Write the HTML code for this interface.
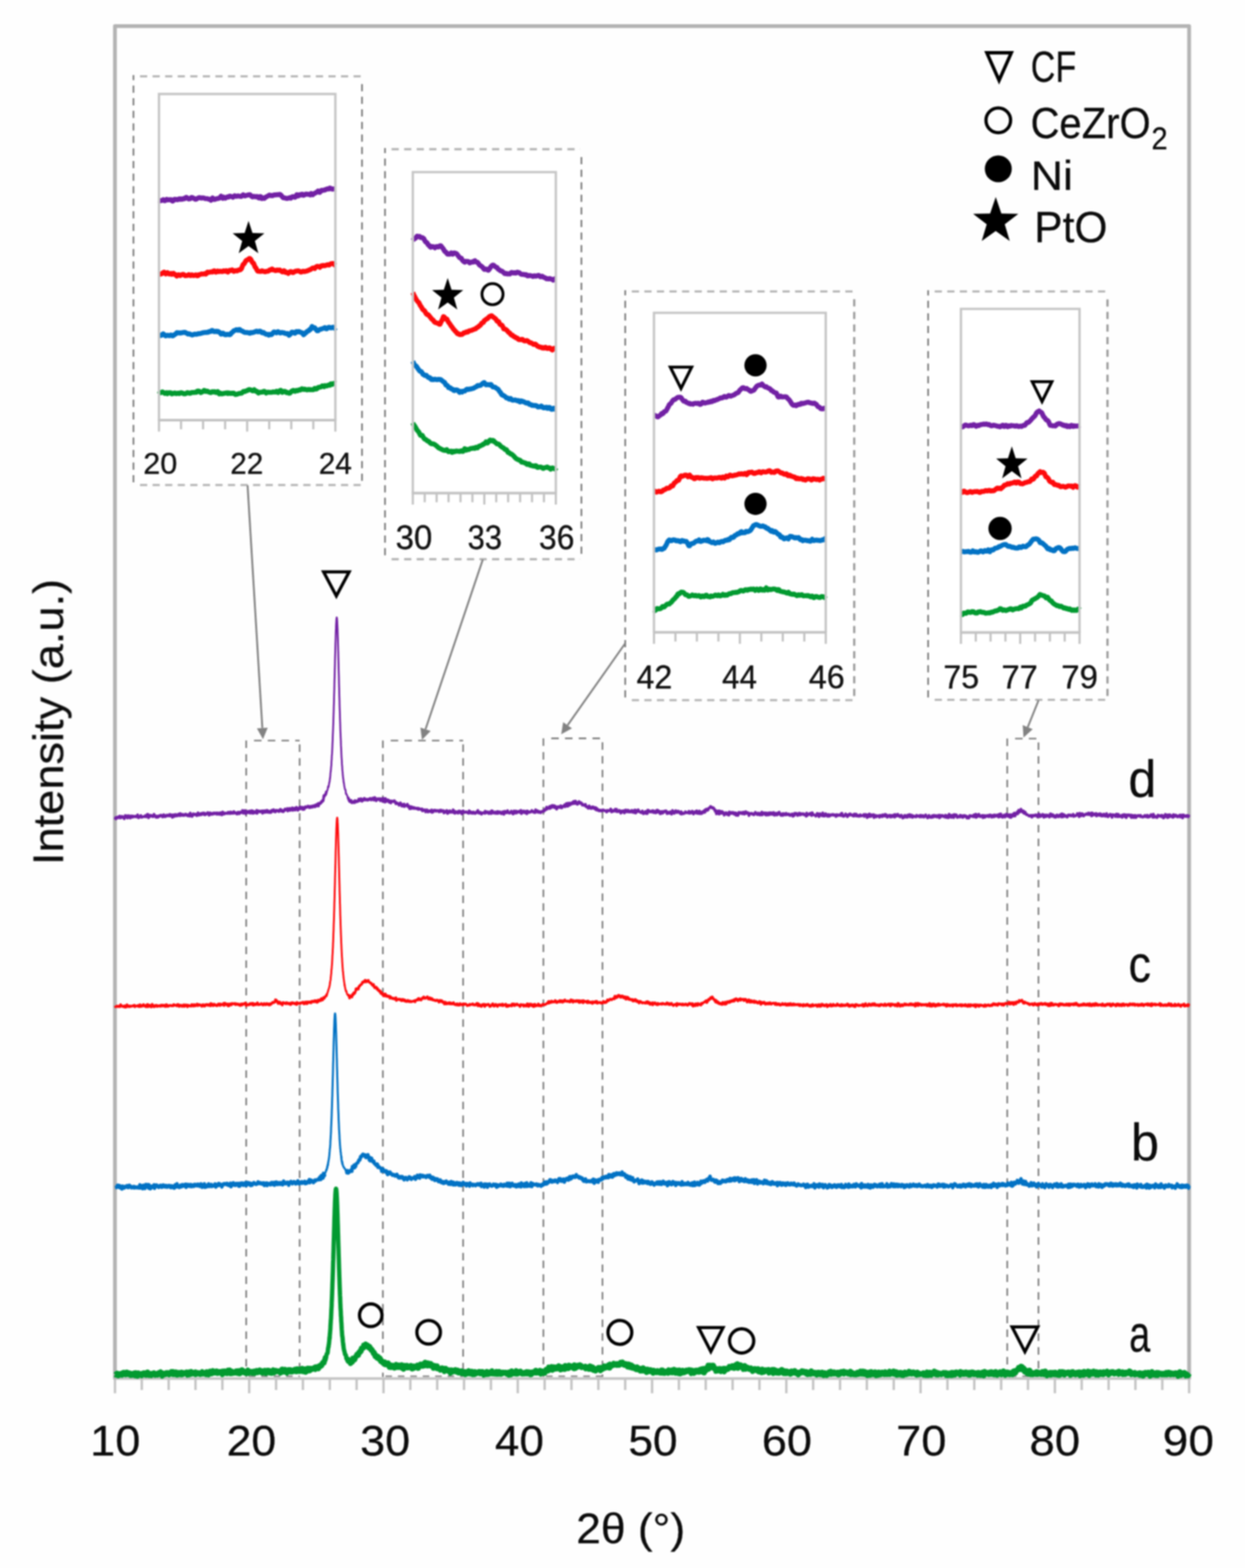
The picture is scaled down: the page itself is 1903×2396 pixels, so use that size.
<!DOCTYPE html>
<html lang="en">
<head>
<meta charset="utf-8">
<title>XRD patterns</title>
<style>
html,body{margin:0;padding:0;background:#fefefe;}
body{width:1903px;height:2396px;overflow:hidden;}
svg{display:block;}
#art{filter:blur(1.05px);}
text{white-space:pre;}
</style>
</head>
<body>
<svg width="1903" height="2396" viewBox="0 0 1903 2396">
<rect width="1903" height="2396" fill="#fefefe"/>
<g id="art">
<g id="boxes">
<line x1="376.3" y1="1131.6" x2="376.3" y2="2104" stroke="#787878" stroke-width="2.4" stroke-dasharray="11.5 9.5"/>
<line x1="458" y1="1137.6" x2="458" y2="2104" stroke="#787878" stroke-width="2.4" stroke-dasharray="11.5 9.5"/>
<line x1="388.3" y1="1131.6" x2="458" y2="1131.6" stroke="#787878" stroke-width="2.4" stroke-dasharray="11.5 9.5"/>
<line x1="380.3" y1="2103" x2="458" y2="2103" stroke="#8e8e8e" stroke-width="2.4" stroke-dasharray="10 9"/>
<line x1="585.2" y1="1131.6" x2="585.2" y2="2104" stroke="#787878" stroke-width="2.4" stroke-dasharray="11.5 9.5"/>
<line x1="707.9" y1="1137.6" x2="707.9" y2="2104" stroke="#787878" stroke-width="2.4" stroke-dasharray="11.5 9.5"/>
<line x1="597.2" y1="1131.6" x2="707.9" y2="1131.6" stroke="#787878" stroke-width="2.4" stroke-dasharray="11.5 9.5"/>
<line x1="589.2" y1="2103" x2="707.9" y2="2103" stroke="#8e8e8e" stroke-width="2.4" stroke-dasharray="10 9"/>
<line x1="830.6" y1="1128.2" x2="830.6" y2="2104" stroke="#787878" stroke-width="2.4" stroke-dasharray="11.5 9.5"/>
<line x1="920.9" y1="1134.2" x2="920.9" y2="2104" stroke="#787878" stroke-width="2.4" stroke-dasharray="11.5 9.5"/>
<line x1="842.6" y1="1128.2" x2="920.9" y2="1128.2" stroke="#787878" stroke-width="2.4" stroke-dasharray="11.5 9.5"/>
<line x1="834.6" y1="2103" x2="920.9" y2="2103" stroke="#8e8e8e" stroke-width="2.4" stroke-dasharray="10 9"/>
<line x1="1539.6" y1="1128.6" x2="1539.6" y2="2104" stroke="#787878" stroke-width="2.4" stroke-dasharray="11.5 9.5"/>
<line x1="1587.3" y1="1134.6" x2="1587.3" y2="2104" stroke="#787878" stroke-width="2.4" stroke-dasharray="11.5 9.5"/>
<line x1="1551.6" y1="1128.6" x2="1587.3" y2="1128.6" stroke="#787878" stroke-width="2.4" stroke-dasharray="11.5 9.5"/>
<line x1="1543.6" y1="2103" x2="1587.3" y2="2103" stroke="#8e8e8e" stroke-width="2.4" stroke-dasharray="10 9"/>
</g>
<g id="axes">
<line x1="173.7" y1="2106.4" x2="1819.6" y2="2106.4" stroke="#c3c3c3" stroke-width="4"/>
<line x1="175.7" y1="2106.4" x2="175.7" y2="2129" stroke="#c3c3c3" stroke-width="3.6"/>
<line x1="216.7" y1="2106.4" x2="216.7" y2="2124" stroke="#c3c3c3" stroke-width="3.6"/>
<line x1="257.8" y1="2106.4" x2="257.8" y2="2124" stroke="#c3c3c3" stroke-width="3.6"/>
<line x1="298.8" y1="2106.4" x2="298.8" y2="2124" stroke="#c3c3c3" stroke-width="3.6"/>
<line x1="339.9" y1="2106.4" x2="339.9" y2="2124" stroke="#c3c3c3" stroke-width="3.6"/>
<line x1="380.9" y1="2106.4" x2="380.9" y2="2129" stroke="#c3c3c3" stroke-width="3.6"/>
<line x1="422.0" y1="2106.4" x2="422.0" y2="2124" stroke="#c3c3c3" stroke-width="3.6"/>
<line x1="463.0" y1="2106.4" x2="463.0" y2="2124" stroke="#c3c3c3" stroke-width="3.6"/>
<line x1="504.1" y1="2106.4" x2="504.1" y2="2124" stroke="#c3c3c3" stroke-width="3.6"/>
<line x1="545.1" y1="2106.4" x2="545.1" y2="2124" stroke="#c3c3c3" stroke-width="3.6"/>
<line x1="586.2" y1="2106.4" x2="586.2" y2="2129" stroke="#c3c3c3" stroke-width="3.6"/>
<line x1="627.2" y1="2106.4" x2="627.2" y2="2124" stroke="#c3c3c3" stroke-width="3.6"/>
<line x1="668.3" y1="2106.4" x2="668.3" y2="2124" stroke="#c3c3c3" stroke-width="3.6"/>
<line x1="709.3" y1="2106.4" x2="709.3" y2="2124" stroke="#c3c3c3" stroke-width="3.6"/>
<line x1="750.4" y1="2106.4" x2="750.4" y2="2124" stroke="#c3c3c3" stroke-width="3.6"/>
<line x1="791.4" y1="2106.4" x2="791.4" y2="2129" stroke="#c3c3c3" stroke-width="3.6"/>
<line x1="832.5" y1="2106.4" x2="832.5" y2="2124" stroke="#c3c3c3" stroke-width="3.6"/>
<line x1="873.5" y1="2106.4" x2="873.5" y2="2124" stroke="#c3c3c3" stroke-width="3.6"/>
<line x1="914.6" y1="2106.4" x2="914.6" y2="2124" stroke="#c3c3c3" stroke-width="3.6"/>
<line x1="955.6" y1="2106.4" x2="955.6" y2="2124" stroke="#c3c3c3" stroke-width="3.6"/>
<line x1="996.7" y1="2106.4" x2="996.7" y2="2129" stroke="#c3c3c3" stroke-width="3.6"/>
<line x1="1037.7" y1="2106.4" x2="1037.7" y2="2124" stroke="#c3c3c3" stroke-width="3.6"/>
<line x1="1078.7" y1="2106.4" x2="1078.7" y2="2124" stroke="#c3c3c3" stroke-width="3.6"/>
<line x1="1119.8" y1="2106.4" x2="1119.8" y2="2124" stroke="#c3c3c3" stroke-width="3.6"/>
<line x1="1160.8" y1="2106.4" x2="1160.8" y2="2124" stroke="#c3c3c3" stroke-width="3.6"/>
<line x1="1201.9" y1="2106.4" x2="1201.9" y2="2129" stroke="#c3c3c3" stroke-width="3.6"/>
<line x1="1242.9" y1="2106.4" x2="1242.9" y2="2124" stroke="#c3c3c3" stroke-width="3.6"/>
<line x1="1284.0" y1="2106.4" x2="1284.0" y2="2124" stroke="#c3c3c3" stroke-width="3.6"/>
<line x1="1325.0" y1="2106.4" x2="1325.0" y2="2124" stroke="#c3c3c3" stroke-width="3.6"/>
<line x1="1366.1" y1="2106.4" x2="1366.1" y2="2124" stroke="#c3c3c3" stroke-width="3.6"/>
<line x1="1407.1" y1="2106.4" x2="1407.1" y2="2129" stroke="#c3c3c3" stroke-width="3.6"/>
<line x1="1448.2" y1="2106.4" x2="1448.2" y2="2124" stroke="#c3c3c3" stroke-width="3.6"/>
<line x1="1489.2" y1="2106.4" x2="1489.2" y2="2124" stroke="#c3c3c3" stroke-width="3.6"/>
<line x1="1530.3" y1="2106.4" x2="1530.3" y2="2124" stroke="#c3c3c3" stroke-width="3.6"/>
<line x1="1571.3" y1="2106.4" x2="1571.3" y2="2124" stroke="#c3c3c3" stroke-width="3.6"/>
<line x1="1612.4" y1="2106.4" x2="1612.4" y2="2129" stroke="#c3c3c3" stroke-width="3.6"/>
<line x1="1653.4" y1="2106.4" x2="1653.4" y2="2124" stroke="#c3c3c3" stroke-width="3.6"/>
<line x1="1694.5" y1="2106.4" x2="1694.5" y2="2124" stroke="#c3c3c3" stroke-width="3.6"/>
<line x1="1735.5" y1="2106.4" x2="1735.5" y2="2124" stroke="#c3c3c3" stroke-width="3.6"/>
<line x1="1776.6" y1="2106.4" x2="1776.6" y2="2124" stroke="#c3c3c3" stroke-width="3.6"/>
<line x1="1817.6" y1="2106.4" x2="1817.6" y2="2129" stroke="#c3c3c3" stroke-width="3.6"/>
<path d="M175.7,2107.4 V39.9 H1817.6 V2107.4" fill="none" stroke="#b3b3b3" stroke-width="5.8" stroke-linejoin="round"/>
</g>
<g id="curves">
<path d="M176,2100.3 176.7,2100.7 177.4,2099.9 178.1,2099 178.8,2099.6 179.5,2098.9 180.2,2100.3 180.9,2102.1 181.6,2099.6 182.3,2099.4 183,2100.9 183.7,2100.7 184.4,2100.4 185.1,2098.9 185.8,2100.2 186.5,2101.2 187.2,2098.3 187.9,2099.5 188.6,2097.5 189.3,2098.4 190,2097.6 190.7,2099.8 191.4,2098.4 192.1,2100.5 192.8,2100.3 193.5,2099.9 194.2,2096.9 194.9,2099.3 195.6,2100 196.3,2100.2 197,2097.9 197.7,2099.4 198.4,2098.7 199.1,2098.9 199.8,2101.5 200.5,2098.9 201.2,2100 201.9,2101.3 202.6,2099.2 203.3,2099.8 204,2100.1 204.7,2100.1 205.4,2098.3 206.1,2100.1 206.8,2101.9 207.5,2097.8 208.2,2101.1 208.9,2100.1 209.6,2099 210.3,2102.7 211,2101 211.7,2098.2 212.4,2100 213.1,2100.7 213.8,2099.6 214.5,2100.8 215.2,2099.8 215.9,2100.8 216.6,2101.8 217.3,2098.9 218,2100.1 218.7,2099.2 219.4,2100 220.1,2098.1 220.8,2099 221.5,2099.5 222.2,2101 222.9,2101.3 223.6,2097.9 224.3,2098.6 225,2100.6 225.7,2096.9 226.4,2099 227.1,2099.5 227.8,2101.4 228.5,2100.6 229.2,2099.2 229.9,2099.1 230.6,2099.3 231.3,2101.7 232,2099 232.7,2099.2 233.4,2100.1 234.1,2099.4 234.8,2099.3 235.5,2098 236.2,2099.5 236.9,2098.9 237.6,2101.2 238.3,2100.4 239,2099.5 239.7,2100.4 240.4,2099 241.1,2100.9 241.8,2099.4 242.5,2100.3 243.2,2097.6 243.9,2099.9 244.6,2097 245.3,2096.5 246,2099 246.7,2098.1 247.4,2099.6 248.1,2102.5 248.8,2098.2 249.5,2098.5 250.2,2099.6 250.9,2100 251.6,2099 252.3,2099 253,2100.3 253.7,2100 254.4,2097.8 255.1,2099.1 255.8,2099.3 256.5,2097.7 257.2,2099.6 257.9,2098 258.6,2100.5 259.3,2099.4 260,2099.3 260.7,2098.3 261.4,2099 262.1,2096.3 262.8,2097.5 263.5,2099.6 264.2,2096.1 264.9,2100.2 265.6,2096.6 266.3,2100.1 267,2097.8 267.7,2100.1 268.4,2099.2 269.1,2096.8 269.8,2100.7 270.5,2101 271.2,2098.9 271.9,2098.6 272.6,2098.7 273.3,2097.5 274,2100.4 274.7,2098.1 275.4,2098.8 276.1,2097.7 276.8,2098 277.5,2097 278.2,2100.6 278.9,2098.6 279.6,2100.1 280.3,2098.8 281,2097.8 281.7,2098.3 282.4,2098 283.1,2098.7 283.8,2098.2 284.5,2098.3 285.2,2096.8 285.9,2097.5 286.6,2101 287.3,2097.7 288,2097.2 288.7,2099.1 289.4,2100.6 290.1,2096.6 290.8,2098.3 291.5,2097.7 292.2,2096.1 292.9,2099.6 293.6,2098.5 294.3,2098.6 295,2097.4 295.7,2099.1 296.4,2097.7 297.1,2098.3 297.8,2096.9 298.5,2096.7 299.2,2100.3 299.9,2097.7 300.6,2098.8 301.3,2098.3 302,2097.7 302.7,2097.6 303.4,2099.2 304.1,2097.9 304.8,2098.1 305.5,2098.3 306.2,2099.9 306.9,2099.2 307.6,2098.8 308.3,2097.4 309,2096.3 309.7,2099.5 310.4,2099.5 311.1,2098 311.8,2098.9 312.5,2099.2 313.2,2099.3 313.9,2099.4 314.6,2097.4 315.3,2100.2 316,2096.3 316.7,2099.2 317.4,2098.7 318.1,2099.2 318.8,2100.6 319.5,2100 320.2,2096.3 320.9,2095.5 321.6,2099 322.3,2096.4 323,2097.8 323.7,2099 324.4,2095.5 325.1,2094.8 325.8,2098.1 326.5,2097.8 327.2,2097.4 327.9,2097.7 328.6,2096.5 329.3,2095.5 330,2097.4 330.7,2096.2 331.4,2095.3 332.1,2098.3 332.8,2097.5 333.5,2098.1 334.2,2096.1 334.9,2096.6 335.6,2096.1 336.3,2096.2 337,2097.7 337.7,2096.3 338.4,2097.9 339.1,2097.8 339.8,2100.2 340.5,2095.4 341.2,2098.5 341.9,2097.1 342.6,2097.2 343.3,2095.2 344,2096.6 344.7,2098.2 345.4,2097 346.1,2097.3 346.8,2096.7 347.5,2098.7 348.2,2097.1 348.9,2094 349.6,2096.1 350.3,2094.3 351,2093.8 351.7,2096.2 352.4,2098.8 353.1,2097 353.8,2095.3 354.5,2095.6 355.2,2098.5 355.9,2097.1 356.6,2096.9 357.3,2096.8 358,2096.9 358.7,2097.9 359.4,2097.5 360.1,2097.1 360.8,2095.3 361.5,2097.4 362.2,2095.7 362.9,2098.2 363.6,2094.9 364.3,2096.5 365,2096.6 365.7,2094.8 366.4,2099 367.1,2098.6 367.8,2095.9 368.5,2097.6 369.2,2097.1 369.9,2093.3 370.6,2096.9 371.3,2096.4 372,2096.6 372.7,2095 373.4,2096.1 374.1,2096.2 374.8,2098.1 375.5,2096.9 376.2,2096.4 376.9,2098.5 377.6,2095.6 378.3,2095.8 379,2093.8 379.7,2098.5 380.4,2097.7 381.1,2097.6 381.8,2097.2 382.5,2096.4 383.2,2096.6 383.9,2095.9 384.6,2096 385.3,2096.3 386,2098.3 386.7,2097 387.4,2096.1 388.1,2095.4 388.8,2095.3 389.5,2098.4 390.2,2096.8 390.9,2096.2 391.6,2095.6 392.3,2094.5 393,2096 393.7,2097.3 394.4,2095.5 395.1,2095.7 395.8,2095.7 396.5,2096.2 397.2,2093.8 397.9,2095.6 398.6,2094.8 399.3,2097.2 400,2094.8 400.7,2096.7 401.4,2098 402.1,2095.4 402.8,2095 403.5,2096.1 404.2,2095.8 404.9,2094.4 405.6,2096.4 406.3,2098.6 407,2095.4 407.7,2095.5 408.4,2094.3 409.1,2096.2 409.8,2094 410.5,2094.1 411.2,2097.5 411.9,2094.4 412.6,2097.2 413.3,2097.8 414,2096 414.7,2096.4 415.4,2098.3 416.1,2095.3 416.8,2094.7 417.5,2093.6 418.2,2095.6 418.9,2097.6 419.6,2096.8 420.3,2094.1 421,2094.3 421.7,2094.7 422.4,2095.8 423.1,2095.1 423.8,2095.7 424.5,2095.8 425.2,2094.9 425.9,2095.3 426.6,2095.6 427.3,2095.2 428,2096 428.7,2097.9 429.4,2096.1 430.1,2095.3 430.8,2092.8 431.5,2095.7 432.2,2092.4 432.9,2093.2 433.6,2096.3 434.3,2096.1 435,2094.9 435.7,2092.7 436.4,2094.5 437.1,2094.1 437.8,2095.9 438.5,2098.1 439.2,2095.2 439.9,2093.8 440.6,2093.3 441.3,2094.8 442,2094.6 442.7,2093.2 443.4,2095 444.1,2093.2 444.8,2096.3 445.5,2096.2 446.2,2096.2 446.9,2094 447.6,2095.4 448.3,2094.4 449,2094 449.7,2094.1 450.4,2092.7 451.1,2092.5 451.8,2095.6 452.5,2094.1 453.2,2094.7 453.9,2095.7 454.6,2091.9 455.3,2093.2 456,2094.5 456.7,2094.7 457.4,2093.6 458.1,2095.5 458.8,2094.3 459.5,2092.3 460.2,2092.7 460.9,2095 461.6,2094.5 462.3,2091.2 463,2095.7 463.7,2094.6 464.4,2095.6 465.1,2093.1 465.8,2093.2 466.5,2092 467.2,2096.7 467.9,2093.2 468.6,2095.6 469.3,2092.4 470,2093.5 470.7,2090.9 471.4,2092.6 472.1,2094.4 472.8,2091.2 473.5,2094.4 474.2,2093.3 474.9,2091.2 475.6,2091.9 476.3,2091.8 477,2092.3 477.7,2091.5 478.4,2090.9 479.1,2091.5 479.8,2090.3 480.5,2089.8 481.2,2091.3 481.9,2092.4 482.6,2088.8 483.3,2090.7 484,2089.5 484.7,2088.8 485.4,2091 486.1,2088.8 486.8,2091.2 487.5,2087.7 488.2,2088.9 488.9,2087.5 489.6,2086.3 490.3,2087.6 491,2086 491.7,2086.4 492.4,2084.7 493.1,2082.5 493.8,2083 494.5,2082.2 495.2,2082.4 495.9,2078.7 496.6,2078.5 497.3,2074.8 498,2076.3 498.7,2072.1 499.4,2068.9 500.1,2068.6 500.8,2067.1 501.5,2060.1 501.6,2060.1 501.9,2059 502.1,2057 502.2,2058.1 502.4,2055.6 502.6,2053.9 502.9,2053.4 502.9,2051.5 503.1,2051.1 503.4,2047.3 503.6,2044.6 503.6,2044 503.9,2045.3 504.1,2040.2 504.3,2038.5 504.4,2037.6 504.6,2034.6 504.9,2031.1 505,2030.7 505.1,2026.5 505.4,2022.2 505.6,2018.6 505.7,2016.6 505.9,2015.7 506.1,2011.2 506.4,2004.9 506.4,2003.5 506.6,2000.2 506.9,1996 507.1,1987.6 507.1,1989.6 507.4,1982.5 507.6,1977.4 507.8,1970.9 507.9,1970 508.1,1962.4 508.4,1955.5 508.5,1952.2 508.6,1948.9 508.9,1940.5 509.1,1932.4 509.2,1928.7 509.4,1924.4 509.6,1916.1 509.9,1907.6 509.9,1905.9 510.1,1898.7 510.4,1890.3 510.6,1881.8 510.6,1882.1 510.9,1873.7 511.1,1865 511.3,1858.4 511.4,1857 511.6,1849.3 511.9,1842.3 512,1838.4 512.1,1835.8 512.4,1830.4 512.6,1825.5 512.7,1823.9 512.9,1821.6 513.1,1818.7 513.4,1817 513.4,1816.8 513.6,1816.4 513.9,1817.1 514.1,1818.8 514.1,1818.6 514.4,1821.6 514.6,1825.3 514.8,1829.1 514.9,1830.2 515.1,1835.6 515.4,1842.3 515.5,1846.5 515.6,1849.3 515.9,1856.8 516.1,1864.8 516.2,1867.9 516.4,1873.1 516.6,1881.5 516.9,1890.2 516.9,1891.6 517.1,1898.9 517.4,1907.5 517.6,1915.9 517.6,1915.8 517.9,1924.5 518.1,1931.8 518.3,1939.1 518.4,1940.6 518.6,1948.4 518.9,1955.9 519,1959.7 519.1,1962.8 519.4,1970.3 519.6,1976.8 519.7,1979.2 519.9,1981.9 520.1,1989.3 520.4,1995.5 520.4,1996.5 520.6,2000.3 520.9,2004 521.1,2010.9 521.1,2010 521.4,2012.8 521.6,2019.4 521.8,2021 521.9,2022 522.1,2026.4 522.4,2031.8 522.5,2032.3 522.6,2034.2 522.9,2038.9 523.1,2041.7 523.2,2041.1 523.4,2042.6 523.6,2044.1 523.9,2047.1 523.9,2048.8 524.1,2050.5 524.4,2052.3 524.6,2055.3 524.6,2053.3 524.9,2055.9 525.1,2058.6 525.3,2059.7 525.4,2060.6 526,2063.5 526.7,2065.9 527.4,2069.5 528.1,2070.1 528.8,2071.2 529.5,2076 530.2,2076.6 530.9,2078.5 531.6,2076.9 532.3,2079.8 533,2080.3 533.7,2080.5 534.4,2078.9 535.1,2081.7 535.8,2083.3 536.5,2082.2 537.2,2080.4 537.9,2080.5 538.6,2080.9 539.3,2075.7 540,2077.9 540.7,2077.8 541.4,2077 542.1,2077.4 542.8,2075.6 543.5,2073.4 544.2,2072.4 544.9,2072.2 545.6,2069.6 546.3,2069.5 547,2070.1 547.7,2070.8 548.4,2066.9 549.1,2066.2 549.8,2065.6 550.5,2066.3 551.2,2063.4 551.9,2064.6 552.6,2060.3 553.3,2060.5 554,2059.6 554.7,2060.2 555.4,2059.8 556.1,2055.6 556.8,2055.9 557.5,2057.1 558.2,2055.4 558.9,2053.9 559.6,2057.4 560.3,2056.6 561,2056.7 561.7,2055.7 562.4,2058.2 563.1,2057 563.8,2059.5 564.5,2057.4 565.2,2058.2 565.9,2060.6 566.6,2060.2 567.3,2063 568,2063.4 568.7,2062.6 569.4,2065 570.1,2065.2 570.8,2067.9 571.5,2066.5 572.2,2067.5 572.9,2070.5 573.6,2072.7 574.3,2073.2 575,2071.2 575.7,2072.3 576.4,2074.9 577.1,2073.4 577.8,2073 578.5,2075.4 579.2,2076.6 579.9,2075.6 580.6,2075.2 581.3,2076.3 582,2079.9 582.7,2078.6 583.4,2080.1 584.1,2081.1 584.8,2082.2 585.5,2081.3 586.2,2082.9 586.9,2081.3 587.6,2082.4 588.3,2081.7 589,2085.1 589.7,2083.7 590.4,2083 591.1,2083.8 591.8,2084.3 592.5,2085.8 593.2,2082.8 593.9,2083.9 594.6,2085 595.3,2089 596,2087.3 596.7,2086 597.4,2087.4 598.1,2089.4 598.8,2086.4 599.5,2086.4 600.2,2088.7 600.9,2087.9 601.6,2088.3 602.3,2086.8 603,2090.3 603.7,2090.1 604.4,2088.6 605.1,2088.9 605.8,2085.2 606.5,2089 607.2,2087.9 607.9,2088.9 608.6,2089.3 609.3,2088 610,2086.2 610.7,2089.1 611.4,2087.7 612.1,2088.3 612.8,2088 613.5,2088.5 614.2,2085.8 614.9,2090.8 615.6,2089.5 616.3,2090.7 617,2092 617.7,2089.3 618.4,2086.8 619.1,2088.1 619.8,2087.7 620.5,2088.7 621.2,2089.5 621.9,2086.6 622.6,2089.9 623.3,2087.3 624,2089.8 624.7,2089.2 625.4,2088.9 626.1,2089.1 626.8,2088.4 627.5,2088.3 628.2,2086.7 628.9,2088.9 629.6,2091.5 630.3,2091.6 631,2090.6 631.7,2089.6 632.4,2087.6 633.1,2090.5 633.8,2088.3 634.5,2088.2 635.2,2087.7 635.9,2088.2 636.6,2087.3 637.3,2087.7 638,2086.2 638.7,2087.1 639.4,2090.6 640.1,2087.1 640.8,2086.7 641.5,2087.5 642.2,2087.5 642.9,2084.8 643.6,2085.8 644.3,2087.2 645,2086 645.7,2085.6 646.4,2087.4 647.1,2084.1 647.8,2085 648.5,2084.1 649.2,2086.8 649.9,2081.9 650.6,2083.7 651.3,2083.9 652,2085.6 652.7,2085.6 653.4,2086.9 654.1,2082.9 654.8,2086.3 655.5,2085.1 656.2,2084.9 656.9,2086.8 657.6,2085.1 658.3,2083.7 659,2086.4 659.7,2085.1 660.4,2086.6 661.1,2088.4 661.8,2088.6 662.5,2090.6 663.2,2088.4 663.9,2086.7 664.6,2088 665.3,2088 666,2087.8 666.7,2090.3 667.4,2089.1 668.1,2087.4 668.8,2091.4 669.5,2090.5 670.2,2091.3 670.9,2091.2 671.6,2092.1 672.3,2091.5 673,2093.4 673.7,2092.5 674.4,2092.6 675.1,2092.8 675.8,2090.4 676.5,2092.4 677.2,2092.4 677.9,2093.3 678.6,2091.2 679.3,2095.6 680,2093.5 680.7,2091.8 681.4,2091.3 682.1,2093.4 682.8,2093.8 683.5,2093 684.2,2094.3 684.9,2093.4 685.6,2095.2 686.3,2093.5 687,2094.6 687.7,2096.2 688.4,2098.1 689.1,2093.6 689.8,2094.5 690.5,2094.1 691.2,2096.5 691.9,2093.9 692.6,2094.9 693.3,2095.6 694,2094.4 694.7,2094.5 695.4,2095.3 696.1,2093.1 696.8,2094.1 697.5,2095.7 698.2,2096.5 698.9,2096.1 699.6,2094 700.3,2095.9 701,2097.7 701.7,2097.4 702.4,2096.6 703.1,2095.5 703.8,2097.7 704.5,2096 705.2,2095.2 705.9,2095.8 706.6,2098.9 707.3,2097.3 708,2098.6 708.7,2096.3 709.4,2098.3 710.1,2096.2 710.8,2096.8 711.5,2100.3 712.2,2098.2 712.9,2096.4 713.6,2097 714.3,2097.6 715,2098.9 715.7,2096.5 716.4,2094.8 717.1,2096.9 717.8,2097.3 718.5,2097.4 719.2,2099.2 719.9,2097.8 720.6,2098.5 721.3,2095.8 722,2098.6 722.7,2100.3 723.4,2098.5 724.1,2097.8 724.8,2097.7 725.5,2100 726.2,2096.2 726.9,2097.4 727.6,2098.2 728.3,2098.6 729,2096.9 729.7,2098 730.4,2097.2 731.1,2097.8 731.8,2097.4 732.5,2096 733.2,2097.6 733.9,2098.9 734.6,2096.3 735.3,2097.3 736,2098.6 736.7,2096.2 737.4,2098 738.1,2096.2 738.8,2099.3 739.5,2101 740.2,2100.6 740.9,2097.5 741.6,2098.8 742.3,2097.9 743,2097.9 743.7,2100 744.4,2096 745.1,2099.3 745.8,2097.8 746.5,2099.8 747.2,2098.1 747.9,2096.9 748.6,2098.2 749.3,2098.9 750,2097.9 750.7,2098.5 751.4,2097.1 752.1,2094.9 752.8,2099.1 753.5,2098.9 754.2,2098.1 754.9,2098 755.6,2099.3 756.3,2097.3 757,2096.9 757.7,2097.6 758.4,2099.6 759.1,2096 759.8,2099.6 760.5,2097 761.2,2096.4 761.9,2099.7 762.6,2097.8 763.3,2096.1 764,2097.4 764.7,2099.2 765.4,2099.6 766.1,2097.3 766.8,2098.5 767.5,2098.9 768.2,2097 768.9,2098.4 769.6,2097.9 770.3,2097.1 771,2097.2 771.7,2098 772.4,2097.9 773.1,2097.1 773.8,2097.3 774.5,2099.5 775.2,2098.2 775.9,2099.1 776.6,2099.6 777.3,2098.7 778,2101.1 778.7,2096.7 779.4,2099 780.1,2097.4 780.8,2100.5 781.5,2100.3 782.2,2095.1 782.9,2096.5 783.6,2098.8 784.3,2099 785,2098.9 785.7,2097.8 786.4,2098.5 787.1,2098.8 787.8,2097.7 788.5,2099.3 789.2,2094.7 789.9,2098.7 790.6,2096.4 791.3,2099.2 792,2097.5 792.7,2096.6 793.4,2098.3 794.1,2096.5 794.8,2096.5 795.5,2095.6 796.2,2097.7 796.9,2098.5 797.6,2099.2 798.3,2097.6 799,2099.2 799.7,2097.8 800.4,2097.6 801.1,2098.5 801.8,2099.2 802.5,2097.2 803.2,2097.4 803.9,2097.5 804.6,2097.8 805.3,2096.4 806,2099.1 806.7,2097.1 807.4,2098.3 808.1,2096.5 808.8,2098.1 809.5,2098.2 810.2,2097 810.9,2100.4 811.6,2098.1 812.3,2100.1 813,2098.9 813.7,2096.6 814.4,2097 815.1,2098.1 815.8,2097.6 816.5,2097.6 817.2,2097.1 817.9,2094.9 818.6,2097.1 819.3,2094.3 820,2097.9 820.7,2096.4 821.4,2096.4 822.1,2097.1 822.8,2097.7 823.5,2095.3 824.2,2094.9 824.9,2095.8 825.6,2094.4 826.3,2095.9 827,2099.5 827.7,2095.8 828.4,2098.1 829.1,2095.3 829.8,2097.5 830.5,2096.4 831.2,2096.4 831.9,2096.9 832.6,2098.1 833.3,2095.4 834,2094.8 834.7,2092.8 835.4,2094.5 836.1,2093 836.8,2094.2 837.5,2092.6 838.2,2094.7 838.9,2089.2 839.6,2091.2 840.3,2092.5 841,2090.5 841.7,2089.6 842.4,2090.2 843.1,2088.5 843.8,2090.6 844.5,2093.6 845.2,2092 845.9,2088.8 846.6,2089.2 847.3,2089.8 848,2091.8 848.7,2089.2 849.4,2089.4 850.1,2091.6 850.8,2091.6 851.5,2089.9 852.2,2088.8 852.9,2088.2 853.6,2089.4 854.3,2087.3 855,2091.5 855.7,2089.5 856.4,2091.1 857.1,2093 857.8,2092 858.5,2088.8 859.2,2091.6 859.9,2092 860.6,2089.3 861.3,2089 862,2090.2 862.7,2088.1 863.4,2092.3 864.1,2086.9 864.8,2088.5 865.5,2089.6 866.2,2089.6 866.9,2090 867.6,2090.1 868.3,2089.3 869,2091 869.7,2086.3 870.4,2089.2 871.1,2088.1 871.8,2089.1 872.5,2089.1 873.2,2087.4 873.9,2087.6 874.6,2089.5 875.3,2088.8 876,2087.2 876.7,2090.9 877.4,2091.2 878.1,2085.8 878.8,2088.2 879.5,2090.9 880.2,2088.7 880.9,2087.8 881.6,2087.2 882.3,2086.7 883,2087.1 883.7,2086.6 884.4,2088.4 885.1,2086.9 885.8,2086.9 886.5,2085.9 887.2,2087.6 887.9,2086.5 888.6,2087.6 889.3,2089.5 890,2088.7 890.7,2089 891.4,2089 892.1,2088.8 892.8,2088.7 893.5,2088.6 894.2,2090.3 894.9,2087.9 895.6,2091.4 896.3,2089.8 897,2088.8 897.7,2089.3 898.4,2089.2 899.1,2090.5 899.8,2089.4 900.5,2092.1 901.2,2089.5 901.9,2087.5 902.6,2089.7 903.3,2088 904,2090.9 904.7,2092.5 905.4,2092 906.1,2089.3 906.8,2090.2 907.5,2093.8 908.2,2091.9 908.9,2091.5 909.6,2093 910.3,2094.8 911,2093.4 911.7,2091.8 912.4,2092.1 913.1,2092.4 913.8,2090.7 914.5,2090 915.2,2091.5 915.9,2090 916.6,2091.2 917.3,2091.3 918,2094.3 918.7,2089.7 919.4,2090.6 920.1,2090.4 920.8,2091.1 921.5,2091.8 922.2,2089.5 922.9,2088.9 923.6,2087.6 924.3,2088.4 925,2090.3 925.7,2089.4 926.4,2087.8 927.1,2088.5 927.8,2088.9 928.5,2089.4 929.2,2087.7 929.9,2088.1 930.6,2085.7 931.3,2086.5 932,2090.2 932.7,2084.7 933.4,2087.1 934.1,2087.7 934.8,2086.6 935.5,2085.8 936.2,2086.6 936.9,2086.5 937.6,2086.1 938.3,2083.4 939,2085.6 939.7,2084.4 940.4,2084.6 941.1,2085.5 941.8,2085.9 942.5,2086.1 943.2,2084 943.9,2085.8 944.6,2086 945.3,2085.8 946,2086.1 946.7,2083.8 947.4,2083.7 948.1,2085.1 948.8,2082 949.5,2084.2 950.2,2083.2 950.9,2083.5 951.6,2081.6 952.3,2082.9 953,2084.3 953.7,2085.7 954.4,2086 955.1,2084.7 955.8,2084.8 956.5,2084.1 957.2,2086 957.9,2085.3 958.6,2086.8 959.3,2088.6 960,2086.4 960.7,2084.6 961.4,2085.7 962.1,2085.1 962.8,2085.7 963.5,2089.4 964.2,2088.2 964.9,2085.9 965.6,2089.2 966.3,2090.3 967,2088.2 967.7,2088 968.4,2088.7 969.1,2089.8 969.8,2090.5 970.5,2091.6 971.2,2091.9 971.9,2092.1 972.6,2092.6 973.3,2091.9 974,2089 974.7,2091.2 975.4,2092.1 976.1,2091.4 976.8,2093.4 977.5,2091.8 978.2,2091.3 978.9,2094.8 979.6,2093.8 980.3,2093.4 981,2094.5 981.7,2094.8 982.4,2093.9 983.1,2090.3 983.8,2092.6 984.5,2093 985.2,2092.4 985.9,2094.1 986.6,2095.6 987.3,2093.3 988,2092.5 988.7,2097 989.4,2093.6 990.1,2092.5 990.8,2094.7 991.5,2095 992.2,2093.5 992.9,2095.6 993.6,2093.9 994.3,2093.4 995,2095 995.7,2095.9 996.4,2094 997.1,2095.4 997.8,2094.8 998.5,2098.2 999.2,2094.1 999.9,2097.1 1000.6,2095.1 1001.3,2095 1002,2096.3 1002.7,2096.6 1003.4,2097.1 1004.1,2095.9 1004.8,2094.6 1005.5,2094.7 1006.2,2096.2 1006.9,2096.4 1007.6,2097.5 1008.3,2096.2 1009,2097.1 1009.7,2097.8 1010.4,2095.9 1011.1,2093.7 1011.8,2094.1 1012.5,2093.8 1013.2,2098 1013.9,2094.6 1014.6,2097.6 1015.3,2096.7 1016,2098.3 1016.7,2097.3 1017.4,2095.7 1018.1,2095.6 1018.8,2096 1019.5,2096.1 1020.2,2095.2 1020.9,2095.9 1021.6,2098.2 1022.3,2093.5 1023,2096.3 1023.7,2094.6 1024.4,2096.2 1025.1,2097.1 1025.8,2095.8 1026.5,2097 1027.2,2093.7 1027.9,2097.5 1028.6,2095.1 1029.3,2096.8 1030,2096.2 1030.7,2092.7 1031.4,2094.8 1032.1,2096.2 1032.8,2098.1 1033.5,2096.3 1034.2,2096.3 1034.9,2093.9 1035.6,2097.9 1036.3,2098.4 1037,2095.9 1037.7,2095.6 1038.4,2093.6 1039.1,2097.1 1039.8,2099.1 1040.5,2096.9 1041.2,2097.7 1041.9,2096.7 1042.6,2094.5 1043.3,2097.8 1044,2094.2 1044.7,2095.6 1045.4,2096.3 1046.1,2097.1 1046.8,2096.5 1047.5,2096.4 1048.2,2094.8 1048.9,2094.1 1049.6,2096 1050.3,2094.9 1051,2094.1 1051.7,2094.1 1052.4,2095.2 1053.1,2093.3 1053.8,2094 1054.5,2093.6 1055.2,2096.2 1055.9,2096.5 1056.6,2098.7 1057.3,2093.8 1058,2094.9 1058.7,2097.2 1059.4,2095.6 1060.1,2095.4 1060.8,2098.3 1061.5,2095.4 1062.2,2094.3 1062.9,2094.1 1063.6,2096.4 1064.3,2096.3 1065,2093.9 1065.7,2094.4 1066.4,2096.5 1067.1,2096.5 1067.8,2094.8 1068.5,2096.5 1069.2,2096.3 1069.9,2092.9 1070.6,2094.9 1071.3,2095.8 1072,2094.3 1072.7,2092 1073.4,2094.5 1074.1,2095.8 1074.8,2096.8 1075.5,2091.4 1076.2,2097.6 1076.9,2092.5 1077.6,2095.1 1078.3,2095 1079,2094.1 1079.7,2092.4 1080.4,2089.9 1081.1,2091.7 1081.8,2089.2 1082.5,2086.4 1083.2,2092.2 1083.9,2089.5 1084.6,2090.6 1085.3,2086.4 1086,2089.5 1086.7,2089.6 1087.4,2089.7 1088.1,2087.8 1088.8,2086.6 1089.5,2088.6 1090.2,2086.5 1090.9,2087.8 1091.6,2091 1092.3,2090.1 1093,2091.7 1093.7,2092.2 1094.4,2095.2 1095.1,2094.5 1095.8,2092.7 1096.5,2094.6 1097.2,2091.9 1097.9,2092.7 1098.6,2094.5 1099.3,2091.6 1100,2093 1100.7,2091.5 1101.4,2093.6 1102.1,2095.7 1102.8,2092.3 1103.5,2093.6 1104.2,2091.9 1104.9,2091.5 1105.6,2091.2 1106.3,2094.9 1107,2095.9 1107.7,2093.2 1108.4,2091.3 1109.1,2093.1 1109.8,2091.5 1110.5,2092.9 1111.2,2092 1111.9,2091.8 1112.6,2092.1 1113.3,2090.3 1114,2090.3 1114.7,2088.3 1115.4,2089.9 1116.1,2088.4 1116.8,2089.9 1117.5,2088.6 1118.2,2089.8 1118.9,2090.1 1119.6,2087.2 1120.3,2087.8 1121,2087.4 1121.7,2089.5 1122.4,2090.7 1123.1,2089.3 1123.8,2087.4 1124.5,2089.8 1125.2,2085.5 1125.9,2089.6 1126.6,2086.5 1127.3,2084.2 1128,2090.6 1128.7,2089.6 1129.4,2086 1130.1,2087.8 1130.8,2087.4 1131.5,2087.9 1132.2,2085.8 1132.9,2087.1 1133.6,2088.9 1134.3,2088.8 1135,2090.3 1135.7,2089 1136.4,2092.3 1137.1,2088.3 1137.8,2089.8 1138.5,2087 1139.2,2088.2 1139.9,2092 1140.6,2089 1141.3,2091.3 1142,2090.6 1142.7,2089.5 1143.4,2090.6 1144.1,2090.5 1144.8,2090.7 1145.5,2092.5 1146.2,2092.5 1146.9,2090.9 1147.6,2090.6 1148.3,2092.3 1149,2091.9 1149.7,2093.6 1150.4,2095.5 1151.1,2093.6 1151.8,2092.4 1152.5,2092.3 1153.2,2091.5 1153.9,2091.5 1154.6,2091.5 1155.3,2092.4 1156,2092.5 1156.7,2094.2 1157.4,2092.7 1158.1,2093.1 1158.8,2091.7 1159.5,2095.8 1160.2,2094.3 1160.9,2096.2 1161.6,2094.9 1162.3,2095.9 1163,2093.6 1163.7,2095 1164.4,2097.3 1165.1,2092.4 1165.8,2095.8 1166.5,2096.6 1167.2,2094.9 1167.9,2095.5 1168.6,2096.2 1169.3,2093.6 1170,2095.2 1170.7,2093.4 1171.4,2093.7 1172.1,2093.8 1172.8,2094.6 1173.5,2095.1 1174.2,2095.5 1174.9,2092.9 1175.6,2097.8 1176.3,2096.7 1177,2096.1 1177.7,2094.6 1178.4,2095.1 1179.1,2096 1179.8,2095.9 1180.5,2092.9 1181.2,2096.4 1181.9,2098.6 1182.6,2092.8 1183.3,2096.9 1184,2096.1 1184.7,2095.4 1185.4,2097.6 1186.1,2094 1186.8,2096 1187.5,2097.9 1188.2,2095.5 1188.9,2095.2 1189.6,2096.1 1190.3,2095.3 1191,2098.2 1191.7,2094.7 1192.4,2097.3 1193.1,2094.3 1193.8,2097.1 1194.5,2096 1195.2,2093 1195.9,2096.2 1196.6,2094.7 1197.3,2095.7 1198,2098.5 1198.7,2094.8 1199.4,2094.9 1200.1,2098.5 1200.8,2096.6 1201.5,2098.7 1202.2,2097 1202.9,2095.3 1203.6,2096.5 1204.3,2098.4 1205,2098 1205.7,2096.7 1206.4,2096.8 1207.1,2096.6 1207.8,2096 1208.5,2099.6 1209.2,2096.9 1209.9,2095.3 1210.6,2096.2 1211.3,2098 1212,2097.9 1212.7,2096.8 1213.4,2096.1 1214.1,2097.1 1214.8,2094.7 1215.5,2095.3 1216.2,2098.3 1216.9,2096.5 1217.6,2097.8 1218.3,2099.1 1219,2098.3 1219.7,2097.4 1220.4,2100.5 1221.1,2098.4 1221.8,2097 1222.5,2098.6 1223.2,2098.1 1223.9,2096.4 1224.6,2097.7 1225.3,2097.4 1226,2094.9 1226.7,2097.5 1227.4,2097.4 1228.1,2097.2 1228.8,2095.5 1229.5,2097.3 1230.2,2097.8 1230.9,2098.1 1231.6,2096.3 1232.3,2098.9 1233,2096.3 1233.7,2097.7 1234.4,2100 1235.1,2097.1 1235.8,2097.4 1236.5,2099.7 1237.2,2097.6 1237.9,2097.8 1238.6,2098.6 1239.3,2099.8 1240,2095.1 1240.7,2097.1 1241.4,2096.9 1242.1,2096.8 1242.8,2097.2 1243.5,2097.2 1244.2,2098.9 1244.9,2097.2 1245.6,2098.6 1246.3,2099.1 1247,2097.5 1247.7,2098.7 1248.4,2100.9 1249.1,2099 1249.8,2097.6 1250.5,2098.5 1251.2,2097.3 1251.9,2099 1252.6,2099.8 1253.3,2097.4 1254,2098.3 1254.7,2100.2 1255.4,2097.9 1256.1,2098.9 1256.8,2097.1 1257.5,2097.4 1258.2,2097.9 1258.9,2101.6 1259.6,2098 1260.3,2097.9 1261,2097.8 1261.7,2098.4 1262.4,2099.5 1263.1,2098.9 1263.8,2101.5 1264.5,2098.9 1265.2,2100.6 1265.9,2099 1266.6,2099.4 1267.3,2096.6 1268,2098.4 1268.7,2098.5 1269.4,2098.3 1270.1,2095.6 1270.8,2099.8 1271.5,2098.1 1272.2,2098 1272.9,2098.2 1273.6,2098.3 1274.3,2099.2 1275,2096.8 1275.7,2097.3 1276.4,2099 1277.1,2098.8 1277.8,2098.1 1278.5,2097.8 1279.2,2097.4 1279.9,2098.5 1280.6,2100.3 1281.3,2097.1 1282,2100.7 1282.7,2099.8 1283.4,2098 1284.1,2099.7 1284.8,2096.5 1285.5,2096.2 1286.2,2096.8 1286.9,2098 1287.6,2098.1 1288.3,2097.9 1289,2098.7 1289.7,2095.6 1290.4,2099.3 1291.1,2096.6 1291.8,2097.7 1292.5,2098 1293.2,2097 1293.9,2096.7 1294.6,2097.2 1295.3,2098.6 1296,2099.4 1296.7,2099.4 1297.4,2097.2 1298.1,2097.5 1298.8,2097.3 1299.5,2099.2 1300.2,2095.7 1300.9,2100.3 1301.6,2097.9 1302.3,2097.5 1303,2099.1 1303.7,2100 1304.4,2099.1 1305.1,2100.1 1305.8,2098.8 1306.5,2100.3 1307.2,2100.3 1307.9,2098.5 1308.6,2100.6 1309.3,2098.8 1310,2098.7 1310.7,2097.3 1311.4,2098.2 1312.1,2099.7 1312.8,2096.8 1313.5,2099.5 1314.2,2099.1 1314.9,2099 1315.6,2095.5 1316.3,2098.5 1317,2099.5 1317.7,2097.5 1318.4,2098.7 1319.1,2095.4 1319.8,2099.5 1320.5,2097.7 1321.2,2099.8 1321.9,2096 1322.6,2099.6 1323.3,2098.3 1324,2099.7 1324.7,2097.3 1325.4,2097.7 1326.1,2101.7 1326.8,2097.4 1327.5,2097.6 1328.2,2098.2 1328.9,2097.2 1329.6,2100.3 1330.3,2101 1331,2097.6 1331.7,2096.2 1332.4,2100.2 1333.1,2100.2 1333.8,2099.8 1334.5,2100.2 1335.2,2097.4 1335.9,2098.4 1336.6,2096.7 1337.3,2096.6 1338,2100 1338.7,2097.7 1339.4,2101.8 1340.1,2098.7 1340.8,2097.7 1341.5,2099.7 1342.2,2101.1 1342.9,2099.3 1343.6,2096.9 1344.3,2099.1 1345,2100.5 1345.7,2097.9 1346.4,2097.5 1347.1,2100 1347.8,2098.8 1348.5,2097.1 1349.2,2098.1 1349.9,2097.5 1350.6,2099 1351.3,2098.8 1352,2100.2 1352.7,2099.6 1353.4,2096.4 1354.1,2099.2 1354.8,2099.9 1355.5,2099.2 1356.2,2100 1356.9,2097.8 1357.6,2097.3 1358.3,2099.9 1359,2097.1 1359.7,2095.6 1360.4,2100 1361.1,2097.6 1361.8,2098.2 1362.5,2096.6 1363.2,2096.7 1363.9,2097 1364.6,2098.1 1365.3,2099.1 1366,2095.4 1366.7,2099.7 1367.4,2096.9 1368.1,2097.1 1368.8,2099.5 1369.5,2098.5 1370.2,2096.4 1370.9,2101.2 1371.6,2097.4 1372.3,2098.9 1373,2098.9 1373.7,2100.6 1374.4,2098 1375.1,2100 1375.8,2097.6 1376.5,2100.2 1377.2,2097.5 1377.9,2098.1 1378.6,2101.3 1379.3,2099 1380,2098.8 1380.7,2101.7 1381.4,2099.1 1382.1,2097.5 1382.8,2099.6 1383.5,2096.9 1384.2,2100.2 1384.9,2100.3 1385.6,2097.8 1386.3,2097.7 1387,2098.8 1387.7,2098.6 1388.4,2097.2 1389.1,2099.4 1389.8,2095.7 1390.5,2098 1391.2,2098 1391.9,2098.2 1392.6,2099 1393.3,2096.9 1394,2099.4 1394.7,2098.3 1395.4,2097.7 1396.1,2096.7 1396.8,2096.9 1397.5,2099.1 1398.2,2097.3 1398.9,2098.7 1399.6,2100.1 1400.3,2100 1401,2100.8 1401.7,2098.2 1402.4,2097.1 1403.1,2100 1403.8,2099 1404.5,2100.2 1405.2,2098.6 1405.9,2100.3 1406.6,2099.8 1407.3,2099.6 1408,2099.3 1408.7,2099.2 1409.4,2098.9 1410.1,2098.9 1410.8,2100 1411.5,2097.9 1412.2,2101 1412.9,2098.5 1413.6,2100 1414.3,2098.5 1415,2098.3 1415.7,2101.5 1416.4,2098.2 1417.1,2096.8 1417.8,2097.6 1418.5,2098.2 1419.2,2101.6 1419.9,2098.9 1420.6,2099.9 1421.3,2097.2 1422,2099.1 1422.7,2099.6 1423.4,2101.2 1424.1,2097.7 1424.8,2099.5 1425.5,2099.1 1426.2,2097.2 1426.9,2098.6 1427.6,2098.3 1428.3,2095.4 1429,2099.5 1429.7,2099.4 1430.4,2098.1 1431.1,2096.8 1431.8,2100.7 1432.5,2099 1433.2,2100.1 1433.9,2100.7 1434.6,2098 1435.3,2099.8 1436,2098.4 1436.7,2098.6 1437.4,2098.6 1438.1,2098.7 1438.8,2100.3 1439.5,2098.9 1440.2,2098.5 1440.9,2098.3 1441.6,2099.2 1442.3,2097.5 1443,2098 1443.7,2098.6 1444.4,2097.9 1445.1,2098.6 1445.8,2097.9 1446.5,2101.5 1447.2,2100.6 1447.9,2099.4 1448.6,2098.7 1449.3,2101.8 1450,2099.2 1450.7,2098.6 1451.4,2099.2 1452.1,2099.2 1452.8,2100.7 1453.5,2098.7 1454.2,2101.7 1454.9,2097.5 1455.6,2099.7 1456.3,2097.4 1457,2101.3 1457.7,2098.3 1458.4,2098.7 1459.1,2100.1 1459.8,2100.6 1460.5,2097.2 1461.2,2098.3 1461.9,2096.8 1462.6,2099 1463.3,2098.7 1464,2098.3 1464.7,2097.9 1465.4,2098.3 1466.1,2097.8 1466.8,2099.6 1467.5,2100.9 1468.2,2096.1 1468.9,2098.7 1469.6,2098.2 1470.3,2099.5 1471,2097.5 1471.7,2098.6 1472.4,2097.4 1473.1,2099.8 1473.8,2099 1474.5,2098.6 1475.2,2099.4 1475.9,2098.5 1476.6,2096.7 1477.3,2099.7 1478,2099.3 1478.7,2098.6 1479.4,2100.2 1480.1,2100.6 1480.8,2097.3 1481.5,2097.8 1482.2,2101 1482.9,2100.9 1483.6,2097.8 1484.3,2097.2 1485,2098 1485.7,2098.2 1486.4,2096.7 1487.1,2098.9 1487.8,2097.1 1488.5,2097.2 1489.2,2100.2 1489.9,2097.9 1490.6,2098.8 1491.3,2099.8 1492,2100 1492.7,2098.4 1493.4,2099 1494.1,2097.7 1494.8,2101.3 1495.5,2099.8 1496.2,2097.4 1496.9,2098.9 1497.6,2099.9 1498.3,2099.6 1499,2101.5 1499.7,2100.8 1500.4,2098.1 1501.1,2098.8 1501.8,2097.1 1502.5,2099.2 1503.2,2099.1 1503.9,2102.1 1504.6,2099 1505.3,2096 1506,2097.9 1506.7,2099 1507.4,2097.1 1508.1,2097.7 1508.8,2098.4 1509.5,2099.3 1510.2,2098.6 1510.9,2097.6 1511.6,2100 1512.3,2098.1 1513,2098.1 1513.7,2096.9 1514.4,2097.7 1515.1,2099.7 1515.8,2096.5 1516.5,2098.7 1517.2,2099.8 1517.9,2098.3 1518.6,2099.1 1519.3,2097.2 1520,2100.6 1520.7,2100.3 1521.4,2099.1 1522.1,2096.3 1522.8,2097.2 1523.5,2100.1 1524.2,2101.1 1524.9,2099.1 1525.6,2100.4 1526.3,2097.8 1527,2098.3 1527.7,2098.6 1528.4,2099.2 1529.1,2096.4 1529.8,2099.9 1530.5,2100.4 1531.2,2096.9 1531.9,2096.6 1532.6,2098.9 1533.3,2097.5 1534,2095.2 1534.7,2099.5 1535.4,2098.6 1536.1,2097.7 1536.8,2101.3 1537.5,2098.5 1538.2,2097.2 1538.9,2098.4 1539.6,2096.7 1540.3,2097.1 1541,2098.7 1541.7,2097.3 1542.4,2097.4 1543.1,2100.4 1543.8,2099.2 1544.5,2099.1 1545.2,2098.7 1545.9,2098.6 1546.6,2099.9 1547.3,2097.7 1548,2100.2 1548.7,2096 1549.4,2096.7 1550.1,2094.9 1550.8,2096 1551.5,2096.9 1552.2,2097.8 1552.9,2094.5 1553.6,2095.1 1554.3,2094.2 1555,2093.2 1555.7,2092 1556.4,2093.1 1557.1,2089.9 1557.8,2091.8 1558.5,2091.1 1559.2,2089.6 1559.9,2088.7 1560.6,2088 1561.3,2092.5 1562,2088.2 1562.7,2092.7 1563.4,2091.9 1564.1,2091.1 1564.8,2090.7 1565.5,2094.5 1566.2,2096.1 1566.9,2092.9 1567.6,2094.3 1568.3,2096.5 1569,2095.8 1569.7,2098.4 1570.4,2095.1 1571.1,2096.9 1571.8,2094.7 1572.5,2099.6 1573.2,2095.9 1573.9,2094.1 1574.6,2097.2 1575.3,2097.3 1576,2100.3 1576.7,2097.3 1577.4,2097.8 1578.1,2098.7 1578.8,2100.2 1579.5,2097.9 1580.2,2099.5 1580.9,2098.8 1581.6,2097.7 1582.3,2098.2 1583,2098.2 1583.7,2096.9 1584.4,2099.9 1585.1,2096.3 1585.8,2099.9 1586.5,2099.6 1587.2,2098.2 1587.9,2097.3 1588.6,2098.1 1589.3,2099.1 1590,2099.5 1590.7,2098.9 1591.4,2099.9 1592.1,2097.7 1592.8,2098.8 1593.5,2096.3 1594.2,2099.6 1594.9,2098.8 1595.6,2098 1596.3,2100.2 1597,2099.6 1597.7,2095.4 1598.4,2098.7 1599.1,2096.6 1599.8,2100.2 1600.5,2101.9 1601.2,2098 1601.9,2098.8 1602.6,2098.4 1603.3,2099.3 1604,2099.7 1604.7,2100.6 1605.4,2097.4 1606.1,2101 1606.8,2097.5 1607.5,2099.2 1608.2,2100.5 1608.9,2099.8 1609.6,2097.5 1610.3,2097.9 1611,2098.2 1611.7,2098.8 1612.4,2100.5 1613.1,2097.1 1613.8,2099.5 1614.5,2099.7 1615.2,2099.7 1615.9,2099.5 1616.6,2101 1617.3,2099.6 1618,2100.1 1618.7,2099.7 1619.4,2101.4 1620.1,2096.2 1620.8,2100.7 1621.5,2098.5 1622.2,2098.5 1622.9,2097.5 1623.6,2096.3 1624.3,2098.4 1625,2097.9 1625.7,2099.6 1626.4,2096.8 1627.1,2100.9 1627.8,2099.3 1628.5,2098.5 1629.2,2097.9 1629.9,2097.8 1630.6,2097.3 1631.3,2098.1 1632,2098.8 1632.7,2098.6 1633.4,2096.8 1634.1,2098.4 1634.8,2097.6 1635.5,2099 1636.2,2101.4 1636.9,2099.7 1637.6,2098.3 1638.3,2096.5 1639,2096.8 1639.7,2096.4 1640.4,2099.8 1641.1,2097.7 1641.8,2098.8 1642.5,2097.8 1643.2,2098.8 1643.9,2100.6 1644.6,2097.7 1645.3,2098.2 1646,2097.5 1646.7,2099.9 1647.4,2097.2 1648.1,2097 1648.8,2096.7 1649.5,2096.6 1650.2,2099.2 1650.9,2101.8 1651.6,2097.2 1652.3,2099.9 1653,2098.9 1653.7,2097 1654.4,2098.1 1655.1,2098.2 1655.8,2097.5 1656.5,2101.2 1657.2,2095.8 1657.9,2099 1658.6,2098.9 1659.3,2097.6 1660,2098.6 1660.7,2099.6 1661.4,2098.6 1662.1,2098.9 1662.8,2099.3 1663.5,2095.5 1664.2,2100.4 1664.9,2101.5 1665.6,2099.7 1666.3,2099.7 1667,2096.3 1667.7,2098.1 1668.4,2097.1 1669.1,2097.4 1669.8,2099.6 1670.5,2097.1 1671.2,2098 1671.9,2095.5 1672.6,2097.9 1673.3,2098.3 1674,2097.2 1674.7,2097.1 1675.4,2100.8 1676.1,2096.4 1676.8,2096.6 1677.5,2097 1678.2,2099.8 1678.9,2101 1679.6,2098.5 1680.3,2097 1681,2097.4 1681.7,2099.5 1682.4,2096.7 1683.1,2100 1683.8,2100 1684.5,2098.1 1685.2,2098.9 1685.9,2099 1686.6,2100.2 1687.3,2096.5 1688,2099.6 1688.7,2097.4 1689.4,2096.9 1690.1,2098.1 1690.8,2097.6 1691.5,2096.5 1692.2,2095.7 1692.9,2096.6 1693.6,2100 1694.3,2100.7 1695,2098.8 1695.7,2099.6 1696.4,2097.2 1697.1,2097.8 1697.8,2098.3 1698.5,2096.4 1699.2,2096.5 1699.9,2098 1700.6,2097.5 1701.3,2096.4 1702,2098.4 1702.7,2097.5 1703.4,2099.3 1704.1,2097.9 1704.8,2097.5 1705.5,2098.1 1706.2,2097.7 1706.9,2097 1707.6,2097.4 1708.3,2099 1709,2098.9 1709.7,2099.8 1710.4,2095.6 1711.1,2097.5 1711.8,2097.5 1712.5,2098.3 1713.2,2097.4 1713.9,2097.4 1714.6,2099.2 1715.3,2098.4 1716,2096.5 1716.7,2100 1717.4,2099.6 1718.1,2097.4 1718.8,2099.4 1719.5,2097.2 1720.2,2099.9 1720.9,2098 1721.6,2097.2 1722.3,2097.8 1723,2097.3 1723.7,2098.7 1724.4,2098.7 1725.1,2098.5 1725.8,2097.7 1726.5,2095.3 1727.2,2098.7 1727.9,2095.9 1728.6,2098.9 1729.3,2100.2 1730,2099 1730.7,2098.1 1731.4,2098.4 1732.1,2098.5 1732.8,2098 1733.5,2097.9 1734.2,2097.5 1734.9,2100.5 1735.6,2098.8 1736.3,2100.2 1737,2098.5 1737.7,2099 1738.4,2098.7 1739.1,2099.6 1739.8,2100.1 1740.5,2099.3 1741.2,2098.1 1741.9,2098 1742.6,2101.4 1743.3,2098.7 1744,2098.7 1744.7,2101.2 1745.4,2100.7 1746.1,2099.9 1746.8,2098.6 1747.5,2102.4 1748.2,2099.8 1748.9,2100 1749.6,2099 1750.3,2097.3 1751,2097.4 1751.7,2099.9 1752.4,2099.9 1753.1,2099 1753.8,2097.7 1754.5,2097.3 1755.2,2098.9 1755.9,2097.3 1756.6,2100.6 1757.3,2101 1758,2102.6 1758.7,2100.6 1759.4,2098.6 1760.1,2098.2 1760.8,2096.2 1761.5,2098.6 1762.2,2099.2 1762.9,2100.8 1763.6,2100.3 1764.3,2100.2 1765,2099.7 1765.7,2100.3 1766.4,2101.4 1767.1,2097.9 1767.8,2098.8 1768.5,2097.5 1769.2,2101.7 1769.9,2101.2 1770.6,2100.5 1771.3,2097.8 1772,2099.7 1772.7,2099.1 1773.4,2099.6 1774.1,2099.2 1774.8,2100.2 1775.5,2098.9 1776.2,2100.6 1776.9,2099.8 1777.6,2099 1778.3,2099.3 1779,2098.8 1779.7,2100.6 1780.4,2099.1 1781.1,2099.9 1781.8,2098.9 1782.5,2097.4 1783.2,2100.7 1783.9,2098 1784.6,2100.4 1785.3,2100.1 1786,2097.1 1786.7,2098.1 1787.4,2098.8 1788.1,2098.3 1788.8,2097.8 1789.5,2100.5 1790.2,2099.1 1790.9,2100 1791.6,2098.9 1792.3,2099.9 1793,2098.4 1793.7,2099.4 1794.4,2100.3 1795.1,2099.5 1795.8,2098.8 1796.5,2098 1797.2,2099.7 1797.9,2100 1798.6,2099.1 1799.3,2098.4 1800,2100.2 1800.7,2102.7 1801.4,2099.1 1802.1,2100 1802.8,2100 1803.5,2096.3 1804.2,2099.7 1804.9,2098.5 1805.6,2101.4 1806.3,2099.1 1807,2098.4 1807.7,2099.2 1808.4,2099.7 1809.1,2098.7 1809.8,2099.4 1810.5,2097.6 1811.2,2099.2 1811.9,2100.6 1812.6,2102.3 1813.3,2100.5 1814,2099.9 1814.7,2101.2 1815.4,2100.9 1816.1,2101.8 1816.8,2101 1817.5,2099.3" fill="none" stroke="#029a30" stroke-width="6.6" stroke-linejoin="round" stroke-linecap="butt"/>
<path d="M176,2100.3 176.7,2100.7 177.4,2099.9 178.1,2099 178.8,2099.6 179.5,2098.9 180.2,2100.3 180.9,2102.1 181.6,2099.6 182.3,2099.4 183,2100.9 183.7,2100.7 184.4,2100.4 185.1,2098.9 185.8,2100.2 186.5,2101.2 187.2,2098.3 187.9,2099.5 188.6,2097.5 189.3,2098.4 190,2097.6 190.7,2099.8 191.4,2098.4 192.1,2100.5 192.8,2100.3 193.5,2099.9 194.2,2096.9 194.9,2099.3 195.6,2100 196.3,2100.2 197,2097.9 197.7,2099.4 198.4,2098.7 199.1,2098.9 199.8,2101.5 200.5,2098.9 201.2,2100 201.9,2101.3 202.6,2099.2 203.3,2099.8 204,2100.1 204.7,2100.1 205.4,2098.3 206.1,2100.1 206.8,2101.9 207.5,2097.8 208.2,2101.1 208.9,2100.1 209.6,2099 210.3,2102.7 211,2101 211.7,2098.2 212.4,2100 213.1,2100.7 213.8,2099.6 214.5,2100.8 215.2,2099.8 215.9,2100.8 216.6,2101.8 217.3,2098.9 218,2100.1 218.7,2099.2 219.4,2100 220.1,2098.1 220.8,2099 221.5,2099.5 222.2,2101 222.9,2101.3 223.6,2097.9 224.3,2098.6 225,2100.6 225.7,2096.9 226.4,2099 227.1,2099.5 227.8,2101.4 228.5,2100.6 229.2,2099.2 229.9,2099.1 230.6,2099.3 231.3,2101.7 232,2099 232.7,2099.2 233.4,2100.1 234.1,2099.4 234.8,2099.3 235.5,2098 236.2,2099.5 236.9,2098.9 237.6,2101.2 238.3,2100.4 239,2099.5 239.7,2100.4 240.4,2099 241.1,2100.9 241.8,2099.4 242.5,2100.3 243.2,2097.6 243.9,2099.9 244.6,2097 245.3,2096.5 246,2099 246.7,2098.1 247.4,2099.6 248.1,2102.5 248.8,2098.2 249.5,2098.5 250.2,2099.6 250.9,2100 251.6,2099 252.3,2099 253,2100.3 253.7,2100 254.4,2097.8 255.1,2099.1 255.8,2099.3 256.5,2097.7 257.2,2099.6 257.9,2098 258.6,2100.5 259.3,2099.4 260,2099.3 260.7,2098.3 261.4,2099 262.1,2096.3 262.8,2097.5 263.5,2099.6 264.2,2096.1 264.9,2100.2 265.6,2096.6 266.3,2100.1 267,2097.8 267.7,2100.1 268.4,2099.2 269.1,2096.8 269.8,2100.7 270.5,2101 271.2,2098.9 271.9,2098.6 272.6,2098.7 273.3,2097.5 274,2100.4 274.7,2098.1 275.4,2098.8 276.1,2097.7 276.8,2098 277.5,2097 278.2,2100.6 278.9,2098.6 279.6,2100.1 280.3,2098.8 281,2097.8 281.7,2098.3 282.4,2098 283.1,2098.7 283.8,2098.2 284.5,2098.3 285.2,2096.8 285.9,2097.5 286.6,2101 287.3,2097.7 288,2097.2 288.7,2099.1 289.4,2100.6 290.1,2096.6 290.8,2098.3 291.5,2097.7 292.2,2096.1 292.9,2099.6 293.6,2098.5 294.3,2098.6 295,2097.4 295.7,2099.1 296.4,2097.7 297.1,2098.3 297.8,2096.9 298.5,2096.7 299.2,2100.3 299.9,2097.7 300.6,2098.8 301.3,2098.3 302,2097.7 302.7,2097.6 303.4,2099.2 304.1,2097.9 304.8,2098.1 305.5,2098.3 306.2,2099.9 306.9,2099.2 307.6,2098.8 308.3,2097.4 309,2096.3 309.7,2099.5 310.4,2099.5 311.1,2098 311.8,2098.9 312.5,2099.2 313.2,2099.3 313.9,2099.4 314.6,2097.4 315.3,2100.2 316,2096.3 316.7,2099.2 317.4,2098.7 318.1,2099.2 318.8,2100.6 319.5,2100 320.2,2096.3 320.9,2095.5 321.6,2099 322.3,2096.4 323,2097.8 323.7,2099 324.4,2095.5 325.1,2094.8 325.8,2098.1 326.5,2097.8 327.2,2097.4 327.9,2097.7 328.6,2096.5 329.3,2095.5 330,2097.4 330.7,2096.2 331.4,2095.3 332.1,2098.3 332.8,2097.5 333.5,2098.1 334.2,2096.1 334.9,2096.6 335.6,2096.1 336.3,2096.2 337,2097.7 337.7,2096.3 338.4,2097.9 339.1,2097.8 339.8,2100.2 340.5,2095.4 341.2,2098.5 341.9,2097.1 342.6,2097.2 343.3,2095.2 344,2096.6 344.7,2098.2 345.4,2097 346.1,2097.3 346.8,2096.7 347.5,2098.7 348.2,2097.1 348.9,2094 349.6,2096.1 350.3,2094.3 351,2093.8 351.7,2096.2 352.4,2098.8 353.1,2097 353.8,2095.3 354.5,2095.6 355.2,2098.5 355.9,2097.1 356.6,2096.9 357.3,2096.8 358,2096.9 358.7,2097.9 359.4,2097.5 360.1,2097.1 360.8,2095.3 361.5,2097.4 362.2,2095.7 362.9,2098.2 363.6,2094.9 364.3,2096.5 365,2096.6 365.7,2094.8 366.4,2099 367.1,2098.6 367.8,2095.9 368.5,2097.6 369.2,2097.1 369.9,2093.3 370.6,2096.9 371.3,2096.4 372,2096.6 372.7,2095 373.4,2096.1 374.1,2096.2 374.8,2098.1 375.5,2096.9 376.2,2096.4 376.9,2098.5 377.6,2095.6 378.3,2095.8 379,2093.8 379.7,2098.5 380.4,2097.7 381.1,2097.6 381.8,2097.2 382.5,2096.4 383.2,2096.6 383.9,2095.9 384.6,2096 385.3,2096.3 386,2098.3 386.7,2097 387.4,2096.1 388.1,2095.4 388.8,2095.3 389.5,2098.4 390.2,2096.8 390.9,2096.2 391.6,2095.6 392.3,2094.5 393,2096 393.7,2097.3 394.4,2095.5 395.1,2095.7 395.8,2095.7 396.5,2096.2 397.2,2093.8 397.9,2095.6 398.6,2094.8 399.3,2097.2 400,2094.8 400.7,2096.7 401.4,2098 402.1,2095.4 402.8,2095 403.5,2096.1 404.2,2095.8 404.9,2094.4 405.6,2096.4 406.3,2098.6 407,2095.4 407.7,2095.5 408.4,2094.3 409.1,2096.2 409.8,2094 410.5,2094.1 411.2,2097.5 411.9,2094.4 412.6,2097.2 413.3,2097.8 414,2096 414.7,2096.4 415.4,2098.3 416.1,2095.3 416.8,2094.7 417.5,2093.6 418.2,2095.6 418.9,2097.6 419.6,2096.8 420.3,2094.1 421,2094.3 421.7,2094.7 422.4,2095.8 423.1,2095.1 423.8,2095.7 424.5,2095.8 425.2,2094.9 425.9,2095.3 426.6,2095.6 427.3,2095.2 428,2096 428.7,2097.9 429.4,2096.1 430.1,2095.3 430.8,2092.8 431.5,2095.7 432.2,2092.4 432.9,2093.2 433.6,2096.3 434.3,2096.1 435,2094.9 435.7,2092.7 436.4,2094.5 437.1,2094.1 437.8,2095.9 438.5,2098.1 439.2,2095.2 439.9,2093.8 440.6,2093.3 441.3,2094.8 442,2094.6 442.7,2093.2 443.4,2095 444.1,2093.2 444.8,2096.3 445.5,2096.2 446.2,2096.2 446.9,2094 447.6,2095.4 448.3,2094.4 449,2094 449.7,2094.1 450.4,2092.7 451.1,2092.5 451.8,2095.6 452.5,2094.1 453.2,2094.7 453.9,2095.7 454.6,2091.9 455.3,2093.2 456,2094.5 456.7,2094.7 457.4,2093.6 458.1,2095.5 458.8,2094.3 459.5,2092.3 460.2,2092.7 460.9,2095 461.6,2094.5 462.3,2091.2 463,2095.7 463.7,2094.6 464.4,2095.6 465.1,2093.1 465.8,2093.2 466.5,2092 467.2,2096.7 467.9,2093.2 468.6,2095.6 469.3,2092.4 470,2093.5 470.7,2090.9 471.4,2092.6 472.1,2094.4 472.8,2091.2 473.5,2094.4 474.2,2093.3 474.9,2091.2 475.6,2091.9 476.3,2091.8 477,2092.3 477.7,2091.5 478.4,2090.9 479.1,2091.5 479.8,2090.3 480.5,2089.8 481.2,2091.3 481.9,2092.4 482.6,2088.8 483.3,2090.7 484,2089.5 484.7,2088.8 485.4,2091 486.1,2088.8 486.8,2091.2 487.5,2087.7 488.2,2088.9 488.9,2087.5 489.6,2086.3 490.3,2087.6 491,2086 491.7,2086.4 492.4,2084.7 493.1,2082.5 493.8,2083 494.5,2082.2 495.2,2082.4 495.9,2078.7 496.6,2078.5 497.3,2074.8 498,2076.3" fill="none" stroke="#029a30" stroke-width="8.2" stroke-linejoin="round" stroke-linecap="butt" stroke-linecap="round"/>
<path d="M530.9,2078.5 531.6,2076.9 532.3,2079.8 533,2080.3 533.7,2080.5 534.4,2078.9 535.1,2081.7 535.8,2083.3 536.5,2082.2 537.2,2080.4 537.9,2080.5 538.6,2080.9 539.3,2075.7 540,2077.9 540.7,2077.8 541.4,2077 542.1,2077.4 542.8,2075.6 543.5,2073.4 544.2,2072.4 544.9,2072.2 545.6,2069.6 546.3,2069.5 547,2070.1 547.7,2070.8 548.4,2066.9 549.1,2066.2 549.8,2065.6 550.5,2066.3 551.2,2063.4 551.9,2064.6 552.6,2060.3 553.3,2060.5 554,2059.6 554.7,2060.2 555.4,2059.8 556.1,2055.6 556.8,2055.9 557.5,2057.1 558.2,2055.4 558.9,2053.9 559.6,2057.4 560.3,2056.6 561,2056.7 561.7,2055.7 562.4,2058.2 563.1,2057 563.8,2059.5 564.5,2057.4 565.2,2058.2 565.9,2060.6 566.6,2060.2 567.3,2063 568,2063.4 568.7,2062.6 569.4,2065 570.1,2065.2 570.8,2067.9 571.5,2066.5 572.2,2067.5 572.9,2070.5 573.6,2072.7 574.3,2073.2 575,2071.2 575.7,2072.3 576.4,2074.9 577.1,2073.4 577.8,2073 578.5,2075.4 579.2,2076.6 579.9,2075.6 580.6,2075.2 581.3,2076.3 582,2079.9 582.7,2078.6 583.4,2080.1 584.1,2081.1 584.8,2082.2 585.5,2081.3 586.2,2082.9 586.9,2081.3 587.6,2082.4 588.3,2081.7 589,2085.1 589.7,2083.7 590.4,2083 591.1,2083.8 591.8,2084.3 592.5,2085.8 593.2,2082.8 593.9,2083.9 594.6,2085 595.3,2089 596,2087.3 596.7,2086 597.4,2087.4 598.1,2089.4 598.8,2086.4 599.5,2086.4 600.2,2088.7 600.9,2087.9 601.6,2088.3 602.3,2086.8 603,2090.3 603.7,2090.1 604.4,2088.6 605.1,2088.9 605.8,2085.2 606.5,2089 607.2,2087.9 607.9,2088.9 608.6,2089.3 609.3,2088 610,2086.2 610.7,2089.1 611.4,2087.7 612.1,2088.3 612.8,2088 613.5,2088.5 614.2,2085.8 614.9,2090.8 615.6,2089.5 616.3,2090.7 617,2092 617.7,2089.3 618.4,2086.8 619.1,2088.1 619.8,2087.7 620.5,2088.7 621.2,2089.5 621.9,2086.6 622.6,2089.9 623.3,2087.3 624,2089.8 624.7,2089.2 625.4,2088.9 626.1,2089.1 626.8,2088.4 627.5,2088.3 628.2,2086.7 628.9,2088.9 629.6,2091.5 630.3,2091.6 631,2090.6 631.7,2089.6 632.4,2087.6 633.1,2090.5 633.8,2088.3 634.5,2088.2 635.2,2087.7 635.9,2088.2 636.6,2087.3 637.3,2087.7 638,2086.2 638.7,2087.1 639.4,2090.6 640.1,2087.1 640.8,2086.7 641.5,2087.5 642.2,2087.5 642.9,2084.8 643.6,2085.8 644.3,2087.2 645,2086 645.7,2085.6 646.4,2087.4 647.1,2084.1 647.8,2085 648.5,2084.1 649.2,2086.8 649.9,2081.9 650.6,2083.7 651.3,2083.9 652,2085.6 652.7,2085.6 653.4,2086.9 654.1,2082.9 654.8,2086.3 655.5,2085.1 656.2,2084.9 656.9,2086.8 657.6,2085.1 658.3,2083.7 659,2086.4 659.7,2085.1 660.4,2086.6 661.1,2088.4 661.8,2088.6 662.5,2090.6 663.2,2088.4 663.9,2086.7 664.6,2088 665.3,2088 666,2087.8 666.7,2090.3 667.4,2089.1 668.1,2087.4 668.8,2091.4 669.5,2090.5 670.2,2091.3 670.9,2091.2 671.6,2092.1 672.3,2091.5 673,2093.4 673.7,2092.5 674.4,2092.6 675.1,2092.8 675.8,2090.4 676.5,2092.4 677.2,2092.4 677.9,2093.3 678.6,2091.2 679.3,2095.6 680,2093.5 680.7,2091.8 681.4,2091.3 682.1,2093.4 682.8,2093.8 683.5,2093 684.2,2094.3 684.9,2093.4 685.6,2095.2 686.3,2093.5 687,2094.6 687.7,2096.2 688.4,2098.1 689.1,2093.6 689.8,2094.5 690.5,2094.1 691.2,2096.5 691.9,2093.9 692.6,2094.9 693.3,2095.6 694,2094.4 694.7,2094.5 695.4,2095.3 696.1,2093.1 696.8,2094.1 697.5,2095.7 698.2,2096.5 698.9,2096.1 699.6,2094 700.3,2095.9 701,2097.7 701.7,2097.4 702.4,2096.6 703.1,2095.5 703.8,2097.7 704.5,2096 705.2,2095.2 705.9,2095.8 706.6,2098.9 707.3,2097.3 708,2098.6 708.7,2096.3 709.4,2098.3 710.1,2096.2 710.8,2096.8 711.5,2100.3 712.2,2098.2 712.9,2096.4 713.6,2097 714.3,2097.6 715,2098.9 715.7,2096.5 716.4,2094.8 717.1,2096.9 717.8,2097.3 718.5,2097.4 719.2,2099.2 719.9,2097.8 720.6,2098.5 721.3,2095.8 722,2098.6 722.7,2100.3 723.4,2098.5 724.1,2097.8 724.8,2097.7 725.5,2100 726.2,2096.2 726.9,2097.4 727.6,2098.2 728.3,2098.6 729,2096.9 729.7,2098 730.4,2097.2 731.1,2097.8 731.8,2097.4 732.5,2096 733.2,2097.6 733.9,2098.9 734.6,2096.3 735.3,2097.3 736,2098.6 736.7,2096.2 737.4,2098 738.1,2096.2 738.8,2099.3 739.5,2101 740.2,2100.6 740.9,2097.5 741.6,2098.8 742.3,2097.9 743,2097.9 743.7,2100 744.4,2096 745.1,2099.3 745.8,2097.8 746.5,2099.8 747.2,2098.1 747.9,2096.9 748.6,2098.2 749.3,2098.9 750,2097.9 750.7,2098.5 751.4,2097.1 752.1,2094.9 752.8,2099.1 753.5,2098.9 754.2,2098.1 754.9,2098 755.6,2099.3 756.3,2097.3 757,2096.9 757.7,2097.6 758.4,2099.6 759.1,2096 759.8,2099.6 760.5,2097 761.2,2096.4 761.9,2099.7 762.6,2097.8 763.3,2096.1 764,2097.4 764.7,2099.2 765.4,2099.6 766.1,2097.3 766.8,2098.5 767.5,2098.9 768.2,2097 768.9,2098.4 769.6,2097.9 770.3,2097.1 771,2097.2 771.7,2098 772.4,2097.9 773.1,2097.1 773.8,2097.3 774.5,2099.5 775.2,2098.2 775.9,2099.1 776.6,2099.6 777.3,2098.7 778,2101.1 778.7,2096.7 779.4,2099 780.1,2097.4 780.8,2100.5 781.5,2100.3 782.2,2095.1 782.9,2096.5 783.6,2098.8 784.3,2099 785,2098.9 785.7,2097.8 786.4,2098.5 787.1,2098.8 787.8,2097.7 788.5,2099.3 789.2,2094.7 789.9,2098.7 790.6,2096.4 791.3,2099.2 792,2097.5 792.7,2096.6 793.4,2098.3 794.1,2096.5 794.8,2096.5 795.5,2095.6 796.2,2097.7 796.9,2098.5 797.6,2099.2 798.3,2097.6 799,2099.2 799.7,2097.8 800.4,2097.6 801.1,2098.5 801.8,2099.2 802.5,2097.2 803.2,2097.4 803.9,2097.5 804.6,2097.8 805.3,2096.4 806,2099.1 806.7,2097.1 807.4,2098.3 808.1,2096.5 808.8,2098.1 809.5,2098.2 810.2,2097 810.9,2100.4 811.6,2098.1 812.3,2100.1 813,2098.9 813.7,2096.6 814.4,2097 815.1,2098.1 815.8,2097.6 816.5,2097.6 817.2,2097.1 817.9,2094.9 818.6,2097.1 819.3,2094.3 820,2097.9 820.7,2096.4 821.4,2096.4 822.1,2097.1 822.8,2097.7 823.5,2095.3 824.2,2094.9 824.9,2095.8 825.6,2094.4 826.3,2095.9 827,2099.5 827.7,2095.8 828.4,2098.1 829.1,2095.3 829.8,2097.5 830.5,2096.4 831.2,2096.4 831.9,2096.9 832.6,2098.1 833.3,2095.4 834,2094.8 834.7,2092.8 835.4,2094.5 836.1,2093 836.8,2094.2 837.5,2092.6 838.2,2094.7 838.9,2089.2 839.6,2091.2 840.3,2092.5 841,2090.5 841.7,2089.6 842.4,2090.2 843.1,2088.5 843.8,2090.6 844.5,2093.6 845.2,2092 845.9,2088.8 846.6,2089.2 847.3,2089.8 848,2091.8 848.7,2089.2 849.4,2089.4 850.1,2091.6 850.8,2091.6 851.5,2089.9 852.2,2088.8 852.9,2088.2 853.6,2089.4 854.3,2087.3 855,2091.5 855.7,2089.5 856.4,2091.1 857.1,2093 857.8,2092 858.5,2088.8 859.2,2091.6 859.9,2092 860.6,2089.3 861.3,2089 862,2090.2 862.7,2088.1 863.4,2092.3 864.1,2086.9 864.8,2088.5 865.5,2089.6 866.2,2089.6 866.9,2090 867.6,2090.1 868.3,2089.3 869,2091 869.7,2086.3 870.4,2089.2 871.1,2088.1 871.8,2089.1 872.5,2089.1 873.2,2087.4 873.9,2087.6 874.6,2089.5 875.3,2088.8 876,2087.2 876.7,2090.9 877.4,2091.2 878.1,2085.8 878.8,2088.2 879.5,2090.9 880.2,2088.7 880.9,2087.8 881.6,2087.2 882.3,2086.7 883,2087.1 883.7,2086.6 884.4,2088.4 885.1,2086.9 885.8,2086.9 886.5,2085.9 887.2,2087.6 887.9,2086.5 888.6,2087.6 889.3,2089.5 890,2088.7 890.7,2089 891.4,2089 892.1,2088.8 892.8,2088.7 893.5,2088.6 894.2,2090.3 894.9,2087.9 895.6,2091.4 896.3,2089.8 897,2088.8 897.7,2089.3 898.4,2089.2 899.1,2090.5 899.8,2089.4 900.5,2092.1 901.2,2089.5 901.9,2087.5 902.6,2089.7 903.3,2088 904,2090.9 904.7,2092.5 905.4,2092 906.1,2089.3 906.8,2090.2 907.5,2093.8 908.2,2091.9 908.9,2091.5 909.6,2093 910.3,2094.8 911,2093.4 911.7,2091.8 912.4,2092.1 913.1,2092.4 913.8,2090.7 914.5,2090 915.2,2091.5 915.9,2090 916.6,2091.2 917.3,2091.3 918,2094.3 918.7,2089.7 919.4,2090.6 920.1,2090.4 920.8,2091.1 921.5,2091.8 922.2,2089.5 922.9,2088.9 923.6,2087.6 924.3,2088.4 925,2090.3 925.7,2089.4 926.4,2087.8 927.1,2088.5 927.8,2088.9 928.5,2089.4 929.2,2087.7 929.9,2088.1 930.6,2085.7 931.3,2086.5 932,2090.2 932.7,2084.7 933.4,2087.1 934.1,2087.7 934.8,2086.6 935.5,2085.8 936.2,2086.6 936.9,2086.5 937.6,2086.1 938.3,2083.4 939,2085.6 939.7,2084.4 940.4,2084.6 941.1,2085.5 941.8,2085.9 942.5,2086.1 943.2,2084 943.9,2085.8 944.6,2086 945.3,2085.8 946,2086.1 946.7,2083.8 947.4,2083.7 948.1,2085.1 948.8,2082 949.5,2084.2 950.2,2083.2 950.9,2083.5 951.6,2081.6 952.3,2082.9 953,2084.3 953.7,2085.7 954.4,2086 955.1,2084.7 955.8,2084.8 956.5,2084.1 957.2,2086 957.9,2085.3 958.6,2086.8 959.3,2088.6 960,2086.4 960.7,2084.6 961.4,2085.7 962.1,2085.1 962.8,2085.7 963.5,2089.4 964.2,2088.2 964.9,2085.9 965.6,2089.2 966.3,2090.3 967,2088.2 967.7,2088 968.4,2088.7 969.1,2089.8 969.8,2090.5 970.5,2091.6 971.2,2091.9 971.9,2092.1 972.6,2092.6 973.3,2091.9 974,2089 974.7,2091.2 975.4,2092.1 976.1,2091.4 976.8,2093.4 977.5,2091.8 978.2,2091.3 978.9,2094.8 979.6,2093.8 980.3,2093.4 981,2094.5 981.7,2094.8 982.4,2093.9 983.1,2090.3 983.8,2092.6 984.5,2093 985.2,2092.4 985.9,2094.1 986.6,2095.6 987.3,2093.3 988,2092.5 988.7,2097 989.4,2093.6 990.1,2092.5 990.8,2094.7 991.5,2095 992.2,2093.5 992.9,2095.6 993.6,2093.9 994.3,2093.4 995,2095 995.7,2095.9 996.4,2094 997.1,2095.4 997.8,2094.8 998.5,2098.2 999.2,2094.1 999.9,2097.1 1000.6,2095.1 1001.3,2095 1002,2096.3 1002.7,2096.6 1003.4,2097.1 1004.1,2095.9 1004.8,2094.6 1005.5,2094.7 1006.2,2096.2 1006.9,2096.4 1007.6,2097.5 1008.3,2096.2 1009,2097.1 1009.7,2097.8 1010.4,2095.9 1011.1,2093.7 1011.8,2094.1 1012.5,2093.8 1013.2,2098 1013.9,2094.6 1014.6,2097.6 1015.3,2096.7 1016,2098.3 1016.7,2097.3 1017.4,2095.7 1018.1,2095.6 1018.8,2096 1019.5,2096.1 1020.2,2095.2 1020.9,2095.9 1021.6,2098.2 1022.3,2093.5 1023,2096.3 1023.7,2094.6 1024.4,2096.2 1025.1,2097.1 1025.8,2095.8 1026.5,2097 1027.2,2093.7 1027.9,2097.5 1028.6,2095.1 1029.3,2096.8 1030,2096.2 1030.7,2092.7 1031.4,2094.8 1032.1,2096.2 1032.8,2098.1 1033.5,2096.3 1034.2,2096.3 1034.9,2093.9 1035.6,2097.9 1036.3,2098.4 1037,2095.9 1037.7,2095.6 1038.4,2093.6 1039.1,2097.1 1039.8,2099.1 1040.5,2096.9 1041.2,2097.7 1041.9,2096.7 1042.6,2094.5 1043.3,2097.8 1044,2094.2 1044.7,2095.6 1045.4,2096.3 1046.1,2097.1 1046.8,2096.5 1047.5,2096.4 1048.2,2094.8 1048.9,2094.1 1049.6,2096 1050.3,2094.9 1051,2094.1 1051.7,2094.1 1052.4,2095.2 1053.1,2093.3 1053.8,2094 1054.5,2093.6 1055.2,2096.2 1055.9,2096.5 1056.6,2098.7 1057.3,2093.8 1058,2094.9 1058.7,2097.2 1059.4,2095.6 1060.1,2095.4 1060.8,2098.3 1061.5,2095.4 1062.2,2094.3 1062.9,2094.1 1063.6,2096.4 1064.3,2096.3 1065,2093.9 1065.7,2094.4 1066.4,2096.5 1067.1,2096.5 1067.8,2094.8 1068.5,2096.5 1069.2,2096.3 1069.9,2092.9 1070.6,2094.9 1071.3,2095.8 1072,2094.3 1072.7,2092 1073.4,2094.5 1074.1,2095.8 1074.8,2096.8 1075.5,2091.4 1076.2,2097.6 1076.9,2092.5 1077.6,2095.1 1078.3,2095 1079,2094.1 1079.7,2092.4 1080.4,2089.9 1081.1,2091.7 1081.8,2089.2 1082.5,2086.4 1083.2,2092.2 1083.9,2089.5 1084.6,2090.6 1085.3,2086.4 1086,2089.5 1086.7,2089.6 1087.4,2089.7 1088.1,2087.8 1088.8,2086.6 1089.5,2088.6 1090.2,2086.5 1090.9,2087.8 1091.6,2091 1092.3,2090.1 1093,2091.7 1093.7,2092.2 1094.4,2095.2 1095.1,2094.5 1095.8,2092.7 1096.5,2094.6 1097.2,2091.9 1097.9,2092.7 1098.6,2094.5 1099.3,2091.6 1100,2093 1100.7,2091.5 1101.4,2093.6 1102.1,2095.7 1102.8,2092.3 1103.5,2093.6 1104.2,2091.9 1104.9,2091.5 1105.6,2091.2 1106.3,2094.9 1107,2095.9 1107.7,2093.2 1108.4,2091.3 1109.1,2093.1 1109.8,2091.5 1110.5,2092.9 1111.2,2092 1111.9,2091.8 1112.6,2092.1 1113.3,2090.3 1114,2090.3 1114.7,2088.3 1115.4,2089.9 1116.1,2088.4 1116.8,2089.9 1117.5,2088.6 1118.2,2089.8 1118.9,2090.1 1119.6,2087.2 1120.3,2087.8 1121,2087.4 1121.7,2089.5 1122.4,2090.7 1123.1,2089.3 1123.8,2087.4 1124.5,2089.8 1125.2,2085.5 1125.9,2089.6 1126.6,2086.5 1127.3,2084.2 1128,2090.6 1128.7,2089.6 1129.4,2086 1130.1,2087.8 1130.8,2087.4 1131.5,2087.9 1132.2,2085.8 1132.9,2087.1 1133.6,2088.9 1134.3,2088.8 1135,2090.3 1135.7,2089 1136.4,2092.3 1137.1,2088.3 1137.8,2089.8 1138.5,2087 1139.2,2088.2 1139.9,2092 1140.6,2089 1141.3,2091.3 1142,2090.6 1142.7,2089.5 1143.4,2090.6 1144.1,2090.5 1144.8,2090.7 1145.5,2092.5 1146.2,2092.5 1146.9,2090.9 1147.6,2090.6 1148.3,2092.3 1149,2091.9 1149.7,2093.6 1150.4,2095.5 1151.1,2093.6 1151.8,2092.4 1152.5,2092.3 1153.2,2091.5 1153.9,2091.5 1154.6,2091.5 1155.3,2092.4 1156,2092.5 1156.7,2094.2 1157.4,2092.7 1158.1,2093.1 1158.8,2091.7 1159.5,2095.8 1160.2,2094.3 1160.9,2096.2 1161.6,2094.9 1162.3,2095.9 1163,2093.6 1163.7,2095 1164.4,2097.3 1165.1,2092.4 1165.8,2095.8 1166.5,2096.6 1167.2,2094.9 1167.9,2095.5 1168.6,2096.2 1169.3,2093.6 1170,2095.2 1170.7,2093.4 1171.4,2093.7 1172.1,2093.8 1172.8,2094.6 1173.5,2095.1 1174.2,2095.5 1174.9,2092.9 1175.6,2097.8 1176.3,2096.7 1177,2096.1 1177.7,2094.6 1178.4,2095.1 1179.1,2096 1179.8,2095.9 1180.5,2092.9 1181.2,2096.4 1181.9,2098.6 1182.6,2092.8 1183.3,2096.9 1184,2096.1 1184.7,2095.4 1185.4,2097.6 1186.1,2094 1186.8,2096 1187.5,2097.9 1188.2,2095.5 1188.9,2095.2 1189.6,2096.1 1190.3,2095.3 1191,2098.2 1191.7,2094.7 1192.4,2097.3 1193.1,2094.3 1193.8,2097.1 1194.5,2096 1195.2,2093 1195.9,2096.2 1196.6,2094.7 1197.3,2095.7 1198,2098.5 1198.7,2094.8 1199.4,2094.9 1200.1,2098.5 1200.8,2096.6 1201.5,2098.7 1202.2,2097 1202.9,2095.3 1203.6,2096.5 1204.3,2098.4 1205,2098 1205.7,2096.7 1206.4,2096.8 1207.1,2096.6 1207.8,2096 1208.5,2099.6 1209.2,2096.9 1209.9,2095.3 1210.6,2096.2 1211.3,2098 1212,2097.9 1212.7,2096.8 1213.4,2096.1 1214.1,2097.1 1214.8,2094.7 1215.5,2095.3 1216.2,2098.3 1216.9,2096.5 1217.6,2097.8 1218.3,2099.1 1219,2098.3 1219.7,2097.4 1220.4,2100.5 1221.1,2098.4 1221.8,2097 1222.5,2098.6 1223.2,2098.1 1223.9,2096.4 1224.6,2097.7 1225.3,2097.4 1226,2094.9 1226.7,2097.5 1227.4,2097.4 1228.1,2097.2 1228.8,2095.5 1229.5,2097.3 1230.2,2097.8 1230.9,2098.1 1231.6,2096.3 1232.3,2098.9 1233,2096.3 1233.7,2097.7 1234.4,2100 1235.1,2097.1 1235.8,2097.4 1236.5,2099.7 1237.2,2097.6 1237.9,2097.8 1238.6,2098.6 1239.3,2099.8 1240,2095.1 1240.7,2097.1 1241.4,2096.9 1242.1,2096.8 1242.8,2097.2 1243.5,2097.2 1244.2,2098.9 1244.9,2097.2 1245.6,2098.6 1246.3,2099.1 1247,2097.5 1247.7,2098.7 1248.4,2100.9 1249.1,2099 1249.8,2097.6 1250.5,2098.5 1251.2,2097.3 1251.9,2099 1252.6,2099.8 1253.3,2097.4 1254,2098.3 1254.7,2100.2 1255.4,2097.9 1256.1,2098.9 1256.8,2097.1 1257.5,2097.4 1258.2,2097.9 1258.9,2101.6 1259.6,2098 1260.3,2097.9 1261,2097.8 1261.7,2098.4 1262.4,2099.5 1263.1,2098.9 1263.8,2101.5 1264.5,2098.9 1265.2,2100.6 1265.9,2099 1266.6,2099.4 1267.3,2096.6 1268,2098.4 1268.7,2098.5 1269.4,2098.3 1270.1,2095.6 1270.8,2099.8 1271.5,2098.1 1272.2,2098 1272.9,2098.2 1273.6,2098.3 1274.3,2099.2 1275,2096.8 1275.7,2097.3 1276.4,2099 1277.1,2098.8 1277.8,2098.1 1278.5,2097.8 1279.2,2097.4 1279.9,2098.5 1280.6,2100.3 1281.3,2097.1 1282,2100.7 1282.7,2099.8 1283.4,2098 1284.1,2099.7 1284.8,2096.5 1285.5,2096.2 1286.2,2096.8 1286.9,2098 1287.6,2098.1 1288.3,2097.9 1289,2098.7 1289.7,2095.6 1290.4,2099.3 1291.1,2096.6 1291.8,2097.7 1292.5,2098 1293.2,2097 1293.9,2096.7 1294.6,2097.2 1295.3,2098.6 1296,2099.4 1296.7,2099.4 1297.4,2097.2 1298.1,2097.5 1298.8,2097.3 1299.5,2099.2 1300.2,2095.7 1300.9,2100.3 1301.6,2097.9 1302.3,2097.5 1303,2099.1 1303.7,2100 1304.4,2099.1 1305.1,2100.1 1305.8,2098.8 1306.5,2100.3 1307.2,2100.3 1307.9,2098.5 1308.6,2100.6 1309.3,2098.8 1310,2098.7 1310.7,2097.3 1311.4,2098.2 1312.1,2099.7 1312.8,2096.8 1313.5,2099.5 1314.2,2099.1 1314.9,2099 1315.6,2095.5 1316.3,2098.5 1317,2099.5 1317.7,2097.5 1318.4,2098.7 1319.1,2095.4 1319.8,2099.5 1320.5,2097.7 1321.2,2099.8 1321.9,2096 1322.6,2099.6 1323.3,2098.3 1324,2099.7 1324.7,2097.3 1325.4,2097.7 1326.1,2101.7 1326.8,2097.4 1327.5,2097.6 1328.2,2098.2 1328.9,2097.2 1329.6,2100.3 1330.3,2101 1331,2097.6 1331.7,2096.2 1332.4,2100.2 1333.1,2100.2 1333.8,2099.8 1334.5,2100.2 1335.2,2097.4 1335.9,2098.4 1336.6,2096.7 1337.3,2096.6 1338,2100 1338.7,2097.7 1339.4,2101.8 1340.1,2098.7 1340.8,2097.7 1341.5,2099.7 1342.2,2101.1 1342.9,2099.3 1343.6,2096.9 1344.3,2099.1 1345,2100.5 1345.7,2097.9 1346.4,2097.5 1347.1,2100 1347.8,2098.8 1348.5,2097.1 1349.2,2098.1 1349.9,2097.5 1350.6,2099 1351.3,2098.8 1352,2100.2 1352.7,2099.6 1353.4,2096.4 1354.1,2099.2 1354.8,2099.9 1355.5,2099.2 1356.2,2100 1356.9,2097.8 1357.6,2097.3 1358.3,2099.9 1359,2097.1 1359.7,2095.6 1360.4,2100 1361.1,2097.6 1361.8,2098.2 1362.5,2096.6 1363.2,2096.7 1363.9,2097 1364.6,2098.1 1365.3,2099.1 1366,2095.4 1366.7,2099.7 1367.4,2096.9 1368.1,2097.1 1368.8,2099.5 1369.5,2098.5 1370.2,2096.4 1370.9,2101.2 1371.6,2097.4 1372.3,2098.9 1373,2098.9 1373.7,2100.6 1374.4,2098 1375.1,2100 1375.8,2097.6 1376.5,2100.2 1377.2,2097.5 1377.9,2098.1 1378.6,2101.3 1379.3,2099 1380,2098.8 1380.7,2101.7 1381.4,2099.1 1382.1,2097.5 1382.8,2099.6 1383.5,2096.9 1384.2,2100.2 1384.9,2100.3 1385.6,2097.8 1386.3,2097.7 1387,2098.8 1387.7,2098.6 1388.4,2097.2 1389.1,2099.4 1389.8,2095.7 1390.5,2098 1391.2,2098 1391.9,2098.2 1392.6,2099 1393.3,2096.9 1394,2099.4 1394.7,2098.3 1395.4,2097.7 1396.1,2096.7 1396.8,2096.9 1397.5,2099.1 1398.2,2097.3 1398.9,2098.7 1399.6,2100.1 1400.3,2100 1401,2100.8 1401.7,2098.2 1402.4,2097.1 1403.1,2100 1403.8,2099 1404.5,2100.2 1405.2,2098.6 1405.9,2100.3 1406.6,2099.8 1407.3,2099.6 1408,2099.3 1408.7,2099.2 1409.4,2098.9 1410.1,2098.9 1410.8,2100 1411.5,2097.9 1412.2,2101 1412.9,2098.5 1413.6,2100 1414.3,2098.5 1415,2098.3 1415.7,2101.5 1416.4,2098.2 1417.1,2096.8 1417.8,2097.6 1418.5,2098.2 1419.2,2101.6 1419.9,2098.9 1420.6,2099.9 1421.3,2097.2 1422,2099.1 1422.7,2099.6 1423.4,2101.2 1424.1,2097.7 1424.8,2099.5 1425.5,2099.1 1426.2,2097.2 1426.9,2098.6 1427.6,2098.3 1428.3,2095.4 1429,2099.5 1429.7,2099.4 1430.4,2098.1 1431.1,2096.8 1431.8,2100.7 1432.5,2099 1433.2,2100.1 1433.9,2100.7 1434.6,2098 1435.3,2099.8 1436,2098.4 1436.7,2098.6 1437.4,2098.6 1438.1,2098.7 1438.8,2100.3 1439.5,2098.9 1440.2,2098.5 1440.9,2098.3 1441.6,2099.2 1442.3,2097.5 1443,2098 1443.7,2098.6 1444.4,2097.9 1445.1,2098.6 1445.8,2097.9 1446.5,2101.5 1447.2,2100.6 1447.9,2099.4 1448.6,2098.7 1449.3,2101.8 1450,2099.2 1450.7,2098.6 1451.4,2099.2 1452.1,2099.2 1452.8,2100.7 1453.5,2098.7 1454.2,2101.7 1454.9,2097.5 1455.6,2099.7 1456.3,2097.4 1457,2101.3 1457.7,2098.3 1458.4,2098.7 1459.1,2100.1 1459.8,2100.6 1460.5,2097.2 1461.2,2098.3 1461.9,2096.8 1462.6,2099 1463.3,2098.7 1464,2098.3 1464.7,2097.9 1465.4,2098.3 1466.1,2097.8 1466.8,2099.6 1467.5,2100.9 1468.2,2096.1 1468.9,2098.7 1469.6,2098.2 1470.3,2099.5 1471,2097.5 1471.7,2098.6 1472.4,2097.4 1473.1,2099.8 1473.8,2099 1474.5,2098.6 1475.2,2099.4 1475.9,2098.5 1476.6,2096.7 1477.3,2099.7 1478,2099.3 1478.7,2098.6 1479.4,2100.2 1480.1,2100.6 1480.8,2097.3 1481.5,2097.8 1482.2,2101 1482.9,2100.9 1483.6,2097.8 1484.3,2097.2 1485,2098 1485.7,2098.2 1486.4,2096.7 1487.1,2098.9 1487.8,2097.1 1488.5,2097.2 1489.2,2100.2 1489.9,2097.9 1490.6,2098.8 1491.3,2099.8 1492,2100 1492.7,2098.4 1493.4,2099 1494.1,2097.7 1494.8,2101.3 1495.5,2099.8 1496.2,2097.4 1496.9,2098.9 1497.6,2099.9 1498.3,2099.6 1499,2101.5 1499.7,2100.8 1500.4,2098.1 1501.1,2098.8 1501.8,2097.1 1502.5,2099.2 1503.2,2099.1 1503.9,2102.1 1504.6,2099 1505.3,2096 1506,2097.9 1506.7,2099 1507.4,2097.1 1508.1,2097.7 1508.8,2098.4 1509.5,2099.3 1510.2,2098.6 1510.9,2097.6 1511.6,2100 1512.3,2098.1 1513,2098.1 1513.7,2096.9 1514.4,2097.7 1515.1,2099.7 1515.8,2096.5 1516.5,2098.7 1517.2,2099.8 1517.9,2098.3 1518.6,2099.1 1519.3,2097.2 1520,2100.6 1520.7,2100.3 1521.4,2099.1 1522.1,2096.3 1522.8,2097.2 1523.5,2100.1 1524.2,2101.1 1524.9,2099.1 1525.6,2100.4 1526.3,2097.8 1527,2098.3 1527.7,2098.6 1528.4,2099.2 1529.1,2096.4 1529.8,2099.9 1530.5,2100.4 1531.2,2096.9 1531.9,2096.6 1532.6,2098.9 1533.3,2097.5 1534,2095.2 1534.7,2099.5 1535.4,2098.6 1536.1,2097.7 1536.8,2101.3 1537.5,2098.5 1538.2,2097.2 1538.9,2098.4 1539.6,2096.7 1540.3,2097.1 1541,2098.7 1541.7,2097.3 1542.4,2097.4 1543.1,2100.4 1543.8,2099.2 1544.5,2099.1 1545.2,2098.7 1545.9,2098.6 1546.6,2099.9 1547.3,2097.7 1548,2100.2 1548.7,2096 1549.4,2096.7 1550.1,2094.9 1550.8,2096 1551.5,2096.9 1552.2,2097.8 1552.9,2094.5 1553.6,2095.1 1554.3,2094.2 1555,2093.2 1555.7,2092 1556.4,2093.1 1557.1,2089.9 1557.8,2091.8 1558.5,2091.1 1559.2,2089.6 1559.9,2088.7 1560.6,2088 1561.3,2092.5 1562,2088.2 1562.7,2092.7 1563.4,2091.9 1564.1,2091.1 1564.8,2090.7 1565.5,2094.5 1566.2,2096.1 1566.9,2092.9 1567.6,2094.3 1568.3,2096.5 1569,2095.8 1569.7,2098.4 1570.4,2095.1 1571.1,2096.9 1571.8,2094.7 1572.5,2099.6 1573.2,2095.9 1573.9,2094.1 1574.6,2097.2 1575.3,2097.3 1576,2100.3 1576.7,2097.3 1577.4,2097.8 1578.1,2098.7 1578.8,2100.2 1579.5,2097.9 1580.2,2099.5 1580.9,2098.8 1581.6,2097.7 1582.3,2098.2 1583,2098.2 1583.7,2096.9 1584.4,2099.9 1585.1,2096.3 1585.8,2099.9 1586.5,2099.6 1587.2,2098.2 1587.9,2097.3 1588.6,2098.1 1589.3,2099.1 1590,2099.5 1590.7,2098.9 1591.4,2099.9 1592.1,2097.7 1592.8,2098.8 1593.5,2096.3 1594.2,2099.6 1594.9,2098.8 1595.6,2098 1596.3,2100.2 1597,2099.6 1597.7,2095.4 1598.4,2098.7 1599.1,2096.6 1599.8,2100.2 1600.5,2101.9 1601.2,2098 1601.9,2098.8 1602.6,2098.4 1603.3,2099.3 1604,2099.7 1604.7,2100.6 1605.4,2097.4 1606.1,2101 1606.8,2097.5 1607.5,2099.2 1608.2,2100.5 1608.9,2099.8 1609.6,2097.5 1610.3,2097.9 1611,2098.2 1611.7,2098.8 1612.4,2100.5 1613.1,2097.1 1613.8,2099.5 1614.5,2099.7 1615.2,2099.7 1615.9,2099.5 1616.6,2101 1617.3,2099.6 1618,2100.1 1618.7,2099.7 1619.4,2101.4 1620.1,2096.2 1620.8,2100.7 1621.5,2098.5 1622.2,2098.5 1622.9,2097.5 1623.6,2096.3 1624.3,2098.4 1625,2097.9 1625.7,2099.6 1626.4,2096.8 1627.1,2100.9 1627.8,2099.3 1628.5,2098.5 1629.2,2097.9 1629.9,2097.8 1630.6,2097.3 1631.3,2098.1 1632,2098.8 1632.7,2098.6 1633.4,2096.8 1634.1,2098.4 1634.8,2097.6 1635.5,2099 1636.2,2101.4 1636.9,2099.7 1637.6,2098.3 1638.3,2096.5 1639,2096.8 1639.7,2096.4 1640.4,2099.8 1641.1,2097.7 1641.8,2098.8 1642.5,2097.8 1643.2,2098.8 1643.9,2100.6 1644.6,2097.7 1645.3,2098.2 1646,2097.5 1646.7,2099.9 1647.4,2097.2 1648.1,2097 1648.8,2096.7 1649.5,2096.6 1650.2,2099.2 1650.9,2101.8 1651.6,2097.2 1652.3,2099.9 1653,2098.9 1653.7,2097 1654.4,2098.1 1655.1,2098.2 1655.8,2097.5 1656.5,2101.2 1657.2,2095.8 1657.9,2099 1658.6,2098.9 1659.3,2097.6 1660,2098.6 1660.7,2099.6 1661.4,2098.6 1662.1,2098.9 1662.8,2099.3 1663.5,2095.5 1664.2,2100.4 1664.9,2101.5 1665.6,2099.7 1666.3,2099.7 1667,2096.3 1667.7,2098.1 1668.4,2097.1 1669.1,2097.4 1669.8,2099.6 1670.5,2097.1 1671.2,2098 1671.9,2095.5 1672.6,2097.9 1673.3,2098.3 1674,2097.2 1674.7,2097.1 1675.4,2100.8 1676.1,2096.4 1676.8,2096.6 1677.5,2097 1678.2,2099.8 1678.9,2101 1679.6,2098.5 1680.3,2097 1681,2097.4 1681.7,2099.5 1682.4,2096.7 1683.1,2100 1683.8,2100 1684.5,2098.1 1685.2,2098.9 1685.9,2099 1686.6,2100.2 1687.3,2096.5 1688,2099.6 1688.7,2097.4 1689.4,2096.9 1690.1,2098.1 1690.8,2097.6 1691.5,2096.5 1692.2,2095.7 1692.9,2096.6 1693.6,2100 1694.3,2100.7 1695,2098.8 1695.7,2099.6 1696.4,2097.2 1697.1,2097.8 1697.8,2098.3 1698.5,2096.4 1699.2,2096.5 1699.9,2098 1700.6,2097.5 1701.3,2096.4 1702,2098.4 1702.7,2097.5 1703.4,2099.3 1704.1,2097.9 1704.8,2097.5 1705.5,2098.1 1706.2,2097.7 1706.9,2097 1707.6,2097.4 1708.3,2099 1709,2098.9 1709.7,2099.8 1710.4,2095.6 1711.1,2097.5 1711.8,2097.5 1712.5,2098.3 1713.2,2097.4 1713.9,2097.4 1714.6,2099.2 1715.3,2098.4 1716,2096.5 1716.7,2100 1717.4,2099.6 1718.1,2097.4 1718.8,2099.4 1719.5,2097.2 1720.2,2099.9 1720.9,2098 1721.6,2097.2 1722.3,2097.8 1723,2097.3 1723.7,2098.7 1724.4,2098.7 1725.1,2098.5 1725.8,2097.7 1726.5,2095.3 1727.2,2098.7 1727.9,2095.9 1728.6,2098.9 1729.3,2100.2 1730,2099 1730.7,2098.1 1731.4,2098.4 1732.1,2098.5 1732.8,2098 1733.5,2097.9 1734.2,2097.5 1734.9,2100.5 1735.6,2098.8 1736.3,2100.2 1737,2098.5 1737.7,2099 1738.4,2098.7 1739.1,2099.6 1739.8,2100.1 1740.5,2099.3 1741.2,2098.1 1741.9,2098 1742.6,2101.4 1743.3,2098.7 1744,2098.7 1744.7,2101.2 1745.4,2100.7 1746.1,2099.9 1746.8,2098.6 1747.5,2102.4 1748.2,2099.8 1748.9,2100 1749.6,2099 1750.3,2097.3 1751,2097.4 1751.7,2099.9 1752.4,2099.9 1753.1,2099 1753.8,2097.7 1754.5,2097.3 1755.2,2098.9 1755.9,2097.3 1756.6,2100.6 1757.3,2101 1758,2102.6 1758.7,2100.6 1759.4,2098.6 1760.1,2098.2 1760.8,2096.2 1761.5,2098.6 1762.2,2099.2 1762.9,2100.8 1763.6,2100.3 1764.3,2100.2 1765,2099.7 1765.7,2100.3 1766.4,2101.4 1767.1,2097.9 1767.8,2098.8 1768.5,2097.5 1769.2,2101.7 1769.9,2101.2 1770.6,2100.5 1771.3,2097.8 1772,2099.7 1772.7,2099.1 1773.4,2099.6 1774.1,2099.2 1774.8,2100.2 1775.5,2098.9 1776.2,2100.6 1776.9,2099.8 1777.6,2099 1778.3,2099.3 1779,2098.8 1779.7,2100.6 1780.4,2099.1 1781.1,2099.9 1781.8,2098.9 1782.5,2097.4 1783.2,2100.7 1783.9,2098 1784.6,2100.4 1785.3,2100.1 1786,2097.1 1786.7,2098.1 1787.4,2098.8 1788.1,2098.3 1788.8,2097.8 1789.5,2100.5 1790.2,2099.1 1790.9,2100 1791.6,2098.9 1792.3,2099.9 1793,2098.4 1793.7,2099.4 1794.4,2100.3 1795.1,2099.5 1795.8,2098.8 1796.5,2098 1797.2,2099.7 1797.9,2100 1798.6,2099.1 1799.3,2098.4 1800,2100.2 1800.7,2102.7 1801.4,2099.1 1802.1,2100 1802.8,2100 1803.5,2096.3 1804.2,2099.7 1804.9,2098.5 1805.6,2101.4 1806.3,2099.1 1807,2098.4 1807.7,2099.2 1808.4,2099.7 1809.1,2098.7 1809.8,2099.4 1810.5,2097.6 1811.2,2099.2 1811.9,2100.6 1812.6,2102.3 1813.3,2100.5 1814,2099.9 1814.7,2101.2 1815.4,2100.9 1816.1,2101.8 1816.8,2101 1817.5,2099.3" fill="none" stroke="#029a30" stroke-width="8.2" stroke-linejoin="round" stroke-linecap="butt" stroke-linecap="round"/>
<path d="M176,1814.7 176.7,1814.5 177.4,1814.7 178.1,1814.5 178.8,1813.1 179.5,1811.2 180.2,1813.2 180.9,1811.3 181.6,1814.3 182.3,1814.2 183,1811.7 183.7,1815.1 184.4,1815.4 185.1,1814.2 185.8,1816.5 186.5,1816.8 187.2,1812.3 187.9,1815.6 188.6,1814.7 189.3,1814.6 190,1815.4 190.7,1812.9 191.4,1813.1 192.1,1812.8 192.8,1812.9 193.5,1813.8 194.2,1811.8 194.9,1812.4 195.6,1814.7 196.3,1813.8 197,1814.4 197.7,1811.1 198.4,1812.7 199.1,1813 199.8,1813.8 200.5,1812.9 201.2,1815.1 201.9,1813.7 202.6,1813.8 203.3,1813.7 204,1814.7 204.7,1813 205.4,1815.3 206.1,1814.3 206.8,1813.9 207.5,1813.7 208.2,1814.4 208.9,1815.1 209.6,1815 210.3,1814.1 211,1814.8 211.7,1813.7 212.4,1815.3 213.1,1813.5 213.8,1810.5 214.5,1815.4 215.2,1813.6 215.9,1811.7 216.6,1813.1 217.3,1812.1 218,1816.4 218.7,1814.1 219.4,1811.1 220.1,1814.1 220.8,1812.8 221.5,1816.1 222.2,1811.8 222.9,1810 223.6,1813.4 224.3,1812.8 225,1812.6 225.7,1810.1 226.4,1813.8 227.1,1815.6 227.8,1810.4 228.5,1814.9 229.2,1812.3 229.9,1816.5 230.6,1813.8 231.3,1812.8 232,1814.7 232.7,1813.8 233.4,1812.2 234.1,1814.1 234.8,1812.3 235.5,1810.4 236.2,1815.9 236.9,1812.5 237.6,1812.1 238.3,1813.4 239,1810.7 239.7,1811 240.4,1812.2 241.1,1812.1 241.8,1813 242.5,1814.5 243.2,1812.1 243.9,1813.5 244.6,1813.7 245.3,1811.2 246,1813.1 246.7,1811.4 247.4,1814.3 248.1,1813.4 248.8,1812.7 249.5,1810.7 250.2,1812.8 250.9,1811.5 251.6,1813.7 252.3,1812.5 253,1811.4 253.7,1813.9 254.4,1813.6 255.1,1811.7 255.8,1814.2 256.5,1812.1 257.2,1812.1 257.9,1812.7 258.6,1811.4 259.3,1811.8 260,1812.2 260.7,1814.7 261.4,1814.6 262.1,1812 262.8,1814.7 263.5,1812.3 264.2,1812.9 264.9,1813.6 265.6,1812.7 266.3,1815.6 267,1812.6 267.7,1810.5 268.4,1814.1 269.1,1811.6 269.8,1811.8 270.5,1808.9 271.2,1813.6 271.9,1813.4 272.6,1813.3 273.3,1813.6 274,1814.6 274.7,1812 275.4,1813.4 276.1,1811 276.8,1811.5 277.5,1813.6 278.2,1812.6 278.9,1810.1 279.6,1812.5 280.3,1811.7 281,1810.8 281.7,1812.6 282.4,1811.3 283.1,1809.6 283.8,1810.3 284.5,1814.4 285.2,1809.7 285.9,1812.2 286.6,1812.7 287.3,1812.7 288,1810 288.7,1811.3 289.4,1812 290.1,1812.9 290.8,1810.8 291.5,1810 292.2,1813.1 292.9,1813.3 293.6,1812.2 294.3,1810.8 295,1812.2 295.7,1811.8 296.4,1812.8 297.1,1809.8 297.8,1811.7 298.5,1811.3 299.2,1809.9 299.9,1811.8 300.6,1811.5 301.3,1810.9 302,1812 302.7,1809.4 303.4,1811.3 304.1,1812 304.8,1811.8 305.5,1812.9 306.2,1809.6 306.9,1809.1 307.6,1811.7 308.3,1812 309,1814.3 309.7,1812.2 310.4,1810 311.1,1812.4 311.8,1810 312.5,1809 313.2,1814.5 313.9,1811.6 314.6,1812.2 315.3,1811.9 316,1813.7 316.7,1811.5 317.4,1812.8 318.1,1809.5 318.8,1809 319.5,1813.1 320.2,1813.1 320.9,1811.7 321.6,1811.3 322.3,1811.2 323,1809.9 323.7,1813.1 324.4,1811.8 325.1,1811.6 325.8,1811.4 326.5,1812.3 327.2,1811.5 327.9,1811.9 328.6,1809.1 329.3,1811.5 330,1813.9 330.7,1809.9 331.4,1810.5 332.1,1811.9 332.8,1812 333.5,1811.5 334.2,1808.3 334.9,1811.3 335.6,1808.8 336.3,1809.3 337,1811.3 337.7,1810.1 338.4,1811.7 339.1,1813.8 339.8,1811.6 340.5,1811.5 341.2,1809.1 341.9,1809.5 342.6,1808.8 343.3,1809.6 344,1808.7 344.7,1809.4 345.4,1810 346.1,1808.8 346.8,1808.2 347.5,1808.3 348.2,1810.9 348.9,1810.3 349.6,1811.7 350.3,1811.7 351,1809.6 351.7,1811.1 352.4,1808 353.1,1813.4 353.8,1811.8 354.5,1809.7 355.2,1808.3 355.9,1810.6 356.6,1807.3 357.3,1808.8 358,1811 358.7,1810 359.4,1809.2 360.1,1811.3 360.8,1808.4 361.5,1810.3 362.2,1809.1 362.9,1808.6 363.6,1810.5 364.3,1808.3 365,1812.5 365.7,1808.9 366.4,1812.6 367.1,1808.1 367.8,1810.6 368.5,1807.9 369.2,1807.7 369.9,1809.9 370.6,1810.6 371.3,1807.8 372,1811.3 372.7,1808.4 373.4,1809.8 374.1,1810.1 374.8,1810.4 375.5,1806.9 376.2,1811.8 376.9,1810.3 377.6,1808.8 378.3,1808 379,1807 379.7,1807.4 380.4,1810.2 381.1,1808.9 381.8,1807.7 382.5,1808.6 383.2,1811.6 383.9,1808.8 384.6,1808.5 385.3,1811.2 386,1809.9 386.7,1809.3 387.4,1808.4 388.1,1807 388.8,1807.5 389.5,1808.5 390.2,1808.9 390.9,1809.7 391.6,1809.9 392.3,1809.4 393,1809.4 393.7,1807.6 394.4,1806 395.1,1808.3 395.8,1807.7 396.5,1808.1 397.2,1808.6 397.9,1807.2 398.6,1807.4 399.3,1808.8 400,1809.1 400.7,1808 401.4,1809.6 402.1,1808.6 402.8,1807.4 403.5,1808.9 404.2,1811.6 404.9,1807.9 405.6,1810.5 406.3,1810.8 407,1811 407.7,1807.6 408.4,1811.7 409.1,1808.9 409.8,1808.4 410.5,1808.4 411.2,1809.6 411.9,1808.8 412.6,1808.4 413.3,1810.5 414,1807.6 414.7,1807.1 415.4,1809.7 416.1,1809.6 416.8,1810.1 417.5,1807 418.2,1810.1 418.9,1809.2 419.6,1811 420.3,1806.7 421,1808.8 421.7,1808 422.4,1806.1 423.1,1807.4 423.8,1810 424.5,1807.7 425.2,1807.3 425.9,1809.6 426.6,1809.7 427.3,1809.7 428,1807.1 428.7,1808.2 429.4,1809.7 430.1,1807.3 430.8,1807.1 431.5,1809.4 432.2,1810.4 432.9,1806.4 433.6,1804.8 434.3,1806 435,1806.6 435.7,1807.8 436.4,1808.9 437.1,1807.8 437.8,1806.9 438.5,1808.2 439.2,1806.5 439.9,1807.8 440.6,1806.9 441.3,1811.2 442,1809 442.7,1806.6 443.4,1806.3 444.1,1807.1 444.8,1805.3 445.5,1806.6 446.2,1806.6 446.9,1808.9 447.6,1806.9 448.3,1806.4 449,1805.6 449.7,1805.8 450.4,1807.3 451.1,1807.1 451.8,1809 452.5,1806.4 453.2,1808.8 453.9,1807.6 454.6,1807.2 455.3,1804.3 456,1805.3 456.7,1808.2 457.4,1809.1 458.1,1807.3 458.8,1808.1 459.5,1806.3 460.2,1806.3 460.9,1805.8 461.6,1808.2 462.3,1807.2 463,1806.3 463.7,1806.1 464.4,1807.3 465.1,1806.9 465.8,1805.2 466.5,1808.8 467.2,1806.7 467.9,1806.2 468.6,1808.3 469.3,1807.6 470,1805.9 470.7,1806.7 471.4,1804.3 472.1,1804.8 472.8,1802.4 473.5,1807.3 474.2,1802.7 474.9,1806.3 475.6,1804 476.3,1803.7 477,1804.7 477.7,1805.2 478.4,1805.6 479.1,1807.1 479.8,1804.9 480.5,1805.5 481.2,1803.2 481.9,1804.9 482.6,1803.9 483.3,1802.8 484,1803.1 484.7,1802.9 485.4,1803 486.1,1803 486.8,1801.4 487.5,1800.7 488.2,1802.5 488.9,1798.6 489.6,1799.7 490.3,1802.4 491,1796.3 491.7,1798 492.4,1799.4 493.1,1795.4 493.8,1800.3 494.5,1792.8 495.2,1797.2 495.9,1796.4 496.6,1794.3 497.3,1791.4 498,1790.7 498.7,1787.3 499.4,1787.6 500.1,1782.8 500.1,1783.9 500.4,1784.5 500.6,1780.9 500.8,1781 500.9,1781.4 501.1,1778.5 501.4,1780.3 501.5,1778.5 501.6,1775.8 501.9,1776.1 502.1,1773.8 502.2,1773.3 502.4,1773.1 502.6,1770.5 502.9,1770.3 502.9,1768.2 503.1,1768.2 503.4,1764.9 503.6,1763.4 503.6,1762 503.9,1759.4 504.1,1756 504.3,1755 504.4,1754.7 504.6,1752.3 504.9,1747.9 505,1744.7 505.1,1742.8 505.4,1739 505.6,1734.1 505.7,1733.2 505.9,1729.8 506.1,1723.3 506.4,1717.7 506.4,1717.8 506.6,1712.2 506.9,1705.5 507.1,1699.3 507.1,1698.5 507.4,1691.3 507.6,1683.5 507.8,1676.5 507.9,1676 508.1,1666.7 508.4,1658.2 508.5,1652.7 508.6,1649.5 508.9,1639.8 509.1,1630.2 509.2,1625.9 509.4,1620.5 509.6,1610.5 509.9,1601.3 509.9,1599.4 510.1,1591.9 510.4,1583.4 510.6,1574.9 510.6,1574.9 510.9,1567.3 511.1,1560.9 511.3,1556.7 511.4,1555.8 511.6,1551.6 511.9,1549.5 512,1548.7 512.1,1548.6 512.4,1549.3 512.6,1551.4 512.7,1552.8 512.9,1555.6 513.1,1560.6 513.4,1566.7 513.4,1568.4 513.6,1574.2 513.9,1582.2 514.1,1590.9 514.1,1591 514.4,1600.6 514.6,1610 514.8,1617.7 514.9,1619.7 515.1,1629.4 515.4,1638.2 515.5,1644.3 515.6,1647.8 515.9,1656.7 516.1,1665.7 516.2,1669.2 516.4,1674.2 516.6,1681.6 516.9,1689.7 516.9,1692.3 517.1,1696.6 517.4,1703 517.6,1710.4 517.6,1710.6 517.9,1716.6 518.1,1721.2 518.3,1726.7 518.4,1726.6 518.6,1731.1 518.9,1736 519,1738.9 519.1,1741.2 519.4,1745 519.6,1748 519.7,1750.2 519.9,1751.4 520.1,1755.2 520.4,1755.9 520.4,1756.2 520.6,1760.5 520.9,1760.7 521.1,1763.9 521.1,1764.1 521.4,1765.7 521.6,1767.6 521.8,1770.9 521.9,1767.2 522.1,1772.3 522.4,1775.3 522.5,1773.5 522.6,1774 522.9,1776.1 523.1,1778.6 523.2,1775.3 523.4,1777.5 523.6,1778.1 523.9,1780 523.9,1779.6 524.6,1782.4 525.3,1782.8 526,1784.9 526.7,1785.2 527.4,1786.2 528.1,1787.9 528.8,1788.6 529.5,1787.8 530.2,1792.2 530.9,1790.2 531.6,1788.8 532.3,1792.5 533,1789.7 533.7,1791.3 534.4,1790.2 535.1,1790.1 535.8,1789.4 536.5,1787.6 537.2,1787.7 537.9,1789.8 538.6,1782.7 539.3,1785.1 540,1784.7 540.7,1781.6 541.4,1780.2 542.1,1784.4 542.8,1779.9 543.5,1782.6 544.2,1779.6 544.9,1778 545.6,1777.7 546.3,1777 547,1776.7 547.7,1774.6 548.4,1773.1 549.1,1772.1 549.8,1772.7 550.5,1770.9 551.2,1767.3 551.9,1766.9 552.6,1767.5 553.3,1765.3 554,1765.1 554.7,1763.7 555.4,1764.4 556.1,1765.2 556.8,1765.9 557.5,1764.6 558.2,1767.8 558.9,1765 559.6,1768.9 560.3,1767.5 561,1767.3 561.7,1766.4 562.4,1764.4 563.1,1768.2 563.8,1769.3 564.5,1772.6 565.2,1768.5 565.9,1773.9 566.6,1771.4 567.3,1773.5 568,1769.7 568.7,1773.8 569.4,1773.6 570.1,1775.7 570.8,1775.5 571.5,1774.3 572.2,1778 572.9,1778.3 573.6,1778.8 574.3,1780.1 575,1780.9 575.7,1779.9 576.4,1778.6 577.1,1779.2 577.8,1783.9 578.5,1783.6 579.2,1783.3 579.9,1783.2 580.6,1784.4 581.3,1785 582,1785.1 582.7,1785.1 583.4,1789.8 584.1,1787.5 584.8,1786.7 585.5,1786.2 586.2,1787.4 586.9,1789.9 587.6,1790.3 588.3,1789.3 589,1790 589.7,1789.8 590.4,1789 591.1,1792.8 591.8,1791.8 592.5,1794.9 593.2,1790.7 593.9,1791.9 594.6,1793.7 595.3,1792.3 596,1790.9 596.7,1791.8 597.4,1793.6 598.1,1794.2 598.8,1793.8 599.5,1795.7 600.2,1795.9 600.9,1795.1 601.6,1794.9 602.3,1794.8 603,1796.2 603.7,1796.9 604.4,1795.9 605.1,1796.7 605.8,1795.8 606.5,1794.4 607.2,1795.3 607.9,1798.1 608.6,1797.9 609.3,1799.8 610,1797.8 610.7,1799.2 611.4,1800.1 612.1,1799.9 612.8,1797.8 613.5,1798.6 614.2,1799.3 614.9,1797.9 615.6,1800.2 616.3,1801.2 617,1799.2 617.7,1802.9 618.4,1799.7 619.1,1799.9 619.8,1800 620.5,1799.3 621.2,1801 621.9,1800.4 622.6,1802.8 623.3,1801.2 624,1801.1 624.7,1800 625.4,1798.2 626.1,1800 626.8,1798.8 627.5,1801.4 628.2,1799.9 628.9,1802.2 629.6,1800.8 630.3,1800.8 631,1799.8 631.7,1799.7 632.4,1800.2 633.1,1800.5 633.8,1798 634.5,1799.6 635.2,1802.1 635.9,1798.5 636.6,1798 637.3,1797.2 638,1795.9 638.7,1799.5 639.4,1797.6 640.1,1797.7 640.8,1799.7 641.5,1800.2 642.2,1795.4 642.9,1798 643.6,1797.2 644.3,1796.8 645,1796.8 645.7,1796 646.4,1798.3 647.1,1796.9 647.8,1796.6 648.5,1798 649.2,1797.6 649.9,1797.1 650.6,1797.1 651.3,1799.3 652,1797.8 652.7,1797.1 653.4,1796.2 654.1,1797.2 654.8,1796.5 655.5,1798.4 656.2,1798.9 656.9,1795.9 657.6,1799.1 658.3,1800.3 659,1799.9 659.7,1798.5 660.4,1802 661.1,1799.4 661.8,1798.9 662.5,1799.5 663.2,1801.3 663.9,1803.1 664.6,1803.7 665.3,1802.7 666,1801 666.7,1802.1 667.4,1802.1 668.1,1803.5 668.8,1801.4 669.5,1804.4 670.2,1805.4 670.9,1804.5 671.6,1805.5 672.3,1803.7 673,1803.1 673.7,1804.4 674.4,1807.1 675.1,1807.1 675.8,1805.1 676.5,1807.6 677.2,1805.6 677.9,1808.4 678.6,1807 679.3,1805.8 680,1807.7 680.7,1805.5 681.4,1805.4 682.1,1804.8 682.8,1807.4 683.5,1807.1 684.2,1807.1 684.9,1806.8 685.6,1809.5 686.3,1807 687,1806.6 687.7,1809.6 688.4,1809.9 689.1,1808.4 689.8,1805.5 690.5,1807.3 691.2,1809.1 691.9,1808.3 692.6,1810.6 693.3,1806.5 694,1809.5 694.7,1807.7 695.4,1810.6 696.1,1808.6 696.8,1810.3 697.5,1808 698.2,1806.9 698.9,1807.4 699.6,1808.2 700.3,1807.6 701,1810.9 701.7,1811.2 702.4,1809.7 703.1,1807.8 703.8,1809.2 704.5,1808.4 705.2,1811.6 705.9,1809.9 706.6,1810.2 707.3,1809 708,1806.7 708.7,1808.5 709.4,1808 710.1,1810.2 710.8,1809.9 711.5,1808.6 712.2,1809.2 712.9,1812.1 713.6,1808.4 714.3,1808.5 715,1809.6 715.7,1808.9 716.4,1809.3 717.1,1810.8 717.8,1812.5 718.5,1807.5 719.2,1810.1 719.9,1810.2 720.6,1810 721.3,1809.9 722,1809.7 722.7,1811.7 723.4,1809.6 724.1,1810.1 724.8,1810.3 725.5,1810.5 726.2,1810.1 726.9,1811.8 727.6,1810.4 728.3,1810.7 729,1810.4 729.7,1809 730.4,1809.3 731.1,1809 731.8,1810.8 732.5,1809.5 733.2,1809 733.9,1810.9 734.6,1811.4 735.3,1808.1 736,1813.1 736.7,1810.7 737.4,1810.5 738.1,1812.3 738.8,1810.8 739.5,1809.9 740.2,1813.9 740.9,1809.2 741.6,1810.6 742.3,1812 743,1809.3 743.7,1810.7 744.4,1811.4 745.1,1814.2 745.8,1809.6 746.5,1810.8 747.2,1811.8 747.9,1811 748.6,1809.2 749.3,1811.5 750,1811.1 750.7,1811.6 751.4,1812.6 752.1,1812.4 752.8,1811.6 753.5,1811.4 754.2,1809.4 754.9,1810.8 755.6,1811.3 756.3,1810.4 757,1811.1 757.7,1809.8 758.4,1813.2 759.1,1814.1 759.8,1810.4 760.5,1811.6 761.2,1810.7 761.9,1812.8 762.6,1811.6 763.3,1811.1 764,1810.7 764.7,1811.2 765.4,1809.5 766.1,1812 766.8,1810 767.5,1811.8 768.2,1811.2 768.9,1812.6 769.6,1811 770.3,1812.5 771,1809.7 771.7,1811.9 772.4,1810.7 773.1,1811.3 773.8,1811.1 774.5,1812.3 775.2,1808.1 775.9,1811.4 776.6,1808.8 777.3,1812.7 778,1808.1 778.7,1809.5 779.4,1808.5 780.1,1813.3 780.8,1809.1 781.5,1811.1 782.2,1810.2 782.9,1808.3 783.6,1810.4 784.3,1811.9 785,1810.7 785.7,1812.3 786.4,1810.4 787.1,1810.9 787.8,1810.3 788.5,1811.4 789.2,1813.6 789.9,1811.4 790.6,1811.2 791.3,1810 792,1809.8 792.7,1813 793.4,1809.2 794.1,1809.5 794.8,1810.7 795.5,1810.2 796.2,1813.6 796.9,1807.5 797.6,1811.3 798.3,1811.8 799,1809.1 799.7,1809.8 800.4,1811.4 801.1,1813.1 801.8,1809.4 802.5,1808.4 803.2,1812.1 803.9,1812.9 804.6,1810.2 805.3,1807.5 806,1812.8 806.7,1810.3 807.4,1812.2 808.1,1810.5 808.8,1810 809.5,1809.9 810.2,1812.7 810.9,1812.6 811.6,1807.4 812.3,1809.2 813,1813.1 813.7,1809.9 814.4,1808.5 815.1,1810.4 815.8,1810.3 816.5,1810.3 817.2,1809.7 817.9,1809.9 818.6,1809.7 819.3,1810.8 820,1809.1 820.7,1809.9 821.4,1810.1 822.1,1812.1 822.8,1810.8 823.5,1810 824.2,1810.9 824.9,1810.7 825.6,1811.7 826.3,1810.8 827,1812.7 827.7,1812 828.4,1810 829.1,1809.4 829.8,1811.2 830.5,1810.5 831.2,1809.4 831.9,1807.1 832.6,1806.3 833.3,1809.2 834,1809.4 834.7,1809.2 835.4,1805.9 836.1,1809 836.8,1806.4 837.5,1807.5 838.2,1807.3 838.9,1805.2 839.6,1805.3 840.3,1802.9 841,1804.3 841.7,1802.8 842.4,1805.9 843.1,1805.2 843.8,1806.3 844.5,1805.4 845.2,1803.9 845.9,1805.3 846.6,1804.2 847.3,1805.6 848,1805.1 848.7,1803.2 849.4,1804.6 850.1,1804.6 850.8,1804.1 851.5,1805.8 852.2,1806.9 852.9,1803.9 853.6,1803.9 854.3,1801.1 855,1804.2 855.7,1803.7 856.4,1801.1 857.1,1804.6 857.8,1805 858.5,1803.1 859.2,1803.5 859.9,1802.6 860.6,1805 861.3,1801.6 862,1803.2 862.7,1806.4 863.4,1803.4 864.1,1803.8 864.8,1802.7 865.5,1801 866.2,1802.4 866.9,1802.8 867.6,1800.5 868.3,1802.2 869,1803.2 869.7,1802.7 870.4,1798.5 871.1,1799.1 871.8,1797.9 872.5,1801.6 873.2,1800.6 873.9,1800.5 874.6,1798 875.3,1797.3 876,1798.9 876.7,1798.8 877.4,1797.2 878.1,1798.5 878.8,1799.1 879.5,1798.4 880.2,1796.5 880.9,1794.9 881.6,1797.6 882.3,1798.3 883,1797.9 883.7,1797.8 884.4,1797.7 885.1,1800.1 885.8,1799.3 886.5,1800 887.2,1798.8 887.9,1799.7 888.6,1801.2 889.3,1799.9 890,1800 890.7,1801.7 891.4,1804.2 892.1,1803 892.8,1805.1 893.5,1802.9 894.2,1802.8 894.9,1801.4 895.6,1802.8 896.3,1805.9 897,1804.4 897.7,1805.2 898.4,1805.3 899.1,1804.4 899.8,1804.2 900.5,1804.8 901.2,1805.7 901.9,1805.5 902.6,1805.6 903.3,1805.2 904,1803.9 904.7,1804.6 905.4,1803.6 906.1,1806.4 906.8,1801.9 907.5,1804.5 908.2,1808.1 908.9,1804.2 909.6,1802.9 910.3,1804.4 911,1806.1 911.7,1803.9 912.4,1804.8 913.1,1803.9 913.8,1803 914.5,1806.7 915.2,1803.2 915.9,1802.1 916.6,1802 917.3,1803 918,1802.8 918.7,1803.1 919.4,1801.9 920.1,1799.4 920.8,1802 921.5,1800.6 922.2,1800.4 922.9,1798.5 923.6,1799.6 924.3,1799.1 925,1799.9 925.7,1797.7 926.4,1799.7 927.1,1799.6 927.8,1797.5 928.5,1798 929.2,1797.4 929.9,1799.7 930.6,1794.8 931.3,1797.4 932,1795.2 932.7,1796.7 933.4,1798.3 934.1,1795.9 934.8,1796.7 935.5,1795 936.2,1798.8 936.9,1797 937.6,1797.1 938.3,1793.3 939,1793.4 939.7,1796.3 940.4,1794.3 941.1,1794 941.8,1794.7 942.5,1792.2 943.2,1795 943.9,1793.8 944.6,1794.4 945.3,1792.6 946,1794.3 946.7,1792.5 947.4,1794.9 948.1,1795.2 948.8,1795 949.5,1794.5 950.2,1794.9 950.9,1790.8 951.6,1795.6 952.3,1794.3 953,1795.1 953.7,1794.9 954.4,1793.6 955.1,1795.2 955.8,1797.3 956.5,1798.8 957.2,1796.2 957.9,1796.2 958.6,1800 959.3,1797 960,1801.6 960.7,1799 961.4,1798 962.1,1801 962.8,1802.3 963.5,1798.1 964.2,1802.7 964.9,1800.4 965.6,1803.3 966.3,1801 967,1799.6 967.7,1802.9 968.4,1803.9 969.1,1805.9 969.8,1805.7 970.5,1804.5 971.2,1803.5 971.9,1803.3 972.6,1803.9 973.3,1803.3 974,1804.3 974.7,1801.6 975.4,1805.3 976.1,1805.1 976.8,1808.6 977.5,1806.4 978.2,1804.7 978.9,1806.3 979.6,1803.8 980.3,1804.8 981,1803.1 981.7,1808 982.4,1806.8 983.1,1804.3 983.8,1806 984.5,1807.6 985.2,1807 985.9,1806.9 986.6,1805.2 987.3,1805.6 988,1806.7 988.7,1808 989.4,1805.5 990.1,1805.2 990.8,1808.5 991.5,1805.6 992.2,1808.5 992.9,1807.4 993.6,1808.4 994.3,1809.7 995,1808.2 995.7,1808.4 996.4,1806 997.1,1806.4 997.8,1808.4 998.5,1809.7 999.2,1809.5 999.9,1810.9 1000.6,1808.1 1001.3,1808 1002,1809.2 1002.7,1807.8 1003.4,1807.7 1004.1,1806.3 1004.8,1809.3 1005.5,1806.4 1006.2,1808.7 1006.9,1805.9 1007.6,1809.6 1008.3,1806.6 1009,1809.3 1009.7,1805.8 1010.4,1807.5 1011.1,1809.9 1011.8,1807 1012.5,1808.3 1013.2,1807.6 1013.9,1805 1014.6,1808.8 1015.3,1809 1016,1806.8 1016.7,1809.2 1017.4,1807.3 1018.1,1807 1018.8,1808.5 1019.5,1807.5 1020.2,1811.8 1020.9,1806.3 1021.6,1809.6 1022.3,1810 1023,1805.7 1023.7,1806.1 1024.4,1809.4 1025.1,1808 1025.8,1809.2 1026.5,1810.3 1027.2,1808.2 1027.9,1807.2 1028.6,1805.4 1029.3,1809.1 1030,1807.4 1030.7,1809.3 1031.4,1809.2 1032.1,1806.8 1032.8,1811.4 1033.5,1810.4 1034.2,1810.1 1034.9,1807.2 1035.6,1808.3 1036.3,1808.2 1037,1808.4 1037.7,1807.3 1038.4,1809.6 1039.1,1809.3 1039.8,1809.6 1040.5,1808.3 1041.2,1810.9 1041.9,1809.3 1042.6,1805.7 1043.3,1808.2 1044,1809 1044.7,1810.5 1045.4,1808.7 1046.1,1808.8 1046.8,1808.2 1047.5,1810.1 1048.2,1808.5 1048.9,1808.3 1049.6,1808.1 1050.3,1810 1051,1808.4 1051.7,1806.8 1052.4,1810.1 1053.1,1808.2 1053.8,1809.8 1054.5,1809.8 1055.2,1811 1055.9,1810.8 1056.6,1808.4 1057.3,1809 1058,1807.4 1058.7,1811.7 1059.4,1809.9 1060.1,1811.3 1060.8,1808.8 1061.5,1806.3 1062.2,1811.5 1062.9,1809.4 1063.6,1809.5 1064.3,1809.3 1065,1810.1 1065.7,1809.9 1066.4,1806.7 1067.1,1810.4 1067.8,1807.9 1068.5,1807.8 1069.2,1810.8 1069.9,1809.5 1070.6,1807.4 1071.3,1805 1072,1807.7 1072.7,1808 1073.4,1806.8 1074.1,1804.9 1074.8,1805.3 1075.5,1804.4 1076.2,1806.2 1076.9,1806.8 1077.6,1806.6 1078.3,1803.6 1079,1804.4 1079.7,1804.3 1080.4,1802.1 1081.1,1802 1081.8,1804.7 1082.5,1801.4 1083.2,1801.9 1083.9,1799.6 1084.6,1800 1085.3,1797.3 1086,1799.8 1086.7,1801.8 1087.4,1803.5 1088.1,1802.8 1088.8,1802.7 1089.5,1802.5 1090.2,1802.2 1090.9,1803.5 1091.6,1805.2 1092.3,1803.5 1093,1806.4 1093.7,1804 1094.4,1803.2 1095.1,1804.6 1095.8,1803.9 1096.5,1804.6 1097.2,1808.4 1097.9,1806.5 1098.6,1807.1 1099.3,1808.4 1100,1808.4 1100.7,1805.7 1101.4,1808.2 1102.1,1806.7 1102.8,1805.9 1103.5,1806.3 1104.2,1803.3 1104.9,1804 1105.6,1804.7 1106.3,1805.5 1107,1803.8 1107.7,1803.9 1108.4,1805.3 1109.1,1805.8 1109.8,1804.7 1110.5,1805.2 1111.2,1802.7 1111.9,1802.7 1112.6,1803.4 1113.3,1802.4 1114,1801.9 1114.7,1804.9 1115.4,1802.1 1116.1,1800.8 1116.8,1802.8 1117.5,1804.6 1118.2,1802 1118.9,1803.5 1119.6,1801 1120.3,1800.9 1121,1800.5 1121.7,1801.3 1122.4,1804.2 1123.1,1799.8 1123.8,1803.9 1124.5,1800.1 1125.2,1801.3 1125.9,1802.9 1126.6,1802.7 1127.3,1802.3 1128,1799.6 1128.7,1802.6 1129.4,1800.7 1130.1,1805.6 1130.8,1802.1 1131.5,1802.8 1132.2,1801 1132.9,1802.1 1133.6,1801.1 1134.3,1804.5 1135,1802.8 1135.7,1804.1 1136.4,1802.5 1137.1,1802.8 1137.8,1805.6 1138.5,1802.4 1139.2,1801.3 1139.9,1804.6 1140.6,1802.4 1141.3,1803.5 1142,1805.6 1142.7,1803.1 1143.4,1805.7 1144.1,1803.5 1144.8,1806.7 1145.5,1806.6 1146.2,1804 1146.9,1804.5 1147.6,1803.7 1148.3,1805.2 1149,1806.7 1149.7,1803 1150.4,1806.5 1151.1,1803.3 1151.8,1804 1152.5,1802.8 1153.2,1808.5 1153.9,1805.6 1154.6,1805.9 1155.3,1804.7 1156,1807.3 1156.7,1802.7 1157.4,1805.9 1158.1,1809.1 1158.8,1805.4 1159.5,1806.1 1160.2,1807.1 1160.9,1805 1161.6,1806.3 1162.3,1807.7 1163,1806.6 1163.7,1807 1164.4,1806 1165.1,1807 1165.8,1806.7 1166.5,1808.8 1167.2,1807.8 1167.9,1806.4 1168.6,1803.5 1169.3,1808 1170,1808.1 1170.7,1805.7 1171.4,1804.2 1172.1,1805.5 1172.8,1808.6 1173.5,1805.7 1174.2,1806.7 1174.9,1807.7 1175.6,1809.2 1176.3,1807.5 1177,1807.4 1177.7,1806.8 1178.4,1810.1 1179.1,1809.3 1179.8,1807.7 1180.5,1805.8 1181.2,1806.8 1181.9,1808.8 1182.6,1807 1183.3,1809.4 1184,1808.7 1184.7,1808.6 1185.4,1809.2 1186.1,1809.1 1186.8,1807.2 1187.5,1808 1188.2,1811.8 1188.9,1806.8 1189.6,1807.9 1190.3,1810.2 1191,1808.5 1191.7,1807.6 1192.4,1806.9 1193.1,1809.7 1193.8,1810.4 1194.5,1811 1195.2,1809.1 1195.9,1810.6 1196.6,1807.6 1197.3,1809.4 1198,1808.3 1198.7,1809.5 1199.4,1810.4 1200.1,1810.9 1200.8,1808 1201.5,1811.3 1202.2,1808.8 1202.9,1808.1 1203.6,1809.4 1204.3,1807.5 1205,1809.7 1205.7,1810.2 1206.4,1809.5 1207.1,1810.6 1207.8,1809.4 1208.5,1809.9 1209.2,1807.9 1209.9,1810.1 1210.6,1808.8 1211.3,1809.4 1212,1810 1212.7,1810.4 1213.4,1807.8 1214.1,1808 1214.8,1809.8 1215.5,1811 1216.2,1810.9 1216.9,1811.7 1217.6,1812.3 1218.3,1811.2 1219,1810.5 1219.7,1809.1 1220.4,1809.2 1221.1,1810 1221.8,1811.1 1222.5,1811.1 1223.2,1810.8 1223.9,1810.6 1224.6,1811.8 1225.3,1811.2 1226,1811.4 1226.7,1811.4 1227.4,1810.2 1228.1,1809.6 1228.8,1811.8 1229.5,1811.7 1230.2,1810.9 1230.9,1810.6 1231.6,1814.6 1232.3,1810.2 1233,1811 1233.7,1811.7 1234.4,1809.7 1235.1,1811.6 1235.8,1814.1 1236.5,1812.9 1237.2,1812.4 1237.9,1812.4 1238.6,1811.8 1239.3,1813 1240,1811.4 1240.7,1811.1 1241.4,1811.9 1242.1,1813 1242.8,1812.2 1243.5,1812.8 1244.2,1808.9 1244.9,1813.6 1245.6,1815.2 1246.3,1813.8 1247,1811.4 1247.7,1810.7 1248.4,1812.3 1249.1,1810.5 1249.8,1813 1250.5,1811.2 1251.2,1813.4 1251.9,1814 1252.6,1809 1253.3,1812.4 1254,1811 1254.7,1810 1255.4,1811.1 1256.1,1811.7 1256.8,1813.5 1257.5,1809.8 1258.2,1813.5 1258.9,1814.9 1259.6,1812.9 1260.3,1812.8 1261,1812 1261.7,1810.3 1262.4,1812.8 1263.1,1812.6 1263.8,1813.1 1264.5,1815.3 1265.2,1813.1 1265.9,1812.6 1266.6,1814.3 1267.3,1810 1268,1810.3 1268.7,1811.5 1269.4,1811.1 1270.1,1813 1270.8,1811.5 1271.5,1814.5 1272.2,1814.2 1272.9,1813.1 1273.6,1811.4 1274.3,1812.9 1275,1813.2 1275.7,1810.5 1276.4,1812.5 1277.1,1813 1277.8,1812.3 1278.5,1814.3 1279.2,1813.8 1279.9,1810.8 1280.6,1812.2 1281.3,1810.8 1282,1812.8 1282.7,1810.7 1283.4,1813.3 1284.1,1812.6 1284.8,1813.4 1285.5,1811.8 1286.2,1809.9 1286.9,1814.6 1287.6,1811.8 1288.3,1814 1289,1812.6 1289.7,1813 1290.4,1814.7 1291.1,1812.5 1291.8,1814 1292.5,1809.8 1293.2,1813.3 1293.9,1811.6 1294.6,1811.8 1295.3,1812 1296,1812.5 1296.7,1814.4 1297.4,1809.3 1298.1,1812.1 1298.8,1811 1299.5,1813.7 1300.2,1811.4 1300.9,1812.7 1301.6,1811.4 1302.3,1813 1303,1813.5 1303.7,1811.4 1304.4,1812.1 1305.1,1809.9 1305.8,1812.4 1306.5,1813.2 1307.2,1811.2 1307.9,1813.6 1308.6,1809 1309.3,1809.3 1310,1810 1310.7,1811.3 1311.4,1812 1312.1,1811.9 1312.8,1811.9 1313.5,1813 1314.2,1811.3 1314.9,1810.2 1315.6,1810.2 1316.3,1815.1 1317,1808.7 1317.7,1811.7 1318.4,1814.1 1319.1,1812.7 1319.8,1810.8 1320.5,1812 1321.2,1813.3 1321.9,1813.8 1322.6,1810.7 1323.3,1813.1 1324,1812.4 1324.7,1813.6 1325.4,1814 1326.1,1811.5 1326.8,1809.9 1327.5,1812.6 1328.2,1814.6 1328.9,1813 1329.6,1812.3 1330.3,1815.3 1331,1810.5 1331.7,1813.3 1332.4,1811.2 1333.1,1812.1 1333.8,1812.1 1334.5,1814.2 1335.2,1810.6 1335.9,1811.2 1336.6,1809.7 1337.3,1812.7 1338,1811.3 1338.7,1812.6 1339.4,1810.4 1340.1,1811.5 1340.8,1813.5 1341.5,1811.7 1342.2,1812.9 1342.9,1812.8 1343.6,1811.5 1344.3,1809.7 1345,1813.4 1345.7,1812.2 1346.4,1813.4 1347.1,1809.1 1347.8,1809.6 1348.5,1808.9 1349.2,1810.7 1349.9,1813.5 1350.6,1812.8 1351.3,1812 1352,1812.2 1352.7,1813.1 1353.4,1811.6 1354.1,1812.6 1354.8,1812.2 1355.5,1808.8 1356.2,1811.4 1356.9,1814 1357.6,1811.4 1358.3,1811.8 1359,1811.1 1359.7,1811.3 1360.4,1813.6 1361.1,1811.6 1361.8,1810.5 1362.5,1808.7 1363.2,1811.2 1363.9,1809.1 1364.6,1809.4 1365.3,1813.2 1366,1813 1366.7,1809.2 1367.4,1813.2 1368.1,1812.7 1368.8,1810.9 1369.5,1813.1 1370.2,1809.6 1370.9,1810.3 1371.6,1809.9 1372.3,1810.4 1373,1813.3 1373.7,1810.1 1374.4,1810.3 1375.1,1810.6 1375.8,1812.3 1376.5,1811.5 1377.2,1813.3 1377.9,1811 1378.6,1810.1 1379.3,1811.3 1380,1812.1 1380.7,1810.6 1381.4,1812.4 1382.1,1814.6 1382.8,1811.1 1383.5,1812.1 1384.2,1813.9 1384.9,1811 1385.6,1810.8 1386.3,1810.4 1387,1812.6 1387.7,1812.7 1388.4,1811.8 1389.1,1812 1389.8,1813.8 1390.5,1813.2 1391.2,1809.9 1391.9,1812 1392.6,1812.1 1393.3,1813 1394,1811.6 1394.7,1811 1395.4,1811.3 1396.1,1809.4 1396.8,1811.9 1397.5,1811.1 1398.2,1812.6 1398.9,1810.5 1399.6,1811.3 1400.3,1810.5 1401,1810.4 1401.7,1813 1402.4,1811.3 1403.1,1812.6 1403.8,1810.3 1404.5,1812.1 1405.2,1809.5 1405.9,1811.3 1406.6,1811.2 1407.3,1812.8 1408,1812.2 1408.7,1811.7 1409.4,1813.2 1410.1,1812.2 1410.8,1812.7 1411.5,1813 1412.2,1811.8 1412.9,1811.5 1413.6,1812.4 1414.3,1811.3 1415,1812.5 1415.7,1813.5 1416.4,1813.2 1417.1,1811.4 1417.8,1810.1 1418.5,1811.8 1419.2,1811.7 1419.9,1813.5 1420.6,1811.4 1421.3,1811.6 1422,1813 1422.7,1811.2 1423.4,1811.7 1424.1,1814.4 1424.8,1814.1 1425.5,1812.8 1426.2,1812.3 1426.9,1810.5 1427.6,1812.7 1428.3,1812 1429,1812.2 1429.7,1811.1 1430.4,1811.9 1431.1,1811.6 1431.8,1812.3 1432.5,1813.9 1433.2,1812.4 1433.9,1809.5 1434.6,1810.5 1435.3,1809.6 1436,1810.7 1436.7,1812.7 1437.4,1812.4 1438.1,1811 1438.8,1812.2 1439.5,1810.8 1440.2,1809.8 1440.9,1809.8 1441.6,1810.6 1442.3,1813.9 1443,1809.9 1443.7,1813.6 1444.4,1813.7 1445.1,1811.6 1445.8,1811.7 1446.5,1810.9 1447.2,1811.8 1447.9,1812.8 1448.6,1811.8 1449.3,1813.2 1450,1813.5 1450.7,1812.3 1451.4,1812.3 1452.1,1811.7 1452.8,1812.3 1453.5,1810.2 1454.2,1812.4 1454.9,1812.1 1455.6,1810.5 1456.3,1814.9 1457,1810.3 1457.7,1810.5 1458.4,1812.2 1459.1,1808.9 1459.8,1810.6 1460.5,1809.5 1461.2,1810.3 1461.9,1811.5 1462.6,1812.2 1463.3,1813.3 1464,1812.9 1464.7,1813.4 1465.4,1812.6 1466.1,1811 1466.8,1813.3 1467.5,1811 1468.2,1810.8 1468.9,1813.9 1469.6,1812.8 1470.3,1812 1471,1812.8 1471.7,1812.9 1472.4,1809.7 1473.1,1811.5 1473.8,1809.9 1474.5,1811.8 1475.2,1810.7 1475.9,1813.6 1476.6,1812.4 1477.3,1810.4 1478,1811.6 1478.7,1809.8 1479.4,1811.7 1480.1,1812.4 1480.8,1812 1481.5,1808.8 1482.2,1811.1 1482.9,1812.3 1483.6,1812 1484.3,1813.2 1485,1809.7 1485.7,1812.3 1486.4,1810.6 1487.1,1811.8 1487.8,1812.1 1488.5,1812.5 1489.2,1810.7 1489.9,1811.8 1490.6,1809.8 1491.3,1809.5 1492,1812.3 1492.7,1811.4 1493.4,1809.1 1494.1,1810.2 1494.8,1811.5 1495.5,1813.7 1496.2,1813 1496.9,1812.6 1497.6,1808.9 1498.3,1811.3 1499,1812.1 1499.7,1812 1500.4,1812 1501.1,1811.1 1501.8,1813.9 1502.5,1813.5 1503.2,1811.2 1503.9,1810 1504.6,1814.3 1505.3,1810.6 1506,1813.1 1506.7,1814.1 1507.4,1810 1508.1,1811.7 1508.8,1810.8 1509.5,1812.1 1510.2,1811.8 1510.9,1814.1 1511.6,1812.1 1512.3,1811.3 1513,1812.9 1513.7,1810.9 1514.4,1810.7 1515.1,1814.5 1515.8,1810 1516.5,1810.5 1517.2,1811.2 1517.9,1809.6 1518.6,1808.1 1519.3,1812.7 1520,1810 1520.7,1810.3 1521.4,1810.5 1522.1,1809.6 1522.8,1809.5 1523.5,1811.3 1524.2,1814.4 1524.9,1812.1 1525.6,1812 1526.3,1808.8 1527,1810.9 1527.7,1809.2 1528.4,1812 1529.1,1810.5 1529.8,1810.9 1530.5,1810.7 1531.2,1809.9 1531.9,1808.5 1532.6,1811.5 1533.3,1808.7 1534,1808.9 1534.7,1810.2 1535.4,1809.5 1536.1,1810.9 1536.8,1812 1537.5,1810.8 1538.2,1810.7 1538.9,1810.4 1539.6,1811.6 1540.3,1807.6 1541,1810.8 1541.7,1808.9 1542.4,1808.4 1543.1,1810.1 1543.8,1809.5 1544.5,1810.9 1545.2,1811.6 1545.9,1806.7 1546.6,1809.7 1547.3,1812.5 1548,1810.8 1548.7,1811.4 1549.4,1809.2 1550.1,1806.6 1550.8,1806.8 1551.5,1809.1 1552.2,1809.2 1552.9,1806.4 1553.6,1806.7 1554.3,1807.1 1555,1803.7 1555.7,1805.3 1556.4,1807.7 1557.1,1808.1 1557.8,1804.4 1558.5,1806.9 1559.2,1803.4 1559.9,1803 1560.6,1801.1 1561.3,1806.1 1562,1804.6 1562.7,1809.1 1563.4,1806.7 1564.1,1807.1 1564.8,1804.7 1565.5,1809.9 1566.2,1807.5 1566.9,1808 1567.6,1805.3 1568.3,1810.1 1569,1810.4 1569.7,1808.3 1570.4,1809.5 1571.1,1810.1 1571.8,1811.1 1572.5,1810 1573.2,1812.5 1573.9,1809.8 1574.6,1809.4 1575.3,1809.7 1576,1807.2 1576.7,1809.3 1577.4,1812 1578.1,1810.9 1578.8,1809.4 1579.5,1811.2 1580.2,1807.8 1580.9,1810.3 1581.6,1811.6 1582.3,1811.8 1583,1809.8 1583.7,1812.2 1584.4,1813.7 1585.1,1810.4 1585.8,1812.1 1586.5,1808.8 1587.2,1808.3 1587.9,1812 1588.6,1811.2 1589.3,1811.5 1590,1810.4 1590.7,1810.9 1591.4,1812.5 1592.1,1813.8 1592.8,1811.1 1593.5,1809 1594.2,1813.3 1594.9,1812.3 1595.6,1812.5 1596.3,1811.8 1597,1814.9 1597.7,1811.7 1598.4,1812.3 1599.1,1808.9 1599.8,1810.8 1600.5,1810.7 1601.2,1811.6 1601.9,1812.2 1602.6,1810.6 1603.3,1814.2 1604,1810.2 1604.7,1811.1 1605.4,1812.1 1606.1,1810 1606.8,1812.6 1607.5,1812.7 1608.2,1811.4 1608.9,1814.6 1609.6,1812 1610.3,1812.3 1611,1810.5 1611.7,1809.4 1612.4,1811 1613.1,1811.4 1613.8,1811.2 1614.5,1813 1615.2,1808.6 1615.9,1810.3 1616.6,1809.3 1617.3,1813.9 1618,1811.1 1618.7,1811.2 1619.4,1810.3 1620.1,1813.2 1620.8,1811.3 1621.5,1812.2 1622.2,1809 1622.9,1813.6 1623.6,1812.5 1624.3,1812.7 1625,1813.7 1625.7,1811.6 1626.4,1811.7 1627.1,1812.9 1627.8,1812.5 1628.5,1811.5 1629.2,1812 1629.9,1811.2 1630.6,1812.9 1631.3,1813.2 1632,1811.9 1632.7,1814.6 1633.4,1809.6 1634.1,1811.5 1634.8,1814.3 1635.5,1811.2 1636.2,1809.5 1636.9,1813.8 1637.6,1812.6 1638.3,1810.1 1639,1812.9 1639.7,1810.3 1640.4,1809.8 1641.1,1811.5 1641.8,1811 1642.5,1810.1 1643.2,1811.2 1643.9,1810.3 1644.6,1811.8 1645.3,1811.7 1646,1812.8 1646.7,1811 1647.4,1809.7 1648.1,1809.7 1648.8,1811.3 1649.5,1813.9 1650.2,1812.8 1650.9,1810.7 1651.6,1813 1652.3,1809.9 1653,1813 1653.7,1811 1654.4,1812.7 1655.1,1812.4 1655.8,1811.1 1656.5,1812 1657.2,1809.9 1657.9,1811.4 1658.6,1813 1659.3,1814.8 1660,1812.5 1660.7,1811.5 1661.4,1809.9 1662.1,1812.9 1662.8,1809 1663.5,1810.2 1664.2,1811.9 1664.9,1809.6 1665.6,1813.6 1666.3,1812.9 1667,1810.5 1667.7,1810.5 1668.4,1809.4 1669.1,1809.2 1669.8,1811.9 1670.5,1812.1 1671.2,1811.7 1671.9,1811.6 1672.6,1810.4 1673.3,1811.7 1674,1809 1674.7,1811.2 1675.4,1813.3 1676.1,1813.1 1676.8,1810.5 1677.5,1810.6 1678.2,1813.1 1678.9,1813.7 1679.6,1808.9 1680.3,1810.5 1681,1811.4 1681.7,1812.8 1682.4,1809.8 1683.1,1812 1683.8,1810.6 1684.5,1814.4 1685.2,1811.6 1685.9,1810.8 1686.6,1810.5 1687.3,1812.5 1688,1812 1688.7,1809.4 1689.4,1811.3 1690.1,1809 1690.8,1809.9 1691.5,1809.1 1692.2,1809 1692.9,1810 1693.6,1809.5 1694.3,1811.7 1695,1812.1 1695.7,1810.6 1696.4,1809.3 1697.1,1812.1 1697.8,1808 1698.5,1808.1 1699.2,1812 1699.9,1811.9 1700.6,1812.4 1701.3,1810.6 1702,1809.1 1702.7,1810.2 1703.4,1811.8 1704.1,1809.8 1704.8,1809.9 1705.5,1808.9 1706.2,1809.3 1706.9,1812.2 1707.6,1811.7 1708.3,1809.3 1709,1809.5 1709.7,1810.2 1710.4,1811.9 1711.1,1809.4 1711.8,1810.8 1712.5,1808 1713.2,1809.3 1713.9,1811.8 1714.6,1812.5 1715.3,1809.5 1716,1810.1 1716.7,1812.4 1717.4,1810.7 1718.1,1810.5 1718.8,1812 1719.5,1811.6 1720.2,1813 1720.9,1812.5 1721.6,1810.5 1722.3,1811.2 1723,1811.3 1723.7,1809.5 1724.4,1810.1 1725.1,1812.9 1725.8,1809.2 1726.5,1813 1727.2,1812 1727.9,1811.4 1728.6,1812.4 1729.3,1812.4 1730,1813.4 1730.7,1811.1 1731.4,1811.4 1732.1,1811.4 1732.8,1814.5 1733.5,1813.2 1734.2,1810.5 1734.9,1811.4 1735.6,1810.9 1736.3,1811.9 1737,1812.3 1737.7,1815.3 1738.4,1809.3 1739.1,1813.5 1739.8,1812.7 1740.5,1811 1741.2,1811.9 1741.9,1811.4 1742.6,1812.2 1743.3,1813.6 1744,1810 1744.7,1814.1 1745.4,1811.7 1746.1,1814.4 1746.8,1812.9 1747.5,1814.1 1748.2,1813.1 1748.9,1813.9 1749.6,1812.4 1750.3,1811.1 1751,1813.3 1751.7,1813.4 1752.4,1815.4 1753.1,1809.5 1753.8,1812.1 1754.5,1814 1755.2,1810.6 1755.9,1812.1 1756.6,1815.5 1757.3,1814.5 1758,1811.2 1758.7,1814.5 1759.4,1814.2 1760.1,1813.6 1760.8,1813 1761.5,1812.8 1762.2,1811.2 1762.9,1811.7 1763.6,1813.5 1764.3,1812.7 1765,1815.1 1765.7,1812 1766.4,1809.2 1767.1,1812 1767.8,1812.9 1768.5,1813 1769.2,1812.6 1769.9,1811.3 1770.6,1814.6 1771.3,1811.5 1772,1813.5 1772.7,1812 1773.4,1810.7 1774.1,1814.5 1774.8,1809.2 1775.5,1811.2 1776.2,1813.1 1776.9,1811.9 1777.6,1813.5 1778.3,1812.3 1779,1811.8 1779.7,1815.6 1780.4,1812.1 1781.1,1812.2 1781.8,1810.9 1782.5,1811.4 1783.2,1813.4 1783.9,1813.3 1784.6,1812.4 1785.3,1811.4 1786,1813.4 1786.7,1810 1787.4,1811.9 1788.1,1812.1 1788.8,1811.2 1789.5,1812.6 1790.2,1811.4 1790.9,1811.2 1791.6,1815 1792.3,1813.5 1793,1814.1 1793.7,1812.5 1794.4,1813.8 1795.1,1813.5 1795.8,1814.1 1796.5,1815.7 1797.2,1812 1797.9,1812.7 1798.6,1812.3 1799.3,1809 1800,1810.3 1800.7,1812.4 1801.4,1813.3 1802.1,1811.5 1802.8,1814 1803.5,1814.2 1804.2,1811.7 1804.9,1814.4 1805.6,1814.8 1806.3,1813 1807,1810.9 1807.7,1814.4 1808.4,1812 1809.1,1811.7 1809.8,1812.4 1810.5,1811.4 1811.2,1813.8 1811.9,1813.3 1812.6,1814 1813.3,1813 1814,1811 1814.7,1811.9 1815.4,1813.4 1816.1,1811.5 1816.8,1815.5 1817.5,1811.8" fill="none" stroke="#0272c4" stroke-width="3.1" stroke-linejoin="round" stroke-linecap="butt"/>
<path d="M176,1814.7 176.7,1814.5 177.4,1814.7 178.1,1814.5 178.8,1813.1 179.5,1811.2 180.2,1813.2 180.9,1811.3 181.6,1814.3 182.3,1814.2 183,1811.7 183.7,1815.1 184.4,1815.4 185.1,1814.2 185.8,1816.5 186.5,1816.8 187.2,1812.3 187.9,1815.6 188.6,1814.7 189.3,1814.6 190,1815.4 190.7,1812.9 191.4,1813.1 192.1,1812.8 192.8,1812.9 193.5,1813.8 194.2,1811.8 194.9,1812.4 195.6,1814.7 196.3,1813.8 197,1814.4 197.7,1811.1 198.4,1812.7 199.1,1813 199.8,1813.8 200.5,1812.9 201.2,1815.1 201.9,1813.7 202.6,1813.8 203.3,1813.7 204,1814.7 204.7,1813 205.4,1815.3 206.1,1814.3 206.8,1813.9 207.5,1813.7 208.2,1814.4 208.9,1815.1 209.6,1815 210.3,1814.1 211,1814.8 211.7,1813.7 212.4,1815.3 213.1,1813.5 213.8,1810.5 214.5,1815.4 215.2,1813.6 215.9,1811.7 216.6,1813.1 217.3,1812.1 218,1816.4 218.7,1814.1 219.4,1811.1 220.1,1814.1 220.8,1812.8 221.5,1816.1 222.2,1811.8 222.9,1810 223.6,1813.4 224.3,1812.8 225,1812.6 225.7,1810.1 226.4,1813.8 227.1,1815.6 227.8,1810.4 228.5,1814.9 229.2,1812.3 229.9,1816.5 230.6,1813.8 231.3,1812.8 232,1814.7 232.7,1813.8 233.4,1812.2 234.1,1814.1 234.8,1812.3 235.5,1810.4 236.2,1815.9 236.9,1812.5 237.6,1812.1 238.3,1813.4 239,1810.7 239.7,1811 240.4,1812.2 241.1,1812.1 241.8,1813 242.5,1814.5 243.2,1812.1 243.9,1813.5 244.6,1813.7 245.3,1811.2 246,1813.1 246.7,1811.4 247.4,1814.3 248.1,1813.4 248.8,1812.7 249.5,1810.7 250.2,1812.8 250.9,1811.5 251.6,1813.7 252.3,1812.5 253,1811.4 253.7,1813.9 254.4,1813.6 255.1,1811.7 255.8,1814.2 256.5,1812.1 257.2,1812.1 257.9,1812.7 258.6,1811.4 259.3,1811.8 260,1812.2 260.7,1814.7 261.4,1814.6 262.1,1812 262.8,1814.7 263.5,1812.3 264.2,1812.9 264.9,1813.6 265.6,1812.7 266.3,1815.6 267,1812.6 267.7,1810.5 268.4,1814.1 269.1,1811.6 269.8,1811.8 270.5,1808.9 271.2,1813.6 271.9,1813.4 272.6,1813.3 273.3,1813.6 274,1814.6 274.7,1812 275.4,1813.4 276.1,1811 276.8,1811.5 277.5,1813.6 278.2,1812.6 278.9,1810.1 279.6,1812.5 280.3,1811.7 281,1810.8 281.7,1812.6 282.4,1811.3 283.1,1809.6 283.8,1810.3 284.5,1814.4 285.2,1809.7 285.9,1812.2 286.6,1812.7 287.3,1812.7 288,1810 288.7,1811.3 289.4,1812 290.1,1812.9 290.8,1810.8 291.5,1810 292.2,1813.1 292.9,1813.3 293.6,1812.2 294.3,1810.8 295,1812.2 295.7,1811.8 296.4,1812.8 297.1,1809.8 297.8,1811.7 298.5,1811.3 299.2,1809.9 299.9,1811.8 300.6,1811.5 301.3,1810.9 302,1812 302.7,1809.4 303.4,1811.3 304.1,1812 304.8,1811.8 305.5,1812.9 306.2,1809.6 306.9,1809.1 307.6,1811.7 308.3,1812 309,1814.3 309.7,1812.2 310.4,1810 311.1,1812.4 311.8,1810 312.5,1809 313.2,1814.5 313.9,1811.6 314.6,1812.2 315.3,1811.9 316,1813.7 316.7,1811.5 317.4,1812.8 318.1,1809.5 318.8,1809 319.5,1813.1 320.2,1813.1 320.9,1811.7 321.6,1811.3 322.3,1811.2 323,1809.9 323.7,1813.1 324.4,1811.8 325.1,1811.6 325.8,1811.4 326.5,1812.3 327.2,1811.5 327.9,1811.9 328.6,1809.1 329.3,1811.5 330,1813.9 330.7,1809.9 331.4,1810.5 332.1,1811.9 332.8,1812 333.5,1811.5 334.2,1808.3 334.9,1811.3 335.6,1808.8 336.3,1809.3 337,1811.3 337.7,1810.1 338.4,1811.7 339.1,1813.8 339.8,1811.6 340.5,1811.5 341.2,1809.1 341.9,1809.5 342.6,1808.8 343.3,1809.6 344,1808.7 344.7,1809.4 345.4,1810 346.1,1808.8 346.8,1808.2 347.5,1808.3 348.2,1810.9 348.9,1810.3 349.6,1811.7 350.3,1811.7 351,1809.6 351.7,1811.1 352.4,1808 353.1,1813.4 353.8,1811.8 354.5,1809.7 355.2,1808.3 355.9,1810.6 356.6,1807.3 357.3,1808.8 358,1811 358.7,1810 359.4,1809.2 360.1,1811.3 360.8,1808.4 361.5,1810.3 362.2,1809.1 362.9,1808.6 363.6,1810.5 364.3,1808.3 365,1812.5 365.7,1808.9 366.4,1812.6 367.1,1808.1 367.8,1810.6 368.5,1807.9 369.2,1807.7 369.9,1809.9 370.6,1810.6 371.3,1807.8 372,1811.3 372.7,1808.4 373.4,1809.8 374.1,1810.1 374.8,1810.4 375.5,1806.9 376.2,1811.8 376.9,1810.3 377.6,1808.8 378.3,1808 379,1807 379.7,1807.4 380.4,1810.2 381.1,1808.9 381.8,1807.7 382.5,1808.6 383.2,1811.6 383.9,1808.8 384.6,1808.5 385.3,1811.2 386,1809.9 386.7,1809.3 387.4,1808.4 388.1,1807 388.8,1807.5 389.5,1808.5 390.2,1808.9 390.9,1809.7 391.6,1809.9 392.3,1809.4 393,1809.4 393.7,1807.6 394.4,1806 395.1,1808.3 395.8,1807.7 396.5,1808.1 397.2,1808.6 397.9,1807.2 398.6,1807.4 399.3,1808.8 400,1809.1 400.7,1808 401.4,1809.6 402.1,1808.6 402.8,1807.4 403.5,1808.9 404.2,1811.6 404.9,1807.9 405.6,1810.5 406.3,1810.8 407,1811 407.7,1807.6 408.4,1811.7 409.1,1808.9 409.8,1808.4 410.5,1808.4 411.2,1809.6 411.9,1808.8 412.6,1808.4 413.3,1810.5 414,1807.6 414.7,1807.1 415.4,1809.7 416.1,1809.6 416.8,1810.1 417.5,1807 418.2,1810.1 418.9,1809.2 419.6,1811 420.3,1806.7 421,1808.8 421.7,1808 422.4,1806.1 423.1,1807.4 423.8,1810 424.5,1807.7 425.2,1807.3 425.9,1809.6 426.6,1809.7 427.3,1809.7 428,1807.1 428.7,1808.2 429.4,1809.7 430.1,1807.3 430.8,1807.1 431.5,1809.4 432.2,1810.4 432.9,1806.4 433.6,1804.8 434.3,1806 435,1806.6 435.7,1807.8 436.4,1808.9 437.1,1807.8 437.8,1806.9 438.5,1808.2 439.2,1806.5 439.9,1807.8 440.6,1806.9 441.3,1811.2 442,1809 442.7,1806.6 443.4,1806.3 444.1,1807.1 444.8,1805.3 445.5,1806.6 446.2,1806.6 446.9,1808.9 447.6,1806.9 448.3,1806.4 449,1805.6 449.7,1805.8 450.4,1807.3 451.1,1807.1 451.8,1809 452.5,1806.4 453.2,1808.8 453.9,1807.6 454.6,1807.2 455.3,1804.3 456,1805.3 456.7,1808.2 457.4,1809.1 458.1,1807.3 458.8,1808.1 459.5,1806.3 460.2,1806.3 460.9,1805.8 461.6,1808.2 462.3,1807.2 463,1806.3 463.7,1806.1 464.4,1807.3 465.1,1806.9 465.8,1805.2 466.5,1808.8 467.2,1806.7 467.9,1806.2 468.6,1808.3 469.3,1807.6 470,1805.9 470.7,1806.7 471.4,1804.3 472.1,1804.8 472.8,1802.4 473.5,1807.3 474.2,1802.7 474.9,1806.3 475.6,1804 476.3,1803.7 477,1804.7 477.7,1805.2 478.4,1805.6 479.1,1807.1 479.8,1804.9 480.5,1805.5 481.2,1803.2 481.9,1804.9 482.6,1803.9 483.3,1802.8 484,1803.1 484.7,1802.9 485.4,1803 486.1,1803 486.8,1801.4 487.5,1800.7 488.2,1802.5 488.9,1798.6 489.6,1799.7 490.3,1802.4 491,1796.3 491.7,1798 492.4,1799.4 493.1,1795.4 493.8,1800.3 494.5,1792.8 495.2,1797.2 495.9,1796.4 496.6,1794.3" fill="none" stroke="#0272c4" stroke-width="5.2" stroke-linejoin="round" stroke-linecap="butt" stroke-linecap="round"/>
<path d="M529.5,1787.8 530.2,1792.2 530.9,1790.2 531.6,1788.8 532.3,1792.5 533,1789.7 533.7,1791.3 534.4,1790.2 535.1,1790.1 535.8,1789.4 536.5,1787.6 537.2,1787.7 537.9,1789.8 538.6,1782.7 539.3,1785.1 540,1784.7 540.7,1781.6 541.4,1780.2 542.1,1784.4 542.8,1779.9 543.5,1782.6 544.2,1779.6 544.9,1778 545.6,1777.7 546.3,1777 547,1776.7 547.7,1774.6 548.4,1773.1 549.1,1772.1 549.8,1772.7 550.5,1770.9 551.2,1767.3 551.9,1766.9 552.6,1767.5 553.3,1765.3 554,1765.1 554.7,1763.7 555.4,1764.4 556.1,1765.2 556.8,1765.9 557.5,1764.6 558.2,1767.8 558.9,1765 559.6,1768.9 560.3,1767.5 561,1767.3 561.7,1766.4 562.4,1764.4 563.1,1768.2 563.8,1769.3 564.5,1772.6 565.2,1768.5 565.9,1773.9 566.6,1771.4 567.3,1773.5 568,1769.7 568.7,1773.8 569.4,1773.6 570.1,1775.7 570.8,1775.5 571.5,1774.3 572.2,1778 572.9,1778.3 573.6,1778.8 574.3,1780.1 575,1780.9 575.7,1779.9 576.4,1778.6 577.1,1779.2 577.8,1783.9 578.5,1783.6 579.2,1783.3 579.9,1783.2 580.6,1784.4 581.3,1785 582,1785.1 582.7,1785.1 583.4,1789.8 584.1,1787.5 584.8,1786.7 585.5,1786.2 586.2,1787.4 586.9,1789.9 587.6,1790.3 588.3,1789.3 589,1790 589.7,1789.8 590.4,1789 591.1,1792.8 591.8,1791.8 592.5,1794.9 593.2,1790.7 593.9,1791.9 594.6,1793.7 595.3,1792.3 596,1790.9 596.7,1791.8 597.4,1793.6 598.1,1794.2 598.8,1793.8 599.5,1795.7 600.2,1795.9 600.9,1795.1 601.6,1794.9 602.3,1794.8 603,1796.2 603.7,1796.9 604.4,1795.9 605.1,1796.7 605.8,1795.8 606.5,1794.4 607.2,1795.3 607.9,1798.1 608.6,1797.9 609.3,1799.8 610,1797.8 610.7,1799.2 611.4,1800.1 612.1,1799.9 612.8,1797.8 613.5,1798.6 614.2,1799.3 614.9,1797.9 615.6,1800.2 616.3,1801.2 617,1799.2 617.7,1802.9 618.4,1799.7 619.1,1799.9 619.8,1800 620.5,1799.3 621.2,1801 621.9,1800.4 622.6,1802.8 623.3,1801.2 624,1801.1 624.7,1800 625.4,1798.2 626.1,1800 626.8,1798.8 627.5,1801.4 628.2,1799.9 628.9,1802.2 629.6,1800.8 630.3,1800.8 631,1799.8 631.7,1799.7 632.4,1800.2 633.1,1800.5 633.8,1798 634.5,1799.6 635.2,1802.1 635.9,1798.5 636.6,1798 637.3,1797.2 638,1795.9 638.7,1799.5 639.4,1797.6 640.1,1797.7 640.8,1799.7 641.5,1800.2 642.2,1795.4 642.9,1798 643.6,1797.2 644.3,1796.8 645,1796.8 645.7,1796 646.4,1798.3 647.1,1796.9 647.8,1796.6 648.5,1798 649.2,1797.6 649.9,1797.1 650.6,1797.1 651.3,1799.3 652,1797.8 652.7,1797.1 653.4,1796.2 654.1,1797.2 654.8,1796.5 655.5,1798.4 656.2,1798.9 656.9,1795.9 657.6,1799.1 658.3,1800.3 659,1799.9 659.7,1798.5 660.4,1802 661.1,1799.4 661.8,1798.9 662.5,1799.5 663.2,1801.3 663.9,1803.1 664.6,1803.7 665.3,1802.7 666,1801 666.7,1802.1 667.4,1802.1 668.1,1803.5 668.8,1801.4 669.5,1804.4 670.2,1805.4 670.9,1804.5 671.6,1805.5 672.3,1803.7 673,1803.1 673.7,1804.4 674.4,1807.1 675.1,1807.1 675.8,1805.1 676.5,1807.6 677.2,1805.6 677.9,1808.4 678.6,1807 679.3,1805.8 680,1807.7 680.7,1805.5 681.4,1805.4 682.1,1804.8 682.8,1807.4 683.5,1807.1 684.2,1807.1 684.9,1806.8 685.6,1809.5 686.3,1807 687,1806.6 687.7,1809.6 688.4,1809.9 689.1,1808.4 689.8,1805.5 690.5,1807.3 691.2,1809.1 691.9,1808.3 692.6,1810.6 693.3,1806.5 694,1809.5 694.7,1807.7 695.4,1810.6 696.1,1808.6 696.8,1810.3 697.5,1808 698.2,1806.9 698.9,1807.4 699.6,1808.2 700.3,1807.6 701,1810.9 701.7,1811.2 702.4,1809.7 703.1,1807.8 703.8,1809.2 704.5,1808.4 705.2,1811.6 705.9,1809.9 706.6,1810.2 707.3,1809 708,1806.7 708.7,1808.5 709.4,1808 710.1,1810.2 710.8,1809.9 711.5,1808.6 712.2,1809.2 712.9,1812.1 713.6,1808.4 714.3,1808.5 715,1809.6 715.7,1808.9 716.4,1809.3 717.1,1810.8 717.8,1812.5 718.5,1807.5 719.2,1810.1 719.9,1810.2 720.6,1810 721.3,1809.9 722,1809.7 722.7,1811.7 723.4,1809.6 724.1,1810.1 724.8,1810.3 725.5,1810.5 726.2,1810.1 726.9,1811.8 727.6,1810.4 728.3,1810.7 729,1810.4 729.7,1809 730.4,1809.3 731.1,1809 731.8,1810.8 732.5,1809.5 733.2,1809 733.9,1810.9 734.6,1811.4 735.3,1808.1 736,1813.1 736.7,1810.7 737.4,1810.5 738.1,1812.3 738.8,1810.8 739.5,1809.9 740.2,1813.9 740.9,1809.2 741.6,1810.6 742.3,1812 743,1809.3 743.7,1810.7 744.4,1811.4 745.1,1814.2 745.8,1809.6 746.5,1810.8 747.2,1811.8 747.9,1811 748.6,1809.2 749.3,1811.5 750,1811.1 750.7,1811.6 751.4,1812.6 752.1,1812.4 752.8,1811.6 753.5,1811.4 754.2,1809.4 754.9,1810.8 755.6,1811.3 756.3,1810.4 757,1811.1 757.7,1809.8 758.4,1813.2 759.1,1814.1 759.8,1810.4 760.5,1811.6 761.2,1810.7 761.9,1812.8 762.6,1811.6 763.3,1811.1 764,1810.7 764.7,1811.2 765.4,1809.5 766.1,1812 766.8,1810 767.5,1811.8 768.2,1811.2 768.9,1812.6 769.6,1811 770.3,1812.5 771,1809.7 771.7,1811.9 772.4,1810.7 773.1,1811.3 773.8,1811.1 774.5,1812.3 775.2,1808.1 775.9,1811.4 776.6,1808.8 777.3,1812.7 778,1808.1 778.7,1809.5 779.4,1808.5 780.1,1813.3 780.8,1809.1 781.5,1811.1 782.2,1810.2 782.9,1808.3 783.6,1810.4 784.3,1811.9 785,1810.7 785.7,1812.3 786.4,1810.4 787.1,1810.9 787.8,1810.3 788.5,1811.4 789.2,1813.6 789.9,1811.4 790.6,1811.2 791.3,1810 792,1809.8 792.7,1813 793.4,1809.2 794.1,1809.5 794.8,1810.7 795.5,1810.2 796.2,1813.6 796.9,1807.5 797.6,1811.3 798.3,1811.8 799,1809.1 799.7,1809.8 800.4,1811.4 801.1,1813.1 801.8,1809.4 802.5,1808.4 803.2,1812.1 803.9,1812.9 804.6,1810.2 805.3,1807.5 806,1812.8 806.7,1810.3 807.4,1812.2 808.1,1810.5 808.8,1810 809.5,1809.9 810.2,1812.7 810.9,1812.6 811.6,1807.4 812.3,1809.2 813,1813.1 813.7,1809.9 814.4,1808.5 815.1,1810.4 815.8,1810.3 816.5,1810.3 817.2,1809.7 817.9,1809.9 818.6,1809.7 819.3,1810.8 820,1809.1 820.7,1809.9 821.4,1810.1 822.1,1812.1 822.8,1810.8 823.5,1810 824.2,1810.9 824.9,1810.7 825.6,1811.7 826.3,1810.8 827,1812.7 827.7,1812 828.4,1810 829.1,1809.4 829.8,1811.2 830.5,1810.5 831.2,1809.4 831.9,1807.1 832.6,1806.3 833.3,1809.2 834,1809.4 834.7,1809.2 835.4,1805.9 836.1,1809 836.8,1806.4 837.5,1807.5 838.2,1807.3 838.9,1805.2 839.6,1805.3 840.3,1802.9 841,1804.3 841.7,1802.8 842.4,1805.9 843.1,1805.2 843.8,1806.3 844.5,1805.4 845.2,1803.9 845.9,1805.3 846.6,1804.2 847.3,1805.6 848,1805.1 848.7,1803.2 849.4,1804.6 850.1,1804.6 850.8,1804.1 851.5,1805.8 852.2,1806.9 852.9,1803.9 853.6,1803.9 854.3,1801.1 855,1804.2 855.7,1803.7 856.4,1801.1 857.1,1804.6 857.8,1805 858.5,1803.1 859.2,1803.5 859.9,1802.6 860.6,1805 861.3,1801.6 862,1803.2 862.7,1806.4 863.4,1803.4 864.1,1803.8 864.8,1802.7 865.5,1801 866.2,1802.4 866.9,1802.8 867.6,1800.5 868.3,1802.2 869,1803.2 869.7,1802.7 870.4,1798.5 871.1,1799.1 871.8,1797.9 872.5,1801.6 873.2,1800.6 873.9,1800.5 874.6,1798 875.3,1797.3 876,1798.9 876.7,1798.8 877.4,1797.2 878.1,1798.5 878.8,1799.1 879.5,1798.4 880.2,1796.5 880.9,1794.9 881.6,1797.6 882.3,1798.3 883,1797.9 883.7,1797.8 884.4,1797.7 885.1,1800.1 885.8,1799.3 886.5,1800 887.2,1798.8 887.9,1799.7 888.6,1801.2 889.3,1799.9 890,1800 890.7,1801.7 891.4,1804.2 892.1,1803 892.8,1805.1 893.5,1802.9 894.2,1802.8 894.9,1801.4 895.6,1802.8 896.3,1805.9 897,1804.4 897.7,1805.2 898.4,1805.3 899.1,1804.4 899.8,1804.2 900.5,1804.8 901.2,1805.7 901.9,1805.5 902.6,1805.6 903.3,1805.2 904,1803.9 904.7,1804.6 905.4,1803.6 906.1,1806.4 906.8,1801.9 907.5,1804.5 908.2,1808.1 908.9,1804.2 909.6,1802.9 910.3,1804.4 911,1806.1 911.7,1803.9 912.4,1804.8 913.1,1803.9 913.8,1803 914.5,1806.7 915.2,1803.2 915.9,1802.1 916.6,1802 917.3,1803 918,1802.8 918.7,1803.1 919.4,1801.9 920.1,1799.4 920.8,1802 921.5,1800.6 922.2,1800.4 922.9,1798.5 923.6,1799.6 924.3,1799.1 925,1799.9 925.7,1797.7 926.4,1799.7 927.1,1799.6 927.8,1797.5 928.5,1798 929.2,1797.4 929.9,1799.7 930.6,1794.8 931.3,1797.4 932,1795.2 932.7,1796.7 933.4,1798.3 934.1,1795.9 934.8,1796.7 935.5,1795 936.2,1798.8 936.9,1797 937.6,1797.1 938.3,1793.3 939,1793.4 939.7,1796.3 940.4,1794.3 941.1,1794 941.8,1794.7 942.5,1792.2 943.2,1795 943.9,1793.8 944.6,1794.4 945.3,1792.6 946,1794.3 946.7,1792.5 947.4,1794.9 948.1,1795.2 948.8,1795 949.5,1794.5 950.2,1794.9 950.9,1790.8 951.6,1795.6 952.3,1794.3 953,1795.1 953.7,1794.9 954.4,1793.6 955.1,1795.2 955.8,1797.3 956.5,1798.8 957.2,1796.2 957.9,1796.2 958.6,1800 959.3,1797 960,1801.6 960.7,1799 961.4,1798 962.1,1801 962.8,1802.3 963.5,1798.1 964.2,1802.7 964.9,1800.4 965.6,1803.3 966.3,1801 967,1799.6 967.7,1802.9 968.4,1803.9 969.1,1805.9 969.8,1805.7 970.5,1804.5 971.2,1803.5 971.9,1803.3 972.6,1803.9 973.3,1803.3 974,1804.3 974.7,1801.6 975.4,1805.3 976.1,1805.1 976.8,1808.6 977.5,1806.4 978.2,1804.7 978.9,1806.3 979.6,1803.8 980.3,1804.8 981,1803.1 981.7,1808 982.4,1806.8 983.1,1804.3 983.8,1806 984.5,1807.6 985.2,1807 985.9,1806.9 986.6,1805.2 987.3,1805.6 988,1806.7 988.7,1808 989.4,1805.5 990.1,1805.2 990.8,1808.5 991.5,1805.6 992.2,1808.5 992.9,1807.4 993.6,1808.4 994.3,1809.7 995,1808.2 995.7,1808.4 996.4,1806 997.1,1806.4 997.8,1808.4 998.5,1809.7 999.2,1809.5 999.9,1810.9 1000.6,1808.1 1001.3,1808 1002,1809.2 1002.7,1807.8 1003.4,1807.7 1004.1,1806.3 1004.8,1809.3 1005.5,1806.4 1006.2,1808.7 1006.9,1805.9 1007.6,1809.6 1008.3,1806.6 1009,1809.3 1009.7,1805.8 1010.4,1807.5 1011.1,1809.9 1011.8,1807 1012.5,1808.3 1013.2,1807.6 1013.9,1805 1014.6,1808.8 1015.3,1809 1016,1806.8 1016.7,1809.2 1017.4,1807.3 1018.1,1807 1018.8,1808.5 1019.5,1807.5 1020.2,1811.8 1020.9,1806.3 1021.6,1809.6 1022.3,1810 1023,1805.7 1023.7,1806.1 1024.4,1809.4 1025.1,1808 1025.8,1809.2 1026.5,1810.3 1027.2,1808.2 1027.9,1807.2 1028.6,1805.4 1029.3,1809.1 1030,1807.4 1030.7,1809.3 1031.4,1809.2 1032.1,1806.8 1032.8,1811.4 1033.5,1810.4 1034.2,1810.1 1034.9,1807.2 1035.6,1808.3 1036.3,1808.2 1037,1808.4 1037.7,1807.3 1038.4,1809.6 1039.1,1809.3 1039.8,1809.6 1040.5,1808.3 1041.2,1810.9 1041.9,1809.3 1042.6,1805.7 1043.3,1808.2 1044,1809 1044.7,1810.5 1045.4,1808.7 1046.1,1808.8 1046.8,1808.2 1047.5,1810.1 1048.2,1808.5 1048.9,1808.3 1049.6,1808.1 1050.3,1810 1051,1808.4 1051.7,1806.8 1052.4,1810.1 1053.1,1808.2 1053.8,1809.8 1054.5,1809.8 1055.2,1811 1055.9,1810.8 1056.6,1808.4 1057.3,1809 1058,1807.4 1058.7,1811.7 1059.4,1809.9 1060.1,1811.3 1060.8,1808.8 1061.5,1806.3 1062.2,1811.5 1062.9,1809.4 1063.6,1809.5 1064.3,1809.3 1065,1810.1 1065.7,1809.9 1066.4,1806.7 1067.1,1810.4 1067.8,1807.9 1068.5,1807.8 1069.2,1810.8 1069.9,1809.5 1070.6,1807.4 1071.3,1805 1072,1807.7 1072.7,1808 1073.4,1806.8 1074.1,1804.9 1074.8,1805.3 1075.5,1804.4 1076.2,1806.2 1076.9,1806.8 1077.6,1806.6 1078.3,1803.6 1079,1804.4 1079.7,1804.3 1080.4,1802.1 1081.1,1802 1081.8,1804.7 1082.5,1801.4 1083.2,1801.9 1083.9,1799.6 1084.6,1800 1085.3,1797.3 1086,1799.8 1086.7,1801.8 1087.4,1803.5 1088.1,1802.8 1088.8,1802.7 1089.5,1802.5 1090.2,1802.2 1090.9,1803.5 1091.6,1805.2 1092.3,1803.5 1093,1806.4 1093.7,1804 1094.4,1803.2 1095.1,1804.6 1095.8,1803.9 1096.5,1804.6 1097.2,1808.4 1097.9,1806.5 1098.6,1807.1 1099.3,1808.4 1100,1808.4 1100.7,1805.7 1101.4,1808.2 1102.1,1806.7 1102.8,1805.9 1103.5,1806.3 1104.2,1803.3 1104.9,1804 1105.6,1804.7 1106.3,1805.5 1107,1803.8 1107.7,1803.9 1108.4,1805.3 1109.1,1805.8 1109.8,1804.7 1110.5,1805.2 1111.2,1802.7 1111.9,1802.7 1112.6,1803.4 1113.3,1802.4 1114,1801.9 1114.7,1804.9 1115.4,1802.1 1116.1,1800.8 1116.8,1802.8 1117.5,1804.6 1118.2,1802 1118.9,1803.5 1119.6,1801 1120.3,1800.9 1121,1800.5 1121.7,1801.3 1122.4,1804.2 1123.1,1799.8 1123.8,1803.9 1124.5,1800.1 1125.2,1801.3 1125.9,1802.9 1126.6,1802.7 1127.3,1802.3 1128,1799.6 1128.7,1802.6 1129.4,1800.7 1130.1,1805.6 1130.8,1802.1 1131.5,1802.8 1132.2,1801 1132.9,1802.1 1133.6,1801.1 1134.3,1804.5 1135,1802.8 1135.7,1804.1 1136.4,1802.5 1137.1,1802.8 1137.8,1805.6 1138.5,1802.4 1139.2,1801.3 1139.9,1804.6 1140.6,1802.4 1141.3,1803.5 1142,1805.6 1142.7,1803.1 1143.4,1805.7 1144.1,1803.5 1144.8,1806.7 1145.5,1806.6 1146.2,1804 1146.9,1804.5 1147.6,1803.7 1148.3,1805.2 1149,1806.7 1149.7,1803 1150.4,1806.5 1151.1,1803.3 1151.8,1804 1152.5,1802.8 1153.2,1808.5 1153.9,1805.6 1154.6,1805.9 1155.3,1804.7 1156,1807.3 1156.7,1802.7 1157.4,1805.9 1158.1,1809.1 1158.8,1805.4 1159.5,1806.1 1160.2,1807.1 1160.9,1805 1161.6,1806.3 1162.3,1807.7 1163,1806.6 1163.7,1807 1164.4,1806 1165.1,1807 1165.8,1806.7 1166.5,1808.8 1167.2,1807.8 1167.9,1806.4 1168.6,1803.5 1169.3,1808 1170,1808.1 1170.7,1805.7 1171.4,1804.2 1172.1,1805.5 1172.8,1808.6 1173.5,1805.7 1174.2,1806.7 1174.9,1807.7 1175.6,1809.2 1176.3,1807.5 1177,1807.4 1177.7,1806.8 1178.4,1810.1 1179.1,1809.3 1179.8,1807.7 1180.5,1805.8 1181.2,1806.8 1181.9,1808.8 1182.6,1807 1183.3,1809.4 1184,1808.7 1184.7,1808.6 1185.4,1809.2 1186.1,1809.1 1186.8,1807.2 1187.5,1808 1188.2,1811.8 1188.9,1806.8 1189.6,1807.9 1190.3,1810.2 1191,1808.5 1191.7,1807.6 1192.4,1806.9 1193.1,1809.7 1193.8,1810.4 1194.5,1811 1195.2,1809.1 1195.9,1810.6 1196.6,1807.6 1197.3,1809.4 1198,1808.3 1198.7,1809.5 1199.4,1810.4 1200.1,1810.9 1200.8,1808 1201.5,1811.3 1202.2,1808.8 1202.9,1808.1 1203.6,1809.4 1204.3,1807.5 1205,1809.7 1205.7,1810.2 1206.4,1809.5 1207.1,1810.6 1207.8,1809.4 1208.5,1809.9 1209.2,1807.9 1209.9,1810.1 1210.6,1808.8 1211.3,1809.4 1212,1810 1212.7,1810.4 1213.4,1807.8 1214.1,1808 1214.8,1809.8 1215.5,1811 1216.2,1810.9 1216.9,1811.7 1217.6,1812.3 1218.3,1811.2 1219,1810.5 1219.7,1809.1 1220.4,1809.2 1221.1,1810 1221.8,1811.1 1222.5,1811.1 1223.2,1810.8 1223.9,1810.6 1224.6,1811.8 1225.3,1811.2 1226,1811.4 1226.7,1811.4 1227.4,1810.2 1228.1,1809.6 1228.8,1811.8 1229.5,1811.7 1230.2,1810.9 1230.9,1810.6 1231.6,1814.6 1232.3,1810.2 1233,1811 1233.7,1811.7 1234.4,1809.7 1235.1,1811.6 1235.8,1814.1 1236.5,1812.9 1237.2,1812.4 1237.9,1812.4 1238.6,1811.8 1239.3,1813 1240,1811.4 1240.7,1811.1 1241.4,1811.9 1242.1,1813 1242.8,1812.2 1243.5,1812.8 1244.2,1808.9 1244.9,1813.6 1245.6,1815.2 1246.3,1813.8 1247,1811.4 1247.7,1810.7 1248.4,1812.3 1249.1,1810.5 1249.8,1813 1250.5,1811.2 1251.2,1813.4 1251.9,1814 1252.6,1809 1253.3,1812.4 1254,1811 1254.7,1810 1255.4,1811.1 1256.1,1811.7 1256.8,1813.5 1257.5,1809.8 1258.2,1813.5 1258.9,1814.9 1259.6,1812.9 1260.3,1812.8 1261,1812 1261.7,1810.3 1262.4,1812.8 1263.1,1812.6 1263.8,1813.1 1264.5,1815.3 1265.2,1813.1 1265.9,1812.6 1266.6,1814.3 1267.3,1810 1268,1810.3 1268.7,1811.5 1269.4,1811.1 1270.1,1813 1270.8,1811.5 1271.5,1814.5 1272.2,1814.2 1272.9,1813.1 1273.6,1811.4 1274.3,1812.9 1275,1813.2 1275.7,1810.5 1276.4,1812.5 1277.1,1813 1277.8,1812.3 1278.5,1814.3 1279.2,1813.8 1279.9,1810.8 1280.6,1812.2 1281.3,1810.8 1282,1812.8 1282.7,1810.7 1283.4,1813.3 1284.1,1812.6 1284.8,1813.4 1285.5,1811.8 1286.2,1809.9 1286.9,1814.6 1287.6,1811.8 1288.3,1814 1289,1812.6 1289.7,1813 1290.4,1814.7 1291.1,1812.5 1291.8,1814 1292.5,1809.8 1293.2,1813.3 1293.9,1811.6 1294.6,1811.8 1295.3,1812 1296,1812.5 1296.7,1814.4 1297.4,1809.3 1298.1,1812.1 1298.8,1811 1299.5,1813.7 1300.2,1811.4 1300.9,1812.7 1301.6,1811.4 1302.3,1813 1303,1813.5 1303.7,1811.4 1304.4,1812.1 1305.1,1809.9 1305.8,1812.4 1306.5,1813.2 1307.2,1811.2 1307.9,1813.6 1308.6,1809 1309.3,1809.3 1310,1810 1310.7,1811.3 1311.4,1812 1312.1,1811.9 1312.8,1811.9 1313.5,1813 1314.2,1811.3 1314.9,1810.2 1315.6,1810.2 1316.3,1815.1 1317,1808.7 1317.7,1811.7 1318.4,1814.1 1319.1,1812.7 1319.8,1810.8 1320.5,1812 1321.2,1813.3 1321.9,1813.8 1322.6,1810.7 1323.3,1813.1 1324,1812.4 1324.7,1813.6 1325.4,1814 1326.1,1811.5 1326.8,1809.9 1327.5,1812.6 1328.2,1814.6 1328.9,1813 1329.6,1812.3 1330.3,1815.3 1331,1810.5 1331.7,1813.3 1332.4,1811.2 1333.1,1812.1 1333.8,1812.1 1334.5,1814.2 1335.2,1810.6 1335.9,1811.2 1336.6,1809.7 1337.3,1812.7 1338,1811.3 1338.7,1812.6 1339.4,1810.4 1340.1,1811.5 1340.8,1813.5 1341.5,1811.7 1342.2,1812.9 1342.9,1812.8 1343.6,1811.5 1344.3,1809.7 1345,1813.4 1345.7,1812.2 1346.4,1813.4 1347.1,1809.1 1347.8,1809.6 1348.5,1808.9 1349.2,1810.7 1349.9,1813.5 1350.6,1812.8 1351.3,1812 1352,1812.2 1352.7,1813.1 1353.4,1811.6 1354.1,1812.6 1354.8,1812.2 1355.5,1808.8 1356.2,1811.4 1356.9,1814 1357.6,1811.4 1358.3,1811.8 1359,1811.1 1359.7,1811.3 1360.4,1813.6 1361.1,1811.6 1361.8,1810.5 1362.5,1808.7 1363.2,1811.2 1363.9,1809.1 1364.6,1809.4 1365.3,1813.2 1366,1813 1366.7,1809.2 1367.4,1813.2 1368.1,1812.7 1368.8,1810.9 1369.5,1813.1 1370.2,1809.6 1370.9,1810.3 1371.6,1809.9 1372.3,1810.4 1373,1813.3 1373.7,1810.1 1374.4,1810.3 1375.1,1810.6 1375.8,1812.3 1376.5,1811.5 1377.2,1813.3 1377.9,1811 1378.6,1810.1 1379.3,1811.3 1380,1812.1 1380.7,1810.6 1381.4,1812.4 1382.1,1814.6 1382.8,1811.1 1383.5,1812.1 1384.2,1813.9 1384.9,1811 1385.6,1810.8 1386.3,1810.4 1387,1812.6 1387.7,1812.7 1388.4,1811.8 1389.1,1812 1389.8,1813.8 1390.5,1813.2 1391.2,1809.9 1391.9,1812 1392.6,1812.1 1393.3,1813 1394,1811.6 1394.7,1811 1395.4,1811.3 1396.1,1809.4 1396.8,1811.9 1397.5,1811.1 1398.2,1812.6 1398.9,1810.5 1399.6,1811.3 1400.3,1810.5 1401,1810.4 1401.7,1813 1402.4,1811.3 1403.1,1812.6 1403.8,1810.3 1404.5,1812.1 1405.2,1809.5 1405.9,1811.3 1406.6,1811.2 1407.3,1812.8 1408,1812.2 1408.7,1811.7 1409.4,1813.2 1410.1,1812.2 1410.8,1812.7 1411.5,1813 1412.2,1811.8 1412.9,1811.5 1413.6,1812.4 1414.3,1811.3 1415,1812.5 1415.7,1813.5 1416.4,1813.2 1417.1,1811.4 1417.8,1810.1 1418.5,1811.8 1419.2,1811.7 1419.9,1813.5 1420.6,1811.4 1421.3,1811.6 1422,1813 1422.7,1811.2 1423.4,1811.7 1424.1,1814.4 1424.8,1814.1 1425.5,1812.8 1426.2,1812.3 1426.9,1810.5 1427.6,1812.7 1428.3,1812 1429,1812.2 1429.7,1811.1 1430.4,1811.9 1431.1,1811.6 1431.8,1812.3 1432.5,1813.9 1433.2,1812.4 1433.9,1809.5 1434.6,1810.5 1435.3,1809.6 1436,1810.7 1436.7,1812.7 1437.4,1812.4 1438.1,1811 1438.8,1812.2 1439.5,1810.8 1440.2,1809.8 1440.9,1809.8 1441.6,1810.6 1442.3,1813.9 1443,1809.9 1443.7,1813.6 1444.4,1813.7 1445.1,1811.6 1445.8,1811.7 1446.5,1810.9 1447.2,1811.8 1447.9,1812.8 1448.6,1811.8 1449.3,1813.2 1450,1813.5 1450.7,1812.3 1451.4,1812.3 1452.1,1811.7 1452.8,1812.3 1453.5,1810.2 1454.2,1812.4 1454.9,1812.1 1455.6,1810.5 1456.3,1814.9 1457,1810.3 1457.7,1810.5 1458.4,1812.2 1459.1,1808.9 1459.8,1810.6 1460.5,1809.5 1461.2,1810.3 1461.9,1811.5 1462.6,1812.2 1463.3,1813.3 1464,1812.9 1464.7,1813.4 1465.4,1812.6 1466.1,1811 1466.8,1813.3 1467.5,1811 1468.2,1810.8 1468.9,1813.9 1469.6,1812.8 1470.3,1812 1471,1812.8 1471.7,1812.9 1472.4,1809.7 1473.1,1811.5 1473.8,1809.9 1474.5,1811.8 1475.2,1810.7 1475.9,1813.6 1476.6,1812.4 1477.3,1810.4 1478,1811.6 1478.7,1809.8 1479.4,1811.7 1480.1,1812.4 1480.8,1812 1481.5,1808.8 1482.2,1811.1 1482.9,1812.3 1483.6,1812 1484.3,1813.2 1485,1809.7 1485.7,1812.3 1486.4,1810.6 1487.1,1811.8 1487.8,1812.1 1488.5,1812.5 1489.2,1810.7 1489.9,1811.8 1490.6,1809.8 1491.3,1809.5 1492,1812.3 1492.7,1811.4 1493.4,1809.1 1494.1,1810.2 1494.8,1811.5 1495.5,1813.7 1496.2,1813 1496.9,1812.6 1497.6,1808.9 1498.3,1811.3 1499,1812.1 1499.7,1812 1500.4,1812 1501.1,1811.1 1501.8,1813.9 1502.5,1813.5 1503.2,1811.2 1503.9,1810 1504.6,1814.3 1505.3,1810.6 1506,1813.1 1506.7,1814.1 1507.4,1810 1508.1,1811.7 1508.8,1810.8 1509.5,1812.1 1510.2,1811.8 1510.9,1814.1 1511.6,1812.1 1512.3,1811.3 1513,1812.9 1513.7,1810.9 1514.4,1810.7 1515.1,1814.5 1515.8,1810 1516.5,1810.5 1517.2,1811.2 1517.9,1809.6 1518.6,1808.1 1519.3,1812.7 1520,1810 1520.7,1810.3 1521.4,1810.5 1522.1,1809.6 1522.8,1809.5 1523.5,1811.3 1524.2,1814.4 1524.9,1812.1 1525.6,1812 1526.3,1808.8 1527,1810.9 1527.7,1809.2 1528.4,1812 1529.1,1810.5 1529.8,1810.9 1530.5,1810.7 1531.2,1809.9 1531.9,1808.5 1532.6,1811.5 1533.3,1808.7 1534,1808.9 1534.7,1810.2 1535.4,1809.5 1536.1,1810.9 1536.8,1812 1537.5,1810.8 1538.2,1810.7 1538.9,1810.4 1539.6,1811.6 1540.3,1807.6 1541,1810.8 1541.7,1808.9 1542.4,1808.4 1543.1,1810.1 1543.8,1809.5 1544.5,1810.9 1545.2,1811.6 1545.9,1806.7 1546.6,1809.7 1547.3,1812.5 1548,1810.8 1548.7,1811.4 1549.4,1809.2 1550.1,1806.6 1550.8,1806.8 1551.5,1809.1 1552.2,1809.2 1552.9,1806.4 1553.6,1806.7 1554.3,1807.1 1555,1803.7 1555.7,1805.3 1556.4,1807.7 1557.1,1808.1 1557.8,1804.4 1558.5,1806.9 1559.2,1803.4 1559.9,1803 1560.6,1801.1 1561.3,1806.1 1562,1804.6 1562.7,1809.1 1563.4,1806.7 1564.1,1807.1 1564.8,1804.7 1565.5,1809.9 1566.2,1807.5 1566.9,1808 1567.6,1805.3 1568.3,1810.1 1569,1810.4 1569.7,1808.3 1570.4,1809.5 1571.1,1810.1 1571.8,1811.1 1572.5,1810 1573.2,1812.5 1573.9,1809.8 1574.6,1809.4 1575.3,1809.7 1576,1807.2 1576.7,1809.3 1577.4,1812 1578.1,1810.9 1578.8,1809.4 1579.5,1811.2 1580.2,1807.8 1580.9,1810.3 1581.6,1811.6 1582.3,1811.8 1583,1809.8 1583.7,1812.2 1584.4,1813.7 1585.1,1810.4 1585.8,1812.1 1586.5,1808.8 1587.2,1808.3 1587.9,1812 1588.6,1811.2 1589.3,1811.5 1590,1810.4 1590.7,1810.9 1591.4,1812.5 1592.1,1813.8 1592.8,1811.1 1593.5,1809 1594.2,1813.3 1594.9,1812.3 1595.6,1812.5 1596.3,1811.8 1597,1814.9 1597.7,1811.7 1598.4,1812.3 1599.1,1808.9 1599.8,1810.8 1600.5,1810.7 1601.2,1811.6 1601.9,1812.2 1602.6,1810.6 1603.3,1814.2 1604,1810.2 1604.7,1811.1 1605.4,1812.1 1606.1,1810 1606.8,1812.6 1607.5,1812.7 1608.2,1811.4 1608.9,1814.6 1609.6,1812 1610.3,1812.3 1611,1810.5 1611.7,1809.4 1612.4,1811 1613.1,1811.4 1613.8,1811.2 1614.5,1813 1615.2,1808.6 1615.9,1810.3 1616.6,1809.3 1617.3,1813.9 1618,1811.1 1618.7,1811.2 1619.4,1810.3 1620.1,1813.2 1620.8,1811.3 1621.5,1812.2 1622.2,1809 1622.9,1813.6 1623.6,1812.5 1624.3,1812.7 1625,1813.7 1625.7,1811.6 1626.4,1811.7 1627.1,1812.9 1627.8,1812.5 1628.5,1811.5 1629.2,1812 1629.9,1811.2 1630.6,1812.9 1631.3,1813.2 1632,1811.9 1632.7,1814.6 1633.4,1809.6 1634.1,1811.5 1634.8,1814.3 1635.5,1811.2 1636.2,1809.5 1636.9,1813.8 1637.6,1812.6 1638.3,1810.1 1639,1812.9 1639.7,1810.3 1640.4,1809.8 1641.1,1811.5 1641.8,1811 1642.5,1810.1 1643.2,1811.2 1643.9,1810.3 1644.6,1811.8 1645.3,1811.7 1646,1812.8 1646.7,1811 1647.4,1809.7 1648.1,1809.7 1648.8,1811.3 1649.5,1813.9 1650.2,1812.8 1650.9,1810.7 1651.6,1813 1652.3,1809.9 1653,1813 1653.7,1811 1654.4,1812.7 1655.1,1812.4 1655.8,1811.1 1656.5,1812 1657.2,1809.9 1657.9,1811.4 1658.6,1813 1659.3,1814.8 1660,1812.5 1660.7,1811.5 1661.4,1809.9 1662.1,1812.9 1662.8,1809 1663.5,1810.2 1664.2,1811.9 1664.9,1809.6 1665.6,1813.6 1666.3,1812.9 1667,1810.5 1667.7,1810.5 1668.4,1809.4 1669.1,1809.2 1669.8,1811.9 1670.5,1812.1 1671.2,1811.7 1671.9,1811.6 1672.6,1810.4 1673.3,1811.7 1674,1809 1674.7,1811.2 1675.4,1813.3 1676.1,1813.1 1676.8,1810.5 1677.5,1810.6 1678.2,1813.1 1678.9,1813.7 1679.6,1808.9 1680.3,1810.5 1681,1811.4 1681.7,1812.8 1682.4,1809.8 1683.1,1812 1683.8,1810.6 1684.5,1814.4 1685.2,1811.6 1685.9,1810.8 1686.6,1810.5 1687.3,1812.5 1688,1812 1688.7,1809.4 1689.4,1811.3 1690.1,1809 1690.8,1809.9 1691.5,1809.1 1692.2,1809 1692.9,1810 1693.6,1809.5 1694.3,1811.7 1695,1812.1 1695.7,1810.6 1696.4,1809.3 1697.1,1812.1 1697.8,1808 1698.5,1808.1 1699.2,1812 1699.9,1811.9 1700.6,1812.4 1701.3,1810.6 1702,1809.1 1702.7,1810.2 1703.4,1811.8 1704.1,1809.8 1704.8,1809.9 1705.5,1808.9 1706.2,1809.3 1706.9,1812.2 1707.6,1811.7 1708.3,1809.3 1709,1809.5 1709.7,1810.2 1710.4,1811.9 1711.1,1809.4 1711.8,1810.8 1712.5,1808 1713.2,1809.3 1713.9,1811.8 1714.6,1812.5 1715.3,1809.5 1716,1810.1 1716.7,1812.4 1717.4,1810.7 1718.1,1810.5 1718.8,1812 1719.5,1811.6 1720.2,1813 1720.9,1812.5 1721.6,1810.5 1722.3,1811.2 1723,1811.3 1723.7,1809.5 1724.4,1810.1 1725.1,1812.9 1725.8,1809.2 1726.5,1813 1727.2,1812 1727.9,1811.4 1728.6,1812.4 1729.3,1812.4 1730,1813.4 1730.7,1811.1 1731.4,1811.4 1732.1,1811.4 1732.8,1814.5 1733.5,1813.2 1734.2,1810.5 1734.9,1811.4 1735.6,1810.9 1736.3,1811.9 1737,1812.3 1737.7,1815.3 1738.4,1809.3 1739.1,1813.5 1739.8,1812.7 1740.5,1811 1741.2,1811.9 1741.9,1811.4 1742.6,1812.2 1743.3,1813.6 1744,1810 1744.7,1814.1 1745.4,1811.7 1746.1,1814.4 1746.8,1812.9 1747.5,1814.1 1748.2,1813.1 1748.9,1813.9 1749.6,1812.4 1750.3,1811.1 1751,1813.3 1751.7,1813.4 1752.4,1815.4 1753.1,1809.5 1753.8,1812.1 1754.5,1814 1755.2,1810.6 1755.9,1812.1 1756.6,1815.5 1757.3,1814.5 1758,1811.2 1758.7,1814.5 1759.4,1814.2 1760.1,1813.6 1760.8,1813 1761.5,1812.8 1762.2,1811.2 1762.9,1811.7 1763.6,1813.5 1764.3,1812.7 1765,1815.1 1765.7,1812 1766.4,1809.2 1767.1,1812 1767.8,1812.9 1768.5,1813 1769.2,1812.6 1769.9,1811.3 1770.6,1814.6 1771.3,1811.5 1772,1813.5 1772.7,1812 1773.4,1810.7 1774.1,1814.5 1774.8,1809.2 1775.5,1811.2 1776.2,1813.1 1776.9,1811.9 1777.6,1813.5 1778.3,1812.3 1779,1811.8 1779.7,1815.6 1780.4,1812.1 1781.1,1812.2 1781.8,1810.9 1782.5,1811.4 1783.2,1813.4 1783.9,1813.3 1784.6,1812.4 1785.3,1811.4 1786,1813.4 1786.7,1810 1787.4,1811.9 1788.1,1812.1 1788.8,1811.2 1789.5,1812.6 1790.2,1811.4 1790.9,1811.2 1791.6,1815 1792.3,1813.5 1793,1814.1 1793.7,1812.5 1794.4,1813.8 1795.1,1813.5 1795.8,1814.1 1796.5,1815.7 1797.2,1812 1797.9,1812.7 1798.6,1812.3 1799.3,1809 1800,1810.3 1800.7,1812.4 1801.4,1813.3 1802.1,1811.5 1802.8,1814 1803.5,1814.2 1804.2,1811.7 1804.9,1814.4 1805.6,1814.8 1806.3,1813 1807,1810.9 1807.7,1814.4 1808.4,1812 1809.1,1811.7 1809.8,1812.4 1810.5,1811.4 1811.2,1813.8 1811.9,1813.3 1812.6,1814 1813.3,1813 1814,1811 1814.7,1811.9 1815.4,1813.4 1816.1,1811.5 1816.8,1815.5 1817.5,1811.8" fill="none" stroke="#0272c4" stroke-width="5.2" stroke-linejoin="round" stroke-linecap="butt" stroke-linecap="round"/>
<path d="M176,1536.9 176.7,1538.6 177.4,1538.2 178.1,1537.5 178.8,1537.2 179.5,1537.9 180.2,1538.3 180.9,1538.2 181.6,1537.2 182.3,1537.9 183,1538.3 183.7,1538.2 184.4,1535.1 185.1,1536.5 185.8,1536.6 186.5,1537.2 187.2,1537.6 187.9,1538.3 188.6,1538 189.3,1537.3 190,1537.4 190.7,1539.1 191.4,1536.8 192.1,1537.7 192.8,1538.9 193.5,1537.7 194.2,1535.3 194.9,1537.7 195.6,1536.9 196.3,1537.2 197,1538.4 197.7,1537.8 198.4,1537 199.1,1538.2 199.8,1537.7 200.5,1537.4 201.2,1537.6 201.9,1537.5 202.6,1536.9 203.3,1536.8 204,1537.3 204.7,1536.3 205.4,1536 206.1,1538.5 206.8,1537 207.5,1537.2 208.2,1537.1 208.9,1537.2 209.6,1537.2 210.3,1537.2 211,1536.4 211.7,1538.1 212.4,1536.5 213.1,1538.2 213.8,1535.2 214.5,1536.1 215.2,1538.1 215.9,1537 216.6,1536.4 217.3,1537.5 218,1536.1 218.7,1537.2 219.4,1534.9 220.1,1536.6 220.8,1536.4 221.5,1537.6 222.2,1537.9 222.9,1536.2 223.6,1538.6 224.3,1536.4 225,1535 225.7,1534.7 226.4,1538.5 227.1,1536.9 227.8,1536.3 228.5,1536.2 229.2,1535.9 229.9,1538.3 230.6,1536.9 231.3,1538.7 232,1536.7 232.7,1534.6 233.4,1537.8 234.1,1536.5 234.8,1536.7 235.5,1538.5 236.2,1536.6 236.9,1538 237.6,1536.9 238.3,1536.1 239,1537.4 239.7,1536.2 240.4,1538.1 241.1,1537.8 241.8,1536.9 242.5,1537.4 243.2,1537.4 243.9,1536.5 244.6,1537.7 245.3,1536.5 246,1537.4 246.7,1535.8 247.4,1536.8 248.1,1537.2 248.8,1535.9 249.5,1536.3 250.2,1536.2 250.9,1537.4 251.6,1536 252.3,1537.1 253,1538.2 253.7,1537 254.4,1535 255.1,1536.8 255.8,1537.7 256.5,1536.3 257.2,1537.7 257.9,1537.2 258.6,1537 259.3,1536.3 260,1536.1 260.7,1536.3 261.4,1536.6 262.1,1537.1 262.8,1537 263.5,1536.2 264.2,1536.6 264.9,1536.9 265.6,1534.9 266.3,1535.7 267,1535.7 267.7,1536.3 268.4,1536.2 269.1,1536.2 269.8,1535.6 270.5,1537.1 271.2,1536.7 271.9,1534.8 272.6,1536.4 273.3,1535.3 274,1538.1 274.7,1535.9 275.4,1536 276.1,1536.5 276.8,1536.2 277.5,1536.3 278.2,1537.9 278.9,1536.6 279.6,1537.2 280.3,1537.4 281,1535.3 281.7,1538 282.4,1537 283.1,1537.2 283.8,1535.4 284.5,1537.1 285.2,1536.7 285.9,1535.7 286.6,1538.5 287.3,1536.8 288,1536 288.7,1536.4 289.4,1537.1 290.1,1537.3 290.8,1536.7 291.5,1537.4 292.2,1537.6 292.9,1534.9 293.6,1535.6 294.3,1535.2 295,1536.2 295.7,1537.5 296.4,1536.7 297.1,1535 297.8,1535.8 298.5,1537.1 299.2,1535.5 299.9,1535.9 300.6,1536.3 301.3,1534.2 302,1536.8 302.7,1536.3 303.4,1536.5 304.1,1535 304.8,1535.2 305.5,1535.3 306.2,1536.2 306.9,1536 307.6,1536 308.3,1537.7 309,1537.2 309.7,1535.1 310.4,1535.2 311.1,1537.5 311.8,1535.5 312.5,1537.2 313.2,1537.4 313.9,1535.2 314.6,1535.5 315.3,1535.8 316,1534.9 316.7,1534.7 317.4,1535.3 318.1,1536.5 318.8,1535.2 319.5,1535.5 320.2,1535.2 320.9,1534.3 321.6,1537.1 322.3,1533.3 323,1534.9 323.7,1536.1 324.4,1534.2 325.1,1536.1 325.8,1536.8 326.5,1534.7 327.2,1535.7 327.9,1534.4 328.6,1536 329.3,1535.5 330,1535.7 330.7,1536.8 331.4,1535.9 332.1,1536.7 332.8,1536 333.5,1534.2 334.2,1535.6 334.9,1535.8 335.6,1533.9 336.3,1536.6 337,1535.4 337.7,1535.6 338.4,1534.4 339.1,1535.3 339.8,1535.5 340.5,1534.9 341.2,1535.3 341.9,1533.1 342.6,1536.5 343.3,1534 344,1532.9 344.7,1534.2 345.4,1534.3 346.1,1535.6 346.8,1534.2 347.5,1535.3 348.2,1534.1 348.9,1537.2 349.6,1535.6 350.3,1536.9 351,1534 351.7,1535.6 352.4,1534 353.1,1535.5 353.8,1535.6 354.5,1533.3 355.2,1533.8 355.9,1533.7 356.6,1533.4 357.3,1534.1 358,1533.9 358.7,1533.4 359.4,1534.9 360.1,1535.3 360.8,1533.5 361.5,1534.2 362.2,1534.8 362.9,1534.5 363.6,1534 364.3,1535.5 365,1535.5 365.7,1535.4 366.4,1534.5 367.1,1536.6 367.8,1536.4 368.5,1534.2 369.2,1534.5 369.9,1535.8 370.6,1533.8 371.3,1535 372,1534.6 372.7,1533.9 373.4,1534.3 374.1,1533 374.8,1534 375.5,1532.5 376.2,1536.8 376.9,1536 377.6,1535.7 378.3,1534.8 379,1535.5 379.7,1535.7 380.4,1535.5 381.1,1535.4 381.8,1533.5 382.5,1534.9 383.2,1533.9 383.9,1533.2 384.6,1533.3 385.3,1534.8 386,1535.4 386.7,1533 387.4,1536.1 388.1,1535.8 388.8,1534 389.5,1533.9 390.2,1534.3 390.9,1535.3 391.6,1534 392.3,1533.2 393,1534.7 393.7,1532.3 394.4,1534.5 395.1,1535.5 395.8,1534.6 396.5,1535.1 397.2,1534.8 397.9,1535 398.6,1534.4 399.3,1533.4 400,1534 400.7,1534.2 401.4,1535.5 402.1,1535.8 402.8,1534.6 403.5,1533.4 404.2,1533.5 404.9,1534 405.6,1535.5 406.3,1534.5 407,1534.1 407.7,1533.3 408.4,1535 409.1,1534.4 409.8,1534 410.5,1534.1 411.2,1535.7 411.9,1533.8 412.6,1535.6 413.3,1535.1 414,1533.7 414.7,1534.3 415.4,1533 416.1,1532 416.8,1532.3 417.5,1531.3 418.2,1532.3 418.9,1531.3 419.6,1531.3 420.3,1531.1 421,1527.6 421.7,1530.1 422.4,1528.2 423.1,1530.6 423.8,1530.1 424.5,1531.7 425.2,1533.5 425.9,1530.8 426.6,1532.9 427.3,1532.8 428,1531.2 428.7,1533.9 429.4,1533.4 430.1,1533 430.8,1532.8 431.5,1535.8 432.2,1533.1 432.9,1531.7 433.6,1532.5 434.3,1533.1 435,1533 435.7,1533.3 436.4,1532.3 437.1,1533.9 437.8,1532.9 438.5,1532 439.2,1532.5 439.9,1532.9 440.6,1534.1 441.3,1533.7 442,1532.9 442.7,1533.2 443.4,1533.4 444.1,1535.2 444.8,1532.5 445.5,1533.6 446.2,1533.8 446.9,1532.1 447.6,1533.2 448.3,1533.2 449,1532.5 449.7,1533.5 450.4,1534 451.1,1534 451.8,1532.7 452.5,1533 453.2,1535.1 453.9,1531.7 454.6,1533 455.3,1533.6 456,1532.8 456.7,1533.3 457.4,1532.8 458.1,1533.3 458.8,1533.8 459.5,1532.3 460.2,1532.7 460.9,1532.4 461.6,1532 462.3,1532.4 463,1531.2 463.7,1533.1 464.4,1534 465.1,1533.9 465.8,1533.5 466.5,1531.2 467.2,1533.6 467.9,1531.3 468.6,1532 469.3,1533.8 470,1530.8 470.7,1532.7 471.4,1532.1 472.1,1531.6 472.8,1530.8 473.5,1532 474.2,1531.1 474.9,1532.5 475.6,1532.6 476.3,1529.9 477,1530.7 477.7,1530.8 478.4,1529.8 479.1,1529.8 479.8,1530.9 480.5,1530.5 481.2,1529 481.9,1530 482.6,1530.9 483.3,1529.1 484,1529.3 484.7,1531.7 485.4,1531.3 486.1,1528.2 486.8,1528.3 487.5,1529.9 488.2,1528.1 488.9,1528.8 489.6,1528.4 490.3,1529.1 491,1525.9 491.7,1525.7 492.4,1526.3 493.1,1528.1 493.8,1526.4 494.5,1524.3 495.2,1525.8 495.9,1525.3 496.6,1523.6 497.3,1522.6 498,1522.3 498.7,1522 499.4,1519.7 500.1,1518.6 500.8,1516.5 501.5,1514.3 502.2,1511.6 502.9,1510.2 503.4,1507.6 503.6,1506.7 503.6,1507.5 503.9,1505.8 504.1,1504.8 504.3,1501.9 504.4,1503.1 504.6,1500.6 504.9,1498.8 505,1498.1 505.1,1498.6 505.4,1496.4 505.6,1493.2 505.7,1492.4 505.9,1491.5 506.1,1488.7 506.4,1487.6 506.4,1485.4 506.6,1482.4 506.9,1480.5 507.1,1478 507.1,1477.4 507.4,1474.3 507.6,1471.3 507.8,1467.4 507.9,1465.6 508.1,1460.6 508.4,1457 508.5,1455.3 508.6,1451.6 508.9,1446.9 509.1,1440.6 509.2,1440.1 509.4,1434.6 509.6,1427.5 509.9,1420.7 509.9,1420.4 510.1,1413 510.4,1406 510.6,1399.8 510.6,1398.5 510.9,1389.3 511.1,1380.4 511.3,1374.7 511.4,1371.5 511.6,1361.8 511.9,1351.8 512,1348.2 512.1,1342.1 512.4,1331.6 512.6,1321.9 512.7,1319.8 512.9,1311.7 513.1,1301.9 513.4,1292.7 513.4,1292.7 513.6,1283.7 513.9,1275.1 514.1,1269.2 514.1,1267.9 514.4,1261.4 514.6,1256.3 514.8,1253.8 514.9,1252.7 515.1,1250.4 515.4,1249.5 515.5,1249.6 515.6,1250.2 515.9,1252.6 516.1,1256.4 516.2,1257.2 516.4,1261.6 516.6,1267.8 516.9,1275.2 516.9,1275.4 517.1,1283.5 517.4,1292.5 517.6,1300 517.6,1301.6 517.9,1311.9 518.1,1321.6 518.3,1328.1 518.4,1331.6 518.6,1341.6 518.9,1352.1 519,1356 519.1,1361.8 519.4,1371 519.6,1380.7 519.7,1381.9 519.9,1389.2 520.1,1397.6 520.4,1405.8 520.4,1406.3 520.6,1413.5 520.9,1421.3 521.1,1426.9 521.1,1427.2 521.4,1434 521.6,1440.5 521.8,1443.9 521.9,1446.6 522.1,1450.8 522.4,1457.3 522.5,1459.2 522.6,1461.5 522.9,1465.2 523.1,1470.1 523.2,1470.5 523.4,1474.2 523.6,1477.4 523.9,1481.2 523.9,1480.4 524.1,1484.7 524.4,1484.9 524.6,1487.9 524.6,1489.5 524.9,1490.4 525.1,1494.3 525.3,1494.1 525.4,1495.9 525.6,1497.1 525.9,1499.2 526,1500.4 526.1,1501.1 526.4,1502.4 526.6,1506 526.7,1504.5 526.9,1504.7 527.1,1507.6 527.4,1508.6 528.1,1511.9 528.8,1514.9 529.5,1514.4 530.2,1518.1 530.9,1519.8 531.6,1520.1 532.3,1521.5 533,1520 533.7,1522.4 534.4,1525.2 535.1,1521.7 535.8,1522.9 536.5,1523.4 537.2,1523.2 537.9,1523.6 538.6,1519.4 539.3,1520.3 540,1520.1 540.7,1516.9 541.4,1517.1 542.1,1518 542.8,1516.4 543.5,1514.6 544.2,1510.8 544.9,1512.1 545.6,1511.8 546.3,1510.4 547,1509.9 547.7,1511.6 548.4,1508.3 549.1,1506.7 549.8,1507.1 550.5,1505.7 551.2,1504.8 551.9,1504.2 552.6,1504.3 553.3,1503 554,1500.8 554.7,1501.1 555.4,1501.1 556.1,1499.6 556.8,1500.7 557.5,1499.9 558.2,1497.8 558.9,1498.9 559.6,1500.5 560.3,1500.1 561,1498.6 561.7,1499.7 562.4,1498.4 563.1,1498 563.8,1500.5 564.5,1500.7 565.2,1501.5 565.9,1501.5 566.6,1502.5 567.3,1502.3 568,1503.9 568.7,1504.9 569.4,1504.7 570.1,1506.2 570.8,1504.2 571.5,1505.8 572.2,1508.6 572.9,1509.5 573.6,1508.6 574.3,1508.9 575,1508.4 575.7,1510.7 576.4,1511.8 577.1,1510.2 577.8,1512.9 578.5,1513.6 579.2,1514.2 579.9,1513.3 580.6,1515.7 581.3,1514.3 582,1517.9 582.7,1517.2 583.4,1516.5 584.1,1519.5 584.8,1519.8 585.5,1518.5 586.2,1521.8 586.9,1519 587.6,1520.6 588.3,1521.8 589,1518.7 589.7,1522.3 590.4,1521.6 591.1,1521.9 591.8,1521.2 592.5,1522.9 593.2,1521.7 593.9,1522.1 594.6,1522.9 595.3,1522.4 596,1525.4 596.7,1522.8 597.4,1523.6 598.1,1524.3 598.8,1524.8 599.5,1525.8 600.2,1526 600.9,1525.1 601.6,1525.2 602.3,1525.8 603,1526.8 603.7,1526.9 604.4,1525.8 605.1,1524.5 605.8,1528.8 606.5,1527.8 607.2,1527.3 607.9,1527.6 608.6,1526.9 609.3,1526.6 610,1527.4 610.7,1527.7 611.4,1527.4 612.1,1526.8 612.8,1528.1 613.5,1529.1 614.2,1528.2 614.9,1528.9 615.6,1526.9 616.3,1528.9 617,1529.1 617.7,1528.1 618.4,1527.8 619.1,1530 619.8,1528.9 620.5,1530.2 621.2,1529.4 621.9,1530.5 622.6,1529.6 623.3,1528.5 624,1529.9 624.7,1529.7 625.4,1530.6 626.1,1529.5 626.8,1529.5 627.5,1530.7 628.2,1530.9 628.9,1530.4 629.6,1530.6 630.3,1529.9 631,1530.1 631.7,1530.1 632.4,1529.5 633.1,1529 633.8,1529 634.5,1531 635.2,1528.6 635.9,1528.2 636.6,1527.9 637.3,1528.1 638,1528.2 638.7,1526.7 639.4,1525.7 640.1,1527.8 640.8,1525.7 641.5,1527.4 642.2,1527.1 642.9,1527.9 643.6,1528.2 644.3,1526.7 645,1525.6 645.7,1524.7 646.4,1524.9 647.1,1525.6 647.8,1523.3 648.5,1525.3 649.2,1525.1 649.9,1525.6 650.6,1524.6 651.3,1524.9 652,1524.1 652.7,1524.3 653.4,1523.1 654.1,1525.1 654.8,1526.6 655.5,1525.4 656.2,1525.7 656.9,1524.6 657.6,1527.2 658.3,1525.2 659,1527.1 659.7,1526.6 660.4,1525.8 661.1,1528.1 661.8,1527.4 662.5,1527.8 663.2,1528.4 663.9,1528.2 664.6,1528.1 665.3,1529.2 666,1528.5 666.7,1529.2 667.4,1528.7 668.1,1528 668.8,1529 669.5,1529.4 670.2,1530 670.9,1531.4 671.6,1528.7 672.3,1530.6 673,1528.5 673.7,1529.8 674.4,1530.5 675.1,1528.9 675.8,1529.5 676.5,1531.6 677.2,1531.7 677.9,1531.6 678.6,1531.1 679.3,1534.2 680,1532 680.7,1531.4 681.4,1534.1 682.1,1533.1 682.8,1532.2 683.5,1533.9 684.2,1533 684.9,1533.5 685.6,1533.2 686.3,1532 687,1534.1 687.7,1533.3 688.4,1532.2 689.1,1532.5 689.8,1534.3 690.5,1533 691.2,1533.5 691.9,1534.2 692.6,1533.7 693.3,1532.1 694,1534.3 694.7,1534.7 695.4,1534.6 696.1,1535.4 696.8,1534.2 697.5,1534.7 698.2,1535.6 698.9,1533.7 699.6,1535.8 700.3,1535.8 701,1534.9 701.7,1536 702.4,1535.1 703.1,1533.4 703.8,1535.4 704.5,1534.7 705.2,1534.8 705.9,1534.6 706.6,1535.8 707.3,1535 708,1533.8 708.7,1535 709.4,1535.3 710.1,1533.9 710.8,1534.2 711.5,1534.3 712.2,1534.1 712.9,1535.1 713.6,1535.8 714.3,1536.7 715,1536 715.7,1535.9 716.4,1536 717.1,1536.2 717.8,1534.5 718.5,1535.6 719.2,1535.3 719.9,1534.9 720.6,1534.6 721.3,1534.5 722,1534.8 722.7,1533.9 723.4,1535.6 724.1,1535.1 724.8,1535.3 725.5,1535.5 726.2,1535.9 726.9,1534.7 727.6,1535.2 728.3,1533.7 729,1533.1 729.7,1533.4 730.4,1536.9 731.1,1533.6 731.8,1535.9 732.5,1536.9 733.2,1535 733.9,1537.1 734.6,1537.4 735.3,1536.5 736,1537.9 736.7,1536.2 737.4,1534.9 738.1,1536.1 738.8,1535.2 739.5,1534.4 740.2,1534.4 740.9,1538 741.6,1535.2 742.3,1535.7 743,1535.1 743.7,1535.9 744.4,1535.6 745.1,1535.4 745.8,1534.6 746.5,1534.4 747.2,1535.1 747.9,1536.2 748.6,1538 749.3,1537 750,1537.7 750.7,1536.4 751.4,1535.9 752.1,1534.6 752.8,1536 753.5,1533.8 754.2,1535.7 754.9,1537.6 755.6,1536.3 756.3,1537.1 757,1535.6 757.7,1534.6 758.4,1535.5 759.1,1535.6 759.8,1537.2 760.5,1538 761.2,1535.3 761.9,1535.7 762.6,1535.9 763.3,1535.7 764,1534.8 764.7,1536.1 765.4,1536.4 766.1,1536.4 766.8,1534.8 767.5,1535.9 768.2,1534.3 768.9,1536.9 769.6,1535 770.3,1535.8 771,1535.6 771.7,1535.4 772.4,1535 773.1,1534.3 773.8,1537.8 774.5,1536.3 775.2,1536.3 775.9,1538.1 776.6,1535.9 777.3,1536.6 778,1536.1 778.7,1537.2 779.4,1536.5 780.1,1536.4 780.8,1535.8 781.5,1536.3 782.2,1537.2 782.9,1534 783.6,1535.9 784.3,1535.6 785,1535.7 785.7,1534.1 786.4,1536.8 787.1,1535.2 787.8,1535.8 788.5,1535.5 789.2,1534.4 789.9,1535.6 790.6,1534.2 791.3,1535.1 792,1535.7 792.7,1536 793.4,1536.1 794.1,1535.9 794.8,1538.2 795.5,1536.5 796.2,1534.8 796.9,1535.4 797.6,1535.4 798.3,1535.8 799,1535.4 799.7,1535.2 800.4,1537.7 801.1,1536.1 801.8,1535.7 802.5,1535.8 803.2,1535.8 803.9,1537.4 804.6,1536.5 805.3,1537.1 806,1533.7 806.7,1536.3 807.4,1537.1 808.1,1538 808.8,1536 809.5,1534.3 810.2,1536.6 810.9,1535.4 811.6,1534.2 812.3,1535.4 813,1537.1 813.7,1537.2 814.4,1536.7 815.1,1534.9 815.8,1538.3 816.5,1534.8 817.2,1535.9 817.9,1534.5 818.6,1537.3 819.3,1536.4 820,1536.9 820.7,1536.1 821.4,1535.9 822.1,1536.1 822.8,1534.1 823.5,1537 824.2,1536.9 824.9,1535.6 825.6,1535.9 826.3,1536.3 827,1537.5 827.7,1536.4 828.4,1536 829.1,1535.4 829.8,1534.4 830.5,1535.1 831.2,1535.5 831.9,1534.9 832.6,1534.9 833.3,1535.2 834,1534.5 834.7,1533.9 835.4,1533.9 836.1,1533.1 836.8,1532.6 837.5,1532.8 838.2,1530.4 838.9,1533.1 839.6,1530.2 840.3,1532.1 841,1531 841.7,1531.9 842.4,1530.7 843.1,1529.6 843.8,1531.5 844.5,1530.6 845.2,1530.5 845.9,1530.5 846.6,1531.4 847.3,1531.2 848,1530.6 848.7,1528.8 849.4,1529.9 850.1,1530.4 850.8,1532.1 851.5,1530.7 852.2,1530.2 852.9,1531.4 853.6,1530.1 854.3,1530.2 855,1530.4 855.7,1528.7 856.4,1531.2 857.1,1530.6 857.8,1529.9 858.5,1529 859.2,1530.4 859.9,1531.6 860.6,1529.5 861.3,1529.1 862,1530.5 862.7,1528.5 863.4,1527.9 864.1,1529.7 864.8,1529.4 865.5,1529.8 866.2,1529.5 866.9,1530.4 867.6,1529.9 868.3,1529.5 869,1529.6 869.7,1530.7 870.4,1531 871.1,1531 871.8,1530.8 872.5,1527.7 873.2,1529.1 873.9,1529.7 874.6,1530.3 875.3,1528.4 876,1531.5 876.7,1530.4 877.4,1529.4 878.1,1530.2 878.8,1529.7 879.5,1529.3 880.2,1530.6 880.9,1529.6 881.6,1528.7 882.3,1529.4 883,1530 883.7,1529 884.4,1531.4 885.1,1529 885.8,1531.9 886.5,1531.1 887.2,1529.3 887.9,1530.4 888.6,1531.4 889.3,1530.1 890,1529.1 890.7,1530.5 891.4,1532.4 892.1,1529 892.8,1531 893.5,1530.5 894.2,1530.4 894.9,1530.2 895.6,1530.3 896.3,1531.7 897,1531.3 897.7,1529.8 898.4,1532.4 899.1,1529.6 899.8,1531.6 900.5,1531.2 901.2,1532.2 901.9,1531.4 902.6,1532.2 903.3,1531.1 904,1532.2 904.7,1531.6 905.4,1533.4 906.1,1530.6 906.8,1532.6 907.5,1531.9 908.2,1531.6 908.9,1530.9 909.6,1532 910.3,1530.1 911,1530.2 911.7,1532.3 912.4,1530.1 913.1,1533.1 913.8,1531.5 914.5,1532 915.2,1531.9 915.9,1532.2 916.6,1531.5 917.3,1531.5 918,1531.7 918.7,1532.9 919.4,1533 920.1,1533.1 920.8,1532.2 921.5,1531.7 922.2,1530.1 922.9,1532.3 923.6,1532.4 924.3,1530.9 925,1531.9 925.7,1532.1 926.4,1530.6 927.1,1531.3 927.8,1530.2 928.5,1527.8 929.2,1528.8 929.9,1528.5 930.6,1529.1 931.3,1527.4 932,1527.5 932.7,1526.6 933.4,1527.3 934.1,1527.1 934.8,1527.7 935.5,1527.3 936.2,1526.4 936.9,1526.1 937.6,1525.7 938.3,1525.3 939,1526.5 939.7,1522.2 940.4,1524.1 941.1,1524.3 941.8,1524.8 942.5,1522.3 943.2,1523.5 943.9,1523.8 944.6,1522.3 945.3,1520.7 946,1522.2 946.7,1521.3 947.4,1523.1 948.1,1521.7 948.8,1524.3 949.5,1522.8 950.2,1521.9 950.9,1522.4 951.6,1521.9 952.3,1523.6 953,1524.9 953.7,1523.4 954.4,1524.7 955.1,1523.1 955.8,1524.6 956.5,1526.8 957.2,1523.4 957.9,1526.3 958.6,1526.5 959.3,1523.7 960,1524.4 960.7,1525.1 961.4,1527.3 962.1,1526.1 962.8,1526.6 963.5,1527.6 964.2,1527.2 964.9,1527.5 965.6,1527.2 966.3,1528.8 967,1527.2 967.7,1529.8 968.4,1528 969.1,1527.8 969.8,1529.4 970.5,1529.5 971.2,1527.2 971.9,1529.7 972.6,1528.3 973.3,1529 974,1530.8 974.7,1529.4 975.4,1530.8 976.1,1530.3 976.8,1532.8 977.5,1530.9 978.2,1530 978.9,1530.2 979.6,1530.5 980.3,1531.7 981,1531.7 981.7,1532.8 982.4,1532 983.1,1532.1 983.8,1532.4 984.5,1532 985.2,1532.5 985.9,1533.1 986.6,1533.1 987.3,1531.9 988,1530.7 988.7,1531.8 989.4,1532.9 990.1,1530.4 990.8,1532.3 991.5,1533.3 992.2,1532.4 992.9,1531.9 993.6,1534.8 994.3,1534.5 995,1532.9 995.7,1534.5 996.4,1534.6 997.1,1532.2 997.8,1535.6 998.5,1532.5 999.2,1533.2 999.9,1532.5 1000.6,1533.7 1001.3,1532.3 1002,1533.7 1002.7,1534.8 1003.4,1534 1004.1,1533.6 1004.8,1535.4 1005.5,1533 1006.2,1534.9 1006.9,1533.7 1007.6,1534.2 1008.3,1534.1 1009,1534.2 1009.7,1534.1 1010.4,1533.4 1011.1,1533.6 1011.8,1534.7 1012.5,1534.2 1013.2,1533.1 1013.9,1533.6 1014.6,1533.7 1015.3,1534.3 1016,1534.6 1016.7,1534.5 1017.4,1533.8 1018.1,1534.5 1018.8,1533.1 1019.5,1532.2 1020.2,1534.5 1020.9,1532.9 1021.6,1533.6 1022.3,1533.4 1023,1535.3 1023.7,1533.4 1024.4,1534.9 1025.1,1534.2 1025.8,1533.5 1026.5,1533.1 1027.2,1535.2 1027.9,1535.1 1028.6,1535.6 1029.3,1536.6 1030,1535.1 1030.7,1535.1 1031.4,1534.7 1032.1,1535 1032.8,1534.5 1033.5,1534 1034.2,1536.9 1034.9,1533.1 1035.6,1535.2 1036.3,1535.4 1037,1535.1 1037.7,1534 1038.4,1534.8 1039.1,1534.6 1039.8,1534 1040.5,1535 1041.2,1534.7 1041.9,1534.5 1042.6,1535.8 1043.3,1534 1044,1535.6 1044.7,1534.5 1045.4,1535.6 1046.1,1535.2 1046.8,1535.4 1047.5,1534.2 1048.2,1534.4 1048.9,1534.3 1049.6,1535.4 1050.3,1536 1051,1536.3 1051.7,1534.7 1052.4,1535.3 1053.1,1533.6 1053.8,1533 1054.5,1534.4 1055.2,1534.6 1055.9,1533.7 1056.6,1533.5 1057.3,1535.8 1058,1534.5 1058.7,1533.6 1059.4,1537.6 1060.1,1535.5 1060.8,1535 1061.5,1536 1062.2,1534.5 1062.9,1536.9 1063.6,1533.7 1064.3,1533.9 1065,1535 1065.7,1534.3 1066.4,1536.4 1067.1,1533.3 1067.8,1534 1068.5,1534.8 1069.2,1535 1069.9,1535.2 1070.6,1534.4 1071.3,1536 1072,1533.1 1072.7,1533.6 1073.4,1534 1074.1,1532.6 1074.8,1532.4 1075.5,1531.9 1076.2,1531.5 1076.9,1530.8 1077.6,1531.1 1078.3,1529.8 1079,1531.3 1079.7,1528.9 1080.4,1532 1081.1,1531.1 1081.8,1529.8 1082.5,1527.9 1083.2,1526.9 1083.9,1528.1 1084.6,1526.4 1085.3,1526.3 1086,1524.6 1086.7,1526.1 1087.4,1524 1088.1,1524.9 1088.8,1523.2 1089.5,1524.7 1090.2,1526.5 1090.9,1526.2 1091.6,1527.1 1092.3,1529.1 1093,1529.1 1093.7,1531.2 1094.4,1528.3 1095.1,1531.6 1095.8,1531.9 1096.5,1530.2 1097.2,1530.8 1097.9,1533.3 1098.6,1531.7 1099.3,1532.5 1100,1534 1100.7,1533.3 1101.4,1534.2 1102.1,1533 1102.8,1534.2 1103.5,1535 1104.2,1534.2 1104.9,1531.6 1105.6,1534.3 1106.3,1533.6 1107,1532.5 1107.7,1534.6 1108.4,1531.2 1109.1,1534.6 1109.8,1531.9 1110.5,1533.8 1111.2,1532 1111.9,1530.4 1112.6,1531.6 1113.3,1531.6 1114,1531.6 1114.7,1531.9 1115.4,1529.7 1116.1,1530.9 1116.8,1531 1117.5,1529.8 1118.2,1528.9 1118.9,1528.7 1119.6,1530.2 1120.3,1530 1121,1528.2 1121.7,1527.5 1122.4,1529.8 1123.1,1526.8 1123.8,1528.3 1124.5,1527.2 1125.2,1526 1125.9,1527.7 1126.6,1527.3 1127.3,1528.8 1128,1529.5 1128.7,1526.9 1129.4,1528.1 1130.1,1528 1130.8,1526.4 1131.5,1526.1 1132.2,1528.6 1132.9,1526.7 1133.6,1527.1 1134.3,1526.9 1135,1527.2 1135.7,1526.8 1136.4,1528.3 1137.1,1529 1137.8,1527.5 1138.5,1526.7 1139.2,1528.3 1139.9,1527 1140.6,1528 1141.3,1530.1 1142,1531.4 1142.7,1529.6 1143.4,1528.4 1144.1,1530.4 1144.8,1527.6 1145.5,1529.3 1146.2,1531.6 1146.9,1531 1147.6,1529 1148.3,1528.8 1149,1531.4 1149.7,1530.7 1150.4,1530.2 1151.1,1531.3 1151.8,1530.4 1152.5,1529.2 1153.2,1532 1153.9,1530.7 1154.6,1530.4 1155.3,1530.2 1156,1531.8 1156.7,1530.9 1157.4,1532.4 1158.1,1531.6 1158.8,1533 1159.5,1531.6 1160.2,1531.5 1160.9,1530.2 1161.6,1531.2 1162.3,1533 1163,1534.8 1163.7,1531.2 1164.4,1531.5 1165.1,1532.9 1165.8,1533.1 1166.5,1532.1 1167.2,1532.9 1167.9,1531.2 1168.6,1532.6 1169.3,1533.8 1170,1534.6 1170.7,1532.9 1171.4,1532.8 1172.1,1533.6 1172.8,1534.3 1173.5,1533.7 1174.2,1532.5 1174.9,1533.7 1175.6,1534.3 1176.3,1532.7 1177,1532.1 1177.7,1534 1178.4,1533.9 1179.1,1534.5 1179.8,1533.7 1180.5,1533 1181.2,1533.3 1181.9,1532.7 1182.6,1532.8 1183.3,1533.2 1184,1533.4 1184.7,1535 1185.4,1532.7 1186.1,1533.9 1186.8,1533.4 1187.5,1535.5 1188.2,1534.3 1188.9,1533.7 1189.6,1534.9 1190.3,1534.2 1191,1533.7 1191.7,1535.7 1192.4,1535 1193.1,1536 1193.8,1535.5 1194.5,1535.1 1195.2,1534.5 1195.9,1533.3 1196.6,1535.1 1197.3,1534.5 1198,1535.2 1198.7,1534.5 1199.4,1533.9 1200.1,1533.6 1200.8,1535.3 1201.5,1535.9 1202.2,1534.4 1202.9,1535.1 1203.6,1536.1 1204.3,1533.9 1205,1534.4 1205.7,1533.7 1206.4,1536 1207.1,1535.1 1207.8,1534.4 1208.5,1533.3 1209.2,1534.7 1209.9,1535.9 1210.6,1534.7 1211.3,1534.6 1212,1535.7 1212.7,1533.8 1213.4,1535.1 1214.1,1535.7 1214.8,1534.4 1215.5,1534.4 1216.2,1535.5 1216.9,1535.1 1217.6,1535 1218.3,1535.5 1219,1535.5 1219.7,1534.4 1220.4,1534.7 1221.1,1535.9 1221.8,1536.6 1222.5,1536.8 1223.2,1534.7 1223.9,1536.6 1224.6,1536.3 1225.3,1535.6 1226,1536.1 1226.7,1536.5 1227.4,1537.4 1228.1,1534.7 1228.8,1536.3 1229.5,1535.6 1230.2,1535.6 1230.9,1536.9 1231.6,1536.6 1232.3,1534.9 1233,1535.6 1233.7,1536.1 1234.4,1534.5 1235.1,1536.8 1235.8,1535.9 1236.5,1536.2 1237.2,1536.4 1237.9,1537.8 1238.6,1536.1 1239.3,1535.7 1240,1537.8 1240.7,1535.6 1241.4,1535.6 1242.1,1534.8 1242.8,1537.3 1243.5,1536.5 1244.2,1536.7 1244.9,1536.4 1245.6,1536.1 1246.3,1535.5 1247,1535.5 1247.7,1536.7 1248.4,1536.4 1249.1,1537.9 1249.8,1535.6 1250.5,1535.9 1251.2,1535.3 1251.9,1537.7 1252.6,1535.1 1253.3,1537.1 1254,1537.8 1254.7,1536.2 1255.4,1537.1 1256.1,1534.3 1256.8,1536 1257.5,1534.7 1258.2,1536.5 1258.9,1536.4 1259.6,1535.6 1260.3,1537.3 1261,1536.7 1261.7,1535.9 1262.4,1535.9 1263.1,1534.9 1263.8,1536.2 1264.5,1538.5 1265.2,1535.7 1265.9,1536.8 1266.6,1535.8 1267.3,1537.1 1268,1536.8 1268.7,1536.1 1269.4,1534.6 1270.1,1535.8 1270.8,1537.5 1271.5,1536.1 1272.2,1537 1272.9,1535.9 1273.6,1534.5 1274.3,1536.7 1275,1536.6 1275.7,1535.7 1276.4,1535.9 1277.1,1536.6 1277.8,1535.7 1278.5,1536.6 1279.2,1536.1 1279.9,1534 1280.6,1536.1 1281.3,1535.7 1282,1535.5 1282.7,1536.7 1283.4,1535.8 1284.1,1536.8 1284.8,1537.3 1285.5,1536.4 1286.2,1534.7 1286.9,1535.5 1287.6,1537.1 1288.3,1536 1289,1535.4 1289.7,1536.1 1290.4,1536.7 1291.1,1536.5 1291.8,1536.8 1292.5,1535.4 1293.2,1535.9 1293.9,1535.9 1294.6,1536.2 1295.3,1534.1 1296,1535.9 1296.7,1534.8 1297.4,1537.5 1298.1,1537.7 1298.8,1537.8 1299.5,1536.9 1300.2,1535.7 1300.9,1537.1 1301.6,1535.9 1302.3,1536.7 1303,1535.2 1303.7,1535.5 1304.4,1536.5 1305.1,1537.8 1305.8,1536.1 1306.5,1538.3 1307.2,1538.4 1307.9,1534.8 1308.6,1536 1309.3,1535.1 1310,1535.9 1310.7,1535.5 1311.4,1536 1312.1,1537 1312.8,1536.9 1313.5,1536.3 1314.2,1536 1314.9,1536.1 1315.6,1536.1 1316.3,1536.5 1317,1536 1317.7,1536.4 1318.4,1534.6 1319.1,1536.7 1319.8,1537.7 1320.5,1536.1 1321.2,1534.5 1321.9,1537.2 1322.6,1535.6 1323.3,1533.6 1324,1535.7 1324.7,1536.5 1325.4,1536.2 1326.1,1537.1 1326.8,1536.5 1327.5,1536 1328.2,1533.9 1328.9,1534.7 1329.6,1536 1330.3,1536.5 1331,1534.8 1331.7,1535.2 1332.4,1536.2 1333.1,1533.9 1333.8,1533.8 1334.5,1535.5 1335.2,1536 1335.9,1535.3 1336.6,1533.5 1337.3,1535.8 1338,1534.4 1338.7,1536.4 1339.4,1535.6 1340.1,1536 1340.8,1536.3 1341.5,1535.2 1342.2,1536.5 1342.9,1536.9 1343.6,1536.1 1344.3,1537 1345,1535 1345.7,1536.5 1346.4,1535.9 1347.1,1534.6 1347.8,1535.5 1348.5,1535.1 1349.2,1535.1 1349.9,1535.7 1350.6,1536.6 1351.3,1535.3 1352,1535.7 1352.7,1534.1 1353.4,1535.7 1354.1,1536.7 1354.8,1536.3 1355.5,1536 1356.2,1535 1356.9,1534.6 1357.6,1535.4 1358.3,1534.2 1359,1534.3 1359.7,1536.4 1360.4,1534.6 1361.1,1537.3 1361.8,1534.1 1362.5,1535.9 1363.2,1534.3 1363.9,1535.6 1364.6,1534.4 1365.3,1535.5 1366,1535.3 1366.7,1535 1367.4,1535.9 1368.1,1536.9 1368.8,1534.8 1369.5,1536.3 1370.2,1535.5 1370.9,1535.4 1371.6,1537.6 1372.3,1533.2 1373,1534.7 1373.7,1533.6 1374.4,1535.1 1375.1,1535.1 1375.8,1537.7 1376.5,1535.7 1377.2,1537.1 1377.9,1536.6 1378.6,1534.9 1379.3,1535.8 1380,1537 1380.7,1535.5 1381.4,1535.5 1382.1,1535.8 1382.8,1533.8 1383.5,1534.5 1384.2,1535.7 1384.9,1535.9 1385.6,1534.4 1386.3,1535 1387,1535.2 1387.7,1535.2 1388.4,1536 1389.1,1535.4 1389.8,1535.5 1390.5,1533.9 1391.2,1534.3 1391.9,1535.6 1392.6,1533.7 1393.3,1535.6 1394,1534.6 1394.7,1534.5 1395.4,1535.9 1396.1,1534.6 1396.8,1534.4 1397.5,1534.6 1398.2,1535.3 1398.9,1537.6 1399.6,1533.2 1400.3,1535.3 1401,1535 1401.7,1536.2 1402.4,1534.9 1403.1,1533 1403.8,1536.6 1404.5,1534.2 1405.2,1535.2 1405.9,1533.9 1406.6,1534.2 1407.3,1534.8 1408,1536.2 1408.7,1536.1 1409.4,1534.7 1410.1,1535.8 1410.8,1534.9 1411.5,1535.4 1412.2,1535.5 1412.9,1535.9 1413.6,1534.7 1414.3,1535.2 1415,1535.6 1415.7,1535.4 1416.4,1534.6 1417.1,1537.1 1417.8,1534.9 1418.5,1536.1 1419.2,1535.6 1419.9,1536.6 1420.6,1533.2 1421.3,1537.5 1422,1535.2 1422.7,1534.2 1423.4,1535.6 1424.1,1537.7 1424.8,1536 1425.5,1534.2 1426.2,1535 1426.9,1536.8 1427.6,1534.1 1428.3,1535.3 1429,1535.2 1429.7,1537.7 1430.4,1535.2 1431.1,1536.9 1431.8,1534.9 1432.5,1534.8 1433.2,1536.6 1433.9,1536.2 1434.6,1533.9 1435.3,1536.2 1436,1536.3 1436.7,1535 1437.4,1535.9 1438.1,1535.9 1438.8,1535.2 1439.5,1535.1 1440.2,1535 1440.9,1535.4 1441.6,1534.4 1442.3,1535.7 1443,1534.3 1443.7,1535.8 1444.4,1535.7 1445.1,1534.8 1445.8,1536.6 1446.5,1537.7 1447.2,1537.1 1447.9,1534.5 1448.6,1537.1 1449.3,1536.1 1450,1535.8 1450.7,1535.3 1451.4,1535.9 1452.1,1537.3 1452.8,1536.5 1453.5,1535.5 1454.2,1535.3 1454.9,1535.5 1455.6,1536.5 1456.3,1537.8 1457,1534.9 1457.7,1536 1458.4,1535.6 1459.1,1535.3 1459.8,1536.4 1460.5,1536.6 1461.2,1534.7 1461.9,1535 1462.6,1537.3 1463.3,1536.4 1464,1536.6 1464.7,1535.6 1465.4,1535.8 1466.1,1536.6 1466.8,1535.7 1467.5,1535.1 1468.2,1536.2 1468.9,1537.1 1469.6,1535.2 1470.3,1537.3 1471,1536.9 1471.7,1535.4 1472.4,1536.2 1473.1,1536.2 1473.8,1536.9 1474.5,1536.9 1475.2,1535 1475.9,1535 1476.6,1537.3 1477.3,1536.4 1478,1536.7 1478.7,1536.7 1479.4,1537.9 1480.1,1535.1 1480.8,1537.4 1481.5,1535.5 1482.2,1537.1 1482.9,1537.7 1483.6,1535 1484.3,1536.8 1485,1536.1 1485.7,1536.1 1486.4,1536.4 1487.1,1535.4 1487.8,1535.5 1488.5,1537.1 1489.2,1537.3 1489.9,1535.9 1490.6,1535 1491.3,1538.7 1492,1537.5 1492.7,1536.8 1493.4,1535.4 1494.1,1535.9 1494.8,1536.7 1495.5,1535.5 1496.2,1538 1496.9,1536.6 1497.6,1536.9 1498.3,1535.4 1499,1535.6 1499.7,1535.7 1500.4,1536.7 1501.1,1536.2 1501.8,1536.2 1502.5,1536.8 1503.2,1536.7 1503.9,1537.9 1504.6,1536.2 1505.3,1535.4 1506,1536.3 1506.7,1537.8 1507.4,1535.7 1508.1,1536.3 1508.8,1535.9 1509.5,1536.6 1510.2,1536.4 1510.9,1535.3 1511.6,1535.8 1512.3,1536.9 1513,1537 1513.7,1536.8 1514.4,1536.7 1515.1,1535.4 1515.8,1535.4 1516.5,1536.6 1517.2,1534.4 1517.9,1535.5 1518.6,1533.6 1519.3,1535 1520,1534.7 1520.7,1534.1 1521.4,1535.8 1522.1,1534.4 1522.8,1534.7 1523.5,1534.8 1524.2,1534.2 1524.9,1536.3 1525.6,1534.3 1526.3,1534.9 1527,1533.4 1527.7,1534.1 1528.4,1534.2 1529.1,1534.2 1529.8,1533.8 1530.5,1534.5 1531.2,1535.8 1531.9,1534 1532.6,1534 1533.3,1533.7 1534,1536.3 1534.7,1535.5 1535.4,1534.4 1536.1,1534.5 1536.8,1533 1537.5,1533.5 1538.2,1533.8 1538.9,1533.7 1539.6,1532.7 1540.3,1532.7 1541,1533.9 1541.7,1533.7 1542.4,1531.2 1543.1,1533.4 1543.8,1534.5 1544.5,1532.6 1545.2,1533.4 1545.9,1531.7 1546.6,1533.9 1547.3,1531.9 1548,1531.7 1548.7,1532.6 1549.4,1535.2 1550.1,1532.2 1550.8,1531.5 1551.5,1533.1 1552.2,1532.8 1552.9,1534.1 1553.6,1531.1 1554.3,1530.5 1555,1531.5 1555.7,1531.7 1556.4,1531.3 1557.1,1531.6 1557.8,1528.6 1558.5,1528.9 1559.2,1529.2 1559.9,1530 1560.6,1529.5 1561.3,1528.6 1562,1528.2 1562.7,1530.4 1563.4,1530.9 1564.1,1532.8 1564.8,1530.8 1565.5,1533.2 1566.2,1530.9 1566.9,1532 1567.6,1532.2 1568.3,1532.6 1569,1532.3 1569.7,1532.8 1570.4,1533.4 1571.1,1533.1 1571.8,1534.3 1572.5,1533.7 1573.2,1533.9 1573.9,1535.4 1574.6,1534.4 1575.3,1534.3 1576,1534.2 1576.7,1534.4 1577.4,1534.9 1578.1,1533.6 1578.8,1535.5 1579.5,1536 1580.2,1535.6 1580.9,1534 1581.6,1533 1582.3,1534.1 1583,1534.7 1583.7,1535.4 1584.4,1534.4 1585.1,1534.3 1585.8,1536.1 1586.5,1534 1587.2,1535.7 1587.9,1535.5 1588.6,1533.4 1589.3,1534.9 1590,1534.1 1590.7,1533.8 1591.4,1532.9 1592.1,1533.2 1592.8,1535.1 1593.5,1534.4 1594.2,1535 1594.9,1533.7 1595.6,1534.4 1596.3,1534.5 1597,1533.3 1597.7,1533.2 1598.4,1535.2 1599.1,1534.9 1599.8,1533.9 1600.5,1534.7 1601.2,1535.5 1601.9,1536.6 1602.6,1534 1603.3,1535.4 1604,1536.9 1604.7,1534.9 1605.4,1536.3 1606.1,1532.6 1606.8,1536.3 1607.5,1534.9 1608.2,1533 1608.9,1535.6 1609.6,1535.9 1610.3,1536.1 1611,1536.1 1611.7,1534.9 1612.4,1534.2 1613.1,1534.5 1613.8,1534.9 1614.5,1535.3 1615.2,1534.5 1615.9,1535 1616.6,1535.8 1617.3,1535.3 1618,1537.2 1618.7,1537.1 1619.4,1533.8 1620.1,1534.4 1620.8,1533.7 1621.5,1533.8 1622.2,1535.5 1622.9,1534 1623.6,1534 1624.3,1534.7 1625,1535.8 1625.7,1534.7 1626.4,1534.7 1627.1,1535.9 1627.8,1535.5 1628.5,1535.5 1629.2,1536 1629.9,1534.1 1630.6,1535.3 1631.3,1534.4 1632,1536.1 1632.7,1535.9 1633.4,1534.1 1634.1,1536.4 1634.8,1534 1635.5,1536.3 1636.2,1535.3 1636.9,1534.3 1637.6,1534 1638.3,1534.8 1639,1535.1 1639.7,1534.4 1640.4,1535.7 1641.1,1533.8 1641.8,1535.2 1642.5,1535.2 1643.2,1533.3 1643.9,1535.5 1644.6,1533.9 1645.3,1532.9 1646,1534.6 1646.7,1535 1647.4,1536.1 1648.1,1534.7 1648.8,1536.7 1649.5,1536.6 1650.2,1536.3 1650.9,1536.5 1651.6,1535.6 1652.3,1534.7 1653,1535.9 1653.7,1536.2 1654.4,1535.5 1655.1,1535 1655.8,1533.7 1656.5,1535.9 1657.2,1535.6 1657.9,1534 1658.6,1535.4 1659.3,1536 1660,1535.2 1660.7,1536.1 1661.4,1536.1 1662.1,1533.9 1662.8,1535 1663.5,1535.8 1664.2,1536.2 1664.9,1536.7 1665.6,1533.5 1666.3,1535.3 1667,1536.1 1667.7,1536.6 1668.4,1537 1669.1,1534.4 1669.8,1535 1670.5,1534.3 1671.2,1536.2 1671.9,1534.1 1672.6,1536.6 1673.3,1536.3 1674,1535.9 1674.7,1533.3 1675.4,1534.7 1676.1,1536.1 1676.8,1534 1677.5,1535.2 1678.2,1535.3 1678.9,1536.3 1679.6,1535.7 1680.3,1535.7 1681,1535 1681.7,1535.4 1682.4,1535.3 1683.1,1536.2 1683.8,1535.3 1684.5,1536.5 1685.2,1533.8 1685.9,1536.6 1686.6,1535.3 1687.3,1536.6 1688,1535.5 1688.7,1536.3 1689.4,1536.9 1690.1,1534.9 1690.8,1535.5 1691.5,1535.3 1692.2,1535.7 1692.9,1533.9 1693.6,1535.3 1694.3,1535.2 1695,1534.7 1695.7,1535.3 1696.4,1533.9 1697.1,1536.8 1697.8,1535.9 1698.5,1537.3 1699.2,1534.6 1699.9,1534.3 1700.6,1535.7 1701.3,1533.8 1702,1535.7 1702.7,1534.8 1703.4,1535.1 1704.1,1535.7 1704.8,1535.5 1705.5,1537.3 1706.2,1536.1 1706.9,1534.2 1707.6,1536.4 1708.3,1534.1 1709,1535.6 1709.7,1534.2 1710.4,1534.6 1711.1,1536.8 1711.8,1534.9 1712.5,1534.8 1713.2,1534.9 1713.9,1535.2 1714.6,1536.9 1715.3,1534.3 1716,1534.2 1716.7,1536 1717.4,1533.9 1718.1,1535.1 1718.8,1536.6 1719.5,1535.5 1720.2,1535 1720.9,1534.8 1721.6,1534.6 1722.3,1534.9 1723,1535.6 1723.7,1536.7 1724.4,1536.4 1725.1,1534.9 1725.8,1534.7 1726.5,1536.1 1727.2,1533.7 1727.9,1535 1728.6,1535.1 1729.3,1534.4 1730,1534.5 1730.7,1535.8 1731.4,1533.8 1732.1,1534.5 1732.8,1534.8 1733.5,1535.5 1734.2,1534.1 1734.9,1536.5 1735.6,1535.1 1736.3,1535.2 1737,1535.1 1737.7,1534.8 1738.4,1534.5 1739.1,1536.6 1739.8,1535.6 1740.5,1535.3 1741.2,1536.4 1741.9,1534.7 1742.6,1536.1 1743.3,1535.5 1744,1534.6 1744.7,1536.2 1745.4,1534 1746.1,1536.1 1746.8,1534.6 1747.5,1535.8 1748.2,1536.8 1748.9,1536 1749.6,1534.8 1750.3,1535.4 1751,1535.1 1751.7,1534.3 1752.4,1534.3 1753.1,1535.5 1753.8,1536 1754.5,1533.7 1755.2,1535.4 1755.9,1535.9 1756.6,1535.5 1757.3,1534.4 1758,1536.4 1758.7,1534.2 1759.4,1536.1 1760.1,1537 1760.8,1533.4 1761.5,1535.7 1762.2,1535.7 1762.9,1535.6 1763.6,1534.7 1764.3,1535.1 1765,1534 1765.7,1535.6 1766.4,1536 1767.1,1534.8 1767.8,1534.5 1768.5,1535 1769.2,1535.4 1769.9,1535.5 1770.6,1535.3 1771.3,1535.5 1772,1534.2 1772.7,1533.3 1773.4,1536.1 1774.1,1536.9 1774.8,1534.1 1775.5,1534.8 1776.2,1535.8 1776.9,1536.4 1777.6,1536.1 1778.3,1536.8 1779,1535.5 1779.7,1535.9 1780.4,1535.9 1781.1,1535.1 1781.8,1536.7 1782.5,1536.2 1783.2,1536.5 1783.9,1535.2 1784.6,1536.6 1785.3,1534.6 1786,1536 1786.7,1533.4 1787.4,1534.6 1788.1,1536.4 1788.8,1535.2 1789.5,1535.8 1790.2,1534.1 1790.9,1537.2 1791.6,1536.3 1792.3,1535.7 1793,1536.1 1793.7,1536.1 1794.4,1537.1 1795.1,1536 1795.8,1534.3 1796.5,1535.5 1797.2,1537 1797.9,1536.4 1798.6,1535.4 1799.3,1536.4 1800,1536 1800.7,1536.5 1801.4,1534.3 1802.1,1535 1802.8,1536.5 1803.5,1535.7 1804.2,1536.3 1804.9,1537.9 1805.6,1535.6 1806.3,1536.2 1807,1535.4 1807.7,1535.4 1808.4,1535.9 1809.1,1534.6 1809.8,1534 1810.5,1537.4 1811.2,1536 1811.9,1537.2 1812.6,1536.2 1813.3,1536.3 1814,1536.8 1814.7,1536.8 1815.4,1535 1816.1,1537.3 1816.8,1535.2 1817.5,1536.4" fill="none" stroke="#fe0a0c" stroke-width="2.9" stroke-linejoin="round" stroke-linecap="butt"/>
<path d="M176,1536.9 176.7,1538.6 177.4,1538.2 178.1,1537.5 178.8,1537.2 179.5,1537.9 180.2,1538.3 180.9,1538.2 181.6,1537.2 182.3,1537.9 183,1538.3 183.7,1538.2 184.4,1535.1 185.1,1536.5 185.8,1536.6 186.5,1537.2 187.2,1537.6 187.9,1538.3 188.6,1538 189.3,1537.3 190,1537.4 190.7,1539.1 191.4,1536.8 192.1,1537.7 192.8,1538.9 193.5,1537.7 194.2,1535.3 194.9,1537.7 195.6,1536.9 196.3,1537.2 197,1538.4 197.7,1537.8 198.4,1537 199.1,1538.2 199.8,1537.7 200.5,1537.4 201.2,1537.6 201.9,1537.5 202.6,1536.9 203.3,1536.8 204,1537.3 204.7,1536.3 205.4,1536 206.1,1538.5 206.8,1537 207.5,1537.2 208.2,1537.1 208.9,1537.2 209.6,1537.2 210.3,1537.2 211,1536.4 211.7,1538.1 212.4,1536.5 213.1,1538.2 213.8,1535.2 214.5,1536.1 215.2,1538.1 215.9,1537 216.6,1536.4 217.3,1537.5 218,1536.1 218.7,1537.2 219.4,1534.9 220.1,1536.6 220.8,1536.4 221.5,1537.6 222.2,1537.9 222.9,1536.2 223.6,1538.6 224.3,1536.4 225,1535 225.7,1534.7 226.4,1538.5 227.1,1536.9 227.8,1536.3 228.5,1536.2 229.2,1535.9 229.9,1538.3 230.6,1536.9 231.3,1538.7 232,1536.7 232.7,1534.6 233.4,1537.8 234.1,1536.5 234.8,1536.7 235.5,1538.5 236.2,1536.6 236.9,1538 237.6,1536.9 238.3,1536.1 239,1537.4 239.7,1536.2 240.4,1538.1 241.1,1537.8 241.8,1536.9 242.5,1537.4 243.2,1537.4 243.9,1536.5 244.6,1537.7 245.3,1536.5 246,1537.4 246.7,1535.8 247.4,1536.8 248.1,1537.2 248.8,1535.9 249.5,1536.3 250.2,1536.2 250.9,1537.4 251.6,1536 252.3,1537.1 253,1538.2 253.7,1537 254.4,1535 255.1,1536.8 255.8,1537.7 256.5,1536.3 257.2,1537.7 257.9,1537.2 258.6,1537 259.3,1536.3 260,1536.1 260.7,1536.3 261.4,1536.6 262.1,1537.1 262.8,1537 263.5,1536.2 264.2,1536.6 264.9,1536.9 265.6,1534.9 266.3,1535.7 267,1535.7 267.7,1536.3 268.4,1536.2 269.1,1536.2 269.8,1535.6 270.5,1537.1 271.2,1536.7 271.9,1534.8 272.6,1536.4 273.3,1535.3 274,1538.1 274.7,1535.9 275.4,1536 276.1,1536.5 276.8,1536.2 277.5,1536.3 278.2,1537.9 278.9,1536.6 279.6,1537.2 280.3,1537.4 281,1535.3 281.7,1538 282.4,1537 283.1,1537.2 283.8,1535.4 284.5,1537.1 285.2,1536.7 285.9,1535.7 286.6,1538.5 287.3,1536.8 288,1536 288.7,1536.4 289.4,1537.1 290.1,1537.3 290.8,1536.7 291.5,1537.4 292.2,1537.6 292.9,1534.9 293.6,1535.6 294.3,1535.2 295,1536.2 295.7,1537.5 296.4,1536.7 297.1,1535 297.8,1535.8 298.5,1537.1 299.2,1535.5 299.9,1535.9 300.6,1536.3 301.3,1534.2 302,1536.8 302.7,1536.3 303.4,1536.5 304.1,1535 304.8,1535.2 305.5,1535.3 306.2,1536.2 306.9,1536 307.6,1536 308.3,1537.7 309,1537.2 309.7,1535.1 310.4,1535.2 311.1,1537.5 311.8,1535.5 312.5,1537.2 313.2,1537.4 313.9,1535.2 314.6,1535.5 315.3,1535.8 316,1534.9 316.7,1534.7 317.4,1535.3 318.1,1536.5 318.8,1535.2 319.5,1535.5 320.2,1535.2 320.9,1534.3 321.6,1537.1 322.3,1533.3 323,1534.9 323.7,1536.1 324.4,1534.2 325.1,1536.1 325.8,1536.8 326.5,1534.7 327.2,1535.7 327.9,1534.4 328.6,1536 329.3,1535.5 330,1535.7 330.7,1536.8 331.4,1535.9 332.1,1536.7 332.8,1536 333.5,1534.2 334.2,1535.6 334.9,1535.8 335.6,1533.9 336.3,1536.6 337,1535.4 337.7,1535.6 338.4,1534.4 339.1,1535.3 339.8,1535.5 340.5,1534.9 341.2,1535.3 341.9,1533.1 342.6,1536.5 343.3,1534 344,1532.9 344.7,1534.2 345.4,1534.3 346.1,1535.6 346.8,1534.2 347.5,1535.3 348.2,1534.1 348.9,1537.2 349.6,1535.6 350.3,1536.9 351,1534 351.7,1535.6 352.4,1534 353.1,1535.5 353.8,1535.6 354.5,1533.3 355.2,1533.8 355.9,1533.7 356.6,1533.4 357.3,1534.1 358,1533.9 358.7,1533.4 359.4,1534.9 360.1,1535.3 360.8,1533.5 361.5,1534.2 362.2,1534.8 362.9,1534.5 363.6,1534 364.3,1535.5 365,1535.5 365.7,1535.4 366.4,1534.5 367.1,1536.6 367.8,1536.4 368.5,1534.2 369.2,1534.5 369.9,1535.8 370.6,1533.8 371.3,1535 372,1534.6 372.7,1533.9 373.4,1534.3 374.1,1533 374.8,1534 375.5,1532.5 376.2,1536.8 376.9,1536 377.6,1535.7 378.3,1534.8 379,1535.5 379.7,1535.7 380.4,1535.5 381.1,1535.4 381.8,1533.5 382.5,1534.9 383.2,1533.9 383.9,1533.2 384.6,1533.3 385.3,1534.8 386,1535.4 386.7,1533 387.4,1536.1 388.1,1535.8 388.8,1534 389.5,1533.9 390.2,1534.3 390.9,1535.3 391.6,1534 392.3,1533.2 393,1534.7 393.7,1532.3 394.4,1534.5 395.1,1535.5 395.8,1534.6 396.5,1535.1 397.2,1534.8 397.9,1535 398.6,1534.4 399.3,1533.4 400,1534 400.7,1534.2 401.4,1535.5 402.1,1535.8 402.8,1534.6 403.5,1533.4 404.2,1533.5 404.9,1534 405.6,1535.5 406.3,1534.5 407,1534.1 407.7,1533.3 408.4,1535 409.1,1534.4 409.8,1534 410.5,1534.1 411.2,1535.7 411.9,1533.8 412.6,1535.6 413.3,1535.1 414,1533.7 414.7,1534.3 415.4,1533 416.1,1532 416.8,1532.3 417.5,1531.3 418.2,1532.3 418.9,1531.3 419.6,1531.3 420.3,1531.1 421,1527.6 421.7,1530.1 422.4,1528.2 423.1,1530.6 423.8,1530.1 424.5,1531.7 425.2,1533.5 425.9,1530.8 426.6,1532.9 427.3,1532.8 428,1531.2 428.7,1533.9 429.4,1533.4 430.1,1533 430.8,1532.8 431.5,1535.8 432.2,1533.1 432.9,1531.7 433.6,1532.5 434.3,1533.1 435,1533 435.7,1533.3 436.4,1532.3 437.1,1533.9 437.8,1532.9 438.5,1532 439.2,1532.5 439.9,1532.9 440.6,1534.1 441.3,1533.7 442,1532.9 442.7,1533.2 443.4,1533.4 444.1,1535.2 444.8,1532.5 445.5,1533.6 446.2,1533.8 446.9,1532.1 447.6,1533.2 448.3,1533.2 449,1532.5 449.7,1533.5 450.4,1534 451.1,1534 451.8,1532.7 452.5,1533 453.2,1535.1 453.9,1531.7 454.6,1533 455.3,1533.6 456,1532.8 456.7,1533.3 457.4,1532.8 458.1,1533.3 458.8,1533.8 459.5,1532.3 460.2,1532.7 460.9,1532.4 461.6,1532 462.3,1532.4 463,1531.2 463.7,1533.1 464.4,1534 465.1,1533.9 465.8,1533.5 466.5,1531.2 467.2,1533.6 467.9,1531.3 468.6,1532 469.3,1533.8 470,1530.8 470.7,1532.7 471.4,1532.1 472.1,1531.6 472.8,1530.8 473.5,1532 474.2,1531.1 474.9,1532.5 475.6,1532.6 476.3,1529.9 477,1530.7 477.7,1530.8 478.4,1529.8 479.1,1529.8 479.8,1530.9 480.5,1530.5 481.2,1529 481.9,1530 482.6,1530.9 483.3,1529.1 484,1529.3 484.7,1531.7 485.4,1531.3 486.1,1528.2 486.8,1528.3 487.5,1529.9 488.2,1528.1 488.9,1528.8 489.6,1528.4 490.3,1529.1 491,1525.9 491.7,1525.7 492.4,1526.3 493.1,1528.1 493.8,1526.4 494.5,1524.3 495.2,1525.8 495.9,1525.3 496.6,1523.6 497.3,1522.6 498,1522.3 498.7,1522 499.4,1519.7 500.1,1518.6" fill="none" stroke="#fe0a0c" stroke-width="3.9" stroke-linejoin="round" stroke-linecap="butt" stroke-linecap="round"/>
<path d="M533,1520 533.7,1522.4 534.4,1525.2 535.1,1521.7 535.8,1522.9 536.5,1523.4 537.2,1523.2 537.9,1523.6 538.6,1519.4 539.3,1520.3 540,1520.1 540.7,1516.9 541.4,1517.1 542.1,1518 542.8,1516.4 543.5,1514.6 544.2,1510.8 544.9,1512.1 545.6,1511.8 546.3,1510.4 547,1509.9 547.7,1511.6 548.4,1508.3 549.1,1506.7 549.8,1507.1 550.5,1505.7 551.2,1504.8 551.9,1504.2 552.6,1504.3 553.3,1503 554,1500.8 554.7,1501.1 555.4,1501.1 556.1,1499.6 556.8,1500.7 557.5,1499.9 558.2,1497.8 558.9,1498.9 559.6,1500.5 560.3,1500.1 561,1498.6 561.7,1499.7 562.4,1498.4 563.1,1498 563.8,1500.5 564.5,1500.7 565.2,1501.5 565.9,1501.5 566.6,1502.5 567.3,1502.3 568,1503.9 568.7,1504.9 569.4,1504.7 570.1,1506.2 570.8,1504.2 571.5,1505.8 572.2,1508.6 572.9,1509.5 573.6,1508.6 574.3,1508.9 575,1508.4 575.7,1510.7 576.4,1511.8 577.1,1510.2 577.8,1512.9 578.5,1513.6 579.2,1514.2 579.9,1513.3 580.6,1515.7 581.3,1514.3 582,1517.9 582.7,1517.2 583.4,1516.5 584.1,1519.5 584.8,1519.8 585.5,1518.5 586.2,1521.8 586.9,1519 587.6,1520.6 588.3,1521.8 589,1518.7 589.7,1522.3 590.4,1521.6 591.1,1521.9 591.8,1521.2 592.5,1522.9 593.2,1521.7 593.9,1522.1 594.6,1522.9 595.3,1522.4 596,1525.4 596.7,1522.8 597.4,1523.6 598.1,1524.3 598.8,1524.8 599.5,1525.8 600.2,1526 600.9,1525.1 601.6,1525.2 602.3,1525.8 603,1526.8 603.7,1526.9 604.4,1525.8 605.1,1524.5 605.8,1528.8 606.5,1527.8 607.2,1527.3 607.9,1527.6 608.6,1526.9 609.3,1526.6 610,1527.4 610.7,1527.7 611.4,1527.4 612.1,1526.8 612.8,1528.1 613.5,1529.1 614.2,1528.2 614.9,1528.9 615.6,1526.9 616.3,1528.9 617,1529.1 617.7,1528.1 618.4,1527.8 619.1,1530 619.8,1528.9 620.5,1530.2 621.2,1529.4 621.9,1530.5 622.6,1529.6 623.3,1528.5 624,1529.9 624.7,1529.7 625.4,1530.6 626.1,1529.5 626.8,1529.5 627.5,1530.7 628.2,1530.9 628.9,1530.4 629.6,1530.6 630.3,1529.9 631,1530.1 631.7,1530.1 632.4,1529.5 633.1,1529 633.8,1529 634.5,1531 635.2,1528.6 635.9,1528.2 636.6,1527.9 637.3,1528.1 638,1528.2 638.7,1526.7 639.4,1525.7 640.1,1527.8 640.8,1525.7 641.5,1527.4 642.2,1527.1 642.9,1527.9 643.6,1528.2 644.3,1526.7 645,1525.6 645.7,1524.7 646.4,1524.9 647.1,1525.6 647.8,1523.3 648.5,1525.3 649.2,1525.1 649.9,1525.6 650.6,1524.6 651.3,1524.9 652,1524.1 652.7,1524.3 653.4,1523.1 654.1,1525.1 654.8,1526.6 655.5,1525.4 656.2,1525.7 656.9,1524.6 657.6,1527.2 658.3,1525.2 659,1527.1 659.7,1526.6 660.4,1525.8 661.1,1528.1 661.8,1527.4 662.5,1527.8 663.2,1528.4 663.9,1528.2 664.6,1528.1 665.3,1529.2 666,1528.5 666.7,1529.2 667.4,1528.7 668.1,1528 668.8,1529 669.5,1529.4 670.2,1530 670.9,1531.4 671.6,1528.7 672.3,1530.6 673,1528.5 673.7,1529.8 674.4,1530.5 675.1,1528.9 675.8,1529.5 676.5,1531.6 677.2,1531.7 677.9,1531.6 678.6,1531.1 679.3,1534.2 680,1532 680.7,1531.4 681.4,1534.1 682.1,1533.1 682.8,1532.2 683.5,1533.9 684.2,1533 684.9,1533.5 685.6,1533.2 686.3,1532 687,1534.1 687.7,1533.3 688.4,1532.2 689.1,1532.5 689.8,1534.3 690.5,1533 691.2,1533.5 691.9,1534.2 692.6,1533.7 693.3,1532.1 694,1534.3 694.7,1534.7 695.4,1534.6 696.1,1535.4 696.8,1534.2 697.5,1534.7 698.2,1535.6 698.9,1533.7 699.6,1535.8 700.3,1535.8 701,1534.9 701.7,1536 702.4,1535.1 703.1,1533.4 703.8,1535.4 704.5,1534.7 705.2,1534.8 705.9,1534.6 706.6,1535.8 707.3,1535 708,1533.8 708.7,1535 709.4,1535.3 710.1,1533.9 710.8,1534.2 711.5,1534.3 712.2,1534.1 712.9,1535.1 713.6,1535.8 714.3,1536.7 715,1536 715.7,1535.9 716.4,1536 717.1,1536.2 717.8,1534.5 718.5,1535.6 719.2,1535.3 719.9,1534.9 720.6,1534.6 721.3,1534.5 722,1534.8 722.7,1533.9 723.4,1535.6 724.1,1535.1 724.8,1535.3 725.5,1535.5 726.2,1535.9 726.9,1534.7 727.6,1535.2 728.3,1533.7 729,1533.1 729.7,1533.4 730.4,1536.9 731.1,1533.6 731.8,1535.9 732.5,1536.9 733.2,1535 733.9,1537.1 734.6,1537.4 735.3,1536.5 736,1537.9 736.7,1536.2 737.4,1534.9 738.1,1536.1 738.8,1535.2 739.5,1534.4 740.2,1534.4 740.9,1538 741.6,1535.2 742.3,1535.7 743,1535.1 743.7,1535.9 744.4,1535.6 745.1,1535.4 745.8,1534.6 746.5,1534.4 747.2,1535.1 747.9,1536.2 748.6,1538 749.3,1537 750,1537.7 750.7,1536.4 751.4,1535.9 752.1,1534.6 752.8,1536 753.5,1533.8 754.2,1535.7 754.9,1537.6 755.6,1536.3 756.3,1537.1 757,1535.6 757.7,1534.6 758.4,1535.5 759.1,1535.6 759.8,1537.2 760.5,1538 761.2,1535.3 761.9,1535.7 762.6,1535.9 763.3,1535.7 764,1534.8 764.7,1536.1 765.4,1536.4 766.1,1536.4 766.8,1534.8 767.5,1535.9 768.2,1534.3 768.9,1536.9 769.6,1535 770.3,1535.8 771,1535.6 771.7,1535.4 772.4,1535 773.1,1534.3 773.8,1537.8 774.5,1536.3 775.2,1536.3 775.9,1538.1 776.6,1535.9 777.3,1536.6 778,1536.1 778.7,1537.2 779.4,1536.5 780.1,1536.4 780.8,1535.8 781.5,1536.3 782.2,1537.2 782.9,1534 783.6,1535.9 784.3,1535.6 785,1535.7 785.7,1534.1 786.4,1536.8 787.1,1535.2 787.8,1535.8 788.5,1535.5 789.2,1534.4 789.9,1535.6 790.6,1534.2 791.3,1535.1 792,1535.7 792.7,1536 793.4,1536.1 794.1,1535.9 794.8,1538.2 795.5,1536.5 796.2,1534.8 796.9,1535.4 797.6,1535.4 798.3,1535.8 799,1535.4 799.7,1535.2 800.4,1537.7 801.1,1536.1 801.8,1535.7 802.5,1535.8 803.2,1535.8 803.9,1537.4 804.6,1536.5 805.3,1537.1 806,1533.7 806.7,1536.3 807.4,1537.1 808.1,1538 808.8,1536 809.5,1534.3 810.2,1536.6 810.9,1535.4 811.6,1534.2 812.3,1535.4 813,1537.1 813.7,1537.2 814.4,1536.7 815.1,1534.9 815.8,1538.3 816.5,1534.8 817.2,1535.9 817.9,1534.5 818.6,1537.3 819.3,1536.4 820,1536.9 820.7,1536.1 821.4,1535.9 822.1,1536.1 822.8,1534.1 823.5,1537 824.2,1536.9 824.9,1535.6 825.6,1535.9 826.3,1536.3 827,1537.5 827.7,1536.4 828.4,1536 829.1,1535.4 829.8,1534.4 830.5,1535.1 831.2,1535.5 831.9,1534.9 832.6,1534.9 833.3,1535.2 834,1534.5 834.7,1533.9 835.4,1533.9 836.1,1533.1 836.8,1532.6 837.5,1532.8 838.2,1530.4 838.9,1533.1 839.6,1530.2 840.3,1532.1 841,1531 841.7,1531.9 842.4,1530.7 843.1,1529.6 843.8,1531.5 844.5,1530.6 845.2,1530.5 845.9,1530.5 846.6,1531.4 847.3,1531.2 848,1530.6 848.7,1528.8 849.4,1529.9 850.1,1530.4 850.8,1532.1 851.5,1530.7 852.2,1530.2 852.9,1531.4 853.6,1530.1 854.3,1530.2 855,1530.4 855.7,1528.7 856.4,1531.2 857.1,1530.6 857.8,1529.9 858.5,1529 859.2,1530.4 859.9,1531.6 860.6,1529.5 861.3,1529.1 862,1530.5 862.7,1528.5 863.4,1527.9 864.1,1529.7 864.8,1529.4 865.5,1529.8 866.2,1529.5 866.9,1530.4 867.6,1529.9 868.3,1529.5 869,1529.6 869.7,1530.7 870.4,1531 871.1,1531 871.8,1530.8 872.5,1527.7 873.2,1529.1 873.9,1529.7 874.6,1530.3 875.3,1528.4 876,1531.5 876.7,1530.4 877.4,1529.4 878.1,1530.2 878.8,1529.7 879.5,1529.3 880.2,1530.6 880.9,1529.6 881.6,1528.7 882.3,1529.4 883,1530 883.7,1529 884.4,1531.4 885.1,1529 885.8,1531.9 886.5,1531.1 887.2,1529.3 887.9,1530.4 888.6,1531.4 889.3,1530.1 890,1529.1 890.7,1530.5 891.4,1532.4 892.1,1529 892.8,1531 893.5,1530.5 894.2,1530.4 894.9,1530.2 895.6,1530.3 896.3,1531.7 897,1531.3 897.7,1529.8 898.4,1532.4 899.1,1529.6 899.8,1531.6 900.5,1531.2 901.2,1532.2 901.9,1531.4 902.6,1532.2 903.3,1531.1 904,1532.2 904.7,1531.6 905.4,1533.4 906.1,1530.6 906.8,1532.6 907.5,1531.9 908.2,1531.6 908.9,1530.9 909.6,1532 910.3,1530.1 911,1530.2 911.7,1532.3 912.4,1530.1 913.1,1533.1 913.8,1531.5 914.5,1532 915.2,1531.9 915.9,1532.2 916.6,1531.5 917.3,1531.5 918,1531.7 918.7,1532.9 919.4,1533 920.1,1533.1 920.8,1532.2 921.5,1531.7 922.2,1530.1 922.9,1532.3 923.6,1532.4 924.3,1530.9 925,1531.9 925.7,1532.1 926.4,1530.6 927.1,1531.3 927.8,1530.2 928.5,1527.8 929.2,1528.8 929.9,1528.5 930.6,1529.1 931.3,1527.4 932,1527.5 932.7,1526.6 933.4,1527.3 934.1,1527.1 934.8,1527.7 935.5,1527.3 936.2,1526.4 936.9,1526.1 937.6,1525.7 938.3,1525.3 939,1526.5 939.7,1522.2 940.4,1524.1 941.1,1524.3 941.8,1524.8 942.5,1522.3 943.2,1523.5 943.9,1523.8 944.6,1522.3 945.3,1520.7 946,1522.2 946.7,1521.3 947.4,1523.1 948.1,1521.7 948.8,1524.3 949.5,1522.8 950.2,1521.9 950.9,1522.4 951.6,1521.9 952.3,1523.6 953,1524.9 953.7,1523.4 954.4,1524.7 955.1,1523.1 955.8,1524.6 956.5,1526.8 957.2,1523.4 957.9,1526.3 958.6,1526.5 959.3,1523.7 960,1524.4 960.7,1525.1 961.4,1527.3 962.1,1526.1 962.8,1526.6 963.5,1527.6 964.2,1527.2 964.9,1527.5 965.6,1527.2 966.3,1528.8 967,1527.2 967.7,1529.8 968.4,1528 969.1,1527.8 969.8,1529.4 970.5,1529.5 971.2,1527.2 971.9,1529.7 972.6,1528.3 973.3,1529 974,1530.8 974.7,1529.4 975.4,1530.8 976.1,1530.3 976.8,1532.8 977.5,1530.9 978.2,1530 978.9,1530.2 979.6,1530.5 980.3,1531.7 981,1531.7 981.7,1532.8 982.4,1532 983.1,1532.1 983.8,1532.4 984.5,1532 985.2,1532.5 985.9,1533.1 986.6,1533.1 987.3,1531.9 988,1530.7 988.7,1531.8 989.4,1532.9 990.1,1530.4 990.8,1532.3 991.5,1533.3 992.2,1532.4 992.9,1531.9 993.6,1534.8 994.3,1534.5 995,1532.9 995.7,1534.5 996.4,1534.6 997.1,1532.2 997.8,1535.6 998.5,1532.5 999.2,1533.2 999.9,1532.5 1000.6,1533.7 1001.3,1532.3 1002,1533.7 1002.7,1534.8 1003.4,1534 1004.1,1533.6 1004.8,1535.4 1005.5,1533 1006.2,1534.9 1006.9,1533.7 1007.6,1534.2 1008.3,1534.1 1009,1534.2 1009.7,1534.1 1010.4,1533.4 1011.1,1533.6 1011.8,1534.7 1012.5,1534.2 1013.2,1533.1 1013.9,1533.6 1014.6,1533.7 1015.3,1534.3 1016,1534.6 1016.7,1534.5 1017.4,1533.8 1018.1,1534.5 1018.8,1533.1 1019.5,1532.2 1020.2,1534.5 1020.9,1532.9 1021.6,1533.6 1022.3,1533.4 1023,1535.3 1023.7,1533.4 1024.4,1534.9 1025.1,1534.2 1025.8,1533.5 1026.5,1533.1 1027.2,1535.2 1027.9,1535.1 1028.6,1535.6 1029.3,1536.6 1030,1535.1 1030.7,1535.1 1031.4,1534.7 1032.1,1535 1032.8,1534.5 1033.5,1534 1034.2,1536.9 1034.9,1533.1 1035.6,1535.2 1036.3,1535.4 1037,1535.1 1037.7,1534 1038.4,1534.8 1039.1,1534.6 1039.8,1534 1040.5,1535 1041.2,1534.7 1041.9,1534.5 1042.6,1535.8 1043.3,1534 1044,1535.6 1044.7,1534.5 1045.4,1535.6 1046.1,1535.2 1046.8,1535.4 1047.5,1534.2 1048.2,1534.4 1048.9,1534.3 1049.6,1535.4 1050.3,1536 1051,1536.3 1051.7,1534.7 1052.4,1535.3 1053.1,1533.6 1053.8,1533 1054.5,1534.4 1055.2,1534.6 1055.9,1533.7 1056.6,1533.5 1057.3,1535.8 1058,1534.5 1058.7,1533.6 1059.4,1537.6 1060.1,1535.5 1060.8,1535 1061.5,1536 1062.2,1534.5 1062.9,1536.9 1063.6,1533.7 1064.3,1533.9 1065,1535 1065.7,1534.3 1066.4,1536.4 1067.1,1533.3 1067.8,1534 1068.5,1534.8 1069.2,1535 1069.9,1535.2 1070.6,1534.4 1071.3,1536 1072,1533.1 1072.7,1533.6 1073.4,1534 1074.1,1532.6 1074.8,1532.4 1075.5,1531.9 1076.2,1531.5 1076.9,1530.8 1077.6,1531.1 1078.3,1529.8 1079,1531.3 1079.7,1528.9 1080.4,1532 1081.1,1531.1 1081.8,1529.8 1082.5,1527.9 1083.2,1526.9 1083.9,1528.1 1084.6,1526.4 1085.3,1526.3 1086,1524.6 1086.7,1526.1 1087.4,1524 1088.1,1524.9 1088.8,1523.2 1089.5,1524.7 1090.2,1526.5 1090.9,1526.2 1091.6,1527.1 1092.3,1529.1 1093,1529.1 1093.7,1531.2 1094.4,1528.3 1095.1,1531.6 1095.8,1531.9 1096.5,1530.2 1097.2,1530.8 1097.9,1533.3 1098.6,1531.7 1099.3,1532.5 1100,1534 1100.7,1533.3 1101.4,1534.2 1102.1,1533 1102.8,1534.2 1103.5,1535 1104.2,1534.2 1104.9,1531.6 1105.6,1534.3 1106.3,1533.6 1107,1532.5 1107.7,1534.6 1108.4,1531.2 1109.1,1534.6 1109.8,1531.9 1110.5,1533.8 1111.2,1532 1111.9,1530.4 1112.6,1531.6 1113.3,1531.6 1114,1531.6 1114.7,1531.9 1115.4,1529.7 1116.1,1530.9 1116.8,1531 1117.5,1529.8 1118.2,1528.9 1118.9,1528.7 1119.6,1530.2 1120.3,1530 1121,1528.2 1121.7,1527.5 1122.4,1529.8 1123.1,1526.8 1123.8,1528.3 1124.5,1527.2 1125.2,1526 1125.9,1527.7 1126.6,1527.3 1127.3,1528.8 1128,1529.5 1128.7,1526.9 1129.4,1528.1 1130.1,1528 1130.8,1526.4 1131.5,1526.1 1132.2,1528.6 1132.9,1526.7 1133.6,1527.1 1134.3,1526.9 1135,1527.2 1135.7,1526.8 1136.4,1528.3 1137.1,1529 1137.8,1527.5 1138.5,1526.7 1139.2,1528.3 1139.9,1527 1140.6,1528 1141.3,1530.1 1142,1531.4 1142.7,1529.6 1143.4,1528.4 1144.1,1530.4 1144.8,1527.6 1145.5,1529.3 1146.2,1531.6 1146.9,1531 1147.6,1529 1148.3,1528.8 1149,1531.4 1149.7,1530.7 1150.4,1530.2 1151.1,1531.3 1151.8,1530.4 1152.5,1529.2 1153.2,1532 1153.9,1530.7 1154.6,1530.4 1155.3,1530.2 1156,1531.8 1156.7,1530.9 1157.4,1532.4 1158.1,1531.6 1158.8,1533 1159.5,1531.6 1160.2,1531.5 1160.9,1530.2 1161.6,1531.2 1162.3,1533 1163,1534.8 1163.7,1531.2 1164.4,1531.5 1165.1,1532.9 1165.8,1533.1 1166.5,1532.1 1167.2,1532.9 1167.9,1531.2 1168.6,1532.6 1169.3,1533.8 1170,1534.6 1170.7,1532.9 1171.4,1532.8 1172.1,1533.6 1172.8,1534.3 1173.5,1533.7 1174.2,1532.5 1174.9,1533.7 1175.6,1534.3 1176.3,1532.7 1177,1532.1 1177.7,1534 1178.4,1533.9 1179.1,1534.5 1179.8,1533.7 1180.5,1533 1181.2,1533.3 1181.9,1532.7 1182.6,1532.8 1183.3,1533.2 1184,1533.4 1184.7,1535 1185.4,1532.7 1186.1,1533.9 1186.8,1533.4 1187.5,1535.5 1188.2,1534.3 1188.9,1533.7 1189.6,1534.9 1190.3,1534.2 1191,1533.7 1191.7,1535.7 1192.4,1535 1193.1,1536 1193.8,1535.5 1194.5,1535.1 1195.2,1534.5 1195.9,1533.3 1196.6,1535.1 1197.3,1534.5 1198,1535.2 1198.7,1534.5 1199.4,1533.9 1200.1,1533.6 1200.8,1535.3 1201.5,1535.9 1202.2,1534.4 1202.9,1535.1 1203.6,1536.1 1204.3,1533.9 1205,1534.4 1205.7,1533.7 1206.4,1536 1207.1,1535.1 1207.8,1534.4 1208.5,1533.3 1209.2,1534.7 1209.9,1535.9 1210.6,1534.7 1211.3,1534.6 1212,1535.7 1212.7,1533.8 1213.4,1535.1 1214.1,1535.7 1214.8,1534.4 1215.5,1534.4 1216.2,1535.5 1216.9,1535.1 1217.6,1535 1218.3,1535.5 1219,1535.5 1219.7,1534.4 1220.4,1534.7 1221.1,1535.9 1221.8,1536.6 1222.5,1536.8 1223.2,1534.7 1223.9,1536.6 1224.6,1536.3 1225.3,1535.6 1226,1536.1 1226.7,1536.5 1227.4,1537.4 1228.1,1534.7 1228.8,1536.3 1229.5,1535.6 1230.2,1535.6 1230.9,1536.9 1231.6,1536.6 1232.3,1534.9 1233,1535.6 1233.7,1536.1 1234.4,1534.5 1235.1,1536.8 1235.8,1535.9 1236.5,1536.2 1237.2,1536.4 1237.9,1537.8 1238.6,1536.1 1239.3,1535.7 1240,1537.8 1240.7,1535.6 1241.4,1535.6 1242.1,1534.8 1242.8,1537.3 1243.5,1536.5 1244.2,1536.7 1244.9,1536.4 1245.6,1536.1 1246.3,1535.5 1247,1535.5 1247.7,1536.7 1248.4,1536.4 1249.1,1537.9 1249.8,1535.6 1250.5,1535.9 1251.2,1535.3 1251.9,1537.7 1252.6,1535.1 1253.3,1537.1 1254,1537.8 1254.7,1536.2 1255.4,1537.1 1256.1,1534.3 1256.8,1536 1257.5,1534.7 1258.2,1536.5 1258.9,1536.4 1259.6,1535.6 1260.3,1537.3 1261,1536.7 1261.7,1535.9 1262.4,1535.9 1263.1,1534.9 1263.8,1536.2 1264.5,1538.5 1265.2,1535.7 1265.9,1536.8 1266.6,1535.8 1267.3,1537.1 1268,1536.8 1268.7,1536.1 1269.4,1534.6 1270.1,1535.8 1270.8,1537.5 1271.5,1536.1 1272.2,1537 1272.9,1535.9 1273.6,1534.5 1274.3,1536.7 1275,1536.6 1275.7,1535.7 1276.4,1535.9 1277.1,1536.6 1277.8,1535.7 1278.5,1536.6 1279.2,1536.1 1279.9,1534 1280.6,1536.1 1281.3,1535.7 1282,1535.5 1282.7,1536.7 1283.4,1535.8 1284.1,1536.8 1284.8,1537.3 1285.5,1536.4 1286.2,1534.7 1286.9,1535.5 1287.6,1537.1 1288.3,1536 1289,1535.4 1289.7,1536.1 1290.4,1536.7 1291.1,1536.5 1291.8,1536.8 1292.5,1535.4 1293.2,1535.9 1293.9,1535.9 1294.6,1536.2 1295.3,1534.1 1296,1535.9 1296.7,1534.8 1297.4,1537.5 1298.1,1537.7 1298.8,1537.8 1299.5,1536.9 1300.2,1535.7 1300.9,1537.1 1301.6,1535.9 1302.3,1536.7 1303,1535.2 1303.7,1535.5 1304.4,1536.5 1305.1,1537.8 1305.8,1536.1 1306.5,1538.3 1307.2,1538.4 1307.9,1534.8 1308.6,1536 1309.3,1535.1 1310,1535.9 1310.7,1535.5 1311.4,1536 1312.1,1537 1312.8,1536.9 1313.5,1536.3 1314.2,1536 1314.9,1536.1 1315.6,1536.1 1316.3,1536.5 1317,1536 1317.7,1536.4 1318.4,1534.6 1319.1,1536.7 1319.8,1537.7 1320.5,1536.1 1321.2,1534.5 1321.9,1537.2 1322.6,1535.6 1323.3,1533.6 1324,1535.7 1324.7,1536.5 1325.4,1536.2 1326.1,1537.1 1326.8,1536.5 1327.5,1536 1328.2,1533.9 1328.9,1534.7 1329.6,1536 1330.3,1536.5 1331,1534.8 1331.7,1535.2 1332.4,1536.2 1333.1,1533.9 1333.8,1533.8 1334.5,1535.5 1335.2,1536 1335.9,1535.3 1336.6,1533.5 1337.3,1535.8 1338,1534.4 1338.7,1536.4 1339.4,1535.6 1340.1,1536 1340.8,1536.3 1341.5,1535.2 1342.2,1536.5 1342.9,1536.9 1343.6,1536.1 1344.3,1537 1345,1535 1345.7,1536.5 1346.4,1535.9 1347.1,1534.6 1347.8,1535.5 1348.5,1535.1 1349.2,1535.1 1349.9,1535.7 1350.6,1536.6 1351.3,1535.3 1352,1535.7 1352.7,1534.1 1353.4,1535.7 1354.1,1536.7 1354.8,1536.3 1355.5,1536 1356.2,1535 1356.9,1534.6 1357.6,1535.4 1358.3,1534.2 1359,1534.3 1359.7,1536.4 1360.4,1534.6 1361.1,1537.3 1361.8,1534.1 1362.5,1535.9 1363.2,1534.3 1363.9,1535.6 1364.6,1534.4 1365.3,1535.5 1366,1535.3 1366.7,1535 1367.4,1535.9 1368.1,1536.9 1368.8,1534.8 1369.5,1536.3 1370.2,1535.5 1370.9,1535.4 1371.6,1537.6 1372.3,1533.2 1373,1534.7 1373.7,1533.6 1374.4,1535.1 1375.1,1535.1 1375.8,1537.7 1376.5,1535.7 1377.2,1537.1 1377.9,1536.6 1378.6,1534.9 1379.3,1535.8 1380,1537 1380.7,1535.5 1381.4,1535.5 1382.1,1535.8 1382.8,1533.8 1383.5,1534.5 1384.2,1535.7 1384.9,1535.9 1385.6,1534.4 1386.3,1535 1387,1535.2 1387.7,1535.2 1388.4,1536 1389.1,1535.4 1389.8,1535.5 1390.5,1533.9 1391.2,1534.3 1391.9,1535.6 1392.6,1533.7 1393.3,1535.6 1394,1534.6 1394.7,1534.5 1395.4,1535.9 1396.1,1534.6 1396.8,1534.4 1397.5,1534.6 1398.2,1535.3 1398.9,1537.6 1399.6,1533.2 1400.3,1535.3 1401,1535 1401.7,1536.2 1402.4,1534.9 1403.1,1533 1403.8,1536.6 1404.5,1534.2 1405.2,1535.2 1405.9,1533.9 1406.6,1534.2 1407.3,1534.8 1408,1536.2 1408.7,1536.1 1409.4,1534.7 1410.1,1535.8 1410.8,1534.9 1411.5,1535.4 1412.2,1535.5 1412.9,1535.9 1413.6,1534.7 1414.3,1535.2 1415,1535.6 1415.7,1535.4 1416.4,1534.6 1417.1,1537.1 1417.8,1534.9 1418.5,1536.1 1419.2,1535.6 1419.9,1536.6 1420.6,1533.2 1421.3,1537.5 1422,1535.2 1422.7,1534.2 1423.4,1535.6 1424.1,1537.7 1424.8,1536 1425.5,1534.2 1426.2,1535 1426.9,1536.8 1427.6,1534.1 1428.3,1535.3 1429,1535.2 1429.7,1537.7 1430.4,1535.2 1431.1,1536.9 1431.8,1534.9 1432.5,1534.8 1433.2,1536.6 1433.9,1536.2 1434.6,1533.9 1435.3,1536.2 1436,1536.3 1436.7,1535 1437.4,1535.9 1438.1,1535.9 1438.8,1535.2 1439.5,1535.1 1440.2,1535 1440.9,1535.4 1441.6,1534.4 1442.3,1535.7 1443,1534.3 1443.7,1535.8 1444.4,1535.7 1445.1,1534.8 1445.8,1536.6 1446.5,1537.7 1447.2,1537.1 1447.9,1534.5 1448.6,1537.1 1449.3,1536.1 1450,1535.8 1450.7,1535.3 1451.4,1535.9 1452.1,1537.3 1452.8,1536.5 1453.5,1535.5 1454.2,1535.3 1454.9,1535.5 1455.6,1536.5 1456.3,1537.8 1457,1534.9 1457.7,1536 1458.4,1535.6 1459.1,1535.3 1459.8,1536.4 1460.5,1536.6 1461.2,1534.7 1461.9,1535 1462.6,1537.3 1463.3,1536.4 1464,1536.6 1464.7,1535.6 1465.4,1535.8 1466.1,1536.6 1466.8,1535.7 1467.5,1535.1 1468.2,1536.2 1468.9,1537.1 1469.6,1535.2 1470.3,1537.3 1471,1536.9 1471.7,1535.4 1472.4,1536.2 1473.1,1536.2 1473.8,1536.9 1474.5,1536.9 1475.2,1535 1475.9,1535 1476.6,1537.3 1477.3,1536.4 1478,1536.7 1478.7,1536.7 1479.4,1537.9 1480.1,1535.1 1480.8,1537.4 1481.5,1535.5 1482.2,1537.1 1482.9,1537.7 1483.6,1535 1484.3,1536.8 1485,1536.1 1485.7,1536.1 1486.4,1536.4 1487.1,1535.4 1487.8,1535.5 1488.5,1537.1 1489.2,1537.3 1489.9,1535.9 1490.6,1535 1491.3,1538.7 1492,1537.5 1492.7,1536.8 1493.4,1535.4 1494.1,1535.9 1494.8,1536.7 1495.5,1535.5 1496.2,1538 1496.9,1536.6 1497.6,1536.9 1498.3,1535.4 1499,1535.6 1499.7,1535.7 1500.4,1536.7 1501.1,1536.2 1501.8,1536.2 1502.5,1536.8 1503.2,1536.7 1503.9,1537.9 1504.6,1536.2 1505.3,1535.4 1506,1536.3 1506.7,1537.8 1507.4,1535.7 1508.1,1536.3 1508.8,1535.9 1509.5,1536.6 1510.2,1536.4 1510.9,1535.3 1511.6,1535.8 1512.3,1536.9 1513,1537 1513.7,1536.8 1514.4,1536.7 1515.1,1535.4 1515.8,1535.4 1516.5,1536.6 1517.2,1534.4 1517.9,1535.5 1518.6,1533.6 1519.3,1535 1520,1534.7 1520.7,1534.1 1521.4,1535.8 1522.1,1534.4 1522.8,1534.7 1523.5,1534.8 1524.2,1534.2 1524.9,1536.3 1525.6,1534.3 1526.3,1534.9 1527,1533.4 1527.7,1534.1 1528.4,1534.2 1529.1,1534.2 1529.8,1533.8 1530.5,1534.5 1531.2,1535.8 1531.9,1534 1532.6,1534 1533.3,1533.7 1534,1536.3 1534.7,1535.5 1535.4,1534.4 1536.1,1534.5 1536.8,1533 1537.5,1533.5 1538.2,1533.8 1538.9,1533.7 1539.6,1532.7 1540.3,1532.7 1541,1533.9 1541.7,1533.7 1542.4,1531.2 1543.1,1533.4 1543.8,1534.5 1544.5,1532.6 1545.2,1533.4 1545.9,1531.7 1546.6,1533.9 1547.3,1531.9 1548,1531.7 1548.7,1532.6 1549.4,1535.2 1550.1,1532.2 1550.8,1531.5 1551.5,1533.1 1552.2,1532.8 1552.9,1534.1 1553.6,1531.1 1554.3,1530.5 1555,1531.5 1555.7,1531.7 1556.4,1531.3 1557.1,1531.6 1557.8,1528.6 1558.5,1528.9 1559.2,1529.2 1559.9,1530 1560.6,1529.5 1561.3,1528.6 1562,1528.2 1562.7,1530.4 1563.4,1530.9 1564.1,1532.8 1564.8,1530.8 1565.5,1533.2 1566.2,1530.9 1566.9,1532 1567.6,1532.2 1568.3,1532.6 1569,1532.3 1569.7,1532.8 1570.4,1533.4 1571.1,1533.1 1571.8,1534.3 1572.5,1533.7 1573.2,1533.9 1573.9,1535.4 1574.6,1534.4 1575.3,1534.3 1576,1534.2 1576.7,1534.4 1577.4,1534.9 1578.1,1533.6 1578.8,1535.5 1579.5,1536 1580.2,1535.6 1580.9,1534 1581.6,1533 1582.3,1534.1 1583,1534.7 1583.7,1535.4 1584.4,1534.4 1585.1,1534.3 1585.8,1536.1 1586.5,1534 1587.2,1535.7 1587.9,1535.5 1588.6,1533.4 1589.3,1534.9 1590,1534.1 1590.7,1533.8 1591.4,1532.9 1592.1,1533.2 1592.8,1535.1 1593.5,1534.4 1594.2,1535 1594.9,1533.7 1595.6,1534.4 1596.3,1534.5 1597,1533.3 1597.7,1533.2 1598.4,1535.2 1599.1,1534.9 1599.8,1533.9 1600.5,1534.7 1601.2,1535.5 1601.9,1536.6 1602.6,1534 1603.3,1535.4 1604,1536.9 1604.7,1534.9 1605.4,1536.3 1606.1,1532.6 1606.8,1536.3 1607.5,1534.9 1608.2,1533 1608.9,1535.6 1609.6,1535.9 1610.3,1536.1 1611,1536.1 1611.7,1534.9 1612.4,1534.2 1613.1,1534.5 1613.8,1534.9 1614.5,1535.3 1615.2,1534.5 1615.9,1535 1616.6,1535.8 1617.3,1535.3 1618,1537.2 1618.7,1537.1 1619.4,1533.8 1620.1,1534.4 1620.8,1533.7 1621.5,1533.8 1622.2,1535.5 1622.9,1534 1623.6,1534 1624.3,1534.7 1625,1535.8 1625.7,1534.7 1626.4,1534.7 1627.1,1535.9 1627.8,1535.5 1628.5,1535.5 1629.2,1536 1629.9,1534.1 1630.6,1535.3 1631.3,1534.4 1632,1536.1 1632.7,1535.9 1633.4,1534.1 1634.1,1536.4 1634.8,1534 1635.5,1536.3 1636.2,1535.3 1636.9,1534.3 1637.6,1534 1638.3,1534.8 1639,1535.1 1639.7,1534.4 1640.4,1535.7 1641.1,1533.8 1641.8,1535.2 1642.5,1535.2 1643.2,1533.3 1643.9,1535.5 1644.6,1533.9 1645.3,1532.9 1646,1534.6 1646.7,1535 1647.4,1536.1 1648.1,1534.7 1648.8,1536.7 1649.5,1536.6 1650.2,1536.3 1650.9,1536.5 1651.6,1535.6 1652.3,1534.7 1653,1535.9 1653.7,1536.2 1654.4,1535.5 1655.1,1535 1655.8,1533.7 1656.5,1535.9 1657.2,1535.6 1657.9,1534 1658.6,1535.4 1659.3,1536 1660,1535.2 1660.7,1536.1 1661.4,1536.1 1662.1,1533.9 1662.8,1535 1663.5,1535.8 1664.2,1536.2 1664.9,1536.7 1665.6,1533.5 1666.3,1535.3 1667,1536.1 1667.7,1536.6 1668.4,1537 1669.1,1534.4 1669.8,1535 1670.5,1534.3 1671.2,1536.2 1671.9,1534.1 1672.6,1536.6 1673.3,1536.3 1674,1535.9 1674.7,1533.3 1675.4,1534.7 1676.1,1536.1 1676.8,1534 1677.5,1535.2 1678.2,1535.3 1678.9,1536.3 1679.6,1535.7 1680.3,1535.7 1681,1535 1681.7,1535.4 1682.4,1535.3 1683.1,1536.2 1683.8,1535.3 1684.5,1536.5 1685.2,1533.8 1685.9,1536.6 1686.6,1535.3 1687.3,1536.6 1688,1535.5 1688.7,1536.3 1689.4,1536.9 1690.1,1534.9 1690.8,1535.5 1691.5,1535.3 1692.2,1535.7 1692.9,1533.9 1693.6,1535.3 1694.3,1535.2 1695,1534.7 1695.7,1535.3 1696.4,1533.9 1697.1,1536.8 1697.8,1535.9 1698.5,1537.3 1699.2,1534.6 1699.9,1534.3 1700.6,1535.7 1701.3,1533.8 1702,1535.7 1702.7,1534.8 1703.4,1535.1 1704.1,1535.7 1704.8,1535.5 1705.5,1537.3 1706.2,1536.1 1706.9,1534.2 1707.6,1536.4 1708.3,1534.1 1709,1535.6 1709.7,1534.2 1710.4,1534.6 1711.1,1536.8 1711.8,1534.9 1712.5,1534.8 1713.2,1534.9 1713.9,1535.2 1714.6,1536.9 1715.3,1534.3 1716,1534.2 1716.7,1536 1717.4,1533.9 1718.1,1535.1 1718.8,1536.6 1719.5,1535.5 1720.2,1535 1720.9,1534.8 1721.6,1534.6 1722.3,1534.9 1723,1535.6 1723.7,1536.7 1724.4,1536.4 1725.1,1534.9 1725.8,1534.7 1726.5,1536.1 1727.2,1533.7 1727.9,1535 1728.6,1535.1 1729.3,1534.4 1730,1534.5 1730.7,1535.8 1731.4,1533.8 1732.1,1534.5 1732.8,1534.8 1733.5,1535.5 1734.2,1534.1 1734.9,1536.5 1735.6,1535.1 1736.3,1535.2 1737,1535.1 1737.7,1534.8 1738.4,1534.5 1739.1,1536.6 1739.8,1535.6 1740.5,1535.3 1741.2,1536.4 1741.9,1534.7 1742.6,1536.1 1743.3,1535.5 1744,1534.6 1744.7,1536.2 1745.4,1534 1746.1,1536.1 1746.8,1534.6 1747.5,1535.8 1748.2,1536.8 1748.9,1536 1749.6,1534.8 1750.3,1535.4 1751,1535.1 1751.7,1534.3 1752.4,1534.3 1753.1,1535.5 1753.8,1536 1754.5,1533.7 1755.2,1535.4 1755.9,1535.9 1756.6,1535.5 1757.3,1534.4 1758,1536.4 1758.7,1534.2 1759.4,1536.1 1760.1,1537 1760.8,1533.4 1761.5,1535.7 1762.2,1535.7 1762.9,1535.6 1763.6,1534.7 1764.3,1535.1 1765,1534 1765.7,1535.6 1766.4,1536 1767.1,1534.8 1767.8,1534.5 1768.5,1535 1769.2,1535.4 1769.9,1535.5 1770.6,1535.3 1771.3,1535.5 1772,1534.2 1772.7,1533.3 1773.4,1536.1 1774.1,1536.9 1774.8,1534.1 1775.5,1534.8 1776.2,1535.8 1776.9,1536.4 1777.6,1536.1 1778.3,1536.8 1779,1535.5 1779.7,1535.9 1780.4,1535.9 1781.1,1535.1 1781.8,1536.7 1782.5,1536.2 1783.2,1536.5 1783.9,1535.2 1784.6,1536.6 1785.3,1534.6 1786,1536 1786.7,1533.4 1787.4,1534.6 1788.1,1536.4 1788.8,1535.2 1789.5,1535.8 1790.2,1534.1 1790.9,1537.2 1791.6,1536.3 1792.3,1535.7 1793,1536.1 1793.7,1536.1 1794.4,1537.1 1795.1,1536 1795.8,1534.3 1796.5,1535.5 1797.2,1537 1797.9,1536.4 1798.6,1535.4 1799.3,1536.4 1800,1536 1800.7,1536.5 1801.4,1534.3 1802.1,1535 1802.8,1536.5 1803.5,1535.7 1804.2,1536.3 1804.9,1537.9 1805.6,1535.6 1806.3,1536.2 1807,1535.4 1807.7,1535.4 1808.4,1535.9 1809.1,1534.6 1809.8,1534 1810.5,1537.4 1811.2,1536 1811.9,1537.2 1812.6,1536.2 1813.3,1536.3 1814,1536.8 1814.7,1536.8 1815.4,1535 1816.1,1537.3 1816.8,1535.2 1817.5,1536.4" fill="none" stroke="#fe0a0c" stroke-width="3.9" stroke-linejoin="round" stroke-linecap="butt" stroke-linecap="round"/>
<path d="M176,1252.4 176.7,1249.3 177.4,1251.3 178.1,1248.8 178.8,1249.9 179.5,1249.2 180.2,1249.6 180.9,1248 181.6,1247.9 182.3,1249.5 183,1247 183.7,1247.9 184.4,1249.8 185.1,1248.1 185.8,1247.8 186.5,1247.5 187.2,1249 187.9,1248.4 188.6,1249 189.3,1248.5 190,1251.1 190.7,1248.2 191.4,1246.2 192.1,1248.8 192.8,1248.6 193.5,1248.8 194.2,1246.5 194.9,1250 195.6,1248.5 196.3,1248.4 197,1246.5 197.7,1249 198.4,1248.3 199.1,1250.1 199.8,1247.8 200.5,1246.8 201.2,1248.5 201.9,1247.1 202.6,1248.8 203.3,1246.9 204,1248 204.7,1247.9 205.4,1248.1 206.1,1247.5 206.8,1247.1 207.5,1248 208.2,1247.3 208.9,1248.2 209.6,1247.6 210.3,1245.1 211,1247.9 211.7,1249.7 212.4,1248.3 213.1,1248.6 213.8,1248.4 214.5,1247.2 215.2,1246.1 215.9,1248.8 216.6,1249 217.3,1248.4 218,1248.2 218.7,1248.1 219.4,1247.6 220.1,1247.9 220.8,1247.6 221.5,1247.9 222.2,1246.3 222.9,1246.7 223.6,1248.2 224.3,1247 225,1244.5 225.7,1247.5 226.4,1244.5 227.1,1249.7 227.8,1248.2 228.5,1248.1 229.2,1246.4 229.9,1245.8 230.6,1246.9 231.3,1247.2 232,1246.2 232.7,1247.3 233.4,1247.9 234.1,1247.8 234.8,1245.7 235.5,1244.3 236.2,1247 236.9,1246.1 237.6,1247.5 238.3,1248.9 239,1248.9 239.7,1247.2 240.4,1248.2 241.1,1248.8 241.8,1246.8 242.5,1247 243.2,1247.7 243.9,1246.6 244.6,1246 245.3,1245.7 246,1246.6 246.7,1245.8 247.4,1247.5 248.1,1246.1 248.8,1248.3 249.5,1247.9 250.2,1244.9 250.9,1247.7 251.6,1245.9 252.3,1248 253,1246.9 253.7,1246.2 254.4,1247.1 255.1,1245.5 255.8,1246.6 256.5,1246.6 257.2,1246 257.9,1246.6 258.6,1244.8 259.3,1246.8 260,1244.5 260.7,1246.8 261.4,1246.6 262.1,1246.8 262.8,1245.2 263.5,1249 264.2,1245.6 264.9,1246 265.6,1244.9 266.3,1247.6 267,1245.2 267.7,1247 268.4,1244.5 269.1,1246.1 269.8,1245.2 270.5,1246.8 271.2,1245.2 271.9,1244.5 272.6,1246.1 273.3,1244 274,1244.3 274.7,1246.4 275.4,1243.1 276.1,1246.3 276.8,1244.9 277.5,1244.2 278.2,1245.6 278.9,1246.1 279.6,1244.5 280.3,1245 281,1246.2 281.7,1246.1 282.4,1245.1 283.1,1244.2 283.8,1243.9 284.5,1244.3 285.2,1245.9 285.9,1245.7 286.6,1245.4 287.3,1246.7 288,1244.6 288.7,1244.4 289.4,1244.4 290.1,1247.2 290.8,1242.3 291.5,1245.2 292.2,1245.3 292.9,1244.8 293.6,1247.6 294.3,1246.1 295,1245.6 295.7,1243.5 296.4,1245.2 297.1,1244.1 297.8,1244.6 298.5,1244.8 299.2,1243.9 299.9,1245.2 300.6,1246.4 301.3,1245.7 302,1244.7 302.7,1242 303.4,1245.7 304.1,1245.6 304.8,1244 305.5,1243.7 306.2,1245 306.9,1243.2 307.6,1245.1 308.3,1242.8 309,1243 309.7,1244.1 310.4,1242.3 311.1,1244 311.8,1244.6 312.5,1242.4 313.2,1245.1 313.9,1243.2 314.6,1244.6 315.3,1244.1 316,1243.3 316.7,1243.2 317.4,1241.7 318.1,1242.9 318.8,1242.8 319.5,1245.7 320.2,1244.9 320.9,1242 321.6,1244.6 322.3,1243.8 323,1243.1 323.7,1244.1 324.4,1244.4 325.1,1242.8 325.8,1243.1 326.5,1243.6 327.2,1242.2 327.9,1243.6 328.6,1243.2 329.3,1242.4 330,1242.2 330.7,1243.6 331.4,1244.3 332.1,1243.6 332.8,1242.1 333.5,1244 334.2,1243.3 334.9,1243.8 335.6,1244.4 336.3,1241.9 337,1242.8 337.7,1242.2 338.4,1241.8 339.1,1245.3 339.8,1244 340.5,1240.7 341.2,1243.3 341.9,1242.1 342.6,1244.1 343.3,1242.8 344,1242.4 344.7,1242.8 345.4,1243.1 346.1,1242.6 346.8,1242.3 347.5,1242.3 348.2,1243.1 348.9,1241.1 349.6,1242.4 350.3,1242.2 351,1241.8 351.7,1243.2 352.4,1240.7 353.1,1241.8 353.8,1241.2 354.5,1242.9 355.2,1241.6 355.9,1242.2 356.6,1242.6 357.3,1240.1 358,1242.6 358.7,1241.1 359.4,1241.7 360.1,1241.8 360.8,1242.9 361.5,1242.8 362.2,1244 362.9,1242 363.6,1241.2 364.3,1241.1 365,1242.5 365.7,1243.6 366.4,1242.1 367.1,1240.9 367.8,1241.9 368.5,1241.9 369.2,1241.6 369.9,1240.6 370.6,1238.5 371.3,1240.8 372,1242.7 372.7,1241.6 373.4,1238.6 374.1,1241.3 374.8,1239 375.5,1243.6 376.2,1241.4 376.9,1239.7 377.6,1242.1 378.3,1240.1 379,1241.7 379.7,1241 380.4,1239.6 381.1,1241.8 381.8,1239.3 382.5,1242.5 383.2,1240.9 383.9,1239.6 384.6,1238.6 385.3,1242.7 386,1242.5 386.7,1239.2 387.4,1242.7 388.1,1240.8 388.8,1240.3 389.5,1240.5 390.2,1240.2 390.9,1242.2 391.6,1240.7 392.3,1238.2 393,1242.9 393.7,1241.4 394.4,1239 395.1,1239.9 395.8,1239.2 396.5,1240.3 397.2,1240.7 397.9,1240.5 398.6,1239.4 399.3,1239.1 400,1241.1 400.7,1239.9 401.4,1242.7 402.1,1239 402.8,1240.9 403.5,1240 404.2,1238.9 404.9,1241.5 405.6,1240 406.3,1238.7 407,1239.3 407.7,1240.9 408.4,1238.2 409.1,1241.3 409.8,1240.4 410.5,1239.2 411.2,1241.2 411.9,1241.6 412.6,1240.2 413.3,1239.6 414,1241.6 414.7,1241.1 415.4,1238.1 416.1,1239 416.8,1238.9 417.5,1238.7 418.2,1237.3 418.9,1240.2 419.6,1239.1 420.3,1239.1 421,1240.7 421.7,1238.2 422.4,1238.8 423.1,1239.1 423.8,1238.2 424.5,1238.6 425.2,1239.6 425.9,1238.6 426.6,1240.2 427.3,1237.6 428,1238.7 428.7,1236.7 429.4,1238.2 430.1,1237.5 430.8,1239.9 431.5,1239.1 432.2,1238.8 432.9,1240.4 433.6,1239.8 434.3,1238.9 435,1237.1 435.7,1236.1 436.4,1237.8 437.1,1237.3 437.8,1236.9 438.5,1237.3 439.2,1235.5 439.9,1239.3 440.6,1236 441.3,1236.5 442,1238 442.7,1235.2 443.4,1238.3 444.1,1238.2 444.8,1236.6 445.5,1235.5 446.2,1236.2 446.9,1234.4 447.6,1238.3 448.3,1236.5 449,1235.4 449.7,1235.1 450.4,1236.8 451.1,1237.9 451.8,1234.4 452.5,1235.1 453.2,1233.6 453.9,1236.5 454.6,1235.7 455.3,1238.2 456,1235.2 456.7,1234.7 457.4,1234.3 458.1,1236.2 458.8,1233 459.5,1235.9 460.2,1235.2 460.9,1234.2 461.6,1233.6 462.3,1236 463,1236.9 463.7,1234 464.4,1235.1 465.1,1236.5 465.8,1233.5 466.5,1233.9 467.2,1232.6 467.9,1233.9 468.6,1233.9 469.3,1233.4 470,1232.9 470.7,1231.7 471.4,1231.9 472.1,1232.3 472.8,1234.2 473.5,1232.6 474.2,1232.1 474.9,1233.8 475.6,1233.6 476.3,1231.8 477,1231.8 477.7,1233.3 478.4,1232.7 479.1,1231.1 479.8,1232.2 480.5,1231.7 481.2,1232.9 481.9,1230.2 482.6,1232.1 483.3,1231.3 484,1229.3 484.7,1231.6 485.4,1231.1 486.1,1228 486.8,1231.7 487.5,1227.5 488.2,1227.3 488.9,1227.4 489.6,1228 490.3,1226.9 491,1225.2 491.7,1226 492.4,1223.7 493.1,1223.9 493.8,1223.9 494.5,1220 495.2,1215.5 495.9,1216.7 496.6,1214.6 497.3,1214.7 498,1213.4 498.7,1210.4 499.4,1209 500.1,1208.3 500.8,1206.4 501.5,1201.6 502.2,1202.7 502.7,1199.4 502.9,1198.4 503,1198.5 503.2,1195.7 503.5,1195.4 503.6,1195.6 503.7,1195 504,1192.8 504.2,1190.3 504.3,1189 504.5,1190 504.7,1187.2 505,1184.2 505,1182.1 505.2,1181.5 505.5,1178 505.7,1178.2 505.7,1177.3 506,1173.6 506.2,1170.9 506.4,1170.4 506.5,1168.8 506.7,1163.1 507,1160.3 507.1,1157 507.2,1155 507.5,1151.9 507.7,1148.7 507.8,1146.1 508,1142 508.2,1136.4 508.5,1131 508.5,1130.2 508.7,1123.9 509,1117.2 509.2,1112.3 509.2,1111.5 509.5,1104.9 509.7,1096.6 509.9,1090.7 510,1088.2 510.2,1080.2 510.5,1071.9 510.6,1066.3 510.7,1062.1 511,1053.2 511.2,1043.1 511.3,1039 511.5,1033.7 511.7,1024 512,1013.9 512,1011.5 512.2,1004.1 512.5,994.4 512.7,985 512.7,984.7 513,976.5 513.2,968.4 513.4,962.6 513.5,960.9 513.7,954.8 514,950.2 514.1,947.8 514.2,946.5 514.5,944.2 514.7,943.5 514.8,943.6 515,944.3 515.2,946.5 515.5,950.4 515.5,951.2 515.7,955.5 516,961.7 516.2,968.8 516.2,969.2 516.5,976.9 516.7,985.9 516.9,993.5 517,995.4 517.2,1004.5 517.5,1015 517.6,1021.1 517.7,1025.2 518,1034.2 518.2,1044.5 518.3,1048.6 518.5,1054.2 518.7,1064.3 519,1072.7 519,1075.2 519.2,1082 519.5,1089.7 519.7,1098 519.7,1098.2 520,1106.2 520.2,1114 520.4,1119 520.5,1120.9 520.7,1126.1 521,1131.9 521.1,1136.6 521.2,1139.4 521.5,1144.3 521.7,1149 521.8,1152 522,1156 522.2,1159 522.5,1162.7 522.5,1163.4 522.7,1168.8 523,1170.8 523.2,1174.8 523.2,1175.3 523.5,1178.4 523.7,1179.6 523.9,1183.5 524,1184 524.2,1186.2 524.5,1189.1 524.6,1188.9 524.7,1190.3 525,1191.9 525.2,1195.1 525.3,1194.4 525.5,1196.5 525.7,1196.6 526,1199.2 526,1199.3 526.2,1200.7 526.5,1202.3 526.7,1203.3 527.4,1206.4 528.1,1206.9 528.8,1213.1 529.5,1213 530.2,1215.2 530.9,1216 531.6,1219.7 532.3,1218.5 533,1221.4 533.7,1223.2 534.4,1224.7 535.1,1224.9 535.8,1224.7 536.5,1222.9 537.2,1226.4 537.9,1226.6 538.6,1226.3 539.3,1226.3 540,1225.3 540.7,1224.5 541.4,1226.4 542.1,1226.5 542.8,1223.3 543.5,1225.6 544.2,1224.5 544.9,1225.1 545.6,1224 546.3,1224.9 547,1224.5 547.7,1224.1 548.4,1221 549.1,1223.7 549.8,1222.6 550.5,1221 551.2,1223.3 551.9,1220.5 552.6,1223.4 553.3,1224.3 554,1221.4 554.7,1223.1 555.4,1222.4 556.1,1222.6 556.8,1219.9 557.5,1222.3 558.2,1221.6 558.9,1222.3 559.6,1221.2 560.3,1222.5 561,1221.4 561.7,1221.8 562.4,1222.7 563.1,1221.1 563.8,1222.1 564.5,1221 565.2,1221.4 565.9,1220 566.6,1221.7 567.3,1222.3 568,1220.6 568.7,1221.7 569.4,1221.3 570.1,1219.4 570.8,1221.3 571.5,1222.6 572.2,1220.3 572.9,1218.7 573.6,1221.4 574.3,1220.3 575,1223.7 575.7,1221.2 576.4,1221.4 577.1,1220.6 577.8,1221.8 578.5,1220.9 579.2,1220.5 579.9,1221.7 580.6,1220.8 581.3,1223.6 582,1220.5 582.7,1222 583.4,1221.3 584.1,1220.5 584.8,1224.5 585.5,1219.8 586.2,1224.4 586.9,1220.8 587.6,1222.8 588.3,1225.7 589,1220.2 589.7,1221.3 590.4,1224.8 591.1,1223.4 591.8,1222.6 592.5,1223.4 593.2,1222.3 593.9,1223.9 594.6,1225.8 595.3,1223.5 596,1224.3 596.7,1225.9 597.4,1227 598.1,1223.9 598.8,1225.2 599.5,1224.3 600.2,1224.4 600.9,1224.9 601.6,1224.8 602.3,1223.6 603,1223.5 603.7,1225.3 604.4,1226.6 605.1,1228.2 605.8,1226.2 606.5,1226.9 607.2,1228.1 607.9,1228.5 608.6,1227.6 609.3,1227.9 610,1230.5 610.7,1227.9 611.4,1227.9 612.1,1226.7 612.8,1229.5 613.5,1228.8 614.2,1231.8 614.9,1229.1 615.6,1230.7 616.3,1231.1 617,1232.2 617.7,1228.6 618.4,1232.5 619.1,1230.7 619.8,1230.8 620.5,1230.7 621.2,1230.8 621.9,1231.1 622.6,1228.8 623.3,1232.6 624,1232.3 624.7,1231.2 625.4,1232.6 626.1,1235.8 626.8,1233.6 627.5,1232.8 628.2,1235.7 628.9,1232.7 629.6,1233.7 630.3,1233.4 631,1234 631.7,1235.4 632.4,1235.5 633.1,1234 633.8,1234.9 634.5,1235.4 635.2,1234.9 635.9,1235.6 636.6,1234.9 637.3,1235 638,1236.1 638.7,1234.9 639.4,1236.9 640.1,1236.2 640.8,1235.4 641.5,1235.9 642.2,1236.2 642.9,1236.7 643.6,1237.1 644.3,1236.8 645,1236 645.7,1239 646.4,1238.4 647.1,1237.5 647.8,1238.6 648.5,1237.9 649.2,1237.3 649.9,1237.8 650.6,1240.7 651.3,1239 652,1239.2 652.7,1237.4 653.4,1238.8 654.1,1240.9 654.8,1238.7 655.5,1239.5 656.2,1239.8 656.9,1239.1 657.6,1240.3 658.3,1238.7 659,1239.1 659.7,1237.7 660.4,1241.5 661.1,1239 661.8,1238.8 662.5,1240.5 663.2,1238.2 663.9,1238.8 664.6,1237.9 665.3,1238.9 666,1238.5 666.7,1239.7 667.4,1238.9 668.1,1238.4 668.8,1238.8 669.5,1239 670.2,1238.6 670.9,1240.5 671.6,1240.2 672.3,1239.6 673,1237.9 673.7,1240.1 674.4,1237.9 675.1,1239.8 675.8,1239.6 676.5,1238.9 677.2,1238.6 677.9,1238.8 678.6,1242.3 679.3,1239.5 680,1239.6 680.7,1241.1 681.4,1240.5 682.1,1241.3 682.8,1238.5 683.5,1238.7 684.2,1243.1 684.9,1240.1 685.6,1239.8 686.3,1240.4 687,1241.5 687.7,1238.8 688.4,1240.7 689.1,1240.3 689.8,1241.3 690.5,1240.7 691.2,1239.8 691.9,1239.4 692.6,1237.5 693.3,1241.8 694,1238.8 694.7,1240.2 695.4,1242.8 696.1,1240.2 696.8,1241.5 697.5,1240.5 698.2,1241.7 698.9,1240.9 699.6,1240.2 700.3,1242.6 701,1240.6 701.7,1239.3 702.4,1240.5 703.1,1241.6 703.8,1239.6 704.5,1242 705.2,1242 705.9,1243.7 706.6,1240.2 707.3,1241.9 708,1239 708.7,1240.5 709.4,1241.2 710.1,1241.6 710.8,1241 711.5,1241 712.2,1240.4 712.9,1240.6 713.6,1241.5 714.3,1241.9 715,1242 715.7,1242.4 716.4,1242.7 717.1,1238.9 717.8,1240.6 718.5,1241 719.2,1240.4 719.9,1242.5 720.6,1242.2 721.3,1241.1 722,1241.4 722.7,1242.8 723.4,1240.8 724.1,1240.9 724.8,1242.4 725.5,1241.9 726.2,1243.1 726.9,1241.8 727.6,1242.3 728.3,1240.7 729,1240.2 729.7,1241.3 730.4,1238.3 731.1,1241.9 731.8,1242.6 732.5,1241.5 733.2,1241.1 733.9,1242.8 734.6,1241.4 735.3,1242.6 736,1244.1 736.7,1242.3 737.4,1242.6 738.1,1242 738.8,1241.8 739.5,1241.8 740.2,1241.5 740.9,1242.8 741.6,1239.5 742.3,1241.1 743,1242.3 743.7,1240.4 744.4,1241.3 745.1,1240.6 745.8,1242 746.5,1242.6 747.2,1243.3 747.9,1242.1 748.6,1240.6 749.3,1241.8 750,1242.2 750.7,1243.3 751.4,1238.8 752.1,1242 752.8,1239.2 753.5,1242.4 754.2,1242.1 754.9,1242.1 755.6,1242.6 756.3,1242 757,1240.7 757.7,1242 758.4,1243 759.1,1241.4 759.8,1241.6 760.5,1240 761.2,1243 761.9,1240.9 762.6,1240.6 763.3,1241 764,1240.5 764.7,1241.2 765.4,1243.1 766.1,1242.5 766.8,1243.3 767.5,1243.4 768.2,1240.4 768.9,1242.1 769.6,1243.4 770.3,1244.4 771,1239.8 771.7,1239.7 772.4,1242.1 773.1,1241.1 773.8,1240.3 774.5,1242 775.2,1240.5 775.9,1238.7 776.6,1241.4 777.3,1241.6 778,1242.3 778.7,1242.6 779.4,1241.7 780.1,1241.2 780.8,1240.6 781.5,1239.4 782.2,1240.9 782.9,1242.6 783.6,1242.2 784.3,1243.9 785,1241.2 785.7,1239.2 786.4,1242.4 787.1,1242.6 787.8,1239.9 788.5,1239.3 789.2,1241.5 789.9,1242.2 790.6,1239.9 791.3,1240.9 792,1240.3 792.7,1239.8 793.4,1239.6 794.1,1241.4 794.8,1240.7 795.5,1240.4 796.2,1238.2 796.9,1243.3 797.6,1240 798.3,1240.9 799,1239.7 799.7,1241.5 800.4,1239.2 801.1,1241.1 801.8,1240.8 802.5,1242.1 803.2,1239.6 803.9,1240.1 804.6,1240.6 805.3,1243.5 806,1239 806.7,1241.2 807.4,1240 808.1,1241.2 808.8,1241.6 809.5,1240.9 810.2,1241 810.9,1241 811.6,1239.9 812.3,1240.4 813,1238.5 813.7,1240.1 814.4,1239.6 815.1,1240.2 815.8,1241.4 816.5,1240.9 817.2,1241 817.9,1241.7 818.6,1237.4 819.3,1240.8 820,1240.2 820.7,1240.1 821.4,1238.6 822.1,1240.8 822.8,1241.5 823.5,1241.3 824.2,1239.9 824.9,1240.8 825.6,1241.1 826.3,1242.1 827,1241.4 827.7,1240 828.4,1239.9 829.1,1239.9 829.8,1239.9 830.5,1238.7 831.2,1239.9 831.9,1237.7 832.6,1237.1 833.3,1238 834,1236.3 834.7,1236.2 835.4,1233.4 836.1,1236.5 836.8,1235.1 837.5,1234.6 838.2,1234.9 838.9,1234.1 839.6,1232.6 840.3,1235.5 841,1232.1 841.7,1233.5 842.4,1234.3 843.1,1231.1 843.8,1231.9 844.5,1230.8 845.2,1233.2 845.9,1231.7 846.6,1230.9 847.3,1234.1 848,1233.8 848.7,1231.8 849.4,1234.6 850.1,1233.5 850.8,1236.4 851.5,1235.6 852.2,1232.8 852.9,1233.1 853.6,1232.4 854.3,1233.5 855,1233.4 855.7,1234.1 856.4,1233.2 857.1,1231.2 857.8,1231.8 858.5,1234.5 859.2,1234 859.9,1232.2 860.6,1232.1 861.3,1231.9 862,1232 862.7,1229.8 863.4,1232.8 864.1,1230.7 864.8,1231.4 865.5,1228 866.2,1231 866.9,1232.1 867.6,1227.4 868.3,1231.8 869,1230.2 869.7,1228.4 870.4,1227.1 871.1,1230.2 871.8,1228.8 872.5,1228.9 873.2,1227.5 873.9,1226.6 874.6,1228.4 875.3,1225.9 876,1228 876.7,1224.7 877.4,1225.4 878.1,1224.6 878.8,1227.9 879.5,1224.1 880.2,1224.8 880.9,1227 881.6,1226.5 882.3,1229 883,1228.7 883.7,1227.4 884.4,1227.6 885.1,1224.7 885.8,1226.1 886.5,1227.1 887.2,1227.6 887.9,1226.4 888.6,1227.2 889.3,1227.6 890,1230.3 890.7,1229.9 891.4,1229.3 892.1,1229.7 892.8,1230.7 893.5,1229.8 894.2,1230.6 894.9,1229.1 895.6,1232.4 896.3,1233 897,1232.5 897.7,1232.8 898.4,1232.9 899.1,1235.2 899.8,1233.2 900.5,1231.5 901.2,1232.1 901.9,1234.5 902.6,1235.2 903.3,1235 904,1235.4 904.7,1234.8 905.4,1232.9 906.1,1234.1 906.8,1233 907.5,1235 908.2,1234 908.9,1236 909.6,1235.9 910.3,1233.9 911,1237.5 911.7,1237.7 912.4,1235.2 913.1,1237.3 913.8,1238.2 914.5,1237.1 915.2,1238.7 915.9,1238 916.6,1239.2 917.3,1238.3 918,1237.9 918.7,1238.9 919.4,1239.3 920.1,1238.7 920.8,1237.9 921.5,1237.5 922.2,1238.1 922.9,1237.9 923.6,1238.9 924.3,1238.9 925,1238.6 925.7,1238.8 926.4,1239 927.1,1240.8 927.8,1240.4 928.5,1238.2 929.2,1239.5 929.9,1238.6 930.6,1238.9 931.3,1238.8 932,1238.3 932.7,1237.5 933.4,1236.2 934.1,1239.5 934.8,1240.7 935.5,1238.1 936.2,1239.9 936.9,1238.8 937.6,1239.7 938.3,1238.4 939,1239.1 939.7,1239.3 940.4,1236.5 941.1,1239.7 941.8,1239.3 942.5,1236.6 943.2,1240.4 943.9,1239.5 944.6,1239.8 945.3,1240.1 946,1239.1 946.7,1238.3 947.4,1239.1 948.1,1239.1 948.8,1242.5 949.5,1242 950.2,1239.1 950.9,1239.2 951.6,1240.2 952.3,1240.5 953,1238.9 953.7,1238.6 954.4,1242.3 955.1,1241.2 955.8,1237.9 956.5,1237.7 957.2,1238.9 957.9,1240.2 958.6,1240.6 959.3,1239.5 960,1237.9 960.7,1240.3 961.4,1240.8 962.1,1240 962.8,1239.4 963.5,1240.8 964.2,1240 964.9,1238.7 965.6,1240.2 966.3,1238.5 967,1241.3 967.7,1240.7 968.4,1238.9 969.1,1240.4 969.8,1241.8 970.5,1237.5 971.2,1240 971.9,1242.3 972.6,1238.3 973.3,1240 974,1238.4 974.7,1240.2 975.4,1237.3 976.1,1238.2 976.8,1239.6 977.5,1240.5 978.2,1240.8 978.9,1240.9 979.6,1241.8 980.3,1241.2 981,1241.3 981.7,1239.1 982.4,1240.2 983.1,1243.4 983.8,1243.3 984.5,1241.5 985.2,1241.4 985.9,1241.7 986.6,1239.9 987.3,1243 988,1240 988.7,1240.4 989.4,1243.3 990.1,1237.9 990.8,1241 991.5,1238.3 992.2,1239.7 992.9,1240.4 993.6,1240.1 994.3,1240.8 995,1239.6 995.7,1240.5 996.4,1239.1 997.1,1240.1 997.8,1238.8 998.5,1241.5 999.2,1239 999.9,1241.5 1000.6,1240.1 1001.3,1240.3 1002,1242.2 1002.7,1240.8 1003.4,1238.3 1004.1,1241.4 1004.8,1237.8 1005.5,1241.1 1006.2,1240.2 1006.9,1239 1007.6,1240.9 1008.3,1240.4 1009,1243.4 1009.7,1240.2 1010.4,1243.3 1011.1,1242.6 1011.8,1240 1012.5,1239.8 1013.2,1242.5 1013.9,1240.7 1014.6,1241.1 1015.3,1240.6 1016,1239.3 1016.7,1240.4 1017.4,1239.7 1018.1,1239 1018.8,1240.6 1019.5,1243.3 1020.2,1243 1020.9,1240.9 1021.6,1241.2 1022.3,1241.7 1023,1242.8 1023.7,1241.4 1024.4,1240.4 1025.1,1240.6 1025.8,1242.5 1026.5,1244.1 1027.2,1240.3 1027.9,1238.5 1028.6,1242.2 1029.3,1241.1 1030,1241.3 1030.7,1242.8 1031.4,1241.3 1032.1,1239.5 1032.8,1238.7 1033.5,1241.2 1034.2,1239.8 1034.9,1241.7 1035.6,1239.7 1036.3,1240.9 1037,1239.4 1037.7,1240.9 1038.4,1240.8 1039.1,1242.2 1039.8,1243.2 1040.5,1241.2 1041.2,1240.3 1041.9,1244 1042.6,1242 1043.3,1242.3 1044,1242.3 1044.7,1243.4 1045.4,1242.9 1046.1,1242.4 1046.8,1242.6 1047.5,1240.5 1048.2,1240.8 1048.9,1241.5 1049.6,1241.8 1050.3,1241.7 1051,1242.1 1051.7,1241.7 1052.4,1241.2 1053.1,1239.6 1053.8,1242.8 1054.5,1242.5 1055.2,1240.6 1055.9,1242.4 1056.6,1242.3 1057.3,1241.9 1058,1239.4 1058.7,1240.3 1059.4,1241.1 1060.1,1243.9 1060.8,1240.8 1061.5,1241.4 1062.2,1240.4 1062.9,1241.3 1063.6,1242.3 1064.3,1239.2 1065,1239 1065.7,1242.8 1066.4,1242 1067.1,1241.2 1067.8,1243.2 1068.5,1243.2 1069.2,1239.2 1069.9,1241.7 1070.6,1243.4 1071.3,1241.1 1072,1241.6 1072.7,1243.2 1073.4,1241.6 1074.1,1240.3 1074.8,1240.8 1075.5,1239.6 1076.2,1241.6 1076.9,1238.1 1077.6,1241.1 1078.3,1237.1 1079,1238.8 1079.7,1236.3 1080.4,1237.3 1081.1,1238.4 1081.8,1237.9 1082.5,1237.5 1083.2,1235 1083.9,1234.6 1084.6,1234.1 1085.3,1234.1 1086,1232.3 1086.7,1234 1087.4,1232.9 1088.1,1234.2 1088.8,1233.9 1089.5,1235 1090.2,1234.2 1090.9,1235.7 1091.6,1235.7 1092.3,1237.9 1093,1238.7 1093.7,1240.6 1094.4,1238.5 1095.1,1243.7 1095.8,1241 1096.5,1243.2 1097.2,1243.2 1097.9,1239 1098.6,1241.7 1099.3,1244 1100,1239.1 1100.7,1243.1 1101.4,1241 1102.1,1241.6 1102.8,1242.5 1103.5,1239.9 1104.2,1242.6 1104.9,1241.5 1105.6,1241.4 1106.3,1243.3 1107,1245.5 1107.7,1242.9 1108.4,1243.2 1109.1,1242.5 1109.8,1241.6 1110.5,1242.9 1111.2,1244.6 1111.9,1242.9 1112.6,1243.8 1113.3,1242.4 1114,1245.7 1114.7,1240.6 1115.4,1243.5 1116.1,1243.5 1116.8,1243.1 1117.5,1241.4 1118.2,1241.3 1118.9,1242.5 1119.6,1243 1120.3,1241.3 1121,1241.5 1121.7,1243.6 1122.4,1244.3 1123.1,1242.2 1123.8,1242 1124.5,1242 1125.2,1246 1125.9,1243.6 1126.6,1242.9 1127.3,1244.3 1128,1246 1128.7,1244.6 1129.4,1241.2 1130.1,1242.9 1130.8,1242.5 1131.5,1242.6 1132.2,1241.5 1132.9,1242.6 1133.6,1241.7 1134.3,1243.5 1135,1243.2 1135.7,1241.3 1136.4,1240.9 1137.1,1242.5 1137.8,1244 1138.5,1243.8 1139.2,1243.1 1139.9,1240.2 1140.6,1242.5 1141.3,1242.2 1142,1242.8 1142.7,1241.6 1143.4,1242.6 1144.1,1242.4 1144.8,1246.3 1145.5,1244.2 1146.2,1243 1146.9,1243.2 1147.6,1243.1 1148.3,1243.5 1149,1242.7 1149.7,1243.3 1150.4,1244.6 1151.1,1244.4 1151.8,1243.7 1152.5,1245.1 1153.2,1243.6 1153.9,1242.1 1154.6,1241.1 1155.3,1242.5 1156,1243.3 1156.7,1243.9 1157.4,1244.8 1158.1,1242.7 1158.8,1242.4 1159.5,1244.4 1160.2,1245 1160.9,1242.8 1161.6,1243.9 1162.3,1245.3 1163,1243.9 1163.7,1243.4 1164.4,1240.8 1165.1,1245.3 1165.8,1244.4 1166.5,1243.7 1167.2,1243 1167.9,1242 1168.6,1243.5 1169.3,1243.5 1170,1245.1 1170.7,1242.1 1171.4,1245.5 1172.1,1243.7 1172.8,1245.2 1173.5,1242.4 1174.2,1244.2 1174.9,1245.3 1175.6,1243.9 1176.3,1241.8 1177,1243.3 1177.7,1244.5 1178.4,1242 1179.1,1241.9 1179.8,1244.1 1180.5,1242.6 1181.2,1244.7 1181.9,1242.3 1182.6,1241.5 1183.3,1242.9 1184,1245.8 1184.7,1242.8 1185.4,1243.9 1186.1,1244.3 1186.8,1242.7 1187.5,1245.4 1188.2,1244.2 1188.9,1244.6 1189.6,1241.8 1190.3,1241.7 1191,1241.1 1191.7,1243.8 1192.4,1243.7 1193.1,1245 1193.8,1246 1194.5,1243.7 1195.2,1243.7 1195.9,1244.7 1196.6,1246.1 1197.3,1243.1 1198,1245 1198.7,1243.8 1199.4,1243.7 1200.1,1245.2 1200.8,1243.2 1201.5,1242.8 1202.2,1245.1 1202.9,1244.2 1203.6,1243.9 1204.3,1244.1 1205,1244.9 1205.7,1243.8 1206.4,1245.3 1207.1,1244.8 1207.8,1246.2 1208.5,1246 1209.2,1245.4 1209.9,1244.1 1210.6,1244.5 1211.3,1243.6 1212,1247.4 1212.7,1244.1 1213.4,1245.1 1214.1,1246.2 1214.8,1242.6 1215.5,1243.3 1216.2,1243.9 1216.9,1243.1 1217.6,1242.8 1218.3,1243.8 1219,1246.2 1219.7,1245.4 1220.4,1244.5 1221.1,1244.5 1221.8,1242.4 1222.5,1245.4 1223.2,1245.1 1223.9,1243.1 1224.6,1244.8 1225.3,1244.3 1226,1243.9 1226.7,1243.3 1227.4,1243.7 1228.1,1243.4 1228.8,1245.2 1229.5,1245.1 1230.2,1245.1 1230.9,1244.4 1231.6,1244.1 1232.3,1247.3 1233,1242.3 1233.7,1246.3 1234.4,1245.2 1235.1,1244.8 1235.8,1244.1 1236.5,1244.5 1237.2,1243.2 1237.9,1243 1238.6,1244.6 1239.3,1242.6 1240,1245.9 1240.7,1246.3 1241.4,1241.9 1242.1,1242.8 1242.8,1245.2 1243.5,1245.1 1244.2,1245 1244.9,1245.4 1245.6,1245.9 1246.3,1246 1247,1247.2 1247.7,1245 1248.4,1246.1 1249.1,1242.8 1249.8,1244.8 1250.5,1243.4 1251.2,1246.8 1251.9,1248 1252.6,1245.7 1253.3,1243.3 1254,1244.9 1254.7,1245.1 1255.4,1245.3 1256.1,1246.5 1256.8,1246.3 1257.5,1242.1 1258.2,1246.9 1258.9,1244.5 1259.6,1244.4 1260.3,1247 1261,1244.8 1261.7,1243.4 1262.4,1243.5 1263.1,1245.3 1263.8,1246.4 1264.5,1247.2 1265.2,1245 1265.9,1244.6 1266.6,1247.4 1267.3,1244.7 1268,1247.2 1268.7,1245.6 1269.4,1245.6 1270.1,1245 1270.8,1245.7 1271.5,1244.7 1272.2,1244.5 1272.9,1245.2 1273.6,1244.5 1274.3,1245.8 1275,1245.5 1275.7,1245.1 1276.4,1245.2 1277.1,1245.1 1277.8,1247.7 1278.5,1245.5 1279.2,1244.7 1279.9,1245.1 1280.6,1246.4 1281.3,1245.3 1282,1245.3 1282.7,1245.2 1283.4,1245.8 1284.1,1246.1 1284.8,1246.2 1285.5,1243.5 1286.2,1244.2 1286.9,1242.7 1287.6,1246.7 1288.3,1247.1 1289,1247.4 1289.7,1245.9 1290.4,1247.2 1291.1,1245.7 1291.8,1245.6 1292.5,1243.7 1293.2,1244.7 1293.9,1245 1294.6,1247 1295.3,1248 1296,1245.2 1296.7,1246.3 1297.4,1246.2 1298.1,1244.8 1298.8,1243.6 1299.5,1244.9 1300.2,1244 1300.9,1245.5 1301.6,1245.7 1302.3,1245.7 1303,1245.7 1303.7,1246.6 1304.4,1244.8 1305.1,1247.1 1305.8,1243.8 1306.5,1246.1 1307.2,1246.5 1307.9,1245 1308.6,1244 1309.3,1246.9 1310,1245.2 1310.7,1247.1 1311.4,1247.1 1312.1,1246.1 1312.8,1246.1 1313.5,1247.4 1314.2,1246.6 1314.9,1245 1315.6,1246.4 1316.3,1246.9 1317,1246.5 1317.7,1246.5 1318.4,1246 1319.1,1246.1 1319.8,1245.1 1320.5,1244.4 1321.2,1247.7 1321.9,1245.5 1322.6,1246.6 1323.3,1244.4 1324,1246.5 1324.7,1245.3 1325.4,1249.4 1326.1,1245.1 1326.8,1245.1 1327.5,1247.6 1328.2,1247.9 1328.9,1243.7 1329.6,1246.8 1330.3,1247.6 1331,1244.9 1331.7,1247.4 1332.4,1245.8 1333.1,1245.2 1333.8,1246.1 1334.5,1245.9 1335.2,1244.7 1335.9,1249.4 1336.6,1246 1337.3,1245.6 1338,1247.7 1338.7,1246.5 1339.4,1248.3 1340.1,1246.3 1340.8,1247.1 1341.5,1246.8 1342.2,1246.9 1342.9,1246.4 1343.6,1246.5 1344.3,1248.8 1345,1245.8 1345.7,1246 1346.4,1246.3 1347.1,1247.5 1347.8,1247.3 1348.5,1248 1349.2,1245 1349.9,1247.1 1350.6,1246.5 1351.3,1246.4 1352,1247 1352.7,1244.3 1353.4,1247.2 1354.1,1247 1354.8,1245 1355.5,1246.7 1356.2,1248.8 1356.9,1246.4 1357.6,1247.6 1358.3,1246.6 1359,1245.8 1359.7,1245.7 1360.4,1246.4 1361.1,1248.6 1361.8,1248 1362.5,1246 1363.2,1248.2 1363.9,1246.8 1364.6,1246.1 1365.3,1247.5 1366,1245.8 1366.7,1245 1367.4,1248.6 1368.1,1244.6 1368.8,1247.7 1369.5,1245 1370.2,1247 1370.9,1246.8 1371.6,1246.5 1372.3,1244.2 1373,1246.9 1373.7,1247 1374.4,1245.9 1375.1,1247 1375.8,1248.3 1376.5,1246.1 1377.2,1247.4 1377.9,1245.6 1378.6,1247.6 1379.3,1247.9 1380,1250.1 1380.7,1248.3 1381.4,1247.7 1382.1,1248.9 1382.8,1245.8 1383.5,1248.5 1384.2,1246.4 1384.9,1246.3 1385.6,1248.5 1386.3,1247.4 1387,1248.8 1387.7,1245.3 1388.4,1247.5 1389.1,1246.5 1389.8,1246.8 1390.5,1244.7 1391.2,1248.4 1391.9,1247.4 1392.6,1245.9 1393.3,1245.4 1394,1246.1 1394.7,1249 1395.4,1247 1396.1,1246.7 1396.8,1247.8 1397.5,1247.2 1398.2,1247.5 1398.9,1248.1 1399.6,1247.6 1400.3,1248.3 1401,1245.7 1401.7,1247.3 1402.4,1246.7 1403.1,1247.3 1403.8,1247.1 1404.5,1246.4 1405.2,1246.7 1405.9,1248.4 1406.6,1246.5 1407.3,1245.6 1408,1247.9 1408.7,1248.4 1409.4,1246.8 1410.1,1247.3 1410.8,1246.1 1411.5,1246.9 1412.2,1248.6 1412.9,1248.2 1413.6,1247.4 1414.3,1246.8 1415,1245.1 1415.7,1247.6 1416.4,1247.8 1417.1,1248.5 1417.8,1249.8 1418.5,1247.7 1419.2,1248.4 1419.9,1245.8 1420.6,1248.7 1421.3,1248.3 1422,1248.9 1422.7,1248 1423.4,1247.8 1424.1,1249.1 1424.8,1246.3 1425.5,1248 1426.2,1248.6 1426.9,1246.2 1427.6,1245.7 1428.3,1247.7 1429,1247.3 1429.7,1248 1430.4,1248 1431.1,1246.2 1431.8,1247.6 1432.5,1248.6 1433.2,1246.7 1433.9,1246.8 1434.6,1245.8 1435.3,1248.2 1436,1249.7 1436.7,1245.5 1437.4,1248.2 1438.1,1248.3 1438.8,1246.5 1439.5,1246.7 1440.2,1245.9 1440.9,1246.2 1441.6,1247.4 1442.3,1248 1443,1247.3 1443.7,1248.3 1444.4,1247.4 1445.1,1245.7 1445.8,1249 1446.5,1248.7 1447.2,1246.3 1447.9,1249.4 1448.6,1247.8 1449.3,1247.3 1450,1249.6 1450.7,1244.2 1451.4,1245.1 1452.1,1248.1 1452.8,1246.9 1453.5,1246 1454.2,1249.1 1454.9,1247.8 1455.6,1245.6 1456.3,1246.3 1457,1248.2 1457.7,1249.4 1458.4,1244.6 1459.1,1247.5 1459.8,1246.7 1460.5,1244.9 1461.2,1246.9 1461.9,1245.1 1462.6,1246.5 1463.3,1249.2 1464,1247.8 1464.7,1248.1 1465.4,1247.9 1466.1,1247.6 1466.8,1248.4 1467.5,1245.7 1468.2,1246.7 1468.9,1248.2 1469.6,1246.2 1470.3,1246.6 1471,1248.7 1471.7,1249.1 1472.4,1246.4 1473.1,1246.1 1473.8,1247.9 1474.5,1247.5 1475.2,1246.3 1475.9,1247.9 1476.6,1247.8 1477.3,1247.2 1478,1250.1 1478.7,1248.9 1479.4,1248.2 1480.1,1248.4 1480.8,1250.1 1481.5,1248.5 1482.2,1246.2 1482.9,1247.5 1483.6,1247.2 1484.3,1246.4 1485,1247.4 1485.7,1247.4 1486.4,1247 1487.1,1246.5 1487.8,1248.2 1488.5,1245.1 1489.2,1248.1 1489.9,1247.1 1490.6,1247.4 1491.3,1244.1 1492,1249.2 1492.7,1244.9 1493.4,1246 1494.1,1247.9 1494.8,1246.3 1495.5,1246.6 1496.2,1244.2 1496.9,1246.5 1497.6,1247.3 1498.3,1247.9 1499,1246.7 1499.7,1247.3 1500.4,1247.6 1501.1,1246.2 1501.8,1246.1 1502.5,1249.5 1503.2,1246 1503.9,1248.6 1504.6,1247.1 1505.3,1248.9 1506,1246.2 1506.7,1247.7 1507.4,1247.4 1508.1,1246.7 1508.8,1247.4 1509.5,1246 1510.2,1246.9 1510.9,1246.5 1511.6,1248 1512.3,1246.9 1513,1245.2 1513.7,1246.5 1514.4,1246.8 1515.1,1245.8 1515.8,1248.7 1516.5,1247.5 1517.2,1248 1517.9,1246 1518.6,1246.4 1519.3,1248.2 1520,1245.1 1520.7,1247.4 1521.4,1247 1522.1,1246.2 1522.8,1247 1523.5,1245.5 1524.2,1247.1 1524.9,1245.3 1525.6,1245.2 1526.3,1248.6 1527,1245.9 1527.7,1244.1 1528.4,1248 1529.1,1245.8 1529.8,1243.7 1530.5,1246.6 1531.2,1247.9 1531.9,1247.1 1532.6,1248.9 1533.3,1246.5 1534,1247.4 1534.7,1245.3 1535.4,1246.8 1536.1,1248.5 1536.8,1247.2 1537.5,1246.7 1538.2,1244 1538.9,1246 1539.6,1244.8 1540.3,1247.4 1541,1245.4 1541.7,1246.8 1542.4,1245 1543.1,1248.7 1543.8,1244.8 1544.5,1246.4 1545.2,1249.1 1545.9,1246.4 1546.6,1245 1547.3,1246.9 1548,1247.3 1548.7,1247.1 1549.4,1243.2 1550.1,1245.7 1550.8,1242.3 1551.5,1247 1552.2,1244.2 1552.9,1243 1553.6,1243.9 1554.3,1243.2 1555,1240.5 1555.7,1243.6 1556.4,1240.6 1557.1,1238 1557.8,1241.3 1558.5,1240.8 1559.2,1239.9 1559.9,1238.6 1560.6,1236.5 1561.3,1238.8 1562,1240.3 1562.7,1239.5 1563.4,1241.2 1564.1,1239 1564.8,1242.2 1565.5,1242.9 1566.2,1240.5 1566.9,1240.9 1567.6,1242.5 1568.3,1244 1569,1244.9 1569.7,1244.4 1570.4,1245 1571.1,1245.3 1571.8,1245.9 1572.5,1246.8 1573.2,1246.9 1573.9,1246.4 1574.6,1246.9 1575.3,1246 1576,1247.6 1576.7,1245.9 1577.4,1248.7 1578.1,1246.5 1578.8,1246.9 1579.5,1245.6 1580.2,1246.1 1580.9,1246.8 1581.6,1246.6 1582.3,1245.8 1583,1245.1 1583.7,1246.6 1584.4,1246.8 1585.1,1247.3 1585.8,1248.2 1586.5,1246.2 1587.2,1244 1587.9,1246.4 1588.6,1244.2 1589.3,1244.9 1590,1247.9 1590.7,1247.3 1591.4,1245.7 1592.1,1245.8 1592.8,1246.5 1593.5,1244.3 1594.2,1247.2 1594.9,1246.1 1595.6,1248.9 1596.3,1245.2 1597,1247.9 1597.7,1245.7 1598.4,1247.9 1599.1,1245.3 1599.8,1247.5 1600.5,1246 1601.2,1245.5 1601.9,1246.4 1602.6,1247.2 1603.3,1247.1 1604,1248.6 1604.7,1247.6 1605.4,1243.5 1606.1,1246.1 1606.8,1244 1607.5,1246.1 1608.2,1247.4 1608.9,1244.8 1609.6,1245 1610.3,1246.8 1611,1246.2 1611.7,1248.6 1612.4,1247 1613.1,1247.3 1613.8,1248.8 1614.5,1245.9 1615.2,1246.6 1615.9,1245.3 1616.6,1246.9 1617.3,1247.9 1618,1248.3 1618.7,1246.5 1619.4,1245.7 1620.1,1245.6 1620.8,1244.8 1621.5,1246.7 1622.2,1248.3 1622.9,1243.5 1623.6,1243.7 1624.3,1248.3 1625,1244.4 1625.7,1246.9 1626.4,1244.8 1627.1,1247.5 1627.8,1247.4 1628.5,1246.6 1629.2,1247.4 1629.9,1246.4 1630.6,1247 1631.3,1248.6 1632,1247.7 1632.7,1245.4 1633.4,1245.1 1634.1,1245.8 1634.8,1245.8 1635.5,1246.1 1636.2,1245.2 1636.9,1246.8 1637.6,1246 1638.3,1246.3 1639,1245.8 1639.7,1246.6 1640.4,1244.2 1641.1,1247.7 1641.8,1246.1 1642.5,1246.2 1643.2,1246.3 1643.9,1246.9 1644.6,1246.4 1645.3,1245.7 1646,1245.1 1646.7,1243.2 1647.4,1245.5 1648.1,1244.8 1648.8,1244.7 1649.5,1248 1650.2,1242.6 1650.9,1245.1 1651.6,1246.5 1652.3,1246.1 1653,1246.5 1653.7,1243.2 1654.4,1243.5 1655.1,1245.5 1655.8,1244.3 1656.5,1246.9 1657.2,1244.9 1657.9,1244.8 1658.6,1245.1 1659.3,1244.1 1660,1244.6 1660.7,1243.5 1661.4,1244.3 1662.1,1243.7 1662.8,1244.6 1663.5,1242.4 1664.2,1242.3 1664.9,1244.8 1665.6,1244.5 1666.3,1242.9 1667,1243.9 1667.7,1242.8 1668.4,1246.8 1669.1,1242.1 1669.8,1246.3 1670.5,1243 1671.2,1244.7 1671.9,1243.8 1672.6,1243.6 1673.3,1245.3 1674,1245.2 1674.7,1243.8 1675.4,1243 1676.1,1246.9 1676.8,1246.1 1677.5,1244.5 1678.2,1243.9 1678.9,1244.8 1679.6,1244.5 1680.3,1246 1681,1243.3 1681.7,1244.6 1682.4,1243.6 1683.1,1246.4 1683.8,1247.1 1684.5,1244.7 1685.2,1245.6 1685.9,1246.8 1686.6,1244.7 1687.3,1243.9 1688,1246.6 1688.7,1245.9 1689.4,1245.1 1690.1,1247.3 1690.8,1245.8 1691.5,1243.2 1692.2,1246.1 1692.9,1245.6 1693.6,1248.2 1694.3,1245.8 1695,1245.6 1695.7,1246.5 1696.4,1246.3 1697.1,1244.2 1697.8,1246.2 1698.5,1245.6 1699.2,1247.9 1699.9,1249 1700.6,1244.7 1701.3,1244.9 1702,1245.1 1702.7,1245.3 1703.4,1245.3 1704.1,1246.3 1704.8,1247.7 1705.5,1244.6 1706.2,1244.3 1706.9,1243.9 1707.6,1247.8 1708.3,1248.1 1709,1244.4 1709.7,1244.3 1710.4,1246.6 1711.1,1247.8 1711.8,1247.8 1712.5,1246.7 1713.2,1247.4 1713.9,1246.9 1714.6,1245.8 1715.3,1249 1716,1246.5 1716.7,1245.1 1717.4,1246 1718.1,1244.6 1718.8,1246.6 1719.5,1248.1 1720.2,1245 1720.9,1248.1 1721.6,1249.4 1722.3,1247.2 1723,1245.2 1723.7,1245.6 1724.4,1246.3 1725.1,1245.1 1725.8,1245.1 1726.5,1246.4 1727.2,1246.6 1727.9,1247.6 1728.6,1245.3 1729.3,1249.3 1730,1248.2 1730.7,1248 1731.4,1246 1732.1,1249.1 1732.8,1246.4 1733.5,1249.3 1734.2,1248.3 1734.9,1245.8 1735.6,1246.3 1736.3,1249.4 1737,1248.3 1737.7,1246.8 1738.4,1247.2 1739.1,1247.2 1739.8,1246 1740.5,1246.7 1741.2,1246.2 1741.9,1246.5 1742.6,1247.6 1743.3,1245.8 1744,1248 1744.7,1247.2 1745.4,1248 1746.1,1248.2 1746.8,1248.7 1747.5,1247.9 1748.2,1248 1748.9,1246.8 1749.6,1247.8 1750.3,1245.9 1751,1246.8 1751.7,1248.1 1752.4,1247 1753.1,1247.7 1753.8,1245.7 1754.5,1248.9 1755.2,1246.4 1755.9,1247.6 1756.6,1247.1 1757.3,1248.3 1758,1246.6 1758.7,1245.8 1759.4,1244.7 1760.1,1246.7 1760.8,1245.6 1761.5,1247.8 1762.2,1249 1762.9,1244.2 1763.6,1245.4 1764.3,1247.5 1765,1248.7 1765.7,1247.5 1766.4,1247.5 1767.1,1247.8 1767.8,1247.9 1768.5,1249.3 1769.2,1247.9 1769.9,1245.5 1770.6,1246.5 1771.3,1247.4 1772,1246.1 1772.7,1246.8 1773.4,1246.4 1774.1,1246.2 1774.8,1248 1775.5,1246.6 1776.2,1245.7 1776.9,1246.2 1777.6,1247.2 1778.3,1249.9 1779,1247.5 1779.7,1249.1 1780.4,1247.8 1781.1,1244.3 1781.8,1247.6 1782.5,1246 1783.2,1245.3 1783.9,1245.7 1784.6,1249.5 1785.3,1245.1 1786,1246.3 1786.7,1248.6 1787.4,1248 1788.1,1244.9 1788.8,1247 1789.5,1246.4 1790.2,1246.9 1790.9,1248.1 1791.6,1246.4 1792.3,1246.7 1793,1249 1793.7,1244.7 1794.4,1246.6 1795.1,1247.7 1795.8,1245.5 1796.5,1246.3 1797.2,1245.4 1797.9,1247.3 1798.6,1246.3 1799.3,1248.1 1800,1248.4 1800.7,1247.1 1801.4,1246.6 1802.1,1247.4 1802.8,1247.2 1803.5,1245.5 1804.2,1248.5 1804.9,1247.4 1805.6,1248.1 1806.3,1245.3 1807,1248.2 1807.7,1249.8 1808.4,1247.9 1809.1,1245.2 1809.8,1247.1 1810.5,1247 1811.2,1247.3 1811.9,1246.7 1812.6,1247.7 1813.3,1246.4 1814,1247.3 1814.7,1246.1 1815.4,1247.2 1816.1,1248.3 1816.8,1246.4 1817.5,1247.9" fill="none" stroke="#7220a4" stroke-width="2.8" stroke-linejoin="round" stroke-linecap="butt"/>
<path d="M176,1252.4 176.7,1249.3 177.4,1251.3 178.1,1248.8 178.8,1249.9 179.5,1249.2 180.2,1249.6 180.9,1248 181.6,1247.9 182.3,1249.5 183,1247 183.7,1247.9 184.4,1249.8 185.1,1248.1 185.8,1247.8 186.5,1247.5 187.2,1249 187.9,1248.4 188.6,1249 189.3,1248.5 190,1251.1 190.7,1248.2 191.4,1246.2 192.1,1248.8 192.8,1248.6 193.5,1248.8 194.2,1246.5 194.9,1250 195.6,1248.5 196.3,1248.4 197,1246.5 197.7,1249 198.4,1248.3 199.1,1250.1 199.8,1247.8 200.5,1246.8 201.2,1248.5 201.9,1247.1 202.6,1248.8 203.3,1246.9 204,1248 204.7,1247.9 205.4,1248.1 206.1,1247.5 206.8,1247.1 207.5,1248 208.2,1247.3 208.9,1248.2 209.6,1247.6 210.3,1245.1 211,1247.9 211.7,1249.7 212.4,1248.3 213.1,1248.6 213.8,1248.4 214.5,1247.2 215.2,1246.1 215.9,1248.8 216.6,1249 217.3,1248.4 218,1248.2 218.7,1248.1 219.4,1247.6 220.1,1247.9 220.8,1247.6 221.5,1247.9 222.2,1246.3 222.9,1246.7 223.6,1248.2 224.3,1247 225,1244.5 225.7,1247.5 226.4,1244.5 227.1,1249.7 227.8,1248.2 228.5,1248.1 229.2,1246.4 229.9,1245.8 230.6,1246.9 231.3,1247.2 232,1246.2 232.7,1247.3 233.4,1247.9 234.1,1247.8 234.8,1245.7 235.5,1244.3 236.2,1247 236.9,1246.1 237.6,1247.5 238.3,1248.9 239,1248.9 239.7,1247.2 240.4,1248.2 241.1,1248.8 241.8,1246.8 242.5,1247 243.2,1247.7 243.9,1246.6 244.6,1246 245.3,1245.7 246,1246.6 246.7,1245.8 247.4,1247.5 248.1,1246.1 248.8,1248.3 249.5,1247.9 250.2,1244.9 250.9,1247.7 251.6,1245.9 252.3,1248 253,1246.9 253.7,1246.2 254.4,1247.1 255.1,1245.5 255.8,1246.6 256.5,1246.6 257.2,1246 257.9,1246.6 258.6,1244.8 259.3,1246.8 260,1244.5 260.7,1246.8 261.4,1246.6 262.1,1246.8 262.8,1245.2 263.5,1249 264.2,1245.6 264.9,1246 265.6,1244.9 266.3,1247.6 267,1245.2 267.7,1247 268.4,1244.5 269.1,1246.1 269.8,1245.2 270.5,1246.8 271.2,1245.2 271.9,1244.5 272.6,1246.1 273.3,1244 274,1244.3 274.7,1246.4 275.4,1243.1 276.1,1246.3 276.8,1244.9 277.5,1244.2 278.2,1245.6 278.9,1246.1 279.6,1244.5 280.3,1245 281,1246.2 281.7,1246.1 282.4,1245.1 283.1,1244.2 283.8,1243.9 284.5,1244.3 285.2,1245.9 285.9,1245.7 286.6,1245.4 287.3,1246.7 288,1244.6 288.7,1244.4 289.4,1244.4 290.1,1247.2 290.8,1242.3 291.5,1245.2 292.2,1245.3 292.9,1244.8 293.6,1247.6 294.3,1246.1 295,1245.6 295.7,1243.5 296.4,1245.2 297.1,1244.1 297.8,1244.6 298.5,1244.8 299.2,1243.9 299.9,1245.2 300.6,1246.4 301.3,1245.7 302,1244.7 302.7,1242 303.4,1245.7 304.1,1245.6 304.8,1244 305.5,1243.7 306.2,1245 306.9,1243.2 307.6,1245.1 308.3,1242.8 309,1243 309.7,1244.1 310.4,1242.3 311.1,1244 311.8,1244.6 312.5,1242.4 313.2,1245.1 313.9,1243.2 314.6,1244.6 315.3,1244.1 316,1243.3 316.7,1243.2 317.4,1241.7 318.1,1242.9 318.8,1242.8 319.5,1245.7 320.2,1244.9 320.9,1242 321.6,1244.6 322.3,1243.8 323,1243.1 323.7,1244.1 324.4,1244.4 325.1,1242.8 325.8,1243.1 326.5,1243.6 327.2,1242.2 327.9,1243.6 328.6,1243.2 329.3,1242.4 330,1242.2 330.7,1243.6 331.4,1244.3 332.1,1243.6 332.8,1242.1 333.5,1244 334.2,1243.3 334.9,1243.8 335.6,1244.4 336.3,1241.9 337,1242.8 337.7,1242.2 338.4,1241.8 339.1,1245.3 339.8,1244 340.5,1240.7 341.2,1243.3 341.9,1242.1 342.6,1244.1 343.3,1242.8 344,1242.4 344.7,1242.8 345.4,1243.1 346.1,1242.6 346.8,1242.3 347.5,1242.3 348.2,1243.1 348.9,1241.1 349.6,1242.4 350.3,1242.2 351,1241.8 351.7,1243.2 352.4,1240.7 353.1,1241.8 353.8,1241.2 354.5,1242.9 355.2,1241.6 355.9,1242.2 356.6,1242.6 357.3,1240.1 358,1242.6 358.7,1241.1 359.4,1241.7 360.1,1241.8 360.8,1242.9 361.5,1242.8 362.2,1244 362.9,1242 363.6,1241.2 364.3,1241.1 365,1242.5 365.7,1243.6 366.4,1242.1 367.1,1240.9 367.8,1241.9 368.5,1241.9 369.2,1241.6 369.9,1240.6 370.6,1238.5 371.3,1240.8 372,1242.7 372.7,1241.6 373.4,1238.6 374.1,1241.3 374.8,1239 375.5,1243.6 376.2,1241.4 376.9,1239.7 377.6,1242.1 378.3,1240.1 379,1241.7 379.7,1241 380.4,1239.6 381.1,1241.8 381.8,1239.3 382.5,1242.5 383.2,1240.9 383.9,1239.6 384.6,1238.6 385.3,1242.7 386,1242.5 386.7,1239.2 387.4,1242.7 388.1,1240.8 388.8,1240.3 389.5,1240.5 390.2,1240.2 390.9,1242.2 391.6,1240.7 392.3,1238.2 393,1242.9 393.7,1241.4 394.4,1239 395.1,1239.9 395.8,1239.2 396.5,1240.3 397.2,1240.7 397.9,1240.5 398.6,1239.4 399.3,1239.1 400,1241.1 400.7,1239.9 401.4,1242.7 402.1,1239 402.8,1240.9 403.5,1240 404.2,1238.9 404.9,1241.5 405.6,1240 406.3,1238.7 407,1239.3 407.7,1240.9 408.4,1238.2 409.1,1241.3 409.8,1240.4 410.5,1239.2 411.2,1241.2 411.9,1241.6 412.6,1240.2 413.3,1239.6 414,1241.6 414.7,1241.1 415.4,1238.1 416.1,1239 416.8,1238.9 417.5,1238.7 418.2,1237.3 418.9,1240.2 419.6,1239.1 420.3,1239.1 421,1240.7 421.7,1238.2 422.4,1238.8 423.1,1239.1 423.8,1238.2 424.5,1238.6 425.2,1239.6 425.9,1238.6 426.6,1240.2 427.3,1237.6 428,1238.7 428.7,1236.7 429.4,1238.2 430.1,1237.5 430.8,1239.9 431.5,1239.1 432.2,1238.8 432.9,1240.4 433.6,1239.8 434.3,1238.9 435,1237.1 435.7,1236.1 436.4,1237.8 437.1,1237.3 437.8,1236.9 438.5,1237.3 439.2,1235.5 439.9,1239.3 440.6,1236 441.3,1236.5 442,1238 442.7,1235.2 443.4,1238.3 444.1,1238.2 444.8,1236.6 445.5,1235.5 446.2,1236.2 446.9,1234.4 447.6,1238.3 448.3,1236.5 449,1235.4 449.7,1235.1 450.4,1236.8 451.1,1237.9 451.8,1234.4 452.5,1235.1 453.2,1233.6 453.9,1236.5 454.6,1235.7 455.3,1238.2 456,1235.2 456.7,1234.7 457.4,1234.3 458.1,1236.2 458.8,1233 459.5,1235.9 460.2,1235.2 460.9,1234.2 461.6,1233.6 462.3,1236 463,1236.9 463.7,1234 464.4,1235.1 465.1,1236.5 465.8,1233.5 466.5,1233.9 467.2,1232.6 467.9,1233.9 468.6,1233.9 469.3,1233.4 470,1232.9 470.7,1231.7 471.4,1231.9 472.1,1232.3 472.8,1234.2 473.5,1232.6 474.2,1232.1 474.9,1233.8 475.6,1233.6 476.3,1231.8 477,1231.8 477.7,1233.3 478.4,1232.7 479.1,1231.1 479.8,1232.2 480.5,1231.7 481.2,1232.9 481.9,1230.2 482.6,1232.1 483.3,1231.3 484,1229.3 484.7,1231.6 485.4,1231.1 486.1,1228 486.8,1231.7 487.5,1227.5 488.2,1227.3 488.9,1227.4 489.6,1228 490.3,1226.9 491,1225.2 491.7,1226 492.4,1223.7 493.1,1223.9 493.8,1223.9 494.5,1220 495.2,1215.5 495.9,1216.7 496.6,1214.6 497.3,1214.7 498,1213.4 498.7,1210.4 499.4,1209" fill="none" stroke="#7220a4" stroke-width="4.2" stroke-linejoin="round" stroke-linecap="butt" stroke-linecap="round"/>
<path d="M532.3,1218.5 533,1221.4 533.7,1223.2 534.4,1224.7 535.1,1224.9 535.8,1224.7 536.5,1222.9 537.2,1226.4 537.9,1226.6 538.6,1226.3 539.3,1226.3 540,1225.3 540.7,1224.5 541.4,1226.4 542.1,1226.5 542.8,1223.3 543.5,1225.6 544.2,1224.5 544.9,1225.1 545.6,1224 546.3,1224.9 547,1224.5 547.7,1224.1 548.4,1221 549.1,1223.7 549.8,1222.6 550.5,1221 551.2,1223.3 551.9,1220.5 552.6,1223.4 553.3,1224.3 554,1221.4 554.7,1223.1 555.4,1222.4 556.1,1222.6 556.8,1219.9 557.5,1222.3 558.2,1221.6 558.9,1222.3 559.6,1221.2 560.3,1222.5 561,1221.4 561.7,1221.8 562.4,1222.7 563.1,1221.1 563.8,1222.1 564.5,1221 565.2,1221.4 565.9,1220 566.6,1221.7 567.3,1222.3 568,1220.6 568.7,1221.7 569.4,1221.3 570.1,1219.4 570.8,1221.3 571.5,1222.6 572.2,1220.3 572.9,1218.7 573.6,1221.4 574.3,1220.3 575,1223.7 575.7,1221.2 576.4,1221.4 577.1,1220.6 577.8,1221.8 578.5,1220.9 579.2,1220.5 579.9,1221.7 580.6,1220.8 581.3,1223.6 582,1220.5 582.7,1222 583.4,1221.3 584.1,1220.5 584.8,1224.5 585.5,1219.8 586.2,1224.4 586.9,1220.8 587.6,1222.8 588.3,1225.7 589,1220.2 589.7,1221.3 590.4,1224.8 591.1,1223.4 591.8,1222.6 592.5,1223.4 593.2,1222.3 593.9,1223.9 594.6,1225.8 595.3,1223.5 596,1224.3 596.7,1225.9 597.4,1227 598.1,1223.9 598.8,1225.2 599.5,1224.3 600.2,1224.4 600.9,1224.9 601.6,1224.8 602.3,1223.6 603,1223.5 603.7,1225.3 604.4,1226.6 605.1,1228.2 605.8,1226.2 606.5,1226.9 607.2,1228.1 607.9,1228.5 608.6,1227.6 609.3,1227.9 610,1230.5 610.7,1227.9 611.4,1227.9 612.1,1226.7 612.8,1229.5 613.5,1228.8 614.2,1231.8 614.9,1229.1 615.6,1230.7 616.3,1231.1 617,1232.2 617.7,1228.6 618.4,1232.5 619.1,1230.7 619.8,1230.8 620.5,1230.7 621.2,1230.8 621.9,1231.1 622.6,1228.8 623.3,1232.6 624,1232.3 624.7,1231.2 625.4,1232.6 626.1,1235.8 626.8,1233.6 627.5,1232.8 628.2,1235.7 628.9,1232.7 629.6,1233.7 630.3,1233.4 631,1234 631.7,1235.4 632.4,1235.5 633.1,1234 633.8,1234.9 634.5,1235.4 635.2,1234.9 635.9,1235.6 636.6,1234.9 637.3,1235 638,1236.1 638.7,1234.9 639.4,1236.9 640.1,1236.2 640.8,1235.4 641.5,1235.9 642.2,1236.2 642.9,1236.7 643.6,1237.1 644.3,1236.8 645,1236 645.7,1239 646.4,1238.4 647.1,1237.5 647.8,1238.6 648.5,1237.9 649.2,1237.3 649.9,1237.8 650.6,1240.7 651.3,1239 652,1239.2 652.7,1237.4 653.4,1238.8 654.1,1240.9 654.8,1238.7 655.5,1239.5 656.2,1239.8 656.9,1239.1 657.6,1240.3 658.3,1238.7 659,1239.1 659.7,1237.7 660.4,1241.5 661.1,1239 661.8,1238.8 662.5,1240.5 663.2,1238.2 663.9,1238.8 664.6,1237.9 665.3,1238.9 666,1238.5 666.7,1239.7 667.4,1238.9 668.1,1238.4 668.8,1238.8 669.5,1239 670.2,1238.6 670.9,1240.5 671.6,1240.2 672.3,1239.6 673,1237.9 673.7,1240.1 674.4,1237.9 675.1,1239.8 675.8,1239.6 676.5,1238.9 677.2,1238.6 677.9,1238.8 678.6,1242.3 679.3,1239.5 680,1239.6 680.7,1241.1 681.4,1240.5 682.1,1241.3 682.8,1238.5 683.5,1238.7 684.2,1243.1 684.9,1240.1 685.6,1239.8 686.3,1240.4 687,1241.5 687.7,1238.8 688.4,1240.7 689.1,1240.3 689.8,1241.3 690.5,1240.7 691.2,1239.8 691.9,1239.4 692.6,1237.5 693.3,1241.8 694,1238.8 694.7,1240.2 695.4,1242.8 696.1,1240.2 696.8,1241.5 697.5,1240.5 698.2,1241.7 698.9,1240.9 699.6,1240.2 700.3,1242.6 701,1240.6 701.7,1239.3 702.4,1240.5 703.1,1241.6 703.8,1239.6 704.5,1242 705.2,1242 705.9,1243.7 706.6,1240.2 707.3,1241.9 708,1239 708.7,1240.5 709.4,1241.2 710.1,1241.6 710.8,1241 711.5,1241 712.2,1240.4 712.9,1240.6 713.6,1241.5 714.3,1241.9 715,1242 715.7,1242.4 716.4,1242.7 717.1,1238.9 717.8,1240.6 718.5,1241 719.2,1240.4 719.9,1242.5 720.6,1242.2 721.3,1241.1 722,1241.4 722.7,1242.8 723.4,1240.8 724.1,1240.9 724.8,1242.4 725.5,1241.9 726.2,1243.1 726.9,1241.8 727.6,1242.3 728.3,1240.7 729,1240.2 729.7,1241.3 730.4,1238.3 731.1,1241.9 731.8,1242.6 732.5,1241.5 733.2,1241.1 733.9,1242.8 734.6,1241.4 735.3,1242.6 736,1244.1 736.7,1242.3 737.4,1242.6 738.1,1242 738.8,1241.8 739.5,1241.8 740.2,1241.5 740.9,1242.8 741.6,1239.5 742.3,1241.1 743,1242.3 743.7,1240.4 744.4,1241.3 745.1,1240.6 745.8,1242 746.5,1242.6 747.2,1243.3 747.9,1242.1 748.6,1240.6 749.3,1241.8 750,1242.2 750.7,1243.3 751.4,1238.8 752.1,1242 752.8,1239.2 753.5,1242.4 754.2,1242.1 754.9,1242.1 755.6,1242.6 756.3,1242 757,1240.7 757.7,1242 758.4,1243 759.1,1241.4 759.8,1241.6 760.5,1240 761.2,1243 761.9,1240.9 762.6,1240.6 763.3,1241 764,1240.5 764.7,1241.2 765.4,1243.1 766.1,1242.5 766.8,1243.3 767.5,1243.4 768.2,1240.4 768.9,1242.1 769.6,1243.4 770.3,1244.4 771,1239.8 771.7,1239.7 772.4,1242.1 773.1,1241.1 773.8,1240.3 774.5,1242 775.2,1240.5 775.9,1238.7 776.6,1241.4 777.3,1241.6 778,1242.3 778.7,1242.6 779.4,1241.7 780.1,1241.2 780.8,1240.6 781.5,1239.4 782.2,1240.9 782.9,1242.6 783.6,1242.2 784.3,1243.9 785,1241.2 785.7,1239.2 786.4,1242.4 787.1,1242.6 787.8,1239.9 788.5,1239.3 789.2,1241.5 789.9,1242.2 790.6,1239.9 791.3,1240.9 792,1240.3 792.7,1239.8 793.4,1239.6 794.1,1241.4 794.8,1240.7 795.5,1240.4 796.2,1238.2 796.9,1243.3 797.6,1240 798.3,1240.9 799,1239.7 799.7,1241.5 800.4,1239.2 801.1,1241.1 801.8,1240.8 802.5,1242.1 803.2,1239.6 803.9,1240.1 804.6,1240.6 805.3,1243.5 806,1239 806.7,1241.2 807.4,1240 808.1,1241.2 808.8,1241.6 809.5,1240.9 810.2,1241 810.9,1241 811.6,1239.9 812.3,1240.4 813,1238.5 813.7,1240.1 814.4,1239.6 815.1,1240.2 815.8,1241.4 816.5,1240.9 817.2,1241 817.9,1241.7 818.6,1237.4 819.3,1240.8 820,1240.2 820.7,1240.1 821.4,1238.6 822.1,1240.8 822.8,1241.5 823.5,1241.3 824.2,1239.9 824.9,1240.8 825.6,1241.1 826.3,1242.1 827,1241.4 827.7,1240 828.4,1239.9 829.1,1239.9 829.8,1239.9 830.5,1238.7 831.2,1239.9 831.9,1237.7 832.6,1237.1 833.3,1238 834,1236.3 834.7,1236.2 835.4,1233.4 836.1,1236.5 836.8,1235.1 837.5,1234.6 838.2,1234.9 838.9,1234.1 839.6,1232.6 840.3,1235.5 841,1232.1 841.7,1233.5 842.4,1234.3 843.1,1231.1 843.8,1231.9 844.5,1230.8 845.2,1233.2 845.9,1231.7 846.6,1230.9 847.3,1234.1 848,1233.8 848.7,1231.8 849.4,1234.6 850.1,1233.5 850.8,1236.4 851.5,1235.6 852.2,1232.8 852.9,1233.1 853.6,1232.4 854.3,1233.5 855,1233.4 855.7,1234.1 856.4,1233.2 857.1,1231.2 857.8,1231.8 858.5,1234.5 859.2,1234 859.9,1232.2 860.6,1232.1 861.3,1231.9 862,1232 862.7,1229.8 863.4,1232.8 864.1,1230.7 864.8,1231.4 865.5,1228 866.2,1231 866.9,1232.1 867.6,1227.4 868.3,1231.8 869,1230.2 869.7,1228.4 870.4,1227.1 871.1,1230.2 871.8,1228.8 872.5,1228.9 873.2,1227.5 873.9,1226.6 874.6,1228.4 875.3,1225.9 876,1228 876.7,1224.7 877.4,1225.4 878.1,1224.6 878.8,1227.9 879.5,1224.1 880.2,1224.8 880.9,1227 881.6,1226.5 882.3,1229 883,1228.7 883.7,1227.4 884.4,1227.6 885.1,1224.7 885.8,1226.1 886.5,1227.1 887.2,1227.6 887.9,1226.4 888.6,1227.2 889.3,1227.6 890,1230.3 890.7,1229.9 891.4,1229.3 892.1,1229.7 892.8,1230.7 893.5,1229.8 894.2,1230.6 894.9,1229.1 895.6,1232.4 896.3,1233 897,1232.5 897.7,1232.8 898.4,1232.9 899.1,1235.2 899.8,1233.2 900.5,1231.5 901.2,1232.1 901.9,1234.5 902.6,1235.2 903.3,1235 904,1235.4 904.7,1234.8 905.4,1232.9 906.1,1234.1 906.8,1233 907.5,1235 908.2,1234 908.9,1236 909.6,1235.9 910.3,1233.9 911,1237.5 911.7,1237.7 912.4,1235.2 913.1,1237.3 913.8,1238.2 914.5,1237.1 915.2,1238.7 915.9,1238 916.6,1239.2 917.3,1238.3 918,1237.9 918.7,1238.9 919.4,1239.3 920.1,1238.7 920.8,1237.9 921.5,1237.5 922.2,1238.1 922.9,1237.9 923.6,1238.9 924.3,1238.9 925,1238.6 925.7,1238.8 926.4,1239 927.1,1240.8 927.8,1240.4 928.5,1238.2 929.2,1239.5 929.9,1238.6 930.6,1238.9 931.3,1238.8 932,1238.3 932.7,1237.5 933.4,1236.2 934.1,1239.5 934.8,1240.7 935.5,1238.1 936.2,1239.9 936.9,1238.8 937.6,1239.7 938.3,1238.4 939,1239.1 939.7,1239.3 940.4,1236.5 941.1,1239.7 941.8,1239.3 942.5,1236.6 943.2,1240.4 943.9,1239.5 944.6,1239.8 945.3,1240.1 946,1239.1 946.7,1238.3 947.4,1239.1 948.1,1239.1 948.8,1242.5 949.5,1242 950.2,1239.1 950.9,1239.2 951.6,1240.2 952.3,1240.5 953,1238.9 953.7,1238.6 954.4,1242.3 955.1,1241.2 955.8,1237.9 956.5,1237.7 957.2,1238.9 957.9,1240.2 958.6,1240.6 959.3,1239.5 960,1237.9 960.7,1240.3 961.4,1240.8 962.1,1240 962.8,1239.4 963.5,1240.8 964.2,1240 964.9,1238.7 965.6,1240.2 966.3,1238.5 967,1241.3 967.7,1240.7 968.4,1238.9 969.1,1240.4 969.8,1241.8 970.5,1237.5 971.2,1240 971.9,1242.3 972.6,1238.3 973.3,1240 974,1238.4 974.7,1240.2 975.4,1237.3 976.1,1238.2 976.8,1239.6 977.5,1240.5 978.2,1240.8 978.9,1240.9 979.6,1241.8 980.3,1241.2 981,1241.3 981.7,1239.1 982.4,1240.2 983.1,1243.4 983.8,1243.3 984.5,1241.5 985.2,1241.4 985.9,1241.7 986.6,1239.9 987.3,1243 988,1240 988.7,1240.4 989.4,1243.3 990.1,1237.9 990.8,1241 991.5,1238.3 992.2,1239.7 992.9,1240.4 993.6,1240.1 994.3,1240.8 995,1239.6 995.7,1240.5 996.4,1239.1 997.1,1240.1 997.8,1238.8 998.5,1241.5 999.2,1239 999.9,1241.5 1000.6,1240.1 1001.3,1240.3 1002,1242.2 1002.7,1240.8 1003.4,1238.3 1004.1,1241.4 1004.8,1237.8 1005.5,1241.1 1006.2,1240.2 1006.9,1239 1007.6,1240.9 1008.3,1240.4 1009,1243.4 1009.7,1240.2 1010.4,1243.3 1011.1,1242.6 1011.8,1240 1012.5,1239.8 1013.2,1242.5 1013.9,1240.7 1014.6,1241.1 1015.3,1240.6 1016,1239.3 1016.7,1240.4 1017.4,1239.7 1018.1,1239 1018.8,1240.6 1019.5,1243.3 1020.2,1243 1020.9,1240.9 1021.6,1241.2 1022.3,1241.7 1023,1242.8 1023.7,1241.4 1024.4,1240.4 1025.1,1240.6 1025.8,1242.5 1026.5,1244.1 1027.2,1240.3 1027.9,1238.5 1028.6,1242.2 1029.3,1241.1 1030,1241.3 1030.7,1242.8 1031.4,1241.3 1032.1,1239.5 1032.8,1238.7 1033.5,1241.2 1034.2,1239.8 1034.9,1241.7 1035.6,1239.7 1036.3,1240.9 1037,1239.4 1037.7,1240.9 1038.4,1240.8 1039.1,1242.2 1039.8,1243.2 1040.5,1241.2 1041.2,1240.3 1041.9,1244 1042.6,1242 1043.3,1242.3 1044,1242.3 1044.7,1243.4 1045.4,1242.9 1046.1,1242.4 1046.8,1242.6 1047.5,1240.5 1048.2,1240.8 1048.9,1241.5 1049.6,1241.8 1050.3,1241.7 1051,1242.1 1051.7,1241.7 1052.4,1241.2 1053.1,1239.6 1053.8,1242.8 1054.5,1242.5 1055.2,1240.6 1055.9,1242.4 1056.6,1242.3 1057.3,1241.9 1058,1239.4 1058.7,1240.3 1059.4,1241.1 1060.1,1243.9 1060.8,1240.8 1061.5,1241.4 1062.2,1240.4 1062.9,1241.3 1063.6,1242.3 1064.3,1239.2 1065,1239 1065.7,1242.8 1066.4,1242 1067.1,1241.2 1067.8,1243.2 1068.5,1243.2 1069.2,1239.2 1069.9,1241.7 1070.6,1243.4 1071.3,1241.1 1072,1241.6 1072.7,1243.2 1073.4,1241.6 1074.1,1240.3 1074.8,1240.8 1075.5,1239.6 1076.2,1241.6 1076.9,1238.1 1077.6,1241.1 1078.3,1237.1 1079,1238.8 1079.7,1236.3 1080.4,1237.3 1081.1,1238.4 1081.8,1237.9 1082.5,1237.5 1083.2,1235 1083.9,1234.6 1084.6,1234.1 1085.3,1234.1 1086,1232.3 1086.7,1234 1087.4,1232.9 1088.1,1234.2 1088.8,1233.9 1089.5,1235 1090.2,1234.2 1090.9,1235.7 1091.6,1235.7 1092.3,1237.9 1093,1238.7 1093.7,1240.6 1094.4,1238.5 1095.1,1243.7 1095.8,1241 1096.5,1243.2 1097.2,1243.2 1097.9,1239 1098.6,1241.7 1099.3,1244 1100,1239.1 1100.7,1243.1 1101.4,1241 1102.1,1241.6 1102.8,1242.5 1103.5,1239.9 1104.2,1242.6 1104.9,1241.5 1105.6,1241.4 1106.3,1243.3 1107,1245.5 1107.7,1242.9 1108.4,1243.2 1109.1,1242.5 1109.8,1241.6 1110.5,1242.9 1111.2,1244.6 1111.9,1242.9 1112.6,1243.8 1113.3,1242.4 1114,1245.7 1114.7,1240.6 1115.4,1243.5 1116.1,1243.5 1116.8,1243.1 1117.5,1241.4 1118.2,1241.3 1118.9,1242.5 1119.6,1243 1120.3,1241.3 1121,1241.5 1121.7,1243.6 1122.4,1244.3 1123.1,1242.2 1123.8,1242 1124.5,1242 1125.2,1246 1125.9,1243.6 1126.6,1242.9 1127.3,1244.3 1128,1246 1128.7,1244.6 1129.4,1241.2 1130.1,1242.9 1130.8,1242.5 1131.5,1242.6 1132.2,1241.5 1132.9,1242.6 1133.6,1241.7 1134.3,1243.5 1135,1243.2 1135.7,1241.3 1136.4,1240.9 1137.1,1242.5 1137.8,1244 1138.5,1243.8 1139.2,1243.1 1139.9,1240.2 1140.6,1242.5 1141.3,1242.2 1142,1242.8 1142.7,1241.6 1143.4,1242.6 1144.1,1242.4 1144.8,1246.3 1145.5,1244.2 1146.2,1243 1146.9,1243.2 1147.6,1243.1 1148.3,1243.5 1149,1242.7 1149.7,1243.3 1150.4,1244.6 1151.1,1244.4 1151.8,1243.7 1152.5,1245.1 1153.2,1243.6 1153.9,1242.1 1154.6,1241.1 1155.3,1242.5 1156,1243.3 1156.7,1243.9 1157.4,1244.8 1158.1,1242.7 1158.8,1242.4 1159.5,1244.4 1160.2,1245 1160.9,1242.8 1161.6,1243.9 1162.3,1245.3 1163,1243.9 1163.7,1243.4 1164.4,1240.8 1165.1,1245.3 1165.8,1244.4 1166.5,1243.7 1167.2,1243 1167.9,1242 1168.6,1243.5 1169.3,1243.5 1170,1245.1 1170.7,1242.1 1171.4,1245.5 1172.1,1243.7 1172.8,1245.2 1173.5,1242.4 1174.2,1244.2 1174.9,1245.3 1175.6,1243.9 1176.3,1241.8 1177,1243.3 1177.7,1244.5 1178.4,1242 1179.1,1241.9 1179.8,1244.1 1180.5,1242.6 1181.2,1244.7 1181.9,1242.3 1182.6,1241.5 1183.3,1242.9 1184,1245.8 1184.7,1242.8 1185.4,1243.9 1186.1,1244.3 1186.8,1242.7 1187.5,1245.4 1188.2,1244.2 1188.9,1244.6 1189.6,1241.8 1190.3,1241.7 1191,1241.1 1191.7,1243.8 1192.4,1243.7 1193.1,1245 1193.8,1246 1194.5,1243.7 1195.2,1243.7 1195.9,1244.7 1196.6,1246.1 1197.3,1243.1 1198,1245 1198.7,1243.8 1199.4,1243.7 1200.1,1245.2 1200.8,1243.2 1201.5,1242.8 1202.2,1245.1 1202.9,1244.2 1203.6,1243.9 1204.3,1244.1 1205,1244.9 1205.7,1243.8 1206.4,1245.3 1207.1,1244.8 1207.8,1246.2 1208.5,1246 1209.2,1245.4 1209.9,1244.1 1210.6,1244.5 1211.3,1243.6 1212,1247.4 1212.7,1244.1 1213.4,1245.1 1214.1,1246.2 1214.8,1242.6 1215.5,1243.3 1216.2,1243.9 1216.9,1243.1 1217.6,1242.8 1218.3,1243.8 1219,1246.2 1219.7,1245.4 1220.4,1244.5 1221.1,1244.5 1221.8,1242.4 1222.5,1245.4 1223.2,1245.1 1223.9,1243.1 1224.6,1244.8 1225.3,1244.3 1226,1243.9 1226.7,1243.3 1227.4,1243.7 1228.1,1243.4 1228.8,1245.2 1229.5,1245.1 1230.2,1245.1 1230.9,1244.4 1231.6,1244.1 1232.3,1247.3 1233,1242.3 1233.7,1246.3 1234.4,1245.2 1235.1,1244.8 1235.8,1244.1 1236.5,1244.5 1237.2,1243.2 1237.9,1243 1238.6,1244.6 1239.3,1242.6 1240,1245.9 1240.7,1246.3 1241.4,1241.9 1242.1,1242.8 1242.8,1245.2 1243.5,1245.1 1244.2,1245 1244.9,1245.4 1245.6,1245.9 1246.3,1246 1247,1247.2 1247.7,1245 1248.4,1246.1 1249.1,1242.8 1249.8,1244.8 1250.5,1243.4 1251.2,1246.8 1251.9,1248 1252.6,1245.7 1253.3,1243.3 1254,1244.9 1254.7,1245.1 1255.4,1245.3 1256.1,1246.5 1256.8,1246.3 1257.5,1242.1 1258.2,1246.9 1258.9,1244.5 1259.6,1244.4 1260.3,1247 1261,1244.8 1261.7,1243.4 1262.4,1243.5 1263.1,1245.3 1263.8,1246.4 1264.5,1247.2 1265.2,1245 1265.9,1244.6 1266.6,1247.4 1267.3,1244.7 1268,1247.2 1268.7,1245.6 1269.4,1245.6 1270.1,1245 1270.8,1245.7 1271.5,1244.7 1272.2,1244.5 1272.9,1245.2 1273.6,1244.5 1274.3,1245.8 1275,1245.5 1275.7,1245.1 1276.4,1245.2 1277.1,1245.1 1277.8,1247.7 1278.5,1245.5 1279.2,1244.7 1279.9,1245.1 1280.6,1246.4 1281.3,1245.3 1282,1245.3 1282.7,1245.2 1283.4,1245.8 1284.1,1246.1 1284.8,1246.2 1285.5,1243.5 1286.2,1244.2 1286.9,1242.7 1287.6,1246.7 1288.3,1247.1 1289,1247.4 1289.7,1245.9 1290.4,1247.2 1291.1,1245.7 1291.8,1245.6 1292.5,1243.7 1293.2,1244.7 1293.9,1245 1294.6,1247 1295.3,1248 1296,1245.2 1296.7,1246.3 1297.4,1246.2 1298.1,1244.8 1298.8,1243.6 1299.5,1244.9 1300.2,1244 1300.9,1245.5 1301.6,1245.7 1302.3,1245.7 1303,1245.7 1303.7,1246.6 1304.4,1244.8 1305.1,1247.1 1305.8,1243.8 1306.5,1246.1 1307.2,1246.5 1307.9,1245 1308.6,1244 1309.3,1246.9 1310,1245.2 1310.7,1247.1 1311.4,1247.1 1312.1,1246.1 1312.8,1246.1 1313.5,1247.4 1314.2,1246.6 1314.9,1245 1315.6,1246.4 1316.3,1246.9 1317,1246.5 1317.7,1246.5 1318.4,1246 1319.1,1246.1 1319.8,1245.1 1320.5,1244.4 1321.2,1247.7 1321.9,1245.5 1322.6,1246.6 1323.3,1244.4 1324,1246.5 1324.7,1245.3 1325.4,1249.4 1326.1,1245.1 1326.8,1245.1 1327.5,1247.6 1328.2,1247.9 1328.9,1243.7 1329.6,1246.8 1330.3,1247.6 1331,1244.9 1331.7,1247.4 1332.4,1245.8 1333.1,1245.2 1333.8,1246.1 1334.5,1245.9 1335.2,1244.7 1335.9,1249.4 1336.6,1246 1337.3,1245.6 1338,1247.7 1338.7,1246.5 1339.4,1248.3 1340.1,1246.3 1340.8,1247.1 1341.5,1246.8 1342.2,1246.9 1342.9,1246.4 1343.6,1246.5 1344.3,1248.8 1345,1245.8 1345.7,1246 1346.4,1246.3 1347.1,1247.5 1347.8,1247.3 1348.5,1248 1349.2,1245 1349.9,1247.1 1350.6,1246.5 1351.3,1246.4 1352,1247 1352.7,1244.3 1353.4,1247.2 1354.1,1247 1354.8,1245 1355.5,1246.7 1356.2,1248.8 1356.9,1246.4 1357.6,1247.6 1358.3,1246.6 1359,1245.8 1359.7,1245.7 1360.4,1246.4 1361.1,1248.6 1361.8,1248 1362.5,1246 1363.2,1248.2 1363.9,1246.8 1364.6,1246.1 1365.3,1247.5 1366,1245.8 1366.7,1245 1367.4,1248.6 1368.1,1244.6 1368.8,1247.7 1369.5,1245 1370.2,1247 1370.9,1246.8 1371.6,1246.5 1372.3,1244.2 1373,1246.9 1373.7,1247 1374.4,1245.9 1375.1,1247 1375.8,1248.3 1376.5,1246.1 1377.2,1247.4 1377.9,1245.6 1378.6,1247.6 1379.3,1247.9 1380,1250.1 1380.7,1248.3 1381.4,1247.7 1382.1,1248.9 1382.8,1245.8 1383.5,1248.5 1384.2,1246.4 1384.9,1246.3 1385.6,1248.5 1386.3,1247.4 1387,1248.8 1387.7,1245.3 1388.4,1247.5 1389.1,1246.5 1389.8,1246.8 1390.5,1244.7 1391.2,1248.4 1391.9,1247.4 1392.6,1245.9 1393.3,1245.4 1394,1246.1 1394.7,1249 1395.4,1247 1396.1,1246.7 1396.8,1247.8 1397.5,1247.2 1398.2,1247.5 1398.9,1248.1 1399.6,1247.6 1400.3,1248.3 1401,1245.7 1401.7,1247.3 1402.4,1246.7 1403.1,1247.3 1403.8,1247.1 1404.5,1246.4 1405.2,1246.7 1405.9,1248.4 1406.6,1246.5 1407.3,1245.6 1408,1247.9 1408.7,1248.4 1409.4,1246.8 1410.1,1247.3 1410.8,1246.1 1411.5,1246.9 1412.2,1248.6 1412.9,1248.2 1413.6,1247.4 1414.3,1246.8 1415,1245.1 1415.7,1247.6 1416.4,1247.8 1417.1,1248.5 1417.8,1249.8 1418.5,1247.7 1419.2,1248.4 1419.9,1245.8 1420.6,1248.7 1421.3,1248.3 1422,1248.9 1422.7,1248 1423.4,1247.8 1424.1,1249.1 1424.8,1246.3 1425.5,1248 1426.2,1248.6 1426.9,1246.2 1427.6,1245.7 1428.3,1247.7 1429,1247.3 1429.7,1248 1430.4,1248 1431.1,1246.2 1431.8,1247.6 1432.5,1248.6 1433.2,1246.7 1433.9,1246.8 1434.6,1245.8 1435.3,1248.2 1436,1249.7 1436.7,1245.5 1437.4,1248.2 1438.1,1248.3 1438.8,1246.5 1439.5,1246.7 1440.2,1245.9 1440.9,1246.2 1441.6,1247.4 1442.3,1248 1443,1247.3 1443.7,1248.3 1444.4,1247.4 1445.1,1245.7 1445.8,1249 1446.5,1248.7 1447.2,1246.3 1447.9,1249.4 1448.6,1247.8 1449.3,1247.3 1450,1249.6 1450.7,1244.2 1451.4,1245.1 1452.1,1248.1 1452.8,1246.9 1453.5,1246 1454.2,1249.1 1454.9,1247.8 1455.6,1245.6 1456.3,1246.3 1457,1248.2 1457.7,1249.4 1458.4,1244.6 1459.1,1247.5 1459.8,1246.7 1460.5,1244.9 1461.2,1246.9 1461.9,1245.1 1462.6,1246.5 1463.3,1249.2 1464,1247.8 1464.7,1248.1 1465.4,1247.9 1466.1,1247.6 1466.8,1248.4 1467.5,1245.7 1468.2,1246.7 1468.9,1248.2 1469.6,1246.2 1470.3,1246.6 1471,1248.7 1471.7,1249.1 1472.4,1246.4 1473.1,1246.1 1473.8,1247.9 1474.5,1247.5 1475.2,1246.3 1475.9,1247.9 1476.6,1247.8 1477.3,1247.2 1478,1250.1 1478.7,1248.9 1479.4,1248.2 1480.1,1248.4 1480.8,1250.1 1481.5,1248.5 1482.2,1246.2 1482.9,1247.5 1483.6,1247.2 1484.3,1246.4 1485,1247.4 1485.7,1247.4 1486.4,1247 1487.1,1246.5 1487.8,1248.2 1488.5,1245.1 1489.2,1248.1 1489.9,1247.1 1490.6,1247.4 1491.3,1244.1 1492,1249.2 1492.7,1244.9 1493.4,1246 1494.1,1247.9 1494.8,1246.3 1495.5,1246.6 1496.2,1244.2 1496.9,1246.5 1497.6,1247.3 1498.3,1247.9 1499,1246.7 1499.7,1247.3 1500.4,1247.6 1501.1,1246.2 1501.8,1246.1 1502.5,1249.5 1503.2,1246 1503.9,1248.6 1504.6,1247.1 1505.3,1248.9 1506,1246.2 1506.7,1247.7 1507.4,1247.4 1508.1,1246.7 1508.8,1247.4 1509.5,1246 1510.2,1246.9 1510.9,1246.5 1511.6,1248 1512.3,1246.9 1513,1245.2 1513.7,1246.5 1514.4,1246.8 1515.1,1245.8 1515.8,1248.7 1516.5,1247.5 1517.2,1248 1517.9,1246 1518.6,1246.4 1519.3,1248.2 1520,1245.1 1520.7,1247.4 1521.4,1247 1522.1,1246.2 1522.8,1247 1523.5,1245.5 1524.2,1247.1 1524.9,1245.3 1525.6,1245.2 1526.3,1248.6 1527,1245.9 1527.7,1244.1 1528.4,1248 1529.1,1245.8 1529.8,1243.7 1530.5,1246.6 1531.2,1247.9 1531.9,1247.1 1532.6,1248.9 1533.3,1246.5 1534,1247.4 1534.7,1245.3 1535.4,1246.8 1536.1,1248.5 1536.8,1247.2 1537.5,1246.7 1538.2,1244 1538.9,1246 1539.6,1244.8 1540.3,1247.4 1541,1245.4 1541.7,1246.8 1542.4,1245 1543.1,1248.7 1543.8,1244.8 1544.5,1246.4 1545.2,1249.1 1545.9,1246.4 1546.6,1245 1547.3,1246.9 1548,1247.3 1548.7,1247.1 1549.4,1243.2 1550.1,1245.7 1550.8,1242.3 1551.5,1247 1552.2,1244.2 1552.9,1243 1553.6,1243.9 1554.3,1243.2 1555,1240.5 1555.7,1243.6 1556.4,1240.6 1557.1,1238 1557.8,1241.3 1558.5,1240.8 1559.2,1239.9 1559.9,1238.6 1560.6,1236.5 1561.3,1238.8 1562,1240.3 1562.7,1239.5 1563.4,1241.2 1564.1,1239 1564.8,1242.2 1565.5,1242.9 1566.2,1240.5 1566.9,1240.9 1567.6,1242.5 1568.3,1244 1569,1244.9 1569.7,1244.4 1570.4,1245 1571.1,1245.3 1571.8,1245.9 1572.5,1246.8 1573.2,1246.9 1573.9,1246.4 1574.6,1246.9 1575.3,1246 1576,1247.6 1576.7,1245.9 1577.4,1248.7 1578.1,1246.5 1578.8,1246.9 1579.5,1245.6 1580.2,1246.1 1580.9,1246.8 1581.6,1246.6 1582.3,1245.8 1583,1245.1 1583.7,1246.6 1584.4,1246.8 1585.1,1247.3 1585.8,1248.2 1586.5,1246.2 1587.2,1244 1587.9,1246.4 1588.6,1244.2 1589.3,1244.9 1590,1247.9 1590.7,1247.3 1591.4,1245.7 1592.1,1245.8 1592.8,1246.5 1593.5,1244.3 1594.2,1247.2 1594.9,1246.1 1595.6,1248.9 1596.3,1245.2 1597,1247.9 1597.7,1245.7 1598.4,1247.9 1599.1,1245.3 1599.8,1247.5 1600.5,1246 1601.2,1245.5 1601.9,1246.4 1602.6,1247.2 1603.3,1247.1 1604,1248.6 1604.7,1247.6 1605.4,1243.5 1606.1,1246.1 1606.8,1244 1607.5,1246.1 1608.2,1247.4 1608.9,1244.8 1609.6,1245 1610.3,1246.8 1611,1246.2 1611.7,1248.6 1612.4,1247 1613.1,1247.3 1613.8,1248.8 1614.5,1245.9 1615.2,1246.6 1615.9,1245.3 1616.6,1246.9 1617.3,1247.9 1618,1248.3 1618.7,1246.5 1619.4,1245.7 1620.1,1245.6 1620.8,1244.8 1621.5,1246.7 1622.2,1248.3 1622.9,1243.5 1623.6,1243.7 1624.3,1248.3 1625,1244.4 1625.7,1246.9 1626.4,1244.8 1627.1,1247.5 1627.8,1247.4 1628.5,1246.6 1629.2,1247.4 1629.9,1246.4 1630.6,1247 1631.3,1248.6 1632,1247.7 1632.7,1245.4 1633.4,1245.1 1634.1,1245.8 1634.8,1245.8 1635.5,1246.1 1636.2,1245.2 1636.9,1246.8 1637.6,1246 1638.3,1246.3 1639,1245.8 1639.7,1246.6 1640.4,1244.2 1641.1,1247.7 1641.8,1246.1 1642.5,1246.2 1643.2,1246.3 1643.9,1246.9 1644.6,1246.4 1645.3,1245.7 1646,1245.1 1646.7,1243.2 1647.4,1245.5 1648.1,1244.8 1648.8,1244.7 1649.5,1248 1650.2,1242.6 1650.9,1245.1 1651.6,1246.5 1652.3,1246.1 1653,1246.5 1653.7,1243.2 1654.4,1243.5 1655.1,1245.5 1655.8,1244.3 1656.5,1246.9 1657.2,1244.9 1657.9,1244.8 1658.6,1245.1 1659.3,1244.1 1660,1244.6 1660.7,1243.5 1661.4,1244.3 1662.1,1243.7 1662.8,1244.6 1663.5,1242.4 1664.2,1242.3 1664.9,1244.8 1665.6,1244.5 1666.3,1242.9 1667,1243.9 1667.7,1242.8 1668.4,1246.8 1669.1,1242.1 1669.8,1246.3 1670.5,1243 1671.2,1244.7 1671.9,1243.8 1672.6,1243.6 1673.3,1245.3 1674,1245.2 1674.7,1243.8 1675.4,1243 1676.1,1246.9 1676.8,1246.1 1677.5,1244.5 1678.2,1243.9 1678.9,1244.8 1679.6,1244.5 1680.3,1246 1681,1243.3 1681.7,1244.6 1682.4,1243.6 1683.1,1246.4 1683.8,1247.1 1684.5,1244.7 1685.2,1245.6 1685.9,1246.8 1686.6,1244.7 1687.3,1243.9 1688,1246.6 1688.7,1245.9 1689.4,1245.1 1690.1,1247.3 1690.8,1245.8 1691.5,1243.2 1692.2,1246.1 1692.9,1245.6 1693.6,1248.2 1694.3,1245.8 1695,1245.6 1695.7,1246.5 1696.4,1246.3 1697.1,1244.2 1697.8,1246.2 1698.5,1245.6 1699.2,1247.9 1699.9,1249 1700.6,1244.7 1701.3,1244.9 1702,1245.1 1702.7,1245.3 1703.4,1245.3 1704.1,1246.3 1704.8,1247.7 1705.5,1244.6 1706.2,1244.3 1706.9,1243.9 1707.6,1247.8 1708.3,1248.1 1709,1244.4 1709.7,1244.3 1710.4,1246.6 1711.1,1247.8 1711.8,1247.8 1712.5,1246.7 1713.2,1247.4 1713.9,1246.9 1714.6,1245.8 1715.3,1249 1716,1246.5 1716.7,1245.1 1717.4,1246 1718.1,1244.6 1718.8,1246.6 1719.5,1248.1 1720.2,1245 1720.9,1248.1 1721.6,1249.4 1722.3,1247.2 1723,1245.2 1723.7,1245.6 1724.4,1246.3 1725.1,1245.1 1725.8,1245.1 1726.5,1246.4 1727.2,1246.6 1727.9,1247.6 1728.6,1245.3 1729.3,1249.3 1730,1248.2 1730.7,1248 1731.4,1246 1732.1,1249.1 1732.8,1246.4 1733.5,1249.3 1734.2,1248.3 1734.9,1245.8 1735.6,1246.3 1736.3,1249.4 1737,1248.3 1737.7,1246.8 1738.4,1247.2 1739.1,1247.2 1739.8,1246 1740.5,1246.7 1741.2,1246.2 1741.9,1246.5 1742.6,1247.6 1743.3,1245.8 1744,1248 1744.7,1247.2 1745.4,1248 1746.1,1248.2 1746.8,1248.7 1747.5,1247.9 1748.2,1248 1748.9,1246.8 1749.6,1247.8 1750.3,1245.9 1751,1246.8 1751.7,1248.1 1752.4,1247 1753.1,1247.7 1753.8,1245.7 1754.5,1248.9 1755.2,1246.4 1755.9,1247.6 1756.6,1247.1 1757.3,1248.3 1758,1246.6 1758.7,1245.8 1759.4,1244.7 1760.1,1246.7 1760.8,1245.6 1761.5,1247.8 1762.2,1249 1762.9,1244.2 1763.6,1245.4 1764.3,1247.5 1765,1248.7 1765.7,1247.5 1766.4,1247.5 1767.1,1247.8 1767.8,1247.9 1768.5,1249.3 1769.2,1247.9 1769.9,1245.5 1770.6,1246.5 1771.3,1247.4 1772,1246.1 1772.7,1246.8 1773.4,1246.4 1774.1,1246.2 1774.8,1248 1775.5,1246.6 1776.2,1245.7 1776.9,1246.2 1777.6,1247.2 1778.3,1249.9 1779,1247.5 1779.7,1249.1 1780.4,1247.8 1781.1,1244.3 1781.8,1247.6 1782.5,1246 1783.2,1245.3 1783.9,1245.7 1784.6,1249.5 1785.3,1245.1 1786,1246.3 1786.7,1248.6 1787.4,1248 1788.1,1244.9 1788.8,1247 1789.5,1246.4 1790.2,1246.9 1790.9,1248.1 1791.6,1246.4 1792.3,1246.7 1793,1249 1793.7,1244.7 1794.4,1246.6 1795.1,1247.7 1795.8,1245.5 1796.5,1246.3 1797.2,1245.4 1797.9,1247.3 1798.6,1246.3 1799.3,1248.1 1800,1248.4 1800.7,1247.1 1801.4,1246.6 1802.1,1247.4 1802.8,1247.2 1803.5,1245.5 1804.2,1248.5 1804.9,1247.4 1805.6,1248.1 1806.3,1245.3 1807,1248.2 1807.7,1249.8 1808.4,1247.9 1809.1,1245.2 1809.8,1247.1 1810.5,1247 1811.2,1247.3 1811.9,1246.7 1812.6,1247.7 1813.3,1246.4 1814,1247.3 1814.7,1246.1 1815.4,1247.2 1816.1,1248.3 1816.8,1246.4 1817.5,1247.9" fill="none" stroke="#7220a4" stroke-width="4.2" stroke-linejoin="round" stroke-linecap="butt" stroke-linecap="round"/>
</g>
<g id="markers">
<polygon points="494.6,873.8 533.7,873.8 514.1,910.6" fill="none" stroke="#000" stroke-width="4.8" stroke-linejoin="miter"/>
<circle cx="566.7" cy="2009.8" r="17.2" fill="none" stroke="#000" stroke-width="5.0"/>
<circle cx="655.2" cy="2035.8" r="18.0" fill="none" stroke="#000" stroke-width="5.0"/>
<circle cx="947.5" cy="2036" r="18.2" fill="none" stroke="#000" stroke-width="5.0"/>
<polygon points="1067.8,2028.7 1105.2,2028.7 1086.5,2065.2" fill="none" stroke="#000" stroke-width="4.8" stroke-linejoin="miter"/>
<circle cx="1133.6" cy="2049" r="18.5" fill="none" stroke="#000" stroke-width="5.0"/>
<polygon points="1547.0,2027.6 1586.2,2027.6 1566.6,2065.5" fill="none" stroke="#000" stroke-width="4.8" stroke-linejoin="miter"/>
</g>
<g id="labels" font-family="'Liberation Sans', sans-serif" fill="#0b0b0b" stroke="#0b0b0b" stroke-width="0.35" stroke-linejoin="round">
<text transform="translate(137.78,2224.30) scale(1.0533,1)" font-size="65.5">10</text>
<text transform="translate(346.40,2224.30) scale(1.0388,1)" font-size="65.5">20</text>
<text transform="translate(550.56,2224.30) scale(1.0465,1)" font-size="65.5">30</text>
<text transform="translate(756.56,2224.30) scale(1.0265,1)" font-size="65.5">40</text>
<text transform="translate(960.49,2224.30) scale(1.0331,1)" font-size="65.5">50</text>
<text transform="translate(1164.56,2224.30) scale(1.0507,1)" font-size="65.5">60</text>
<text transform="translate(1369.74,2224.30) scale(1.0552,1)" font-size="65.5">70</text>
<text transform="translate(1573.61,2224.30) scale(1.0643,1)" font-size="65.5">80</text>
<text transform="translate(1777.28,2224.30) scale(1.0747,1)" font-size="65.5">90</text>
<text transform="translate(880.81,2357.50) scale(1.0427,1)" font-size="65">2θ (°)</text>
<text transform="translate(96.30,1321.81) rotate(-90) scale(1.0539,1)" font-size="65.5">Intensity (a.u.)</text>
<text transform="translate(1724.74,1218.30) scale(0.9677,1)" font-size="79">d</text>
<text transform="translate(1725.07,1500.30) scale(0.8766,1)" font-size="78">c</text>
<text transform="translate(1728.82,1772.60) scale(0.9724,1)" font-size="79">b</text>
<text transform="translate(1725.99,2065.00) scale(0.7396,1)" font-size="78">a</text>
<text transform="translate(1575.60,124.60) scale(0.7893,1)" font-size="66">CF</text>
<text transform="translate(1575.14,210.80) scale(0.9279,1)" font-size="66">CeZrO<tspan dx="1.2" dy="17.2" font-size="48">2</tspan></text>
<text transform="translate(1575.54,290.40) scale(1.0748,1)" font-size="63.5">Ni</text>
<text transform="translate(1580.80,370.00) scale(0.9853,1)" font-size="66">PtO</text>
</g>
<g id="legend">
<polygon points="1508.4,80.7 1545.8,80.7 1527.1,122.8" fill="none" stroke="#000" stroke-width="5.2" stroke-linejoin="miter"/>
<circle cx="1525.9" cy="183.9" r="18.8" fill="none" stroke="#000" stroke-width="5.0"/>
<circle cx="1525.9" cy="258" r="20.6" fill="#000"/>
<polygon points="1522.0,301.1 1530.6,326.2 1556.6,326.8 1535.8,342.8 1543.4,368.3 1522.0,353.1 1500.6,368.3 1508.2,342.8 1487.4,326.8 1513.4,326.2" fill="#000"/>
</g>
<g id="in1">
<rect x="206" y="118.6" width="345.29999999999995" height="620.6" fill="#fff"/>
<line x1="214" y1="116.6" x2="551.3" y2="116.6" stroke="#b4b4b4" stroke-width="3.3" stroke-dasharray="11 8.2"/>
<line x1="214" y1="741.2" x2="551.3" y2="741.2" stroke="#b4b4b4" stroke-width="3.3" stroke-dasharray="11 8.2"/>
<line x1="204" y1="114.8" x2="204" y2="742.2" stroke="#787878" stroke-width="2.5" stroke-dasharray="11 8.2" stroke-dashoffset="3.2"/>
<line x1="553.3" y1="128.6" x2="553.3" y2="739.2" stroke="#787878" stroke-width="2.5" stroke-dasharray="11 8.2"/>
<path d="M243,306.1 244.3,306.9 245.6,306.5 246.9,306.4 248.2,306 249.5,305.1 250.8,306.4 252.1,306.8 253.4,305.6 254.7,304.5 256,305.5 257.3,305.4 258.6,305.1 259.9,305.4 261.2,305.1 262.5,306.5 263.8,307.3 265.1,306.4 266.4,304.7 267.7,304.4 269,305 270.3,304.7 271.6,305.3 272.9,304.3 274.2,303.7 275.5,304.6 276.8,303.9 278.1,304.6 279.4,304.2 280.7,303.2 282,303.8 283.3,302.5 284.6,301.5 285.9,302.1 287.2,303.2 288.5,304.1 289.8,303.9 291.1,303.4 292.4,301.8 293.7,301.7 295,302.6 296.3,303.1 297.6,304 298.9,304.6 300.2,304.2 301.5,303.4 302.8,302.5 304.1,302.1 305.4,302.1 306.7,302.6 308,302.7 309.3,302.3 310.6,302.6 311.9,302.6 313.2,303.4 314.5,303.5 315.8,303.6 317.1,303.5 318.4,304.2 319.7,304.6 321,304.4 322.3,306 323.6,304.2 324.9,302.5 326.2,303.7 327.5,304.8 328.8,304.5 330.1,303.9 331.4,303.6 332.7,303.5 334,303 335.3,302.8 336.6,301.6 337.9,299.8 339.2,302.1 340.5,303 341.8,301.2 343.1,302.1 344.4,302.9 345.7,302.1 347,301.1 348.3,300.7 349.6,301.1 350.9,299.8 352.2,299.7 353.5,300.4 354.8,300.7 356.1,301.4 357.4,300.3 358.7,299.1 360,299.5 361.3,300.1 362.6,299.7 363.9,299.2 365.2,299.7 366.5,299.9 367.8,300.2 369.1,300 370.4,298.8 371.7,297.7 373,298.6 374.3,299.4 375.6,298.7 376.9,298.7 378.2,298.1 379.5,298 380.8,297.5 382.1,297.6 383.4,298.7 384.7,300.1 386,301 387.3,300.1 388.6,300.1 389.9,300.8 391.2,300.5 392.5,300.2 393.8,300.6 395.1,302.3 396.4,302.6 397.7,300.3 399,300.8 400.3,303.3 401.6,302.4 402.9,302.8 404.2,303.2 405.5,301.6 406.8,301.1 408.1,300.2 409.4,299.5 410.7,298.8 412,298 413.3,298.9 414.6,299.1 415.9,298.4 417.2,298.9 418.5,298.1 419.8,297.7 421.1,297.9 422.4,297.4 423.7,297.4 425,297.7 426.3,297.3 427.6,297 428.9,297.6 430.2,298.9 431.5,300.8 432.8,302.2 434.1,302.3 435.4,302.5 436.7,302.8 438,303.2 439.3,303.2 440.6,302.8 441.9,302.4 443.2,301.9 444.5,302.9 445.8,301.9 447.1,300.5 448.4,300.4 449.7,300.5 451,301.5 452.3,300.4 453.6,297.5 454.9,297.7 456.2,299.3 457.5,297.9 458.8,297.2 460.1,298 461.4,296.7 462.7,297 464,298.4 465.3,298 466.6,297.1 467.9,296.4 469.2,296.6 470.5,297.1 471.8,296.8 473.1,297.2 474.4,297.9 475.7,295.7 477,296.2 478.3,297.4 479.6,295.9 480.9,295.6 482.2,294.5 483.5,294.1 484.8,293.2 486.1,291.9 487.4,293.4 488.7,294 490,292.5 491.3,290.7 492.6,290.9 493.9,291 495.2,290.3 496.5,290.5 497.8,289.5 499.1,289.3 500.4,288.5 501.7,288.7 503,288.8 504.3,287.4 505.6,287.8 506.9,288.4 508.2,289.1 509.5,288.8 510.8,288.6 512.1,288.6 512.6,288.3" fill="none" stroke="#7220a4" stroke-width="7.5" stroke-linejoin="round" stroke-linecap="butt"/>
<path d="M243,419.6 244.3,419.1 245.6,418.9 246.9,418.5 248.2,417.5 249.5,416.5 250.8,415.8 252.1,417.1 253.4,418.6 254.7,417.1 256,416.5 257.3,417.6 258.6,418.8 259.9,418.4 261.2,417.9 262.5,419.2 263.8,418.5 265.1,417.7 266.4,419 267.7,419.2 269,420.7 270.3,421.8 271.6,420.8 272.9,419.8 274.2,420.2 275.5,421.1 276.8,420.3 278.1,419.7 279.4,419.2 280.7,419.4 282,420.7 283.3,421.3 284.6,421.1 285.9,421 287.2,420.4 288.5,419.6 289.8,420.6 291.1,421.2 292.4,420 293.7,420.1 295,421 296.3,421.1 297.6,420.7 298.9,420 300.2,420.2 301.5,421.4 302.8,421.2 304.1,419.8 305.4,419.7 306.7,419 308,418.6 309.3,418.7 310.6,418.7 311.9,418.5 313.2,418.1 314.5,418.9 315.8,417.8 317.1,415.7 318.4,415.9 319.7,416.1 321,415.8 322.3,415.4 323.6,415.5 324.9,415.7 326.2,414.1 327.5,413.8 328.8,415.2 330.1,415.9 331.4,415.3 332.7,414.1 334,415 335.3,415 336.6,414.3 337.9,414.9 339.2,415.1 340.5,414.8 341.8,413.7 343.1,414.2 344.4,414.5 345.7,413.6 347,414.9 348.3,415.7 349.6,413.9 350.9,413.1 352.2,413.5 353.5,413.3 354.8,412.4 356.1,413.2 357.4,414.6 358.7,414.2 360,413.5 361.3,413.4 362.6,413.9 363.9,413 365.2,412.3 366.5,412.4 367.8,411.9 369.1,410.5 370.4,407 371.7,404 373,403.3 374.3,401.1 375.6,398.8 376.9,397.6 378.2,397 379.5,396.4 380.8,395.1 382.1,395.1 383.4,396.4 384.7,399.1 386,401.4 387.3,401.9 388.6,404.8 389.9,408.1 391.2,409.4 392.5,412.1 393.8,414.2 395.1,414.6 396.4,414.6 397.7,414.8 399,414.8 400.3,413.8 401.6,414.2 402.9,414.7 404.2,414.9 405.5,415.3 406.8,414.8 408.1,414.4 409.4,414.5 410.7,414 412,412.6 413.3,412.7 414.6,411.6 415.9,411 417.2,412.5 418.5,412.4 419.8,412.9 421.1,413.5 422.4,412.9 423.7,412.4 425,413.1 426.3,413.1 427.6,412.5 428.9,413.6 430.2,414.5 431.5,415.5 432.8,415.4 434.1,413.6 435.4,414.4 436.7,416.4 438,416.2 439.3,416.5 440.6,417.7 441.9,416.5 443.2,415.3 444.5,414.9 445.8,415.5 447.1,416.5 448.4,416.6 449.7,415.4 451,414.6 452.3,414.5 453.6,413.9 454.9,413.9 456.2,413.8 457.5,414.4 458.8,415.4 460.1,415.8 461.4,415.4 462.7,414.6 464,414.5 465.3,415 466.6,414.7 467.9,414.3 469.2,414.1 470.5,413.4 471.8,413.1 473.1,412.2 474.4,412 475.7,411.1 477,410.1 478.3,409.6 479.6,409.6 480.9,410.4 482.2,408.7 483.5,407.6 484.8,407 486.1,406.9 487.4,407.4 488.7,408.5 490,407.2 491.3,406.1 492.6,406.3 493.9,405.5 495.2,406.1 496.5,406.1 497.8,405.6 499.1,405 500.4,404.6 501.7,404.6 503,405.1 504.3,404.1 505.6,403 506.9,403 508.2,402.6 509.5,402.8 510.8,403.8 512.1,405.4 512.6,405.5" fill="none" stroke="#fe0a0c" stroke-width="7.5" stroke-linejoin="round" stroke-linecap="butt"/>
<path d="M243,512.5 244.3,512.8 245.6,512.7 246.9,512.4 248.2,510.9 249.5,510 250.8,511.1 252.1,512.5 253.4,513.3 254.7,512.8 256,512.2 257.3,512.6 258.6,513.1 259.9,512.9 261.2,511.8 262.5,512.4 263.8,513.2 265.1,512.7 266.4,511.5 267.7,510.9 269,510.1 270.3,508.3 271.6,508.5 272.9,508.7 274.2,508.6 275.5,509.1 276.8,508.5 278.1,508.5 279.4,508.2 280.7,507.9 282,507.8 283.3,507.9 284.6,509 285.9,509.3 287.2,510.4 288.5,509.9 289.8,510.1 291.1,511 292.4,511.2 293.7,511.9 295,511.5 296.3,511 297.6,510.4 298.9,510.7 300.2,510.8 301.5,510.5 302.8,509.8 304.1,509.9 305.4,509.8 306.7,509.4 308,509.3 309.3,508.6 310.6,508.5 311.9,508.2 313.2,507.9 314.5,507.9 315.8,508 317.1,507.4 318.4,507.7 319.7,506.7 321,506.3 322.3,506.6 323.6,505 324.9,505.1 326.2,505.9 327.5,506.7 328.8,506.7 330.1,506.1 331.4,506.9 332.7,506.2 334,506.8 335.3,507.8 336.6,508.8 337.9,510.7 339.2,510.4 340.5,509.1 341.8,509.6 343.1,511 344.4,511.6 345.7,511.6 347,510.7 348.3,510.9 349.6,510.9 350.9,511.5 352.2,511 353.5,508.8 354.8,508.2 356.1,506.8 357.4,505.5 358.7,505.2 360,504.3 361.3,503.7 362.6,504.3 363.9,504.7 365.2,503.5 366.5,503.4 367.8,505 369.1,505.5 370.4,505.8 371.7,506.8 373,507.6 374.3,508.1 375.6,508.1 376.9,508 378.2,508.3 379.5,508.2 380.8,508.9 382.1,509.3 383.4,508.1 384.7,508.4 386,508.3 387.3,507.7 388.6,507.5 389.9,506.9 391.2,506.2 392.5,506.1 393.8,507.1 395.1,507 396.4,506.1 397.7,506.1 399,506.8 400.3,508.5 401.6,508.2 402.9,508.1 404.2,509.5 405.5,509.9 406.8,510.8 408.1,510.8 409.4,511.3 410.7,512.1 412,510.8 413.3,511.1 414.6,511.5 415.9,510.6 417.2,508.7 418.5,507.3 419.8,507.3 421.1,507.6 422.4,508.6 423.7,507.3 425,506.7 426.3,507.8 427.6,508.6 428.9,508.9 430.2,507.9 431.5,508.1 432.8,508.5 434.1,508.4 435.4,509.3 436.7,509.7 438,510 439.3,509.6 440.6,510.8 441.9,512.4 443.2,511.4 444.5,509.7 445.8,507.7 447.1,507.4 448.4,507.9 449.7,509 451,509.2 452.3,507.1 453.6,506.6 454.9,507.2 456.2,506.4 457.5,506.6 458.8,507.6 460.1,507.9 461.4,508.5 462.7,509.8 464,511.5 465.3,510.6 466.6,508.4 467.9,508.5 469.2,506.6 470.5,505.9 471.8,505.6 473.1,503.6 474.4,503.6 475.7,501.3 477,498.9 478.3,500.6 479.6,501.2 480.9,500.8 482.2,502.3 483.5,504.1 484.8,505.6 486.1,505.4 487.4,504.2 488.7,503.5 490,503 491.3,502.9 492.6,502.1 493.9,501.9 495.2,501.3 496.5,500.6 497.8,502.1 499.1,502.5 500.4,501.7 501.7,500.5 503,500 504.3,500.4 505.6,501 506.9,501 508.2,500.1 509.5,499.9 510.8,501 512.1,502 512.6,501" fill="none" stroke="#0272c4" stroke-width="7.5" stroke-linejoin="round" stroke-linecap="butt"/>
<path d="M243,602.3 244.3,600.2 245.6,599.9 246.9,599.4 248.2,598.8 249.5,599.5 250.8,600.4 252.1,601.2 253.4,600.5 254.7,600 256,601.6 257.3,600.4 258.6,600 259.9,600.2 261.2,600.2 262.5,601.9 263.8,601.6 265.1,601 266.4,600.6 267.7,600.6 269,601.6 270.3,601.4 271.6,600.7 272.9,601 274.2,601.5 275.5,600.4 276.8,600 278.1,600.5 279.4,600.8 280.7,601.7 282,601.6 283.3,601.8 284.6,601.1 285.9,600.1 287.2,600.1 288.5,600.4 289.8,601 291.1,600.8 292.4,599.9 293.7,599.7 295,599.8 296.3,599.8 297.6,599.5 298.9,599.5 300.2,599.5 301.5,597.7 302.8,597.5 304.1,597.7 305.4,598.3 306.7,599.9 308,599.4 309.3,598.8 310.6,598 311.9,596.6 313.2,597.1 314.5,598.2 315.8,597.6 317.1,597.8 318.4,598.8 319.7,599.1 321,599.8 322.3,599.9 323.6,598.8 324.9,598.5 326.2,599 327.5,598.4 328.8,598.8 330.1,599.8 331.4,599 332.7,598.3 334,600.7 335.3,601.9 336.6,600.6 337.9,601.5 339.2,601.9 340.5,601.3 341.8,601.4 343.1,600.8 344.4,600.8 345.7,600.5 347,600.3 348.3,601.4 349.6,600.4 350.9,601.1 352.2,601.3 353.5,600.8 354.8,601.2 356.1,600.8 357.4,600.7 358.7,601.9 360,602.8 361.3,602.5 362.6,602.3 363.9,601.7 365.2,601.4 366.5,600.9 367.8,600.9 369.1,600.8 370.4,599.9 371.7,598.5 373,597.9 374.3,598.3 375.6,597.7 376.9,597 378.2,596.8 379.5,595.8 380.8,595.3 382.1,595.5 383.4,595.9 384.7,596.3 386,597.3 387.3,597 388.6,595.5 389.9,596.8 391.2,597.9 392.5,597.7 393.8,599.5 395.1,600.6 396.4,599.6 397.7,599.5 399,599.2 400.3,599.3 401.6,598.9 402.9,598 404.2,598.1 405.5,599.4 406.8,600.6 408.1,599.4 409.4,599.2 410.7,599.5 412,599.5 413.3,599.4 414.6,599.4 415.9,599.5 417.2,598.8 418.5,598.9 419.8,599.2 421.1,598.9 422.4,598 423.7,599.3 425,599.9 426.3,597.9 427.6,596.9 428.9,596.4 430.2,597.3 431.5,599.6 432.8,599.1 434.1,598.1 435.4,598 436.7,598.8 438,600 439.3,599.6 440.6,600.2 441.9,600.9 443.2,600.7 444.5,599.3 445.8,597.7 447.1,597.1 448.4,596.5 449.7,597.6 451,598 452.3,596.6 453.6,596.4 454.9,597.1 456.2,596.3 457.5,595.6 458.8,596 460.1,595.2 461.4,594 462.7,594.6 464,595.2 465.3,594.5 466.6,595 467.9,595.3 469.2,595.8 470.5,595.4 471.8,594.9 473.1,595.4 474.4,595.3 475.7,595.5 477,595.4 478.3,595.6 479.6,595.2 480.9,593.5 482.2,593.5 483.5,594.5 484.8,593.8 486.1,592.3 487.4,591.8 488.7,591.7 490,591.3 491.3,590.9 492.6,589.6 493.9,589.9 495.2,590.9 496.5,589.2 497.8,589.4 499.1,589.8 500.4,589.6 501.7,588.4 503,588.3 504.3,588.7 505.6,586.4 506.9,586.5 508.2,587.3 509.5,586.1 510.8,585.9 512.1,585.2 512.6,585.6" fill="none" stroke="#029a30" stroke-width="7.5" stroke-linejoin="round" stroke-linecap="butt"/>
<path d="M243,642 V143.6 H512.6 V642" fill="none" stroke="#c6c6c6" stroke-width="3.6"/>
<line x1="241.5" y1="642" x2="514.1" y2="642" stroke="#c3c3c3" stroke-width="4"/>
<line x1="243.0" y1="642" x2="243.0" y2="659.5" stroke="#c3c3c3" stroke-width="3.3"/>
<line x1="276.7" y1="642" x2="276.7" y2="656" stroke="#c3c3c3" stroke-width="3.3"/>
<line x1="310.4" y1="642" x2="310.4" y2="656" stroke="#c3c3c3" stroke-width="3.3"/>
<line x1="344.1" y1="642" x2="344.1" y2="656" stroke="#c3c3c3" stroke-width="3.3"/>
<line x1="377.8" y1="642" x2="377.8" y2="659.5" stroke="#c3c3c3" stroke-width="3.3"/>
<line x1="411.5" y1="642" x2="411.5" y2="656" stroke="#c3c3c3" stroke-width="3.3"/>
<line x1="445.2" y1="642" x2="445.2" y2="656" stroke="#c3c3c3" stroke-width="3.3"/>
<line x1="478.9" y1="642" x2="478.9" y2="656" stroke="#c3c3c3" stroke-width="3.3"/>
<line x1="512.6" y1="642" x2="512.6" y2="659.5" stroke="#c3c3c3" stroke-width="3.3"/>
<g font-family="'Liberation Sans', sans-serif" fill="#111" stroke="#111" stroke-width="0.5" stroke-linejoin="round">
<text transform="translate(219.07,724.40) scale(0.9929,1)" font-size="47">20</text>
<text transform="translate(352.04,724.40) scale(0.9606,1)" font-size="47">22</text>
<text transform="translate(487.23,724.40) scale(0.9667,1)" font-size="47">24</text>
</g>
<polygon points="379.9,337.5 385.9,356.1 404.2,356.5 389.6,368.3 394.9,387.1 379.9,375.9 364.9,387.1 370.2,368.3 355.6,356.5 373.9,356.1" fill="#000"/>
</g>
<g id="in2">
<rect x="590.5" y="230" width="296.20000000000005" height="622.5" fill="#fff"/>
<line x1="598.5" y1="228" x2="886.7" y2="228" stroke="#b4b4b4" stroke-width="3.3" stroke-dasharray="11 8.2"/>
<line x1="598.5" y1="854.5" x2="886.7" y2="854.5" stroke="#b4b4b4" stroke-width="3.3" stroke-dasharray="11 8.2"/>
<line x1="588.5" y1="226.2" x2="588.5" y2="855.5" stroke="#787878" stroke-width="2.5" stroke-dasharray="11 8.2" stroke-dashoffset="3.2"/>
<line x1="888.7" y1="240" x2="888.7" y2="852.5" stroke="#787878" stroke-width="2.5" stroke-dasharray="11 8.2"/>
<path d="M631,367.7 632.3,365.6 633.6,364.5 634.9,364.3 636.2,362.9 637.5,360.9 638.8,361.2 640.1,361.6 641.4,361.3 642.7,362.9 644,363 645.3,362.9 646.6,363.8 647.9,364.8 649.2,367.5 650.5,369.7 651.8,370.2 653.1,371.5 654.4,374 655.7,374.7 657,376.8 658.3,377.8 659.6,376.6 660.9,377.3 662.2,376.8 663.5,377.4 664.8,378.7 666.1,377.3 667.4,376.7 668.7,376.9 670,377.5 671.3,376.8 672.6,375.4 673.9,375.5 675.2,377.2 676.5,378.9 677.8,380.5 679.1,383.2 680.4,384.6 681.7,385.2 683,387.2 684.3,388.4 685.6,388.1 686.9,388.6 688.2,387.6 689.5,386.4 690.8,388.2 692.1,388.5 693.4,386.4 694.7,386.4 696,387.1 697.3,387.3 698.6,388.4 699.9,390.3 701.2,391.9 702.5,393.7 703.8,394.2 705.1,394.4 706.4,397.1 707.7,398.7 709,399.7 710.3,400.6 711.6,399.2 712.9,399.4 714.2,399.6 715.5,399.5 716.8,400.7 718.1,401.8 719.4,401.1 720.7,400.3 722,400.5 723.3,400.6 724.6,399 725.9,398.4 727.2,400 728.5,400.6 729.8,400.8 731.1,402.1 732.4,404.5 733.7,405.6 735,406.2 736.3,407.2 737.6,408.3 738.9,410.1 740.2,411.7 741.5,411.6 742.8,411 744.1,411.4 745.4,412.7 746.7,413 748,411.1 749.3,409.1 750.6,407.1 751.9,405.8 753.2,405.1 754.5,405.2 755.8,406.4 757.1,407.7 758.4,408.3 759.7,408.8 761,410.9 762.3,412 763.6,412.5 764.9,413.7 766.2,414.2 767.5,414.5 768.8,415.6 770.1,416.7 771.4,418.1 772.7,418.2 774,417.7 775.3,418.6 776.6,418.7 777.9,418.4 779.2,418.7 780.5,417.2 781.8,416.3 783.1,416.4 784.4,417 785.7,417.2 787,416.6 788.3,417.4 789.6,416.8 790.9,415.9 792.2,416.5 793.5,416.6 794.8,417.5 796.1,418.7 797.4,419.2 798.7,419.4 800,419.2 801.3,419.6 802.6,420 803.9,419.6 805.2,420.2 806.5,421.6 807.8,421.5 809.1,420.9 810.4,421 811.7,421.4 813,421.6 814.3,422.5 815.6,421.9 816.9,421.2 818.2,422.1 819.5,422 820.8,421.5 822.1,420.9 823.4,420.8 824.7,421.8 826,423 827.3,422.4 828.6,422 829.9,423 831.2,423.8 832.5,424.3 833.8,424.8 835.1,425.9 836.4,425.8 837.7,426 839,426.3 840.3,425.6 841.6,426.3 842.9,426.5 844.2,427.1 845.5,428.1 846.8,427.2 848.1,426.1 849.4,425.4 849.6,425.3" fill="none" stroke="#7220a4" stroke-width="7.5" stroke-linejoin="round" stroke-linecap="butt"/>
<path d="M631,447 632.3,450.2 633.6,452.6 634.9,455.2 636.2,457.5 637.5,459.5 638.8,461.1 640.1,462 641.4,464.8 642.7,467.4 644,468.9 645.3,471.5 646.6,473.3 647.9,474 649.2,475.3 650.5,477.6 651.8,479.9 653.1,480.7 654.4,480.8 655.7,482.1 657,484 658.3,485.3 659.6,487.4 660.9,488.2 662.2,489.2 663.5,491.4 664.8,492.6 666.1,493 667.4,493.3 668.7,493.9 670,494.3 671.3,495.4 672.6,495.5 673.9,492.5 675.2,490 676.5,487.4 677.8,483.8 679.1,484.4 680.4,487.2 681.7,486.9 683,487.4 684.3,490.2 685.6,492.4 686.9,494 688.2,495.9 689.5,498 690.8,499.5 692.1,501.4 693.4,503.3 694.7,504.5 696,506.3 697.3,507.3 698.6,509.3 699.9,510.2 701.2,510 702.5,511.2 703.8,511.3 705.1,510.9 706.4,511 707.7,509.8 709,508.5 710.3,508.7 711.6,508 712.9,507.1 714.2,507.7 715.5,507.1 716.8,505.7 718.1,505.4 719.4,505.1 720.7,504.8 722,504.2 723.3,503.7 724.6,503.2 725.9,502.5 727.2,502.4 728.5,500.9 729.8,500.2 731.1,499.5 732.4,498 733.7,497.4 735,496 736.3,493.7 737.6,493.4 738.9,492.6 740.2,489.8 741.5,489.2 742.8,488.1 744.1,487.2 745.4,486.8 746.7,485.1 748,483.6 749.3,483.3 750.6,482.5 751.9,482.6 753.2,484.1 754.5,484.8 755.8,486 757.1,486.7 758.4,488.3 759.7,490.9 761,490.9 762.3,491.6 763.6,494.6 764.9,496.3 766.2,496.4 767.5,497.2 768.8,499.7 770.1,502.6 771.4,502.9 772.7,503.1 774,504.3 775.3,505.3 776.6,507 777.9,508.2 779.2,508.7 780.5,510.9 781.8,512.2 783.1,511.9 784.4,513.5 785.7,514.5 787,514.7 788.3,516 789.6,516.3 790.9,516.8 792.2,518.6 793.5,519.1 794.8,518.9 796.1,519 797.4,518.5 798.7,518.7 800,520 801.3,520.8 802.6,521 803.9,520.6 805.2,520.3 806.5,520.9 807.8,521.9 809.1,523.2 810.4,523.8 811.7,523.8 813,524.6 814.3,525.4 815.6,526.2 816.9,526 818.2,525.8 819.5,526.8 820.8,528.3 822.1,529.3 823.4,529.5 824.7,530.5 826,530.3 827.3,530.6 828.6,531.7 829.9,531 831.2,531.9 832.5,531.8 833.8,530.6 835.1,531.5 836.4,532.5 837.7,532.6 839,531.4 840.3,531.4 841.6,532.5 842.9,534 844.2,534.8 845.5,533.5 846.8,532.2 848.1,532.3 849.4,532.3 849.6,532.2" fill="none" stroke="#fe0a0c" stroke-width="7.5" stroke-linejoin="round" stroke-linecap="butt"/>
<path d="M631,552.1 632.3,555.1 633.6,557.6 634.9,558.5 636.2,559.5 637.5,561.3 638.8,563.4 640.1,565 641.4,566.8 642.7,567.8 644,567.7 645.3,569.7 646.6,572.1 647.9,572.6 649.2,573.8 650.5,573.6 651.8,573.6 653.1,575.1 654.4,576.7 655.7,577.1 657,577 658.3,579 659.6,580 660.9,579.3 662.2,580.2 663.5,579.9 664.8,579.3 666.1,580 667.4,580.1 668.7,580.2 670,579.6 671.3,579.9 672.6,579.8 673.9,580.2 675.2,581.2 676.5,582.3 677.8,583.4 679.1,583.9 680.4,585.9 681.7,588.4 683,588.7 684.3,589.6 685.6,592.3 686.9,592.5 688.2,592.4 689.5,594.1 690.8,594.8 692.1,594.7 693.4,596.6 694.7,596.9 696,596 697.3,595.7 698.6,595.9 699.9,596.6 701.2,598.3 702.5,599.6 703.8,597.9 705.1,598.2 706.4,599.1 707.7,597.8 709,597.6 710.3,597.6 711.6,596.5 712.9,595 714.2,594.6 715.5,595.2 716.8,595.1 718.1,594.3 719.4,594.6 720.7,594.1 722,593.7 723.3,593.6 724.6,592.8 725.9,591.9 727.2,591.3 728.5,590.8 729.8,589.2 731.1,589 732.4,589.2 733.7,589 735,588.6 736.3,587.1 737.6,586.2 738.9,585.1 740.2,584.6 741.5,586.5 742.8,588 744.1,587.9 745.4,587.5 746.7,587.8 748,588.3 749.3,587.6 750.6,587.5 751.9,589.6 753.2,591.2 754.5,591.4 755.8,591.4 757.1,592 758.4,593 759.7,593.9 761,594.4 762.3,596.3 763.6,598.4 764.9,599.6 766.2,602.1 767.5,603.8 768.8,603.7 770.1,604.8 771.4,605.4 772.7,606.5 774,608.1 775.3,607.9 776.6,608.6 777.9,609.9 779.2,609.8 780.5,608.9 781.8,610.6 783.1,611.5 784.4,611.4 785.7,611.4 787,611.1 788.3,611.4 789.6,611.9 790.9,612.4 792.2,612 793.5,613.3 794.8,614.2 796.1,612.6 797.4,612.7 798.7,613.7 800,613.6 801.3,614.2 802.6,615 803.9,615.8 805.2,616 806.5,615.5 807.8,616 809.1,617.9 810.4,617.9 811.7,618.1 813,619.5 814.3,619.3 815.6,619.5 816.9,619.7 818.2,619.6 819.5,619.7 820.8,620.4 822.1,622 823.4,621.6 824.7,621.8 826,621.2 827.3,620.4 828.6,621.2 829.9,622.8 831.2,623.3 832.5,623 833.8,622.4 835.1,622.3 836.4,623.9 837.7,624 839,622.4 840.3,622.7 841.6,624.8 842.9,625.5 844.2,625.4 845.5,624 846.8,623.8 848.1,625.3 849.4,625 849.6,624.9" fill="none" stroke="#0272c4" stroke-width="7.5" stroke-linejoin="round" stroke-linecap="butt"/>
<path d="M631,646.1 632.3,649.2 633.6,650.5 634.9,652.5 636.2,654.8 637.5,657.4 638.8,658.7 640.1,660.1 641.4,662.8 642.7,665.2 644,664.9 645.3,665.1 646.6,667.5 647.9,669.6 649.2,671.1 650.5,671.4 651.8,672.3 653.1,673.7 654.4,673.9 655.7,674.8 657,676.3 658.3,677.4 659.6,678.1 660.9,678.2 662.2,678.3 663.5,678.8 664.8,679.4 666.1,680.6 667.4,681.4 668.7,682.8 670,684 671.3,684.8 672.6,685.3 673.9,686.1 675.2,686.7 676.5,687.2 677.8,687.9 679.1,688.2 680.4,688.3 681.7,687.5 683,687 684.3,689 685.6,690.3 686.9,689.7 688.2,689.7 689.5,689.4 690.8,691.2 692.1,691 693.4,689.6 694.7,690.3 696,689.8 697.3,689.1 698.6,689.3 699.9,689.6 701.2,689.6 702.5,690 703.8,689.3 705.1,688.8 706.4,689.8 707.7,689.8 709,688 710.3,685.6 711.6,686.3 712.9,687.9 714.2,686.8 715.5,687 716.8,686.8 718.1,685.9 719.4,685.3 720.7,685.2 722,685.3 723.3,684.6 724.6,685.1 725.9,685.2 727.2,683.5 728.5,683.4 729.8,684.3 731.1,683 732.4,681.8 733.7,681.6 735,680.9 736.3,680.1 737.6,679.8 738.9,678.5 740.2,678.4 741.5,677.4 742.8,675.2 744.1,675.9 745.4,676.8 746.7,675.1 748,673.3 749.3,672.4 750.6,672.9 751.9,673.7 753.2,672.8 754.5,673.4 755.8,675.1 757.1,676 758.4,677.2 759.7,678.3 761,678.3 762.3,678.7 763.6,679.7 764.9,681.4 766.2,682.5 767.5,683.4 768.8,684 770.1,684.9 771.4,686.5 772.7,687.2 774,687 775.3,689.2 776.6,691.5 777.9,691.5 779.2,692.5 780.5,693.8 781.8,693.8 783.1,694.9 784.4,696 785.7,697.2 787,698.9 788.3,700.3 789.6,701.3 790.9,701.8 792.2,702.6 793.5,703 794.8,703.2 796.1,704.7 797.4,706.2 798.7,706 800,706.6 801.3,707.2 802.6,707.2 803.9,708 805.2,709.5 806.5,709.7 807.8,708.7 809.1,708.9 810.4,711.1 811.7,711.3 813,711.4 814.3,712 815.6,712.1 816.9,712.5 818.2,711.6 819.5,711.7 820.8,713.9 822.1,714.3 823.4,713.7 824.7,713.8 826,713.6 827.3,714.1 828.6,714.6 829.9,715.8 831.2,715.7 832.5,714.6 833.8,714.4 835.1,714 836.4,713.6 837.7,714.8 839,714.8 840.3,715.3 841.6,716.9 842.9,716 844.2,715 845.5,715.3 846.8,716 848.1,716.6 849.4,716.2 849.6,715.4" fill="none" stroke="#029a30" stroke-width="7.5" stroke-linejoin="round" stroke-linecap="butt"/>
<path d="M631,753.5 V263 H849.6 V753.5" fill="none" stroke="#c6c6c6" stroke-width="3.6"/>
<line x1="629.5" y1="753.5" x2="851.1" y2="753.5" stroke="#c3c3c3" stroke-width="4"/>
<line x1="631.0" y1="753.5" x2="631.0" y2="771.0" stroke="#c3c3c3" stroke-width="3.3"/>
<line x1="649.2" y1="753.5" x2="649.2" y2="767.5" stroke="#c3c3c3" stroke-width="3.3"/>
<line x1="667.4" y1="753.5" x2="667.4" y2="767.5" stroke="#c3c3c3" stroke-width="3.3"/>
<line x1="685.6" y1="753.5" x2="685.6" y2="767.5" stroke="#c3c3c3" stroke-width="3.3"/>
<line x1="703.9" y1="753.5" x2="703.9" y2="767.5" stroke="#c3c3c3" stroke-width="3.3"/>
<line x1="722.1" y1="753.5" x2="722.1" y2="767.5" stroke="#c3c3c3" stroke-width="3.3"/>
<line x1="740.3" y1="753.5" x2="740.3" y2="771.0" stroke="#c3c3c3" stroke-width="3.3"/>
<line x1="758.5" y1="753.5" x2="758.5" y2="767.5" stroke="#c3c3c3" stroke-width="3.3"/>
<line x1="776.7" y1="753.5" x2="776.7" y2="767.5" stroke="#c3c3c3" stroke-width="3.3"/>
<line x1="795.0" y1="753.5" x2="795.0" y2="767.5" stroke="#c3c3c3" stroke-width="3.3"/>
<line x1="813.2" y1="753.5" x2="813.2" y2="767.5" stroke="#c3c3c3" stroke-width="3.3"/>
<line x1="831.4" y1="753.5" x2="831.4" y2="767.5" stroke="#c3c3c3" stroke-width="3.3"/>
<line x1="849.6" y1="753.5" x2="849.6" y2="771.0" stroke="#c3c3c3" stroke-width="3.3"/>
<g font-family="'Liberation Sans', sans-serif" fill="#111" stroke="#111" stroke-width="0.5" stroke-linejoin="round">
<text transform="translate(604.79,838.80) scale(0.9861,1)" font-size="51">30</text>
<text transform="translate(714.71,838.80) scale(0.9271,1)" font-size="51">33</text>
<text transform="translate(823.85,838.80) scale(0.9537,1)" font-size="51">36</text>
</g>
<polygon points="684.3,424.7 690.2,442.8 708.1,443.2 693.8,454.8 699.0,473.1 684.3,462.2 669.6,473.1 674.8,454.8 660.5,443.2 678.4,442.8" fill="#000"/>
<circle cx="752.8" cy="449.5" r="16.1" fill="none" stroke="#000" stroke-width="4.4"/>
</g>
<g id="in3">
<rect x="957.7" y="447.3" width="346.0" height="620.5" fill="#fff"/>
<line x1="965.7" y1="445.3" x2="1303.7" y2="445.3" stroke="#b4b4b4" stroke-width="3.3" stroke-dasharray="11 8.2"/>
<line x1="965.7" y1="1069.8" x2="1303.7" y2="1069.8" stroke="#b4b4b4" stroke-width="3.3" stroke-dasharray="11 8.2"/>
<line x1="955.7" y1="443.5" x2="955.7" y2="1070.8" stroke="#787878" stroke-width="2.5" stroke-dasharray="11 8.2" stroke-dashoffset="3.2"/>
<line x1="1305.7" y1="457.3" x2="1305.7" y2="1067.8" stroke="#9a9a9a" stroke-width="3.3" stroke-dasharray="11 8.2"/>
<path d="M999.6,634.2 1000.9,634.7 1002.2,635.3 1003.5,636 1004.8,637 1006.1,636.9 1007.4,635.4 1008.7,634.9 1010,633.9 1011.3,631.9 1012.6,632.5 1013.9,631.4 1015.2,629 1016.5,628.6 1017.8,628.2 1019.1,626.1 1020.4,623.5 1021.7,621.3 1023,618.3 1024.3,617.2 1025.6,616.5 1026.9,614.2 1028.2,612.2 1029.5,611 1030.8,610.7 1032.1,610.2 1033.4,608.9 1034.7,608.1 1036,607.2 1037.3,607 1038.6,607.1 1039.9,606.9 1041.2,607.8 1042.5,609.9 1043.8,611.5 1045.1,613 1046.4,612.9 1047.7,613 1049,614.9 1050.3,615.2 1051.6,615.8 1052.9,616.7 1054.2,616.3 1055.5,617.4 1056.8,617.3 1058.1,617.2 1059.4,617.7 1060.7,616.6 1062,616.3 1063.3,616.3 1064.6,616.3 1065.9,616.7 1067.2,616.1 1068.5,616.5 1069.8,617.9 1071.1,617.8 1072.4,616.8 1073.7,614.6 1075,614.7 1076.3,615.7 1077.6,616 1078.9,615.6 1080.2,615.1 1081.5,615.1 1082.8,614 1084.1,614.5 1085.4,614.3 1086.7,613.1 1088,613.8 1089.3,612.7 1090.6,611.7 1091.9,612.5 1093.2,611.8 1094.5,611 1095.8,610.8 1097.1,609.9 1098.4,609.7 1099.7,609 1101,608 1102.3,608.2 1103.6,608.1 1104.9,607.4 1106.2,606.3 1107.5,605.7 1108.8,606.7 1110.1,606.9 1111.4,606.2 1112.7,605.1 1114,604.3 1115.3,604.6 1116.6,605.4 1117.9,604.9 1119.2,604.5 1120.5,603.9 1121.8,603.5 1123.1,602.7 1124.4,601.6 1125.7,600.9 1127,600.2 1128.3,600 1129.6,598 1130.9,596.1 1132.2,595.2 1133.5,593.8 1134.8,592.6 1136.1,592.3 1137.4,592.9 1138.7,594.1 1140,593.9 1141.3,593.6 1142.6,594.8 1143.9,595.5 1145.2,596.1 1146.5,597.5 1147.8,598.1 1149.1,597.6 1150.4,596.7 1151.7,596.6 1153,595.4 1154.3,593.3 1155.6,591.7 1156.9,589.9 1158.2,589.3 1159.5,588.6 1160.8,588.3 1162.1,588.6 1163.4,587.7 1164.7,586.7 1166,588.3 1167.3,589.7 1168.6,590.5 1169.9,591.4 1171.2,590.8 1172.5,591.9 1173.8,592.9 1175.1,593.3 1176.4,593.8 1177.7,594.9 1179,596.8 1180.3,596.9 1181.6,598.2 1182.9,599.3 1184.2,599.8 1185.5,600.5 1186.8,600.6 1188.1,603.8 1189.4,606.5 1190.7,606.8 1192,605.5 1193.3,605.2 1194.6,606.5 1195.9,606.6 1197.2,606.6 1198.5,606.3 1199.8,606.2 1201.1,606.3 1202.4,606.8 1203.7,608.7 1205,609.8 1206.3,611 1207.6,612.9 1208.9,614.8 1210.2,617.1 1211.5,618.6 1212.8,619.4 1214.1,619.1 1215.4,618.8 1216.7,619.9 1218,619.4 1219.3,618.3 1220.6,617.8 1221.9,618.2 1223.2,617.9 1224.5,616.2 1225.8,616.2 1227.1,616.7 1228.4,616.3 1229.7,615.9 1231,615.7 1232.3,615.1 1233.6,614.8 1234.9,614.6 1236.2,614.7 1237.5,615.3 1238.8,615.7 1240.1,615.8 1241.4,616.4 1242.7,616.5 1244,615.9 1245.3,616.2 1246.6,617.4 1247.9,618 1249.2,620 1250.5,621.6 1251.8,621.9 1253.1,622.7 1254.4,624.3 1255.7,624.7 1257,624.7 1258.3,624.8 1259.6,623.8 1260.9,623.9 1262.2,623.9" fill="none" stroke="#7220a4" stroke-width="7.5" stroke-linejoin="round" stroke-linecap="butt"/>
<path d="M999.6,749.8 1000.9,750.5 1002.2,751.4 1003.5,752 1004.8,751.4 1006.1,750.9 1007.4,750.5 1008.7,751.2 1010,751.6 1011.3,751.2 1012.6,750.3 1013.9,748.7 1015.2,748.6 1016.5,748.1 1017.8,747.2 1019.1,746.1 1020.4,746 1021.7,746.1 1023,745.5 1024.3,744.7 1025.6,742.6 1026.9,742 1028.2,742.5 1029.5,740.3 1030.8,737.9 1032.1,737.1 1033.4,736.2 1034.7,734.2 1036,734 1037.3,734 1038.6,731.1 1039.9,728 1041.2,727.1 1042.5,728 1043.8,727.6 1045.1,727.1 1046.4,726.2 1047.7,725.9 1049,725.9 1050.3,727.1 1051.6,728.6 1052.9,726.8 1054.2,726 1055.5,727.8 1056.8,729.3 1058.1,729.3 1059.4,729.9 1060.7,731.5 1062,731.6 1063.3,729.8 1064.6,729.6 1065.9,729.9 1067.2,729.6 1068.5,730.4 1069.8,730.8 1071.1,730 1072.4,730.1 1073.7,730.2 1075,730.5 1076.3,730.8 1077.6,730.8 1078.9,730.8 1080.2,731 1081.5,731 1082.8,730.6 1084.1,730.4 1085.4,730.5 1086.7,729.8 1088,731.2 1089.3,731.8 1090.6,730.4 1091.9,730.5 1093.2,730.2 1094.5,730.6 1095.8,730.6 1097.1,730.2 1098.4,729.7 1099.7,729.4 1101,729.4 1102.3,730.8 1103.6,730.5 1104.9,728.8 1106.2,729.4 1107.5,730.5 1108.8,729.2 1110.1,727.4 1111.4,728 1112.7,728.7 1114,727.6 1115.3,726.1 1116.6,726 1117.9,727.1 1119.2,727.2 1120.5,726.9 1121.8,726.6 1123.1,725.9 1124.4,726 1125.7,725.7 1127,725.3 1128.3,724.7 1129.6,724 1130.9,724.6 1132.2,724.6 1133.5,723.8 1134.8,724.1 1136.1,724.7 1137.4,724.2 1138.7,723.3 1140,723.7 1141.3,725.3 1142.6,724.2 1143.9,721.9 1145.2,721.8 1146.5,722 1147.8,721.6 1149.1,721.3 1150.4,722.3 1151.7,723.3 1153,723.5 1154.3,723.3 1155.6,722.2 1156.9,722.2 1158.2,722.1 1159.5,721.2 1160.8,720.8 1162.1,721.5 1163.4,722.6 1164.7,721.6 1166,720.8 1167.3,720.9 1168.6,721.1 1169.9,721.4 1171.2,721.2 1172.5,720.9 1173.8,719.9 1175.1,719.5 1176.4,719.2 1177.7,720.3 1179,721.9 1180.3,721.3 1181.6,721.2 1182.9,721.9 1184.2,721.8 1185.5,720.1 1186.8,719.7 1188.1,719.6 1189.4,719.6 1190.7,720.6 1192,721.4 1193.3,722.7 1194.6,722.7 1195.9,722.8 1197.2,723.9 1198.5,724.5 1199.8,724.7 1201.1,723.9 1202.4,724.2 1203.7,726.2 1205,727 1206.3,726.1 1207.6,726.2 1208.9,727.6 1210.2,727.6 1211.5,728.3 1212.8,728.8 1214.1,728.7 1215.4,729.5 1216.7,731.3 1218,731.6 1219.3,730.5 1220.6,731.4 1221.9,731.8 1223.2,731.8 1224.5,731.1 1225.8,731.4 1227.1,732.8 1228.4,732.1 1229.7,732.9 1231,733.6 1232.3,732.7 1233.6,732.1 1234.9,731.4 1236.2,731.8 1237.5,731.8 1238.8,732.4 1240.1,733.6 1241.4,733 1242.7,731.6 1244,731.7 1245.3,732 1246.6,732.2 1247.9,732.8 1249.2,732.4 1250.5,732.2 1251.8,732.9 1253.1,733.6 1254.4,732.6 1255.7,731.9 1257,731.9 1258.3,730.7 1259.6,731.3 1260.9,731.8 1262.2,730.9" fill="none" stroke="#fe0a0c" stroke-width="7.5" stroke-linejoin="round" stroke-linecap="butt"/>
<path d="M999.6,840.7 1000.9,839.9 1002.2,839.9 1003.5,840.4 1004.8,839.7 1006.1,839.2 1007.4,839 1008.7,838.9 1010,838.8 1011.3,839.6 1012.6,839.3 1013.9,838.1 1015.2,837.8 1016.5,835.6 1017.8,833.6 1019.1,831.2 1020.4,828 1021.7,826.2 1023,825 1024.3,825.5 1025.6,826.3 1026.9,826.2 1028.2,825.1 1029.5,824.8 1030.8,825.2 1032.1,825.2 1033.4,826.4 1034.7,826.6 1036,825.9 1037.3,826.5 1038.6,827.3 1039.9,827.9 1041.2,826.5 1042.5,825.9 1043.8,826.9 1045.1,826.5 1046.4,827.1 1047.7,827.4 1049,827.3 1050.3,829 1051.6,831.5 1052.9,834.1 1054.2,834 1055.5,832.1 1056.8,830.8 1058.1,830.4 1059.4,830.4 1060.7,829.8 1062,828.4 1063.3,827.5 1064.6,826.7 1065.9,826.8 1067.2,826.8 1068.5,824.9 1069.8,826.1 1071.1,827.5 1072.4,826.8 1073.7,826.5 1075,825.5 1076.3,825.7 1077.6,825.5 1078.9,825.8 1080.2,826.4 1081.5,824.4 1082.8,824.9 1084.1,827.5 1085.4,827.7 1086.7,828.2 1088,829.2 1089.3,829.1 1090.6,828.2 1091.9,829.2 1093.2,830.3 1094.5,829.7 1095.8,829.2 1097.1,828.3 1098.4,829.3 1099.7,829.3 1101,828.2 1102.3,827.4 1103.6,827.3 1104.9,828 1106.2,827.2 1107.5,826.3 1108.8,825.4 1110.1,825.8 1111.4,825.6 1112.7,824.3 1114,825 1115.3,824.4 1116.6,822.1 1117.9,821.1 1119.2,821 1120.5,821.4 1121.8,820.6 1123.1,818.4 1124.4,817.7 1125.7,817.5 1127,815.8 1128.3,815.2 1129.6,815.7 1130.9,814.8 1132.2,812.8 1133.5,812.4 1134.8,814.2 1136.1,813.8 1137.4,814.1 1138.7,814.1 1140,812 1141.3,812.1 1142.6,812.5 1143.9,812.2 1145.2,811.5 1146.5,810.9 1147.8,809.5 1149.1,807.3 1150.4,805.4 1151.7,803.3 1153,802.8 1154.3,802 1155.6,801.4 1156.9,801.7 1158.2,802.2 1159.5,803 1160.8,803.6 1162.1,804.2 1163.4,804.3 1164.7,804 1166,803.6 1167.3,804.2 1168.6,805.2 1169.9,805 1171.2,806.9 1172.5,807.5 1173.8,807.3 1175.1,809.2 1176.4,809.4 1177.7,811.2 1179,811.9 1180.3,810.8 1181.6,812.4 1182.9,813.1 1184.2,812 1185.5,812.6 1186.8,813.8 1188.1,815.1 1189.4,816.5 1190.7,816.6 1192,817.6 1193.3,820.7 1194.6,821.1 1195.9,820.7 1197.2,822.2 1198.5,823.5 1199.8,823.1 1201.1,822.1 1202.4,821.8 1203.7,822.8 1205,823.6 1206.3,821.5 1207.6,819.5 1208.9,819.7 1210.2,819.7 1211.5,820.4 1212.8,821.1 1214.1,821.8 1215.4,822.1 1216.7,821.3 1218,822 1219.3,822.1 1220.6,821.4 1221.9,822.7 1223.2,824.6 1224.5,824.3 1225.8,824.7 1227.1,826.3 1228.4,825.6 1229.7,825.3 1231,825.6 1232.3,825.6 1233.6,826.3 1234.9,825.9 1236.2,826.1 1237.5,827.1 1238.8,827 1240.1,825.5 1241.4,824.1 1242.7,825.6 1244,826.3 1245.3,825.6 1246.6,825.5 1247.9,825.2 1249.2,825.5 1250.5,825.8 1251.8,825.6 1253.1,826.3 1254.4,825.8 1255.7,825.8 1257,824.8 1258.3,825 1259.6,824.8 1260.9,823.2 1262.2,823.8" fill="none" stroke="#0272c4" stroke-width="7.5" stroke-linejoin="round" stroke-linecap="butt"/>
<path d="M999.6,932 1000.9,933.2 1002.2,932.3 1003.5,930.3 1004.8,929.8 1006.1,930.4 1007.4,930.3 1008.7,930.2 1010,929.7 1011.3,928.8 1012.6,926.8 1013.9,927 1015.2,927.5 1016.5,926 1017.8,925 1019.1,923.6 1020.4,923 1021.7,923.1 1023,923 1024.3,921.5 1025.6,920.8 1026.9,919.3 1028.2,917.5 1029.5,916.2 1030.8,915.1 1032.1,913.7 1033.4,911.8 1034.7,911 1036,907.9 1037.3,907 1038.6,907.5 1039.9,905.9 1041.2,904.7 1042.5,904.9 1043.8,905 1045.1,905.6 1046.4,907.2 1047.7,908.6 1049,909 1050.3,909.1 1051.6,910.4 1052.9,911.3 1054.2,911 1055.5,910.5 1056.8,910.1 1058.1,909.1 1059.4,909.8 1060.7,910.4 1062,909.9 1063.3,909.7 1064.6,910.7 1065.9,910.7 1067.2,910.3 1068.5,910 1069.8,910.9 1071.1,912.3 1072.4,911.7 1073.7,910.6 1075,911.4 1076.3,911.8 1077.6,910.5 1078.9,909.5 1080.2,909.5 1081.5,911.5 1082.8,911.5 1084.1,911.9 1085.4,912.2 1086.7,910.5 1088,911.2 1089.3,911.2 1090.6,910.7 1091.9,910.2 1093.2,909.3 1094.5,909.5 1095.8,910.3 1097.1,910.4 1098.4,909.1 1099.7,909.7 1101,910.6 1102.3,910 1103.6,909.6 1104.9,908.2 1106.2,909.2 1107.5,909.8 1108.8,908.9 1110.1,909.6 1111.4,909.5 1112.7,908.5 1114,907.5 1115.3,907.1 1116.6,907.2 1117.9,907 1119.2,905.9 1120.5,905.5 1121.8,905.6 1123.1,905.5 1124.4,905.1 1125.7,905.2 1127,905 1128.3,904.4 1129.6,904.1 1130.9,903 1132.2,902.2 1133.5,902.2 1134.8,902.7 1136.1,903.2 1137.4,902.6 1138.7,901.4 1140,901 1141.3,901.8 1142.6,901.9 1143.9,900.8 1145.2,901 1146.5,900.5 1147.8,900.1 1149.1,900.7 1150.4,900.6 1151.7,900 1153,900.6 1154.3,902.2 1155.6,900.9 1156.9,900 1158.2,901.1 1159.5,902.3 1160.8,901.7 1162.1,899.9 1163.4,900.2 1164.7,901.8 1166,901.8 1167.3,900.9 1168.6,901.8 1169.9,900.5 1171.2,898.3 1172.5,900 1173.8,901.6 1175.1,900.4 1176.4,900.2 1177.7,901 1179,900.8 1180.3,900.4 1181.6,900 1182.9,900 1184.2,900.2 1185.5,900.6 1186.8,901.6 1188.1,902.3 1189.4,900.8 1190.7,901.1 1192,903.2 1193.3,903.6 1194.6,903.9 1195.9,904.2 1197.2,904.6 1198.5,904.6 1199.8,905.1 1201.1,905.4 1202.4,906.1 1203.7,906.4 1205,904.9 1206.3,906.2 1207.6,907.5 1208.9,907.5 1210.2,908.1 1211.5,908.2 1212.8,907.7 1214.1,908 1215.4,908.8 1216.7,909.1 1218,910.2 1219.3,909.7 1220.6,908.8 1221.9,909.7 1223.2,909.5 1224.5,908.7 1225.8,908.8 1227.1,910.2 1228.4,910.5 1229.7,910.4 1231,910.2 1232.3,910.3 1233.6,910.5 1234.9,909.9 1236.2,910.5 1237.5,911.1 1238.8,912 1240.1,911.2 1241.4,910.8 1242.7,912.7 1244,913.3 1245.3,912.4 1246.6,911.4 1247.9,911.4 1249.2,912.1 1250.5,912.6 1251.8,912.8 1253.1,913.1 1254.4,912.5 1255.7,911.6 1257,911.7 1258.3,911.7 1259.6,912.4 1260.9,913.4 1262.2,915" fill="none" stroke="#029a30" stroke-width="7.5" stroke-linejoin="round" stroke-linecap="butt"/>
<path d="M999.6,966.3 V478 H1262.2 V966.3" fill="none" stroke="#c6c6c6" stroke-width="3.6"/>
<line x1="998.1" y1="966.3" x2="1263.7" y2="966.3" stroke="#c3c3c3" stroke-width="4"/>
<line x1="999.6" y1="966.3" x2="999.6" y2="983.8" stroke="#c3c3c3" stroke-width="3.3"/>
<line x1="1032.4" y1="966.3" x2="1032.4" y2="980.3" stroke="#c3c3c3" stroke-width="3.3"/>
<line x1="1065.2" y1="966.3" x2="1065.2" y2="980.3" stroke="#c3c3c3" stroke-width="3.3"/>
<line x1="1098.1" y1="966.3" x2="1098.1" y2="980.3" stroke="#c3c3c3" stroke-width="3.3"/>
<line x1="1130.9" y1="966.3" x2="1130.9" y2="983.8" stroke="#c3c3c3" stroke-width="3.3"/>
<line x1="1163.7" y1="966.3" x2="1163.7" y2="980.3" stroke="#c3c3c3" stroke-width="3.3"/>
<line x1="1196.5" y1="966.3" x2="1196.5" y2="980.3" stroke="#c3c3c3" stroke-width="3.3"/>
<line x1="1229.4" y1="966.3" x2="1229.4" y2="980.3" stroke="#c3c3c3" stroke-width="3.3"/>
<line x1="1262.2" y1="966.3" x2="1262.2" y2="983.8" stroke="#c3c3c3" stroke-width="3.3"/>
<g font-family="'Liberation Sans', sans-serif" fill="#111" stroke="#111" stroke-width="0.5" stroke-linejoin="round">
<text transform="translate(973.02,1052.40) scale(0.9808,1)" font-size="50">42</text>
<text transform="translate(1103.85,1052.40) scale(0.9547,1)" font-size="50">44</text>
<text transform="translate(1236.32,1052.40) scale(0.9848,1)" font-size="50">46</text>
</g>
<polygon points="1024.6,561.0 1057.2,561.0 1040.9,593.5" fill="none" stroke="#000" stroke-width="4.6" stroke-linejoin="miter"/>
<circle cx="1154.8" cy="558.3" r="17.0" fill="#000"/>
<circle cx="1154.8" cy="769.9" r="17.0" fill="#000"/>
</g>
<g id="in4">
<rect x="1420.7" y="447.4" width="270.0999999999999" height="620.0000000000001" fill="#fff"/>
<line x1="1428.7" y1="445.4" x2="1690.8" y2="445.4" stroke="#b4b4b4" stroke-width="3.3" stroke-dasharray="11 8.2"/>
<line x1="1428.7" y1="1069.4" x2="1690.8" y2="1069.4" stroke="#b4b4b4" stroke-width="3.3" stroke-dasharray="11 8.2"/>
<line x1="1418.7" y1="443.59999999999997" x2="1418.7" y2="1070.4" stroke="#787878" stroke-width="2.5" stroke-dasharray="11 8.2" stroke-dashoffset="3.2"/>
<line x1="1692.8" y1="457.4" x2="1692.8" y2="1067.4" stroke="#9a9a9a" stroke-width="3.3" stroke-dasharray="11 8.2"/>
<path d="M1468.8,652.2 1470.1,652.6 1471.4,652.3 1472.7,651.5 1474,650.5 1475.3,649.5 1476.6,649.6 1477.9,650 1479.2,650.5 1480.5,650.7 1481.8,650.6 1483.1,649.8 1484.4,650 1485.7,650.5 1487,649.1 1488.3,648.8 1489.6,649.3 1490.9,650.7 1492.2,651.4 1493.5,650.1 1494.8,649.8 1496.1,650.4 1497.4,649.5 1498.7,649 1500,648.7 1501.3,648.7 1502.6,648.1 1503.9,647.9 1505.2,648.4 1506.5,648.1 1507.8,647.8 1509.1,648.7 1510.4,649 1511.7,648.6 1513,649.5 1514.3,650.3 1515.6,650.7 1516.9,650.3 1518.2,649.7 1519.5,649.8 1520.8,650.1 1522.1,650.5 1523.4,650.8 1524.7,651.4 1526,651.3 1527.3,651.7 1528.6,652.3 1529.9,651.1 1531.2,651 1532.5,649.7 1533.8,649.9 1535.1,651.7 1536.4,651.2 1537.7,650 1539,651.2 1540.3,652 1541.6,650.5 1542.9,651.2 1544.2,651.2 1545.5,650.1 1546.8,650.6 1548.1,650.5 1549.4,650.5 1550.7,651.1 1552,651.3 1553.3,650.5 1554.6,650.6 1555.9,651.4 1557.2,651.8 1558.5,651.2 1559.8,651.1 1561.1,651.8 1562.4,651.2 1563.7,650.3 1565,649.8 1566.3,650 1567.6,648.5 1568.9,646.5 1570.2,645.5 1571.5,645.7 1572.8,645 1574.1,643.4 1575.4,642.2 1576.7,640.5 1578,639.2 1579.3,637.7 1580.6,636.8 1581.9,635.4 1583.2,633.1 1584.5,630.6 1585.8,629.3 1587.1,628.7 1588.4,627.9 1589.7,629.1 1591,629.8 1592.3,630.6 1593.6,633.5 1594.9,636.2 1596.2,637.7 1597.5,639.1 1598.8,641.2 1600.1,642.1 1601.4,642.6 1602.7,644.1 1604,647.4 1605.3,650 1606.6,650.1 1607.9,650.3 1609.2,650.8 1610.5,650.6 1611.8,650.3 1613.1,651 1614.4,649.9 1615.7,648.2 1617,647.8 1618.3,647.2 1619.6,647.3 1620.9,647.7 1622.2,648.2 1623.5,648.9 1624.8,649.7 1626.1,649.4 1627.4,650.7 1628.7,650.8 1630,650.1 1631.3,651.9 1632.6,651.4 1633.9,650.9 1635.2,652.1 1636.5,651.6 1637.8,649.9 1639.1,650.5 1640.4,651.6 1641.7,650.5 1643,651.2 1644.3,651.1 1645.6,651 1646.9,651.1 1648.2,650.8 1649.5,650.5 1650.1,650" fill="none" stroke="#7220a4" stroke-width="7.5" stroke-linejoin="round" stroke-linecap="butt"/>
<path d="M1468.8,751.7 1470.1,752.5 1471.4,752.3 1472.7,750.6 1474,750.5 1475.3,751.6 1476.6,752.3 1477.9,752.8 1479.2,752.7 1480.5,752 1481.8,751.8 1483.1,751.1 1484.4,751.5 1485.7,752.5 1487,752 1488.3,751.5 1489.6,751.3 1490.9,751.1 1492.2,751.3 1493.5,750.9 1494.8,751.1 1496.1,752.1 1497.4,752.6 1498.7,752.2 1500,751 1501.3,751.1 1502.6,751.1 1503.9,750.9 1505.2,750.2 1506.5,749.6 1507.8,749.8 1509.1,750.2 1510.4,749.8 1511.7,749.2 1513,749.5 1514.3,750.3 1515.6,750 1516.9,749.7 1518.2,750 1519.5,749.7 1520.8,748.5 1522.1,747.5 1523.4,746.3 1524.7,745.7 1526,746.6 1527.3,745.9 1528.6,746 1529.9,746.9 1531.2,745.4 1532.5,744.5 1533.8,743.2 1535.1,741.4 1536.4,741.1 1537.7,741 1539,740.3 1540.3,739.1 1541.6,739.7 1542.9,739.8 1544.2,738.5 1545.5,738.4 1546.8,738.3 1548.1,737.8 1549.4,737.4 1550.7,736.6 1552,737.7 1553.3,738.1 1554.6,736.4 1555.9,736.4 1557.2,736.5 1558.5,738 1559.8,739.1 1561.1,738.8 1562.4,739.4 1563.7,738.9 1565,738.4 1566.3,737.7 1567.6,737.3 1568.9,737.1 1570.2,736.7 1571.5,736 1572.8,735.9 1574.1,735.9 1575.4,734.3 1576.7,732.1 1578,731.6 1579.3,732.2 1580.6,730.7 1581.9,728.3 1583.2,727.3 1584.5,727.2 1585.8,724.6 1587.1,723 1588.4,722 1589.7,720.8 1591,722.2 1592.3,721.9 1593.6,721.4 1594.9,722 1596.2,723 1597.5,726.1 1598.8,728.7 1600.1,729.1 1601.4,730 1602.7,731.9 1604,734.7 1605.3,735.9 1606.6,736.4 1607.9,737.2 1609.2,736.9 1610.5,738.9 1611.8,740.6 1613.1,740.3 1614.4,740.7 1615.7,741.3 1617,741.8 1618.3,741.5 1619.6,742.6 1620.9,743.7 1622.2,743.7 1623.5,743.4 1624.8,743.1 1626.1,743.4 1627.4,743.9 1628.7,744.4 1630,744 1631.3,743.2 1632.6,742.4 1633.9,742.4 1635.2,742.7 1636.5,742.9 1637.8,742.6 1639.1,743.8 1640.4,744.7 1641.7,742.7 1643,742 1644.3,742.3 1645.6,743.1 1646.9,744.4 1648.2,743.7 1649.5,743.5 1650.1,743.9" fill="none" stroke="#fe0a0c" stroke-width="7.5" stroke-linejoin="round" stroke-linecap="butt"/>
<path d="M1468.8,843.7 1470.1,843.1 1471.4,842.5 1472.7,842.8 1474,843.4 1475.3,843 1476.6,843 1477.9,843.1 1479.2,842.6 1480.5,842.4 1481.8,843.5 1483.1,843.7 1484.4,843.8 1485.7,843.3 1487,841.7 1488.3,842.4 1489.6,843.5 1490.9,843.1 1492.2,842.9 1493.5,843.8 1494.8,844 1496.1,843.4 1497.4,842.7 1498.7,841.8 1500,841.8 1501.3,842.8 1502.6,843.5 1503.9,842.6 1505.2,841.3 1506.5,841.4 1507.8,842.3 1509.1,841.4 1510.4,840.2 1511.7,842.5 1513,843.1 1514.3,840.8 1515.6,840 1516.9,840.6 1518.2,840.3 1519.5,839.1 1520.8,837.7 1522.1,837.6 1523.4,837.4 1524.7,836.7 1526,836.3 1527.3,835 1528.6,835 1529.9,834.4 1531.2,833.4 1532.5,832.9 1533.8,832.3 1535.1,832.3 1536.4,831.9 1537.7,832.2 1539,833.4 1540.3,834.6 1541.6,835 1542.9,834.4 1544.2,834.9 1545.5,835.7 1546.8,836.4 1548.1,836 1549.4,836.4 1550.7,837.1 1552,837.3 1553.3,837.6 1554.6,837.5 1555.9,837.6 1557.2,836.1 1558.5,835.6 1559.8,836.3 1561.1,836.7 1562.4,835.4 1563.7,834.5 1565,835.1 1566.3,835.4 1567.6,835.6 1568.9,834.9 1570.2,833.3 1571.5,832.8 1572.8,832 1574.1,830.6 1575.4,828.8 1576.7,827 1578,825.3 1579.3,824 1580.6,823.8 1581.9,823.7 1583.2,823.3 1584.5,823.4 1585.8,824 1587.1,824.7 1588.4,826.4 1589.7,829 1591,829.6 1592.3,829.3 1593.6,830.3 1594.9,831.3 1596.2,832.5 1597.5,833.6 1598.8,834.7 1600.1,836.8 1601.4,838.6 1602.7,837.7 1604,838.3 1605.3,840.3 1606.6,839.9 1607.9,840.1 1609.2,841.4 1610.5,841.7 1611.8,841.3 1613.1,839.4 1614.4,838 1615.7,837.9 1617,836.9 1618.3,836.5 1619.6,836.9 1620.9,837.8 1622.2,839.6 1623.5,841.3 1624.8,842.7 1626.1,842.9 1627.4,842.9 1628.7,842.4 1630,840.8 1631.3,839.5 1632.6,838.8 1633.9,838.4 1635.2,837.8 1636.5,838.4 1637.8,838.1 1639.1,837.5 1640.4,838 1641.7,837.8 1643,837 1644.3,837.3 1645.6,837.9 1646.9,838.2 1648.2,838.4 1649.5,837.7 1650.1,837.6" fill="none" stroke="#0272c4" stroke-width="7.5" stroke-linejoin="round" stroke-linecap="butt"/>
<path d="M1468.8,938.4 1470.1,939.3 1471.4,938.9 1472.7,937 1474,936.8 1475.3,937.1 1476.6,937.2 1477.9,936.2 1479.2,935 1480.5,935.6 1481.8,935.2 1483.1,935.9 1484.4,935.6 1485.7,934.5 1487,934.8 1488.3,934.8 1489.6,936.1 1490.9,936.7 1492.2,936.8 1493.5,936.8 1494.8,935.2 1496.1,935 1497.4,935.1 1498.7,934.6 1500,935.4 1501.3,935.4 1502.6,935.8 1503.9,935.7 1505.2,936.3 1506.5,937.1 1507.8,936.8 1509.1,936.8 1510.4,936.6 1511.7,936.2 1513,936.7 1514.3,936.1 1515.6,935.2 1516.9,935.6 1518.2,934.8 1519.5,934.4 1520.8,933.6 1522.1,933.3 1523.4,933.5 1524.7,932.6 1526,932.3 1527.3,931.5 1528.6,930.1 1529.9,930.3 1531.2,931.1 1532.5,932.7 1533.8,932.6 1535.1,931.8 1536.4,932.4 1537.7,932.9 1539,932.5 1540.3,931.7 1541.6,931.5 1542.9,930.7 1544.2,930.2 1545.5,930.2 1546.8,931.5 1548.1,932 1549.4,931 1550.7,930.8 1552,930.3 1553.3,930.1 1554.6,930.1 1555.9,930.1 1557.2,930.2 1558.5,928.6 1559.8,927.7 1561.1,928.9 1562.4,927.7 1563.7,926.3 1565,926.3 1566.3,926.5 1567.6,926.1 1568.9,924.8 1570.2,924.1 1571.5,923.9 1572.8,922.9 1574.1,922.3 1575.4,921.3 1576.7,918.6 1578,916.9 1579.3,916.3 1580.6,915.6 1581.9,915 1583.2,914.1 1584.5,913.5 1585.8,912.6 1587.1,911.4 1588.4,909.8 1589.7,908.3 1591,909 1592.3,909.5 1593.6,909.8 1594.9,910.5 1596.2,910.4 1597.5,911.9 1598.8,913.5 1600.1,912.6 1601.4,912.6 1602.7,914.7 1604,916.6 1605.3,917.8 1606.6,917.9 1607.9,919.6 1609.2,921.3 1610.5,922.3 1611.8,923.3 1613.1,923.9 1614.4,924.9 1615.7,925.5 1617,925.3 1618.3,926 1619.6,926.9 1620.9,926.2 1622.2,926.4 1623.5,927.4 1624.8,928.3 1626.1,929.3 1627.4,928.8 1628.7,929.3 1630,930.3 1631.3,929.8 1632.6,930.7 1633.9,931.2 1635.2,930.4 1636.5,931.4 1637.8,932.6 1639.1,931.9 1640.4,931.9 1641.7,932.8 1643,932 1644.3,932.5 1645.6,932.8 1646.9,931.8 1648.2,930.6 1649.5,930.8 1650.1,931.7" fill="none" stroke="#029a30" stroke-width="7.5" stroke-linejoin="round" stroke-linecap="butt"/>
<path d="M1468.8,966.4 V472 H1650.1 V966.4" fill="none" stroke="#c6c6c6" stroke-width="3.6"/>
<line x1="1467.3" y1="966.4" x2="1651.6" y2="966.4" stroke="#c3c3c3" stroke-width="4"/>
<line x1="1468.8" y1="966.4" x2="1468.8" y2="983.9" stroke="#c3c3c3" stroke-width="3.3"/>
<line x1="1491.5" y1="966.4" x2="1491.5" y2="980.4" stroke="#c3c3c3" stroke-width="3.3"/>
<line x1="1514.1" y1="966.4" x2="1514.1" y2="980.4" stroke="#c3c3c3" stroke-width="3.3"/>
<line x1="1536.8" y1="966.4" x2="1536.8" y2="980.4" stroke="#c3c3c3" stroke-width="3.3"/>
<line x1="1559.4" y1="966.4" x2="1559.4" y2="983.9" stroke="#c3c3c3" stroke-width="3.3"/>
<line x1="1582.1" y1="966.4" x2="1582.1" y2="980.4" stroke="#c3c3c3" stroke-width="3.3"/>
<line x1="1604.8" y1="966.4" x2="1604.8" y2="980.4" stroke="#c3c3c3" stroke-width="3.3"/>
<line x1="1627.4" y1="966.4" x2="1627.4" y2="980.4" stroke="#c3c3c3" stroke-width="3.3"/>
<line x1="1650.1" y1="966.4" x2="1650.1" y2="983.9" stroke="#c3c3c3" stroke-width="3.3"/>
<g font-family="'Liberation Sans', sans-serif" fill="#111" stroke="#111" stroke-width="0.5" stroke-linejoin="round">
<text transform="translate(1441.95,1052.20) scale(0.9804,1)" font-size="50">75</text>
<text transform="translate(1530.80,1052.20) scale(1.0000,1)" font-size="50">77</text>
<text transform="translate(1622.19,1052.20) scale(1.0059,1)" font-size="50">79</text>
</g>
<polygon points="1577.8,583.3 1607.8,583.3 1592.8,613.5" fill="none" stroke="#000" stroke-width="4.6" stroke-linejoin="miter"/>
<polygon points="1546.6,682.1 1552.5,700.3 1570.6,700.7 1556.2,712.4 1561.4,730.9 1546.6,719.9 1531.8,730.9 1537.0,712.4 1522.6,700.7 1540.7,700.3" fill="#000"/>
<circle cx="1528.6" cy="807.5" r="17.8" fill="#000"/>
</g>
<g id="arrows">
<line x1="378.4" y1="741.5" x2="401.0" y2="1112.5" stroke="#828282" stroke-width="2.9"/>
<polygon points="402.0,1129.5 392.7,1113.0 409.2,1112.0" fill="#828282"/>
<line x1="738.0" y1="855.0" x2="650.4" y2="1114.4" stroke="#828282" stroke-width="2.9"/>
<polygon points="645.0,1130.5 642.6,1111.8 658.3,1117.0" fill="#828282"/>
<line x1="955.7" y1="983.0" x2="867.6" y2="1108.1" stroke="#828282" stroke-width="2.9"/>
<polygon points="857.8,1122.0 860.8,1103.4 874.3,1112.9" fill="#828282"/>
<line x1="1587.5" y1="1070.0" x2="1570.9" y2="1111.2" stroke="#828282" stroke-width="2.9"/>
<polygon points="1564.5,1127.0 1563.2,1108.1 1578.5,1114.3" fill="#828282"/>
</g>
</g>
</svg>
</body>
</html>
